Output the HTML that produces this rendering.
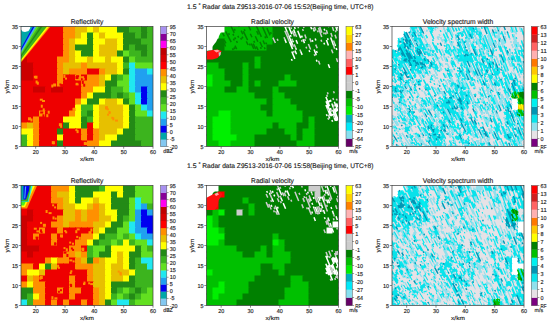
<!DOCTYPE html>
<html><head><meta charset="utf-8"><style>
html,body{margin:0;padding:0;background:#fff;width:550px;height:324px;overflow:hidden}
svg{display:block}
text{font-family:"Liberation Sans", sans-serif;fill:#1a1a1a;stroke:#1a1a1a;stroke-width:0.14px;text-rendering:geometricPrecision}
</style></head><body>
<svg width="550" height="324" viewBox="0 0 550 324">
<defs><filter id="bl" x="0" y="0" width="1" height="1"><feGaussianBlur stdDeviation="0.7"/></filter></defs>
<text x="187.00" y="8.60" font-size="6.7" text-anchor="start" textLength="9.6" lengthAdjust="spacingAndGlyphs">1.5</text>
<text x="198.40" y="6.60" font-size="5.2" text-anchor="start" >°</text>
<text x="202.30" y="8.60" font-size="6.7" text-anchor="start" textLength="171.2" lengthAdjust="spacingAndGlyphs">Radar data Z9513-2016-07-06 15:52(Beijing time, UTC+8)</text>
<clipPath id="clip00"><rect x="21.0" y="26.5" width="132.0" height="120.0"/></clipPath>
<g clip-path="url(#clip00)">
<g><rect x="17.0" y="22.5" width="47.0" height="11.0" fill="#ee0000"/>
<rect x="63.0" y="22.5" width="13.0" height="11.0" fill="#ff9000"/>
<rect x="75.0" y="22.5" width="13.0" height="11.0" fill="#e7c000"/>
<rect x="87.0" y="22.5" width="7.0" height="11.0" fill="#ffff00"/>
<rect x="93.0" y="22.5" width="7.0" height="11.0" fill="#e7c000"/>
<rect x="99.0" y="22.5" width="19.0" height="11.0" fill="#ffff00"/>
<rect x="117.0" y="22.5" width="13.0" height="11.0" fill="#238a16"/>
<rect x="129.0" y="22.5" width="13.0" height="11.0" fill="#3cb41e"/>
<rect x="141.0" y="22.5" width="7.0" height="11.0" fill="#238a16"/>
<rect x="147.0" y="22.5" width="10.0" height="11.0" fill="#3cb41e"/>
<rect x="17.0" y="32.5" width="47.0" height="7.0" fill="#ee0000"/>
<rect x="63.0" y="32.5" width="13.0" height="7.0" fill="#ff9000"/>
<rect x="75.0" y="32.5" width="7.0" height="7.0" fill="#e7c000"/>
<rect x="81.0" y="32.5" width="7.0" height="7.0" fill="#ffff00"/>
<rect x="87.0" y="32.5" width="7.0" height="7.0" fill="#238a16"/>
<rect x="93.0" y="32.5" width="7.0" height="7.0" fill="#ffff00"/>
<rect x="99.0" y="32.5" width="7.0" height="7.0" fill="#e7c000"/>
<rect x="105.0" y="32.5" width="19.0" height="7.0" fill="#ffff00"/>
<rect x="123.0" y="32.5" width="13.0" height="7.0" fill="#238a16"/>
<rect x="135.0" y="32.5" width="7.0" height="7.0" fill="#3cb41e"/>
<rect x="141.0" y="32.5" width="7.0" height="7.0" fill="#238a16"/>
<rect x="147.0" y="32.5" width="10.0" height="7.0" fill="#3cb41e"/>
<rect x="17.0" y="38.5" width="47.0" height="7.0" fill="#ee0000"/>
<rect x="63.0" y="38.5" width="7.0" height="7.0" fill="#ff9000"/>
<rect x="69.0" y="38.5" width="7.0" height="7.0" fill="#e7c000"/>
<rect x="75.0" y="38.5" width="13.0" height="7.0" fill="#ffff00"/>
<rect x="87.0" y="38.5" width="7.0" height="7.0" fill="#238a16"/>
<rect x="93.0" y="38.5" width="13.0" height="7.0" fill="#ffff00"/>
<rect x="105.0" y="38.5" width="13.0" height="7.0" fill="#e7c000"/>
<rect x="117.0" y="38.5" width="7.0" height="7.0" fill="#ffff00"/>
<rect x="123.0" y="38.5" width="19.0" height="7.0" fill="#238a16"/>
<rect x="141.0" y="38.5" width="16.0" height="7.0" fill="#3cb41e"/>
<rect x="17.0" y="44.5" width="47.0" height="7.0" fill="#ee0000"/>
<rect x="63.0" y="44.5" width="7.0" height="7.0" fill="#ff9000"/>
<rect x="69.0" y="44.5" width="7.0" height="7.0" fill="#e7c000"/>
<rect x="75.0" y="44.5" width="19.0" height="7.0" fill="#238a16"/>
<rect x="93.0" y="44.5" width="7.0" height="7.0" fill="#ffff00"/>
<rect x="99.0" y="44.5" width="19.0" height="7.0" fill="#e7c000"/>
<rect x="117.0" y="44.5" width="7.0" height="7.0" fill="#ffff00"/>
<rect x="123.0" y="44.5" width="7.0" height="7.0" fill="#238a16"/>
<rect x="129.0" y="44.5" width="7.0" height="7.0" fill="#3cb41e"/>
<rect x="135.0" y="44.5" width="13.0" height="7.0" fill="#238a16"/>
<rect x="147.0" y="44.5" width="10.0" height="7.0" fill="#3cb41e"/>
<rect x="17.0" y="50.5" width="47.0" height="7.0" fill="#ee0000"/>
<rect x="63.0" y="50.5" width="7.0" height="7.0" fill="#ff9000"/>
<rect x="69.0" y="50.5" width="7.0" height="7.0" fill="#e7c000"/>
<rect x="75.0" y="50.5" width="7.0" height="7.0" fill="#ffff00"/>
<rect x="81.0" y="50.5" width="13.0" height="7.0" fill="#238a16"/>
<rect x="93.0" y="50.5" width="7.0" height="7.0" fill="#ffff00"/>
<rect x="99.0" y="50.5" width="19.0" height="7.0" fill="#e7c000"/>
<rect x="117.0" y="50.5" width="7.0" height="7.0" fill="#238a16"/>
<rect x="123.0" y="50.5" width="7.0" height="7.0" fill="#62e020"/>
<rect x="129.0" y="50.5" width="13.0" height="7.0" fill="#3cb41e"/>
<rect x="141.0" y="50.5" width="7.0" height="7.0" fill="#238a16"/>
<rect x="147.0" y="50.5" width="10.0" height="7.0" fill="#3cb41e"/>
<rect x="17.0" y="56.5" width="11.0" height="7.0" fill="#cc0000"/>
<rect x="27.0" y="56.5" width="31.0" height="7.0" fill="#ee0000"/>
<rect x="57.0" y="56.5" width="13.0" height="7.0" fill="#ff9000"/>
<rect x="69.0" y="56.5" width="7.0" height="7.0" fill="#e7c000"/>
<rect x="75.0" y="56.5" width="13.0" height="7.0" fill="#ffff00"/>
<rect x="87.0" y="56.5" width="7.0" height="7.0" fill="#e7c000"/>
<rect x="93.0" y="56.5" width="13.0" height="7.0" fill="#ffff00"/>
<rect x="105.0" y="56.5" width="7.0" height="7.0" fill="#e7c000"/>
<rect x="111.0" y="56.5" width="13.0" height="7.0" fill="#ffff00"/>
<rect x="123.0" y="56.5" width="7.0" height="7.0" fill="#238a16"/>
<rect x="129.0" y="56.5" width="7.0" height="7.0" fill="#62e020"/>
<rect x="135.0" y="56.5" width="22.0" height="7.0" fill="#3cb41e"/>
<rect x="17.0" y="62.5" width="17.0" height="7.0" fill="#cc0000"/>
<rect x="33.0" y="62.5" width="25.0" height="7.0" fill="#ee0000"/>
<rect x="57.0" y="62.5" width="7.0" height="7.0" fill="#ff9000"/>
<rect x="63.0" y="62.5" width="19.0" height="7.0" fill="#e7c000"/>
<rect x="81.0" y="62.5" width="7.0" height="7.0" fill="#ff9000"/>
<rect x="87.0" y="62.5" width="31.0" height="7.0" fill="#e7c000"/>
<rect x="117.0" y="62.5" width="7.0" height="7.0" fill="#ffff00"/>
<rect x="123.0" y="62.5" width="7.0" height="7.0" fill="#3cb41e"/>
<rect x="129.0" y="62.5" width="7.0" height="7.0" fill="#20e8f0"/>
<rect x="135.0" y="62.5" width="22.0" height="7.0" fill="#62e020"/>
<rect x="17.0" y="68.5" width="17.0" height="7.0" fill="#cc0000"/>
<rect x="33.0" y="68.5" width="25.0" height="7.0" fill="#ee0000"/>
<rect x="57.0" y="68.5" width="7.0" height="7.0" fill="#ff9000"/>
<rect x="63.0" y="68.5" width="7.0" height="7.0" fill="#e7c000"/>
<rect x="69.0" y="68.5" width="19.0" height="7.0" fill="#ff9000"/>
<rect x="87.0" y="68.5" width="13.0" height="7.0" fill="#ee0000"/>
<rect x="99.0" y="68.5" width="7.0" height="7.0" fill="#ff9000"/>
<rect x="105.0" y="68.5" width="13.0" height="7.0" fill="#e7c000"/>
<rect x="117.0" y="68.5" width="7.0" height="7.0" fill="#ffff00"/>
<rect x="123.0" y="68.5" width="7.0" height="7.0" fill="#238a16"/>
<rect x="129.0" y="68.5" width="7.0" height="7.0" fill="#20e8f0"/>
<rect x="135.0" y="68.5" width="13.0" height="7.0" fill="#20a0f0"/>
<rect x="147.0" y="68.5" width="10.0" height="7.0" fill="#20e8f0"/>
<rect x="17.0" y="74.5" width="17.0" height="7.0" fill="#cc0000"/>
<rect x="33.0" y="74.5" width="7.0" height="7.0" fill="#ee0000"/>
<rect x="39.0" y="74.5" width="19.0" height="7.0" fill="#ee0000"/>
<rect x="57.0" y="74.5" width="7.0" height="7.0" fill="#ff9000"/>
<rect x="63.0" y="74.5" width="7.0" height="7.0" fill="#ee0000"/>
<rect x="69.0" y="74.5" width="7.0" height="7.0" fill="#ee0000"/>
<rect x="75.0" y="74.5" width="7.0" height="7.0" fill="#ff9000"/>
<rect x="81.0" y="74.5" width="7.0" height="7.0" fill="#ee0000"/>
<rect x="87.0" y="74.5" width="13.0" height="7.0" fill="#ff9000"/>
<rect x="99.0" y="74.5" width="7.0" height="7.0" fill="#e7c000"/>
<rect x="105.0" y="74.5" width="7.0" height="7.0" fill="#ffff00"/>
<rect x="111.0" y="74.5" width="7.0" height="7.0" fill="#238a16"/>
<rect x="117.0" y="74.5" width="7.0" height="7.0" fill="#3cb41e"/>
<rect x="123.0" y="74.5" width="7.0" height="7.0" fill="#62e020"/>
<rect x="129.0" y="74.5" width="7.0" height="7.0" fill="#20e8f0"/>
<rect x="135.0" y="74.5" width="22.0" height="7.0" fill="#20a0f0"/>
<rect x="17.0" y="80.5" width="17.0" height="7.0" fill="#ee0000"/>
<rect x="33.0" y="80.5" width="7.0" height="7.0" fill="#ee0000"/>
<rect x="39.0" y="80.5" width="13.0" height="7.0" fill="#ee0000"/>
<rect x="51.0" y="80.5" width="7.0" height="7.0" fill="#ee0000"/>
<rect x="57.0" y="80.5" width="7.0" height="7.0" fill="#ff9000"/>
<rect x="63.0" y="80.5" width="13.0" height="7.0" fill="#ee0000"/>
<rect x="75.0" y="80.5" width="7.0" height="7.0" fill="#ee0000"/>
<rect x="81.0" y="80.5" width="7.0" height="7.0" fill="#ff9000"/>
<rect x="87.0" y="80.5" width="13.0" height="7.0" fill="#ff9000"/>
<rect x="99.0" y="80.5" width="7.0" height="7.0" fill="#e7c000"/>
<rect x="105.0" y="80.5" width="13.0" height="7.0" fill="#238a16"/>
<rect x="117.0" y="80.5" width="13.0" height="7.0" fill="#62e020"/>
<rect x="129.0" y="80.5" width="7.0" height="7.0" fill="#20e8f0"/>
<rect x="135.0" y="80.5" width="22.0" height="7.0" fill="#20a0f0"/>
<rect x="17.0" y="86.5" width="17.0" height="7.0" fill="#ee0000"/>
<rect x="33.0" y="86.5" width="13.0" height="7.0" fill="#cc0000"/>
<rect x="45.0" y="86.5" width="7.0" height="7.0" fill="#ee0000"/>
<rect x="51.0" y="86.5" width="13.0" height="7.0" fill="#cc0000"/>
<rect x="63.0" y="86.5" width="19.0" height="7.0" fill="#ee0000"/>
<rect x="81.0" y="86.5" width="13.0" height="7.0" fill="#ff9000"/>
<rect x="93.0" y="86.5" width="13.0" height="7.0" fill="#ffff00"/>
<rect x="105.0" y="86.5" width="7.0" height="7.0" fill="#238a16"/>
<rect x="111.0" y="86.5" width="13.0" height="7.0" fill="#3cb41e"/>
<rect x="123.0" y="86.5" width="7.0" height="7.0" fill="#62e020"/>
<rect x="129.0" y="86.5" width="7.0" height="7.0" fill="#20e8f0"/>
<rect x="135.0" y="86.5" width="7.0" height="7.0" fill="#20a0f0"/>
<rect x="141.0" y="86.5" width="7.0" height="7.0" fill="#0000f0"/>
<rect x="147.0" y="86.5" width="10.0" height="7.0" fill="#20a0f0"/>
<rect x="17.0" y="92.5" width="65.0" height="7.0" fill="#ee0000"/>
<rect x="81.0" y="92.5" width="7.0" height="7.0" fill="#ff9000"/>
<rect x="87.0" y="92.5" width="7.0" height="7.0" fill="#ffff00"/>
<rect x="93.0" y="92.5" width="19.0" height="7.0" fill="#238a16"/>
<rect x="111.0" y="92.5" width="7.0" height="7.0" fill="#3cb41e"/>
<rect x="117.0" y="92.5" width="7.0" height="7.0" fill="#238a16"/>
<rect x="123.0" y="92.5" width="7.0" height="7.0" fill="#3cb41e"/>
<rect x="129.0" y="92.5" width="7.0" height="7.0" fill="#62e020"/>
<rect x="135.0" y="92.5" width="7.0" height="7.0" fill="#20e8f0"/>
<rect x="141.0" y="92.5" width="7.0" height="7.0" fill="#0000f0"/>
<rect x="147.0" y="92.5" width="10.0" height="7.0" fill="#20a0f0"/>
<rect x="17.0" y="98.5" width="23.0" height="7.0" fill="#ee0000"/>
<rect x="39.0" y="98.5" width="7.0" height="7.0" fill="#ee0000"/>
<rect x="45.0" y="98.5" width="31.0" height="7.0" fill="#ee0000"/>
<rect x="75.0" y="98.5" width="7.0" height="7.0" fill="#ff9000"/>
<rect x="81.0" y="98.5" width="7.0" height="7.0" fill="#ffff00"/>
<rect x="87.0" y="98.5" width="13.0" height="7.0" fill="#238a16"/>
<rect x="99.0" y="98.5" width="7.0" height="7.0" fill="#ffff00"/>
<rect x="105.0" y="98.5" width="13.0" height="7.0" fill="#e7c000"/>
<rect x="117.0" y="98.5" width="7.0" height="7.0" fill="#ffff00"/>
<rect x="123.0" y="98.5" width="7.0" height="7.0" fill="#238a16"/>
<rect x="129.0" y="98.5" width="7.0" height="7.0" fill="#62e020"/>
<rect x="135.0" y="98.5" width="7.0" height="7.0" fill="#20e8f0"/>
<rect x="141.0" y="98.5" width="7.0" height="7.0" fill="#0000f0"/>
<rect x="147.0" y="98.5" width="10.0" height="7.0" fill="#20a0f0"/>
<rect x="17.0" y="104.5" width="23.0" height="7.0" fill="#ee0000"/>
<rect x="39.0" y="104.5" width="7.0" height="7.0" fill="#ee0000"/>
<rect x="45.0" y="104.5" width="25.0" height="7.0" fill="#ee0000"/>
<rect x="69.0" y="104.5" width="7.0" height="7.0" fill="#ee0000"/>
<rect x="75.0" y="104.5" width="7.0" height="7.0" fill="#ffff00"/>
<rect x="81.0" y="104.5" width="13.0" height="7.0" fill="#3cb41e"/>
<rect x="93.0" y="104.5" width="7.0" height="7.0" fill="#ffff00"/>
<rect x="99.0" y="104.5" width="7.0" height="7.0" fill="#e7c000"/>
<rect x="105.0" y="104.5" width="7.0" height="7.0" fill="#e7c000"/>
<rect x="111.0" y="104.5" width="13.0" height="7.0" fill="#e7c000"/>
<rect x="123.0" y="104.5" width="7.0" height="7.0" fill="#ffff00"/>
<rect x="129.0" y="104.5" width="7.0" height="7.0" fill="#238a16"/>
<rect x="135.0" y="104.5" width="7.0" height="7.0" fill="#62e020"/>
<rect x="141.0" y="104.5" width="7.0" height="7.0" fill="#20e8f0"/>
<rect x="147.0" y="104.5" width="10.0" height="7.0" fill="#20a0f0"/>
<rect x="17.0" y="110.5" width="23.0" height="7.0" fill="#ee0000"/>
<rect x="39.0" y="110.5" width="7.0" height="7.0" fill="#ff9000"/>
<rect x="45.0" y="110.5" width="7.0" height="7.0" fill="#ee0000"/>
<rect x="51.0" y="110.5" width="19.0" height="7.0" fill="#ee0000"/>
<rect x="69.0" y="110.5" width="7.0" height="7.0" fill="#ff9000"/>
<rect x="75.0" y="110.5" width="7.0" height="7.0" fill="#ffff00"/>
<rect x="81.0" y="110.5" width="7.0" height="7.0" fill="#3cb41e"/>
<rect x="87.0" y="110.5" width="7.0" height="7.0" fill="#238a16"/>
<rect x="93.0" y="110.5" width="7.0" height="7.0" fill="#ffff00"/>
<rect x="99.0" y="110.5" width="7.0" height="7.0" fill="#e7c000"/>
<rect x="105.0" y="110.5" width="7.0" height="7.0" fill="#e7c000"/>
<rect x="111.0" y="110.5" width="13.0" height="7.0" fill="#e7c000"/>
<rect x="123.0" y="110.5" width="7.0" height="7.0" fill="#ffff00"/>
<rect x="129.0" y="110.5" width="7.0" height="7.0" fill="#238a16"/>
<rect x="135.0" y="110.5" width="13.0" height="7.0" fill="#62e020"/>
<rect x="147.0" y="110.5" width="10.0" height="7.0" fill="#20e8f0"/>
<rect x="17.0" y="116.5" width="11.0" height="7.0" fill="#ee0000"/>
<rect x="27.0" y="116.5" width="7.0" height="7.0" fill="#ee0000"/>
<rect x="33.0" y="116.5" width="7.0" height="7.0" fill="#ff9000"/>
<rect x="39.0" y="116.5" width="25.0" height="7.0" fill="#ee0000"/>
<rect x="63.0" y="116.5" width="19.0" height="7.0" fill="#ffff00"/>
<rect x="81.0" y="116.5" width="7.0" height="7.0" fill="#238a16"/>
<rect x="87.0" y="116.5" width="7.0" height="7.0" fill="#3cb41e"/>
<rect x="93.0" y="116.5" width="7.0" height="7.0" fill="#ffff00"/>
<rect x="99.0" y="116.5" width="13.0" height="7.0" fill="#e7c000"/>
<rect x="111.0" y="116.5" width="7.0" height="7.0" fill="#e7c000"/>
<rect x="117.0" y="116.5" width="7.0" height="7.0" fill="#e7c000"/>
<rect x="123.0" y="116.5" width="7.0" height="7.0" fill="#ffff00"/>
<rect x="129.0" y="116.5" width="7.0" height="7.0" fill="#238a16"/>
<rect x="135.0" y="116.5" width="22.0" height="7.0" fill="#3cb41e"/>
<rect x="17.0" y="122.5" width="11.0" height="7.0" fill="#ff9000"/>
<rect x="27.0" y="122.5" width="7.0" height="7.0" fill="#e7c000"/>
<rect x="33.0" y="122.5" width="7.0" height="7.0" fill="#ff9000"/>
<rect x="39.0" y="122.5" width="19.0" height="7.0" fill="#ee0000"/>
<rect x="57.0" y="122.5" width="7.0" height="7.0" fill="#ee0000"/>
<rect x="63.0" y="122.5" width="7.0" height="7.0" fill="#238a16"/>
<rect x="69.0" y="122.5" width="13.0" height="7.0" fill="#ffff00"/>
<rect x="81.0" y="122.5" width="7.0" height="7.0" fill="#238a16"/>
<rect x="87.0" y="122.5" width="7.0" height="7.0" fill="#ee0000"/>
<rect x="93.0" y="122.5" width="7.0" height="7.0" fill="#ffff00"/>
<rect x="99.0" y="122.5" width="25.0" height="7.0" fill="#e7c000"/>
<rect x="123.0" y="122.5" width="7.0" height="7.0" fill="#ffff00"/>
<rect x="129.0" y="122.5" width="7.0" height="7.0" fill="#238a16"/>
<rect x="135.0" y="122.5" width="22.0" height="7.0" fill="#3cb41e"/>
<rect x="17.0" y="128.5" width="17.0" height="7.0" fill="#ffff00"/>
<rect x="33.0" y="128.5" width="7.0" height="7.0" fill="#ff9000"/>
<rect x="39.0" y="128.5" width="19.0" height="7.0" fill="#ee0000"/>
<rect x="57.0" y="128.5" width="7.0" height="7.0" fill="#238a16"/>
<rect x="63.0" y="128.5" width="13.0" height="7.0" fill="#ee0000"/>
<rect x="75.0" y="128.5" width="7.0" height="7.0" fill="#ee0000"/>
<rect x="81.0" y="128.5" width="7.0" height="7.0" fill="#ff9000"/>
<rect x="87.0" y="128.5" width="7.0" height="7.0" fill="#ee0000"/>
<rect x="93.0" y="128.5" width="7.0" height="7.0" fill="#ff9000"/>
<rect x="99.0" y="128.5" width="19.0" height="7.0" fill="#e7c000"/>
<rect x="117.0" y="128.5" width="7.0" height="7.0" fill="#ffff00"/>
<rect x="123.0" y="128.5" width="13.0" height="7.0" fill="#238a16"/>
<rect x="135.0" y="128.5" width="22.0" height="7.0" fill="#3cb41e"/>
<rect x="17.0" y="134.5" width="11.0" height="7.0" fill="#3cb41e"/>
<rect x="27.0" y="134.5" width="7.0" height="7.0" fill="#ffff00"/>
<rect x="33.0" y="134.5" width="7.0" height="7.0" fill="#ff9000"/>
<rect x="39.0" y="134.5" width="19.0" height="7.0" fill="#ee0000"/>
<rect x="57.0" y="134.5" width="7.0" height="7.0" fill="#ffff00"/>
<rect x="63.0" y="134.5" width="19.0" height="7.0" fill="#ee0000"/>
<rect x="81.0" y="134.5" width="7.0" height="7.0" fill="#ff9000"/>
<rect x="87.0" y="134.5" width="7.0" height="7.0" fill="#ee0000"/>
<rect x="93.0" y="134.5" width="7.0" height="7.0" fill="#ff9000"/>
<rect x="99.0" y="134.5" width="7.0" height="7.0" fill="#e7c000"/>
<rect x="105.0" y="134.5" width="13.0" height="7.0" fill="#ffff00"/>
<rect x="117.0" y="134.5" width="19.0" height="7.0" fill="#238a16"/>
<rect x="135.0" y="134.5" width="22.0" height="7.0" fill="#3cb41e"/>
<rect x="17.0" y="140.5" width="11.0" height="10.0" fill="#3cb41e"/>
<rect x="27.0" y="140.5" width="7.0" height="10.0" fill="#ffff00"/>
<rect x="33.0" y="140.5" width="7.0" height="10.0" fill="#ff9000"/>
<rect x="39.0" y="140.5" width="13.0" height="10.0" fill="#ee0000"/>
<rect x="51.0" y="140.5" width="7.0" height="10.0" fill="#ee0000"/>
<rect x="57.0" y="140.5" width="7.0" height="10.0" fill="#238a16"/>
<rect x="63.0" y="140.5" width="19.0" height="10.0" fill="#ee0000"/>
<rect x="81.0" y="140.5" width="7.0" height="10.0" fill="#ee0000"/>
<rect x="87.0" y="140.5" width="13.0" height="10.0" fill="#ff9000"/>
<rect x="99.0" y="140.5" width="13.0" height="10.0" fill="#ffff00"/>
<rect x="111.0" y="140.5" width="31.0" height="10.0" fill="#238a16"/>
<rect x="141.0" y="140.5" width="16.0" height="10.0" fill="#3cb41e"/>
<rect x="33.9" y="75.9" width="2" height="2" fill="#ff9000"/>
<rect x="34.5" y="75.7" width="3" height="3" fill="#ff9000"/>
<rect x="63.4" y="74.9" width="2" height="3" fill="#ff9000"/>
<rect x="65.0" y="77.6" width="2" height="2" fill="#ff9000"/>
<rect x="76.1" y="75.2" width="3" height="2" fill="#ee0000"/>
<rect x="75.5" y="76.0" width="3" height="3" fill="#ee0000"/>
<rect x="81.1" y="76.2" width="3" height="2" fill="#ff9000"/>
<rect x="82.7" y="77.9" width="2" height="2" fill="#ff9000"/>
<rect x="35.6" y="80.5" width="2" height="3" fill="#ff9000"/>
<rect x="36.8" y="81.7" width="2" height="3" fill="#ff9000"/>
<rect x="53.1" y="83.5" width="3" height="3" fill="#ff9000"/>
<rect x="51.3" y="84.5" width="2" height="3" fill="#ff9000"/>
<rect x="60.3" y="84.1" width="3" height="3" fill="#ee0000"/>
<rect x="59.4" y="83.5" width="2" height="2" fill="#ee0000"/>
<rect x="75.6" y="83.4" width="3" height="2" fill="#ff9000"/>
<rect x="75.8" y="82.8" width="2" height="2" fill="#ff9000"/>
<rect x="81.8" y="80.9" width="2" height="3" fill="#ee0000"/>
<rect x="83.2" y="83.7" width="2" height="3" fill="#ee0000"/>
<rect x="39.8" y="98.7" width="3" height="2" fill="#ff9000"/>
<rect x="42.0" y="100.0" width="3" height="2" fill="#ff9000"/>
<rect x="42.7" y="108.4" width="2" height="3" fill="#ff9000"/>
<rect x="40.8" y="104.7" width="2" height="3" fill="#ff9000"/>
<rect x="73.0" y="107.8" width="2" height="2" fill="#ff9000"/>
<rect x="72.5" y="107.9" width="3" height="3" fill="#ff9000"/>
<rect x="105.0" y="106.2" width="3" height="3" fill="#ff9000"/>
<rect x="105.6" y="106.7" width="2" height="3" fill="#ff9000"/>
<rect x="106.9" y="108.3" width="2" height="2" fill="#ff9000"/>
<rect x="40.2" y="111.5" width="3" height="2" fill="#ee0000"/>
<rect x="42.4" y="114.3" width="2" height="3" fill="#ee0000"/>
<rect x="47.7" y="110.7" width="2" height="3" fill="#ff9000"/>
<rect x="46.3" y="114.2" width="2" height="3" fill="#ff9000"/>
<rect x="108.5" y="111.0" width="2" height="2" fill="#ff9000"/>
<rect x="108.6" y="112.0" width="2" height="2" fill="#ff9000"/>
<rect x="107.1" y="113.7" width="2" height="2" fill="#ff9000"/>
<rect x="28.0" y="117.3" width="3" height="3" fill="#ff9000"/>
<rect x="30.5" y="118.5" width="2" height="3" fill="#ff9000"/>
<rect x="115.0" y="119.6" width="3" height="2" fill="#ff9000"/>
<rect x="111.3" y="116.8" width="2" height="2" fill="#ff9000"/>
<rect x="112.3" y="117.3" width="2" height="3" fill="#ff9000"/>
<rect x="58.9" y="123.2" width="3" height="3" fill="#ff9000"/>
<rect x="60.1" y="124.8" width="2" height="3" fill="#ff9000"/>
<rect x="75.4" y="129.1" width="2" height="2" fill="#ff9000"/>
<rect x="76.6" y="130.1" width="2" height="3" fill="#ff9000"/>
<rect x="52.6" y="142.3" width="2" height="2" fill="#ff9000"/>
<rect x="51.8" y="141.1" width="3" height="3" fill="#ff9000"/>
<rect x="83.8" y="141.9" width="3" height="3" fill="#ff9000"/>
<rect x="84.1" y="143.0" width="3" height="2" fill="#ff9000"/><g transform="translate(21.0,26.5)"><polygon fill="#ff9000" points="-3,-3 31.96,-3 -3,39.66"/><polygon fill="#ffff00" points="-3,-3 30.40,-3 -3,38.75"/><polygon fill="#3cb41e" points="-3,-3 28.36,-3 -3,36.81"/><polygon fill="#238a16" points="-3,-3 23.61,-3 -3,34.76"/><polygon fill="#3cb41e" points="-3,-3 21.52,-3 -3,33.46"/><polygon fill="#62e020" points="-3,-3 19.39,-3 -3,32.57"/><polygon fill="#40b0f0" points="-3,-3 17.25,-3 -3,31.63"/><polygon fill="#0000f0" points="-3,-3 15.19,-3 -3,29.33"/><polygon fill="#00a8a8" points="-3,-3 13.64,-3 -3,27.50"/><polygon fill="#ffffff" points="-2,-2 10,-2 9,2 7.5,4.5 4,5.5 1.5,5 0,3 -2,3"/></g></g>
</g>
<rect x="21.0" y="26.5" width="132.0" height="120.0" fill="none" stroke="#3a3a3a" stroke-width="0.7"/>
<text x="87.00" y="23.80" font-size="6.8" text-anchor="middle" textLength="32.66" lengthAdjust="spacingAndGlyphs" >Reflectivity</text>
<line x1="35.67" y1="146.5" x2="35.67" y2="148.7" stroke="#3a3a3a" stroke-width="0.6"/>
<text x="35.67" y="153.60" font-size="5.7" text-anchor="middle" textLength="6.04" lengthAdjust="spacingAndGlyphs" >20</text>
<line x1="65.00" y1="146.5" x2="65.00" y2="148.7" stroke="#3a3a3a" stroke-width="0.6"/>
<text x="65.00" y="153.60" font-size="5.7" text-anchor="middle" textLength="6.04" lengthAdjust="spacingAndGlyphs" >30</text>
<line x1="94.33" y1="146.5" x2="94.33" y2="148.7" stroke="#3a3a3a" stroke-width="0.6"/>
<text x="94.33" y="153.60" font-size="5.7" text-anchor="middle" textLength="6.04" lengthAdjust="spacingAndGlyphs" >40</text>
<line x1="123.67" y1="146.5" x2="123.67" y2="148.7" stroke="#3a3a3a" stroke-width="0.6"/>
<text x="123.67" y="153.60" font-size="5.7" text-anchor="middle" textLength="6.04" lengthAdjust="spacingAndGlyphs" >50</text>
<line x1="153.00" y1="146.5" x2="153.00" y2="148.7" stroke="#3a3a3a" stroke-width="0.6"/>
<text x="153.00" y="153.60" font-size="5.7" text-anchor="middle" textLength="6.04" lengthAdjust="spacingAndGlyphs" >60</text>
<text x="87.00" y="161.40" font-size="5.7" text-anchor="middle" textLength="13.80" lengthAdjust="spacingAndGlyphs" >x/km</text>
<line x1="18.80" y1="146.50" x2="21.0" y2="146.50" stroke="#3a3a3a" stroke-width="0.6"/>
<text x="18.00" y="148.50" font-size="5.7" text-anchor="end" textLength="3.02" lengthAdjust="spacingAndGlyphs" >5</text>
<line x1="18.80" y1="126.50" x2="21.0" y2="126.50" stroke="#3a3a3a" stroke-width="0.6"/>
<text x="18.00" y="128.50" font-size="5.7" text-anchor="end" textLength="6.04" lengthAdjust="spacingAndGlyphs" >10</text>
<line x1="18.80" y1="106.50" x2="21.0" y2="106.50" stroke="#3a3a3a" stroke-width="0.6"/>
<text x="18.00" y="108.50" font-size="5.7" text-anchor="end" textLength="6.04" lengthAdjust="spacingAndGlyphs" >15</text>
<line x1="18.80" y1="86.50" x2="21.0" y2="86.50" stroke="#3a3a3a" stroke-width="0.6"/>
<text x="18.00" y="88.50" font-size="5.7" text-anchor="end" textLength="6.04" lengthAdjust="spacingAndGlyphs" >20</text>
<line x1="18.80" y1="66.50" x2="21.0" y2="66.50" stroke="#3a3a3a" stroke-width="0.6"/>
<text x="18.00" y="68.50" font-size="5.7" text-anchor="end" textLength="6.04" lengthAdjust="spacingAndGlyphs" >25</text>
<line x1="18.80" y1="46.50" x2="21.0" y2="46.50" stroke="#3a3a3a" stroke-width="0.6"/>
<text x="18.00" y="48.50" font-size="5.7" text-anchor="end" textLength="6.04" lengthAdjust="spacingAndGlyphs" >30</text>
<line x1="18.80" y1="26.50" x2="21.0" y2="26.50" stroke="#3a3a3a" stroke-width="0.6"/>
<text x="18.00" y="28.50" font-size="5.7" text-anchor="end" textLength="6.04" lengthAdjust="spacingAndGlyphs" >35</text>
<text x="0.00" y="0.00" font-size="5.7" text-anchor="middle" textLength="13.80" lengthAdjust="spacingAndGlyphs" transform="translate(8.70,86.50) rotate(-90)">y/km</text>
<rect x="160.5" y="139.44" width="6.3" height="7.31" fill="#84c8f0"/>
<rect x="160.5" y="132.38" width="6.3" height="7.31" fill="#00a8a8"/>
<rect x="160.5" y="125.32" width="6.3" height="7.31" fill="#0000f0"/>
<rect x="160.5" y="118.26" width="6.3" height="7.31" fill="#20a0f0"/>
<rect x="160.5" y="111.21" width="6.3" height="7.31" fill="#20e8f0"/>
<rect x="160.5" y="104.15" width="6.3" height="7.31" fill="#62e020"/>
<rect x="160.5" y="97.09" width="6.3" height="7.31" fill="#3cb41e"/>
<rect x="160.5" y="90.03" width="6.3" height="7.31" fill="#238a16"/>
<rect x="160.5" y="82.97" width="6.3" height="7.31" fill="#ffff00"/>
<rect x="160.5" y="75.91" width="6.3" height="7.31" fill="#e7c000"/>
<rect x="160.5" y="68.85" width="6.3" height="7.31" fill="#ff9000"/>
<rect x="160.5" y="61.79" width="6.3" height="7.31" fill="#ff0000"/>
<rect x="160.5" y="54.74" width="6.3" height="7.31" fill="#d80000"/>
<rect x="160.5" y="47.68" width="6.3" height="7.31" fill="#c00000"/>
<rect x="160.5" y="40.62" width="6.3" height="7.31" fill="#ff00f0"/>
<rect x="160.5" y="33.56" width="6.3" height="7.31" fill="#880099"/>
<rect x="160.5" y="26.50" width="6.3" height="7.31" fill="#a890f0"/>
<rect x="160.5" y="26.5" width="6.3" height="120.0" fill="none" stroke="#555" stroke-width="0.5"/>
<line x1="166.8" y1="146.50" x2="168.60" y2="146.50" stroke="#3a3a3a" stroke-width="0.5"/>
<text x="169.80" y="148.50" font-size="5.7" text-anchor="start" textLength="7.76" lengthAdjust="spacingAndGlyphs" >-20</text>
<line x1="166.8" y1="139.44" x2="168.60" y2="139.44" stroke="#3a3a3a" stroke-width="0.5"/>
<text x="169.80" y="141.44" font-size="5.7" text-anchor="start" textLength="4.74" lengthAdjust="spacingAndGlyphs" >-5</text>
<line x1="166.8" y1="132.38" x2="168.60" y2="132.38" stroke="#3a3a3a" stroke-width="0.5"/>
<text x="169.80" y="134.38" font-size="5.7" text-anchor="start" textLength="3.02" lengthAdjust="spacingAndGlyphs" >0</text>
<line x1="166.8" y1="125.32" x2="168.60" y2="125.32" stroke="#3a3a3a" stroke-width="0.5"/>
<text x="169.80" y="127.32" font-size="5.7" text-anchor="start" textLength="3.02" lengthAdjust="spacingAndGlyphs" >5</text>
<line x1="166.8" y1="118.26" x2="168.60" y2="118.26" stroke="#3a3a3a" stroke-width="0.5"/>
<text x="169.80" y="120.26" font-size="5.7" text-anchor="start" textLength="6.04" lengthAdjust="spacingAndGlyphs" >10</text>
<line x1="166.8" y1="111.21" x2="168.60" y2="111.21" stroke="#3a3a3a" stroke-width="0.5"/>
<text x="169.80" y="113.21" font-size="5.7" text-anchor="start" textLength="6.04" lengthAdjust="spacingAndGlyphs" >15</text>
<line x1="166.8" y1="104.15" x2="168.60" y2="104.15" stroke="#3a3a3a" stroke-width="0.5"/>
<text x="169.80" y="106.15" font-size="5.7" text-anchor="start" textLength="6.04" lengthAdjust="spacingAndGlyphs" >20</text>
<line x1="166.8" y1="97.09" x2="168.60" y2="97.09" stroke="#3a3a3a" stroke-width="0.5"/>
<text x="169.80" y="99.09" font-size="5.7" text-anchor="start" textLength="6.04" lengthAdjust="spacingAndGlyphs" >25</text>
<line x1="166.8" y1="90.03" x2="168.60" y2="90.03" stroke="#3a3a3a" stroke-width="0.5"/>
<text x="169.80" y="92.03" font-size="5.7" text-anchor="start" textLength="6.04" lengthAdjust="spacingAndGlyphs" >30</text>
<line x1="166.8" y1="82.97" x2="168.60" y2="82.97" stroke="#3a3a3a" stroke-width="0.5"/>
<text x="169.80" y="84.97" font-size="5.7" text-anchor="start" textLength="6.04" lengthAdjust="spacingAndGlyphs" >35</text>
<line x1="166.8" y1="75.91" x2="168.60" y2="75.91" stroke="#3a3a3a" stroke-width="0.5"/>
<text x="169.80" y="77.91" font-size="5.7" text-anchor="start" textLength="6.04" lengthAdjust="spacingAndGlyphs" >40</text>
<line x1="166.8" y1="68.85" x2="168.60" y2="68.85" stroke="#3a3a3a" stroke-width="0.5"/>
<text x="169.80" y="70.85" font-size="5.7" text-anchor="start" textLength="6.04" lengthAdjust="spacingAndGlyphs" >45</text>
<line x1="166.8" y1="61.79" x2="168.60" y2="61.79" stroke="#3a3a3a" stroke-width="0.5"/>
<text x="169.80" y="63.79" font-size="5.7" text-anchor="start" textLength="6.04" lengthAdjust="spacingAndGlyphs" >50</text>
<line x1="166.8" y1="54.74" x2="168.60" y2="54.74" stroke="#3a3a3a" stroke-width="0.5"/>
<text x="169.80" y="56.74" font-size="5.7" text-anchor="start" textLength="6.04" lengthAdjust="spacingAndGlyphs" >55</text>
<line x1="166.8" y1="47.68" x2="168.60" y2="47.68" stroke="#3a3a3a" stroke-width="0.5"/>
<text x="169.80" y="49.68" font-size="5.7" text-anchor="start" textLength="6.04" lengthAdjust="spacingAndGlyphs" >60</text>
<line x1="166.8" y1="40.62" x2="168.60" y2="40.62" stroke="#3a3a3a" stroke-width="0.5"/>
<text x="169.80" y="42.62" font-size="5.7" text-anchor="start" textLength="6.04" lengthAdjust="spacingAndGlyphs" >65</text>
<line x1="166.8" y1="33.56" x2="168.60" y2="33.56" stroke="#3a3a3a" stroke-width="0.5"/>
<text x="169.80" y="35.56" font-size="5.7" text-anchor="start" textLength="6.04" lengthAdjust="spacingAndGlyphs" >70</text>
<line x1="166.8" y1="26.50" x2="168.60" y2="26.50" stroke="#3a3a3a" stroke-width="0.5"/>
<text x="169.80" y="28.50" font-size="5.7" text-anchor="start" textLength="6.04" lengthAdjust="spacingAndGlyphs" >95</text>
<text x="168.00" y="152.80" font-size="5.7" text-anchor="middle" textLength="9.43" lengthAdjust="spacingAndGlyphs" >dBZ</text>
<clipPath id="clip01"><rect x="206.5" y="26.5" width="132.0" height="120.0"/></clipPath>
<g clip-path="url(#clip01)">
<g><rect x="202.5" y="22.5" width="23.0" height="11.0" fill="#ffffff"/>
<rect x="224.5" y="22.5" width="49.0" height="11.0" fill="#00c000"/>
<rect x="272.5" y="22.5" width="13.0" height="11.0" fill="#008000"/>
<rect x="284.5" y="22.5" width="58.0" height="11.0" fill="#008000"/>
<rect x="202.5" y="32.5" width="17.0" height="7.0" fill="#ffffff"/>
<rect x="218.5" y="32.5" width="55.0" height="7.0" fill="#00c000"/>
<rect x="272.5" y="32.5" width="13.0" height="7.0" fill="#008000"/>
<rect x="284.5" y="32.5" width="7.0" height="7.0" fill="#008000"/>
<rect x="290.5" y="32.5" width="13.0" height="7.0" fill="#008000"/>
<rect x="302.5" y="32.5" width="7.0" height="7.0" fill="#008000"/>
<rect x="308.5" y="32.5" width="7.0" height="7.0" fill="#008000"/>
<rect x="314.5" y="32.5" width="7.0" height="7.0" fill="#008000"/>
<rect x="320.5" y="32.5" width="13.0" height="7.0" fill="#008000"/>
<rect x="332.5" y="32.5" width="10.0" height="7.0" fill="#008000"/>
<rect x="202.5" y="38.5" width="11.0" height="7.0" fill="#ffffff"/>
<rect x="212.5" y="38.5" width="13.0" height="7.0" fill="#008000"/>
<rect x="224.5" y="38.5" width="49.0" height="7.0" fill="#00c000"/>
<rect x="272.5" y="38.5" width="7.0" height="7.0" fill="#008000"/>
<rect x="278.5" y="38.5" width="7.0" height="7.0" fill="#008000"/>
<rect x="284.5" y="38.5" width="58.0" height="7.0" fill="#008000"/>
<rect x="202.5" y="44.5" width="11.0" height="7.0" fill="#ffffff"/>
<rect x="212.5" y="44.5" width="13.0" height="7.0" fill="#008000"/>
<rect x="224.5" y="44.5" width="43.0" height="7.0" fill="#00c000"/>
<rect x="266.5" y="44.5" width="19.0" height="7.0" fill="#008000"/>
<rect x="284.5" y="44.5" width="7.0" height="7.0" fill="#008000"/>
<rect x="290.5" y="44.5" width="13.0" height="7.0" fill="#008000"/>
<rect x="302.5" y="44.5" width="7.0" height="7.0" fill="#008000"/>
<rect x="308.5" y="44.5" width="34.0" height="7.0" fill="#008000"/>
<rect x="202.5" y="50.5" width="83.0" height="7.0" fill="#008000"/>
<rect x="284.5" y="50.5" width="31.0" height="7.0" fill="#008000"/>
<rect x="314.5" y="50.5" width="7.0" height="7.0" fill="#008000"/>
<rect x="320.5" y="50.5" width="22.0" height="7.0" fill="#008000"/>
<rect x="202.5" y="56.5" width="53.0" height="7.0" fill="#008000"/>
<rect x="254.5" y="56.5" width="7.0" height="7.0" fill="#00c000"/>
<rect x="260.5" y="56.5" width="31.0" height="7.0" fill="#008000"/>
<rect x="290.5" y="56.5" width="13.0" height="7.0" fill="#008000"/>
<rect x="302.5" y="56.5" width="7.0" height="7.0" fill="#008000"/>
<rect x="308.5" y="56.5" width="34.0" height="7.0" fill="#008000"/>
<rect x="202.5" y="62.5" width="17.0" height="7.0" fill="#00c000"/>
<rect x="218.5" y="62.5" width="25.0" height="7.0" fill="#008000"/>
<rect x="242.5" y="62.5" width="7.0" height="7.0" fill="#00c000"/>
<rect x="248.5" y="62.5" width="7.0" height="7.0" fill="#008000"/>
<rect x="254.5" y="62.5" width="7.0" height="7.0" fill="#00c000"/>
<rect x="260.5" y="62.5" width="55.0" height="7.0" fill="#008000"/>
<rect x="314.5" y="62.5" width="7.0" height="7.0" fill="#008000"/>
<rect x="320.5" y="62.5" width="7.0" height="7.0" fill="#008000"/>
<rect x="326.5" y="62.5" width="7.0" height="7.0" fill="#008000"/>
<rect x="332.5" y="62.5" width="10.0" height="7.0" fill="#008000"/>
<rect x="202.5" y="68.5" width="23.0" height="7.0" fill="#00c000"/>
<rect x="224.5" y="68.5" width="19.0" height="7.0" fill="#008000"/>
<rect x="242.5" y="68.5" width="7.0" height="7.0" fill="#00c000"/>
<rect x="248.5" y="68.5" width="94.0" height="7.0" fill="#008000"/>
<rect x="202.5" y="74.5" width="11.0" height="7.0" fill="#00f000"/>
<rect x="212.5" y="74.5" width="13.0" height="7.0" fill="#00c000"/>
<rect x="224.5" y="74.5" width="19.0" height="7.0" fill="#008000"/>
<rect x="242.5" y="74.5" width="7.0" height="7.0" fill="#00c000"/>
<rect x="248.5" y="74.5" width="37.0" height="7.0" fill="#008000"/>
<rect x="284.5" y="74.5" width="7.0" height="7.0" fill="#00c000"/>
<rect x="290.5" y="74.5" width="52.0" height="7.0" fill="#008000"/>
<rect x="202.5" y="80.5" width="11.0" height="7.0" fill="#00f000"/>
<rect x="212.5" y="80.5" width="19.0" height="7.0" fill="#00c000"/>
<rect x="230.5" y="80.5" width="13.0" height="7.0" fill="#008000"/>
<rect x="242.5" y="80.5" width="7.0" height="7.0" fill="#00c000"/>
<rect x="248.5" y="80.5" width="7.0" height="7.0" fill="#008000"/>
<rect x="254.5" y="80.5" width="7.0" height="7.0" fill="#00c000"/>
<rect x="260.5" y="80.5" width="19.0" height="7.0" fill="#008000"/>
<rect x="278.5" y="80.5" width="19.0" height="7.0" fill="#00c000"/>
<rect x="296.5" y="80.5" width="46.0" height="7.0" fill="#008000"/>
<rect x="202.5" y="86.5" width="23.0" height="7.0" fill="#00c000"/>
<rect x="224.5" y="86.5" width="13.0" height="7.0" fill="#008000"/>
<rect x="236.5" y="86.5" width="13.0" height="7.0" fill="#00c000"/>
<rect x="248.5" y="86.5" width="25.0" height="7.0" fill="#008000"/>
<rect x="272.5" y="86.5" width="7.0" height="7.0" fill="#00c000"/>
<rect x="278.5" y="86.5" width="64.0" height="7.0" fill="#008000"/>
<rect x="202.5" y="92.5" width="53.0" height="7.0" fill="#00c000"/>
<rect x="254.5" y="92.5" width="19.0" height="7.0" fill="#008000"/>
<rect x="272.5" y="92.5" width="13.0" height="7.0" fill="#00c000"/>
<rect x="284.5" y="92.5" width="43.0" height="7.0" fill="#008000"/>
<rect x="326.5" y="92.5" width="16.0" height="7.0" fill="#008000"/>
<rect x="202.5" y="98.5" width="65.0" height="7.0" fill="#00c000"/>
<rect x="266.5" y="98.5" width="7.0" height="7.0" fill="#008000"/>
<rect x="272.5" y="98.5" width="19.0" height="7.0" fill="#00c000"/>
<rect x="290.5" y="98.5" width="37.0" height="7.0" fill="#008000"/>
<rect x="326.5" y="98.5" width="7.0" height="7.0" fill="#008000"/>
<rect x="332.5" y="98.5" width="10.0" height="7.0" fill="#008000"/>
<rect x="202.5" y="104.5" width="59.0" height="7.0" fill="#00c000"/>
<rect x="260.5" y="104.5" width="13.0" height="7.0" fill="#008000"/>
<rect x="272.5" y="104.5" width="25.0" height="7.0" fill="#00c000"/>
<rect x="296.5" y="104.5" width="31.0" height="7.0" fill="#008000"/>
<rect x="326.5" y="104.5" width="16.0" height="7.0" fill="#008000"/>
<rect x="202.5" y="110.5" width="17.0" height="7.0" fill="#00c000"/>
<rect x="218.5" y="110.5" width="13.0" height="7.0" fill="#00f000"/>
<rect x="230.5" y="110.5" width="37.0" height="7.0" fill="#00c000"/>
<rect x="266.5" y="110.5" width="7.0" height="7.0" fill="#008000"/>
<rect x="272.5" y="110.5" width="31.0" height="7.0" fill="#00c000"/>
<rect x="302.5" y="110.5" width="25.0" height="7.0" fill="#008000"/>
<rect x="326.5" y="110.5" width="16.0" height="7.0" fill="#008000"/>
<rect x="202.5" y="116.5" width="11.0" height="7.0" fill="#00c000"/>
<rect x="212.5" y="116.5" width="19.0" height="7.0" fill="#00f000"/>
<rect x="230.5" y="116.5" width="73.0" height="7.0" fill="#00c000"/>
<rect x="302.5" y="116.5" width="7.0" height="7.0" fill="#008000"/>
<rect x="308.5" y="116.5" width="7.0" height="7.0" fill="#00c000"/>
<rect x="314.5" y="116.5" width="13.0" height="7.0" fill="#008000"/>
<rect x="326.5" y="116.5" width="7.0" height="7.0" fill="#008000"/>
<rect x="332.5" y="116.5" width="10.0" height="7.0" fill="#008000"/>
<rect x="202.5" y="122.5" width="11.0" height="7.0" fill="#00c000"/>
<rect x="212.5" y="122.5" width="19.0" height="7.0" fill="#00f000"/>
<rect x="230.5" y="122.5" width="43.0" height="7.0" fill="#00c000"/>
<rect x="272.5" y="122.5" width="7.0" height="7.0" fill="#008000"/>
<rect x="278.5" y="122.5" width="19.0" height="7.0" fill="#00c000"/>
<rect x="296.5" y="122.5" width="13.0" height="7.0" fill="#008000"/>
<rect x="308.5" y="122.5" width="7.0" height="7.0" fill="#00c000"/>
<rect x="314.5" y="122.5" width="28.0" height="7.0" fill="#008000"/>
<rect x="202.5" y="128.5" width="11.0" height="7.0" fill="#00c000"/>
<rect x="212.5" y="128.5" width="19.0" height="7.0" fill="#00f000"/>
<rect x="230.5" y="128.5" width="37.0" height="7.0" fill="#00c000"/>
<rect x="266.5" y="128.5" width="19.0" height="7.0" fill="#008000"/>
<rect x="284.5" y="128.5" width="13.0" height="7.0" fill="#00c000"/>
<rect x="296.5" y="128.5" width="7.0" height="7.0" fill="#008000"/>
<rect x="302.5" y="128.5" width="13.0" height="7.0" fill="#00c000"/>
<rect x="314.5" y="128.5" width="28.0" height="7.0" fill="#008000"/>
<rect x="202.5" y="134.5" width="11.0" height="7.0" fill="#00c000"/>
<rect x="212.5" y="134.5" width="25.0" height="7.0" fill="#00f000"/>
<rect x="236.5" y="134.5" width="19.0" height="7.0" fill="#00c000"/>
<rect x="254.5" y="134.5" width="37.0" height="7.0" fill="#008000"/>
<rect x="290.5" y="134.5" width="7.0" height="7.0" fill="#00c000"/>
<rect x="296.5" y="134.5" width="7.0" height="7.0" fill="#008000"/>
<rect x="302.5" y="134.5" width="13.0" height="7.0" fill="#00c000"/>
<rect x="314.5" y="134.5" width="28.0" height="7.0" fill="#008000"/>
<rect x="202.5" y="140.5" width="17.0" height="10.0" fill="#00c000"/>
<rect x="218.5" y="140.5" width="13.0" height="10.0" fill="#00f000"/>
<rect x="230.5" y="140.5" width="25.0" height="10.0" fill="#00c000"/>
<rect x="254.5" y="140.5" width="43.0" height="10.0" fill="#008000"/>
<rect x="296.5" y="140.5" width="19.0" height="10.0" fill="#00c000"/>
<rect x="314.5" y="140.5" width="28.0" height="10.0" fill="#008000"/><g transform="translate(206.5,26.5)"><polygon fill="#ffffff" points="-2,-2 17,-2 17,0 14.5,5.5 12.5,9.5 9.5,15.5 5.5,20.5 1.5,24 -2,24.5"/><polygon fill="#ff1010" points="0,25 6,23.5 11,23 15,24.5 14,28 11,31.5 6,33 0,33"/><polygon fill="#ffa0a0" points="7,23.8 11,23.2 13.5,24.5 10,26"/><polygon fill="#c8c8c8" points="12,26 14.5,25.5 14,28.5 12.5,30"/></g></g>
<path d="M225.6 46.5L223.8 42.9M226.0 43.4L224.1 39.8M224.3 36.4L222.5 32.8M233.3 50.1L232.4 48.3M234.8 49.2L233.9 47.4M231.2 42.1L225.7 31.4M236.7 49.1L234.9 45.6M229.5 34.9L228.6 33.1M234.3 40.5L233.4 38.7M237.4 42.8L236.5 41.0M235.6 39.2L234.7 37.4M233.8 35.6L232.9 33.8M229.3 26.7L228.4 24.9M234.3 32.8L230.7 25.6M238.7 37.7L237.8 35.9M235.2 30.6L234.3 28.8M241.6 39.7L240.7 37.9M242.9 38.4L242.1 36.6M248.1 45.0L246.3 41.4M242.8 34.2L241.1 30.6M239.3 27.0L238.4 25.2M250.3 45.5L249.4 43.7M247.6 40.1L243.3 31.1M253.8 48.9L251.2 43.5M245.1 30.9L244.2 29.1M255.8 49.1L253.2 43.7M258.1 50.0L256.3 46.3M254.6 42.7L253.8 40.9M252.0 37.3L250.3 33.7M250.7 30.4L248.1 25.0M261.3 48.9L260.4 47.1M257.9 41.7L255.3 36.2M262.4 47.3L259.9 41.9M265.1 49.1L264.3 47.3M258.4 34.6L256.7 31.0M264.7 44.2L263.0 40.5M261.4 36.9L256.3 26.0M266.6 44.3L265.8 42.5M265.7 38.2L264.9 36.4M267.5 38.0L262.6 27.1M270.1 35.4L266.9 28.1M271.3 33.9L270.5 32.1" stroke="#008000" stroke-width="1.5" fill="none"/>
<path d="M275.4 43.0L272.9 37.6M278.0 40.7L277.2 38.9M284.8 39.2L284.0 37.3M294.1 52.8L293.4 50.9M289.5 41.7L284.8 30.7M293.4 46.8L292.6 44.9M288.8 35.7L287.2 32.0M295.7 47.9L294.1 44.2M292.6 40.5L291.8 38.7M287.3 27.6L286.5 25.7M328.7 119.7L327.9 117.9M300.6 51.2L299.9 49.4M294.6 36.4L292.3 30.9M291.5 29.0L290.8 27.2M329.0 116.6L328.2 114.7M296.6 36.9L295.1 33.2M328.2 110.6L327.4 108.7M302.2 41.8L301.5 40.0M296.2 27.0L295.5 25.1M334.1 117.4L333.3 115.5M331.8 111.8L331.1 110.0M306.7 48.6L306.0 46.8M298.6 28.2L297.8 26.3M327.5 96.7L326.7 94.8M305.4 40.9L304.7 39.0M334.0 109.1L333.2 107.2M328.1 94.2L327.4 92.3M310.6 49.5L308.4 43.9M306.2 38.4L304.8 34.6M303.3 30.9L302.6 29.0M334.5 106.4L333.8 104.5M314.9 56.0L314.2 54.2M304.0 28.1L303.3 26.2M333.6 99.9L332.9 98.1M319.9 64.5L318.5 60.8M311.3 42.1L309.8 38.4M337.1 100.6L336.4 98.8M334.3 93.2L333.5 91.3M317.2 48.3L315.7 44.6M313.7 29.7L313.0 27.8M315.8 30.5L313.7 24.8M321.7 41.7L321.0 39.8M318.2 32.3L317.5 30.4M321.8 37.1L318.4 27.7M321.9 32.7L319.2 25.2M324.3 34.3L323.6 32.4M321.6 26.8L320.9 24.9M332.9 53.2L331.5 49.5M326.1 34.4L325.4 32.5M337.7 62.0L336.4 58.2M327.6 33.7L326.3 30.0M334.7 48.8L333.4 45.1M334.9 44.2L333.5 40.4M332.2 36.7L330.9 32.9M328.9 27.2L328.2 25.3M336.3 38.5L335.0 34.7M333.7 30.9L332.4 27.1M336.0 32.3L335.3 30.4M335.9 26.9L335.2 25.0" stroke="#cccccc" stroke-width="1.5" fill="none"/>
<path d="M292.2 60.8L291.4 59.0M286.3 42.9L284.8 39.2M294.9 58.9L291.8 51.5M292.6 49.1L289.5 41.7M296.5 54.2L295.0 50.5M292.6 44.9L288.8 35.7M287.2 32.0L284.9 26.5M296.4 49.7L295.7 47.9M293.4 42.3L292.6 40.5M291.1 36.8L290.3 35.0M291.8 34.1L288.0 24.8M327.1 116.0L326.4 114.2M302.2 54.9L300.6 51.2M297.6 43.8L296.1 40.1M329.7 118.4L329.0 116.6M295.1 33.2L293.6 29.5M332.6 121.7L331.9 119.9M330.4 116.2L328.2 110.6M327.4 108.7L325.9 105.0M295.2 29.0L294.5 27.1M331.9 116.1L326.0 101.2M300.7 38.1L297.7 30.7M335.5 121.1L334.1 117.4M333.3 115.5L332.6 113.7M331.1 110.0L330.4 108.1M329.6 106.2L325.9 96.9M304.5 43.1L303.0 39.3M302.3 37.5L301.5 35.6M337.0 120.9L332.6 109.7M329.7 102.3L328.9 100.4M309.8 52.1L309.1 50.2M338.3 120.3L334.0 109.1M333.2 107.2L331.8 103.5M331.0 101.7L330.3 99.8M336.7 111.9L335.2 108.2M317.1 61.6L316.3 59.8M337.9 111.1L334.3 101.8M316.3 55.2L314.1 49.6M338.0 107.1L336.5 103.4M317.2 52.9L316.5 51.1M312.9 41.7L312.2 39.9M315.9 40.4L315.2 38.5M311.7 29.2L310.3 25.4M314.4 31.6L313.7 29.7M329.7 68.0L328.3 64.2M324.6 44.6L323.9 42.8M328.4 45.6L326.4 40.0M328.1 40.0L327.5 38.2M324.8 30.6L324.1 28.8M333.4 45.1L330.7 37.5M336.8 49.9L336.2 48.0M335.5 46.1L334.9 44.2M337.2 30.7L335.9 26.9M338.2 28.5L336.9 24.7" stroke="#ffffff" stroke-width="1.5" fill="none"/>
</g>
<rect x="206.5" y="26.5" width="132.0" height="120.0" fill="none" stroke="#3a3a3a" stroke-width="0.7"/>
<text x="272.50" y="23.80" font-size="6.8" text-anchor="middle" textLength="42.79" lengthAdjust="spacingAndGlyphs" >Radial velocity</text>
<line x1="221.17" y1="146.5" x2="221.17" y2="148.7" stroke="#3a3a3a" stroke-width="0.6"/>
<text x="221.17" y="153.60" font-size="5.7" text-anchor="middle" textLength="6.04" lengthAdjust="spacingAndGlyphs" >20</text>
<line x1="250.50" y1="146.5" x2="250.50" y2="148.7" stroke="#3a3a3a" stroke-width="0.6"/>
<text x="250.50" y="153.60" font-size="5.7" text-anchor="middle" textLength="6.04" lengthAdjust="spacingAndGlyphs" >30</text>
<line x1="279.83" y1="146.5" x2="279.83" y2="148.7" stroke="#3a3a3a" stroke-width="0.6"/>
<text x="279.83" y="153.60" font-size="5.7" text-anchor="middle" textLength="6.04" lengthAdjust="spacingAndGlyphs" >40</text>
<line x1="309.17" y1="146.5" x2="309.17" y2="148.7" stroke="#3a3a3a" stroke-width="0.6"/>
<text x="309.17" y="153.60" font-size="5.7" text-anchor="middle" textLength="6.04" lengthAdjust="spacingAndGlyphs" >50</text>
<line x1="338.50" y1="146.5" x2="338.50" y2="148.7" stroke="#3a3a3a" stroke-width="0.6"/>
<text x="338.50" y="153.60" font-size="5.7" text-anchor="middle" textLength="6.04" lengthAdjust="spacingAndGlyphs" >60</text>
<text x="272.50" y="161.40" font-size="5.7" text-anchor="middle" textLength="13.80" lengthAdjust="spacingAndGlyphs" >x/km</text>
<line x1="204.30" y1="146.50" x2="206.5" y2="146.50" stroke="#3a3a3a" stroke-width="0.6"/>
<text x="203.50" y="148.50" font-size="5.7" text-anchor="end" textLength="3.02" lengthAdjust="spacingAndGlyphs" >5</text>
<line x1="204.30" y1="126.50" x2="206.5" y2="126.50" stroke="#3a3a3a" stroke-width="0.6"/>
<text x="203.50" y="128.50" font-size="5.7" text-anchor="end" textLength="6.04" lengthAdjust="spacingAndGlyphs" >10</text>
<line x1="204.30" y1="106.50" x2="206.5" y2="106.50" stroke="#3a3a3a" stroke-width="0.6"/>
<text x="203.50" y="108.50" font-size="5.7" text-anchor="end" textLength="6.04" lengthAdjust="spacingAndGlyphs" >15</text>
<line x1="204.30" y1="86.50" x2="206.5" y2="86.50" stroke="#3a3a3a" stroke-width="0.6"/>
<text x="203.50" y="88.50" font-size="5.7" text-anchor="end" textLength="6.04" lengthAdjust="spacingAndGlyphs" >20</text>
<line x1="204.30" y1="66.50" x2="206.5" y2="66.50" stroke="#3a3a3a" stroke-width="0.6"/>
<text x="203.50" y="68.50" font-size="5.7" text-anchor="end" textLength="6.04" lengthAdjust="spacingAndGlyphs" >25</text>
<line x1="204.30" y1="46.50" x2="206.5" y2="46.50" stroke="#3a3a3a" stroke-width="0.6"/>
<text x="203.50" y="48.50" font-size="5.7" text-anchor="end" textLength="6.04" lengthAdjust="spacingAndGlyphs" >30</text>
<line x1="204.30" y1="26.50" x2="206.5" y2="26.50" stroke="#3a3a3a" stroke-width="0.6"/>
<text x="203.50" y="28.50" font-size="5.7" text-anchor="end" textLength="6.04" lengthAdjust="spacingAndGlyphs" >35</text>
<text x="0.00" y="0.00" font-size="5.7" text-anchor="middle" textLength="13.80" lengthAdjust="spacingAndGlyphs" transform="translate(194.20,86.50) rotate(-90)">y/km</text>
<rect x="346.0" y="138.50" width="6.3" height="8.25" fill="#660066"/>
<rect x="346.0" y="130.50" width="6.3" height="8.25" fill="#88e0f0"/>
<rect x="346.0" y="122.50" width="6.3" height="8.25" fill="#00e8f8"/>
<rect x="346.0" y="114.50" width="6.3" height="8.25" fill="#00b0c0"/>
<rect x="346.0" y="106.50" width="6.3" height="8.25" fill="#00f000"/>
<rect x="346.0" y="98.50" width="6.3" height="8.25" fill="#00c000"/>
<rect x="346.0" y="90.50" width="6.3" height="8.25" fill="#008000"/>
<rect x="346.0" y="82.50" width="6.3" height="8.25" fill="#cccccc"/>
<rect x="346.0" y="74.50" width="6.3" height="8.25" fill="#cccccc"/>
<rect x="346.0" y="66.50" width="6.3" height="8.25" fill="#ff0000"/>
<rect x="346.0" y="58.50" width="6.3" height="8.25" fill="#ff6060"/>
<rect x="346.0" y="50.50" width="6.3" height="8.25" fill="#ffb4b4"/>
<rect x="346.0" y="42.50" width="6.3" height="8.25" fill="#ff8000"/>
<rect x="346.0" y="34.50" width="6.3" height="8.25" fill="#ffd000"/>
<rect x="346.0" y="26.50" width="6.3" height="8.25" fill="#ffff00"/>
<rect x="346.0" y="26.5" width="6.3" height="120.0" fill="none" stroke="#555" stroke-width="0.5"/>
<line x1="352.3" y1="146.50" x2="354.10" y2="146.50" stroke="#3a3a3a" stroke-width="0.5"/>
<text x="355.30" y="148.50" font-size="5.7" text-anchor="start" textLength="6.03" lengthAdjust="spacingAndGlyphs" >RF</text>
<line x1="352.3" y1="138.50" x2="354.10" y2="138.50" stroke="#3a3a3a" stroke-width="0.5"/>
<text x="355.30" y="140.50" font-size="5.7" text-anchor="start" textLength="7.76" lengthAdjust="spacingAndGlyphs" >-64</text>
<line x1="352.3" y1="130.50" x2="354.10" y2="130.50" stroke="#3a3a3a" stroke-width="0.5"/>
<text x="355.30" y="132.50" font-size="5.7" text-anchor="start" textLength="7.76" lengthAdjust="spacingAndGlyphs" >-27</text>
<line x1="352.3" y1="122.50" x2="354.10" y2="122.50" stroke="#3a3a3a" stroke-width="0.5"/>
<text x="355.30" y="124.50" font-size="5.7" text-anchor="start" textLength="7.76" lengthAdjust="spacingAndGlyphs" >-20</text>
<line x1="352.3" y1="114.50" x2="354.10" y2="114.50" stroke="#3a3a3a" stroke-width="0.5"/>
<text x="355.30" y="116.50" font-size="5.7" text-anchor="start" textLength="7.76" lengthAdjust="spacingAndGlyphs" >-15</text>
<line x1="352.3" y1="106.50" x2="354.10" y2="106.50" stroke="#3a3a3a" stroke-width="0.5"/>
<text x="355.30" y="108.50" font-size="5.7" text-anchor="start" textLength="7.76" lengthAdjust="spacingAndGlyphs" >-10</text>
<line x1="352.3" y1="98.50" x2="354.10" y2="98.50" stroke="#3a3a3a" stroke-width="0.5"/>
<text x="355.30" y="100.50" font-size="5.7" text-anchor="start" textLength="4.74" lengthAdjust="spacingAndGlyphs" >-5</text>
<line x1="352.3" y1="90.50" x2="354.10" y2="90.50" stroke="#3a3a3a" stroke-width="0.5"/>
<text x="355.30" y="92.50" font-size="5.7" text-anchor="start" textLength="4.74" lengthAdjust="spacingAndGlyphs" >-1</text>
<line x1="352.3" y1="82.50" x2="354.10" y2="82.50" stroke="#3a3a3a" stroke-width="0.5"/>
<text x="355.30" y="84.50" font-size="5.7" text-anchor="start" textLength="3.02" lengthAdjust="spacingAndGlyphs" >0</text>
<line x1="352.3" y1="74.50" x2="354.10" y2="74.50" stroke="#3a3a3a" stroke-width="0.5"/>
<text x="355.30" y="76.50" font-size="5.7" text-anchor="start" textLength="3.02" lengthAdjust="spacingAndGlyphs" >1</text>
<line x1="352.3" y1="66.50" x2="354.10" y2="66.50" stroke="#3a3a3a" stroke-width="0.5"/>
<text x="355.30" y="68.50" font-size="5.7" text-anchor="start" textLength="3.02" lengthAdjust="spacingAndGlyphs" >5</text>
<line x1="352.3" y1="58.50" x2="354.10" y2="58.50" stroke="#3a3a3a" stroke-width="0.5"/>
<text x="355.30" y="60.50" font-size="5.7" text-anchor="start" textLength="6.04" lengthAdjust="spacingAndGlyphs" >10</text>
<line x1="352.3" y1="50.50" x2="354.10" y2="50.50" stroke="#3a3a3a" stroke-width="0.5"/>
<text x="355.30" y="52.50" font-size="5.7" text-anchor="start" textLength="6.04" lengthAdjust="spacingAndGlyphs" >15</text>
<line x1="352.3" y1="42.50" x2="354.10" y2="42.50" stroke="#3a3a3a" stroke-width="0.5"/>
<text x="355.30" y="44.50" font-size="5.7" text-anchor="start" textLength="6.04" lengthAdjust="spacingAndGlyphs" >20</text>
<line x1="352.3" y1="34.50" x2="354.10" y2="34.50" stroke="#3a3a3a" stroke-width="0.5"/>
<text x="355.30" y="36.50" font-size="5.7" text-anchor="start" textLength="6.04" lengthAdjust="spacingAndGlyphs" >27</text>
<line x1="352.3" y1="26.50" x2="354.10" y2="26.50" stroke="#3a3a3a" stroke-width="0.5"/>
<text x="355.30" y="28.50" font-size="5.7" text-anchor="start" textLength="6.04" lengthAdjust="spacingAndGlyphs" >63</text>
<text x="353.50" y="152.80" font-size="5.7" text-anchor="middle" textLength="8.61" lengthAdjust="spacingAndGlyphs" >m/s</text>
<clipPath id="clip02"><rect x="392.0" y="26.5" width="132.0" height="120.0"/></clipPath>
<g clip-path="url(#clip02)">
<rect x="392.0" y="26.5" width="19.0" height="7.0" fill="#ffffff"/>
<rect x="410.0" y="26.5" width="7.0" height="7.0" fill="#20dcf0"/>
<rect x="416.0" y="26.5" width="19.0" height="7.0" fill="#60dcea"/>
<rect x="434.0" y="26.5" width="7.0" height="7.0" fill="#a0e0e8"/>
<rect x="440.0" y="26.5" width="31.0" height="7.0" fill="#60dcea"/>
<rect x="470.0" y="26.5" width="7.0" height="7.0" fill="#20dcf0"/>
<rect x="476.0" y="26.5" width="25.0" height="7.0" fill="#60dcea"/>
<rect x="500.0" y="26.5" width="7.0" height="7.0" fill="#a0e0e8"/>
<rect x="506.0" y="26.5" width="18.0" height="7.0" fill="#60dcea"/>
<rect x="392.0" y="32.5" width="13.0" height="7.0" fill="#ffffff"/>
<rect x="404.0" y="32.5" width="7.0" height="7.0" fill="#10b8d0"/>
<rect x="410.0" y="32.5" width="13.0" height="7.0" fill="#20dcf0"/>
<rect x="422.0" y="32.5" width="13.0" height="7.0" fill="#60dcea"/>
<rect x="434.0" y="32.5" width="7.0" height="7.0" fill="#a0e0e8"/>
<rect x="440.0" y="32.5" width="7.0" height="7.0" fill="#60dcea"/>
<rect x="446.0" y="32.5" width="7.0" height="7.0" fill="#a0e0e8"/>
<rect x="452.0" y="32.5" width="7.0" height="7.0" fill="#60dcea"/>
<rect x="458.0" y="32.5" width="7.0" height="7.0" fill="#20dcf0"/>
<rect x="464.0" y="32.5" width="7.0" height="7.0" fill="#60dcea"/>
<rect x="470.0" y="32.5" width="13.0" height="7.0" fill="#20dcf0"/>
<rect x="482.0" y="32.5" width="13.0" height="7.0" fill="#60dcea"/>
<rect x="494.0" y="32.5" width="7.0" height="7.0" fill="#a0e0e8"/>
<rect x="500.0" y="32.5" width="13.0" height="7.0" fill="#60dcea"/>
<rect x="512.0" y="32.5" width="7.0" height="7.0" fill="#a0e0e8"/>
<rect x="518.0" y="32.5" width="6.0" height="7.0" fill="#60dcea"/>
<rect x="392.0" y="38.5" width="7.0" height="7.0" fill="#ffffff"/>
<rect x="398.0" y="38.5" width="7.0" height="7.0" fill="#20dcf0"/>
<rect x="404.0" y="38.5" width="13.0" height="7.0" fill="#10b8d0"/>
<rect x="416.0" y="38.5" width="7.0" height="7.0" fill="#20dcf0"/>
<rect x="422.0" y="38.5" width="13.0" height="7.0" fill="#60dcea"/>
<rect x="434.0" y="38.5" width="13.0" height="7.0" fill="#a0e0e8"/>
<rect x="446.0" y="38.5" width="7.0" height="7.0" fill="#60dcea"/>
<rect x="452.0" y="38.5" width="7.0" height="7.0" fill="#a0e0e8"/>
<rect x="458.0" y="38.5" width="13.0" height="7.0" fill="#20dcf0"/>
<rect x="470.0" y="38.5" width="7.0" height="7.0" fill="#60dcea"/>
<rect x="476.0" y="38.5" width="7.0" height="7.0" fill="#20dcf0"/>
<rect x="482.0" y="38.5" width="25.0" height="7.0" fill="#60dcea"/>
<rect x="506.0" y="38.5" width="7.0" height="7.0" fill="#a0e0e8"/>
<rect x="512.0" y="38.5" width="12.0" height="7.0" fill="#60dcea"/>
<rect x="392.0" y="44.5" width="7.0" height="7.0" fill="#ffffff"/>
<rect x="398.0" y="44.5" width="19.0" height="7.0" fill="#10b8d0"/>
<rect x="416.0" y="44.5" width="13.0" height="7.0" fill="#20dcf0"/>
<rect x="428.0" y="44.5" width="13.0" height="7.0" fill="#60dcea"/>
<rect x="440.0" y="44.5" width="7.0" height="7.0" fill="#a0e0e8"/>
<rect x="446.0" y="44.5" width="13.0" height="7.0" fill="#60dcea"/>
<rect x="458.0" y="44.5" width="19.0" height="7.0" fill="#20dcf0"/>
<rect x="476.0" y="44.5" width="7.0" height="7.0" fill="#60dcea"/>
<rect x="482.0" y="44.5" width="7.0" height="7.0" fill="#20dcf0"/>
<rect x="488.0" y="44.5" width="36.0" height="7.0" fill="#60dcea"/>
<rect x="392.0" y="50.5" width="7.0" height="7.0" fill="#20dcf0"/>
<rect x="398.0" y="50.5" width="13.0" height="7.0" fill="#10b8d0"/>
<rect x="410.0" y="50.5" width="7.0" height="7.0" fill="#20dcf0"/>
<rect x="416.0" y="50.5" width="7.0" height="7.0" fill="#10b8d0"/>
<rect x="422.0" y="50.5" width="13.0" height="7.0" fill="#20dcf0"/>
<rect x="434.0" y="50.5" width="19.0" height="7.0" fill="#60dcea"/>
<rect x="452.0" y="50.5" width="7.0" height="7.0" fill="#a0e0e8"/>
<rect x="458.0" y="50.5" width="7.0" height="7.0" fill="#20dcf0"/>
<rect x="464.0" y="50.5" width="7.0" height="7.0" fill="#10b8d0"/>
<rect x="470.0" y="50.5" width="13.0" height="7.0" fill="#20dcf0"/>
<rect x="482.0" y="50.5" width="7.0" height="7.0" fill="#60dcea"/>
<rect x="488.0" y="50.5" width="7.0" height="7.0" fill="#20dcf0"/>
<rect x="494.0" y="50.5" width="25.0" height="7.0" fill="#60dcea"/>
<rect x="518.0" y="50.5" width="6.0" height="7.0" fill="#20dcf0"/>
<rect x="392.0" y="56.5" width="13.0" height="7.0" fill="#20dcf0"/>
<rect x="404.0" y="56.5" width="13.0" height="7.0" fill="#10b8d0"/>
<rect x="416.0" y="56.5" width="13.0" height="7.0" fill="#20dcf0"/>
<rect x="428.0" y="56.5" width="13.0" height="7.0" fill="#60dcea"/>
<rect x="440.0" y="56.5" width="7.0" height="7.0" fill="#a0e0e8"/>
<rect x="446.0" y="56.5" width="13.0" height="7.0" fill="#60dcea"/>
<rect x="458.0" y="56.5" width="19.0" height="7.0" fill="#20dcf0"/>
<rect x="476.0" y="56.5" width="7.0" height="7.0" fill="#60dcea"/>
<rect x="482.0" y="56.5" width="7.0" height="7.0" fill="#20dcf0"/>
<rect x="488.0" y="56.5" width="25.0" height="7.0" fill="#60dcea"/>
<rect x="512.0" y="56.5" width="7.0" height="7.0" fill="#20dcf0"/>
<rect x="518.0" y="56.5" width="6.0" height="7.0" fill="#60dcea"/>
<rect x="392.0" y="62.5" width="19.0" height="7.0" fill="#20dcf0"/>
<rect x="410.0" y="62.5" width="13.0" height="7.0" fill="#10b8d0"/>
<rect x="422.0" y="62.5" width="13.0" height="7.0" fill="#20dcf0"/>
<rect x="434.0" y="62.5" width="13.0" height="7.0" fill="#60dcea"/>
<rect x="446.0" y="62.5" width="7.0" height="7.0" fill="#a0e0e8"/>
<rect x="452.0" y="62.5" width="13.0" height="7.0" fill="#60dcea"/>
<rect x="464.0" y="62.5" width="19.0" height="7.0" fill="#20dcf0"/>
<rect x="482.0" y="62.5" width="7.0" height="7.0" fill="#60dcea"/>
<rect x="488.0" y="62.5" width="7.0" height="7.0" fill="#20dcf0"/>
<rect x="494.0" y="62.5" width="25.0" height="7.0" fill="#60dcea"/>
<rect x="518.0" y="62.5" width="6.0" height="7.0" fill="#20dcf0"/>
<rect x="392.0" y="68.5" width="7.0" height="7.0" fill="#20dcf0"/>
<rect x="398.0" y="68.5" width="7.0" height="7.0" fill="#60dcea"/>
<rect x="404.0" y="68.5" width="25.0" height="7.0" fill="#20dcf0"/>
<rect x="428.0" y="68.5" width="25.0" height="7.0" fill="#60dcea"/>
<rect x="452.0" y="68.5" width="7.0" height="7.0" fill="#a0e0e8"/>
<rect x="458.0" y="68.5" width="7.0" height="7.0" fill="#20dcf0"/>
<rect x="464.0" y="68.5" width="7.0" height="7.0" fill="#60dcea"/>
<rect x="470.0" y="68.5" width="19.0" height="7.0" fill="#20dcf0"/>
<rect x="488.0" y="68.5" width="7.0" height="7.0" fill="#60dcea"/>
<rect x="494.0" y="68.5" width="7.0" height="7.0" fill="#20dcf0"/>
<rect x="500.0" y="68.5" width="19.0" height="7.0" fill="#60dcea"/>
<rect x="518.0" y="68.5" width="6.0" height="7.0" fill="#20dcf0"/>
<rect x="392.0" y="74.5" width="7.0" height="7.0" fill="#60dcea"/>
<rect x="398.0" y="74.5" width="7.0" height="7.0" fill="#20dcf0"/>
<rect x="404.0" y="74.5" width="7.0" height="7.0" fill="#60dcea"/>
<rect x="410.0" y="74.5" width="7.0" height="7.0" fill="#20dcf0"/>
<rect x="416.0" y="74.5" width="49.0" height="7.0" fill="#60dcea"/>
<rect x="464.0" y="74.5" width="7.0" height="7.0" fill="#20dcf0"/>
<rect x="470.0" y="74.5" width="7.0" height="7.0" fill="#60dcea"/>
<rect x="476.0" y="74.5" width="7.0" height="7.0" fill="#20dcf0"/>
<rect x="482.0" y="74.5" width="7.0" height="7.0" fill="#60dcea"/>
<rect x="488.0" y="74.5" width="7.0" height="7.0" fill="#20dcf0"/>
<rect x="494.0" y="74.5" width="13.0" height="7.0" fill="#60dcea"/>
<rect x="506.0" y="74.5" width="7.0" height="7.0" fill="#20dcf0"/>
<rect x="512.0" y="74.5" width="12.0" height="7.0" fill="#60dcea"/>
<rect x="392.0" y="80.5" width="13.0" height="7.0" fill="#60dcea"/>
<rect x="404.0" y="80.5" width="7.0" height="7.0" fill="#20dcf0"/>
<rect x="410.0" y="80.5" width="7.0" height="7.0" fill="#60dcea"/>
<rect x="416.0" y="80.5" width="7.0" height="7.0" fill="#20dcf0"/>
<rect x="422.0" y="80.5" width="13.0" height="7.0" fill="#60dcea"/>
<rect x="434.0" y="80.5" width="7.0" height="7.0" fill="#a0e0e8"/>
<rect x="440.0" y="80.5" width="19.0" height="7.0" fill="#60dcea"/>
<rect x="458.0" y="80.5" width="7.0" height="7.0" fill="#20dcf0"/>
<rect x="464.0" y="80.5" width="7.0" height="7.0" fill="#60dcea"/>
<rect x="470.0" y="80.5" width="7.0" height="7.0" fill="#20dcf0"/>
<rect x="476.0" y="80.5" width="7.0" height="7.0" fill="#60dcea"/>
<rect x="482.0" y="80.5" width="7.0" height="7.0" fill="#20dcf0"/>
<rect x="488.0" y="80.5" width="7.0" height="7.0" fill="#60dcea"/>
<rect x="494.0" y="80.5" width="7.0" height="7.0" fill="#20dcf0"/>
<rect x="500.0" y="80.5" width="13.0" height="7.0" fill="#60dcea"/>
<rect x="512.0" y="80.5" width="7.0" height="7.0" fill="#20dcf0"/>
<rect x="518.0" y="80.5" width="6.0" height="7.0" fill="#60dcea"/>
<rect x="392.0" y="86.5" width="13.0" height="7.0" fill="#20dcf0"/>
<rect x="404.0" y="86.5" width="19.0" height="7.0" fill="#60dcea"/>
<rect x="422.0" y="86.5" width="7.0" height="7.0" fill="#a0e0e8"/>
<rect x="428.0" y="86.5" width="31.0" height="7.0" fill="#60dcea"/>
<rect x="458.0" y="86.5" width="7.0" height="7.0" fill="#20dcf0"/>
<rect x="464.0" y="86.5" width="13.0" height="7.0" fill="#60dcea"/>
<rect x="476.0" y="86.5" width="7.0" height="7.0" fill="#a0e0e8"/>
<rect x="482.0" y="86.5" width="7.0" height="7.0" fill="#60dcea"/>
<rect x="488.0" y="86.5" width="7.0" height="7.0" fill="#a0e0e8"/>
<rect x="494.0" y="86.5" width="19.0" height="7.0" fill="#60dcea"/>
<rect x="512.0" y="86.5" width="12.0" height="7.0" fill="#20dcf0"/>
<rect x="392.0" y="92.5" width="7.0" height="7.0" fill="#20dcf0"/>
<rect x="398.0" y="92.5" width="7.0" height="7.0" fill="#60dcea"/>
<rect x="404.0" y="92.5" width="7.0" height="7.0" fill="#a0e0e8"/>
<rect x="410.0" y="92.5" width="31.0" height="7.0" fill="#60dcea"/>
<rect x="440.0" y="92.5" width="31.0" height="7.0" fill="#20dcf0"/>
<rect x="470.0" y="92.5" width="13.0" height="7.0" fill="#60dcea"/>
<rect x="482.0" y="92.5" width="7.0" height="7.0" fill="#a0e0e8"/>
<rect x="488.0" y="92.5" width="25.0" height="7.0" fill="#60dcea"/>
<rect x="512.0" y="92.5" width="7.0" height="7.0" fill="#00c000"/>
<rect x="518.0" y="92.5" width="6.0" height="7.0" fill="#008000"/>
<rect x="392.0" y="98.5" width="19.0" height="7.0" fill="#60dcea"/>
<rect x="410.0" y="98.5" width="7.0" height="7.0" fill="#a0e0e8"/>
<rect x="416.0" y="98.5" width="25.0" height="7.0" fill="#60dcea"/>
<rect x="440.0" y="98.5" width="7.0" height="7.0" fill="#20dcf0"/>
<rect x="446.0" y="98.5" width="7.0" height="7.0" fill="#10b8d0"/>
<rect x="452.0" y="98.5" width="7.0" height="7.0" fill="#20dcf0"/>
<rect x="458.0" y="98.5" width="7.0" height="7.0" fill="#10b8d0"/>
<rect x="464.0" y="98.5" width="7.0" height="7.0" fill="#20dcf0"/>
<rect x="470.0" y="98.5" width="7.0" height="7.0" fill="#60dcea"/>
<rect x="476.0" y="98.5" width="7.0" height="7.0" fill="#a0e0e8"/>
<rect x="482.0" y="98.5" width="25.0" height="7.0" fill="#60dcea"/>
<rect x="506.0" y="98.5" width="7.0" height="7.0" fill="#20dcf0"/>
<rect x="512.0" y="98.5" width="7.0" height="7.0" fill="#ffffff"/>
<rect x="518.0" y="98.5" width="6.0" height="7.0" fill="#00c000"/>
<rect x="392.0" y="104.5" width="7.0" height="7.0" fill="#60dcea"/>
<rect x="398.0" y="104.5" width="7.0" height="7.0" fill="#a0e0e8"/>
<rect x="404.0" y="104.5" width="31.0" height="7.0" fill="#60dcea"/>
<rect x="434.0" y="104.5" width="19.0" height="7.0" fill="#20dcf0"/>
<rect x="452.0" y="104.5" width="7.0" height="7.0" fill="#10b8d0"/>
<rect x="458.0" y="104.5" width="13.0" height="7.0" fill="#20dcf0"/>
<rect x="470.0" y="104.5" width="13.0" height="7.0" fill="#60dcea"/>
<rect x="482.0" y="104.5" width="7.0" height="7.0" fill="#a0e0e8"/>
<rect x="488.0" y="104.5" width="19.0" height="7.0" fill="#60dcea"/>
<rect x="506.0" y="104.5" width="7.0" height="7.0" fill="#20dcf0"/>
<rect x="512.0" y="104.5" width="7.0" height="7.0" fill="#ffffff"/>
<rect x="518.0" y="104.5" width="6.0" height="7.0" fill="#ffc800"/>
<rect x="392.0" y="110.5" width="7.0" height="7.0" fill="#a0e0e8"/>
<rect x="398.0" y="110.5" width="19.0" height="7.0" fill="#60dcea"/>
<rect x="416.0" y="110.5" width="7.0" height="7.0" fill="#a0e0e8"/>
<rect x="422.0" y="110.5" width="19.0" height="7.0" fill="#60dcea"/>
<rect x="440.0" y="110.5" width="25.0" height="7.0" fill="#20dcf0"/>
<rect x="464.0" y="110.5" width="25.0" height="7.0" fill="#60dcea"/>
<rect x="488.0" y="110.5" width="7.0" height="7.0" fill="#a0e0e8"/>
<rect x="494.0" y="110.5" width="13.0" height="7.0" fill="#60dcea"/>
<rect x="506.0" y="110.5" width="13.0" height="7.0" fill="#20dcf0"/>
<rect x="518.0" y="110.5" width="6.0" height="7.0" fill="#00c000"/>
<rect x="392.0" y="116.5" width="13.0" height="7.0" fill="#60dcea"/>
<rect x="404.0" y="116.5" width="7.0" height="7.0" fill="#a0e0e8"/>
<rect x="410.0" y="116.5" width="31.0" height="7.0" fill="#60dcea"/>
<rect x="440.0" y="116.5" width="25.0" height="7.0" fill="#20dcf0"/>
<rect x="464.0" y="116.5" width="19.0" height="7.0" fill="#60dcea"/>
<rect x="482.0" y="116.5" width="7.0" height="7.0" fill="#a0e0e8"/>
<rect x="488.0" y="116.5" width="19.0" height="7.0" fill="#60dcea"/>
<rect x="506.0" y="116.5" width="18.0" height="7.0" fill="#20dcf0"/>
<rect x="392.0" y="122.5" width="7.0" height="7.0" fill="#60dcea"/>
<rect x="398.0" y="122.5" width="7.0" height="7.0" fill="#a0e0e8"/>
<rect x="404.0" y="122.5" width="25.0" height="7.0" fill="#60dcea"/>
<rect x="428.0" y="122.5" width="7.0" height="7.0" fill="#20dcf0"/>
<rect x="434.0" y="122.5" width="7.0" height="7.0" fill="#60dcea"/>
<rect x="440.0" y="122.5" width="13.0" height="7.0" fill="#20dcf0"/>
<rect x="452.0" y="122.5" width="7.0" height="7.0" fill="#60dcea"/>
<rect x="458.0" y="122.5" width="13.0" height="7.0" fill="#20dcf0"/>
<rect x="470.0" y="122.5" width="37.0" height="7.0" fill="#60dcea"/>
<rect x="506.0" y="122.5" width="7.0" height="7.0" fill="#20dcf0"/>
<rect x="512.0" y="122.5" width="7.0" height="7.0" fill="#60dcea"/>
<rect x="518.0" y="122.5" width="6.0" height="7.0" fill="#20dcf0"/>
<rect x="392.0" y="128.5" width="19.0" height="7.0" fill="#60dcea"/>
<rect x="410.0" y="128.5" width="7.0" height="7.0" fill="#a0e0e8"/>
<rect x="416.0" y="128.5" width="7.0" height="7.0" fill="#60dcea"/>
<rect x="422.0" y="128.5" width="25.0" height="7.0" fill="#20dcf0"/>
<rect x="446.0" y="128.5" width="19.0" height="7.0" fill="#60dcea"/>
<rect x="464.0" y="128.5" width="7.0" height="7.0" fill="#20dcf0"/>
<rect x="470.0" y="128.5" width="19.0" height="7.0" fill="#60dcea"/>
<rect x="488.0" y="128.5" width="7.0" height="7.0" fill="#a0e0e8"/>
<rect x="494.0" y="128.5" width="19.0" height="7.0" fill="#60dcea"/>
<rect x="512.0" y="128.5" width="12.0" height="7.0" fill="#20dcf0"/>
<rect x="392.0" y="134.5" width="7.0" height="7.0" fill="#a0e0e8"/>
<rect x="398.0" y="134.5" width="31.0" height="7.0" fill="#60dcea"/>
<rect x="428.0" y="134.5" width="7.0" height="7.0" fill="#20dcf0"/>
<rect x="434.0" y="134.5" width="7.0" height="7.0" fill="#10b8d0"/>
<rect x="440.0" y="134.5" width="7.0" height="7.0" fill="#20dcf0"/>
<rect x="446.0" y="134.5" width="7.0" height="7.0" fill="#60dcea"/>
<rect x="452.0" y="134.5" width="7.0" height="7.0" fill="#a0e0e8"/>
<rect x="458.0" y="134.5" width="7.0" height="7.0" fill="#20dcf0"/>
<rect x="464.0" y="134.5" width="43.0" height="7.0" fill="#60dcea"/>
<rect x="506.0" y="134.5" width="7.0" height="7.0" fill="#20dcf0"/>
<rect x="512.0" y="134.5" width="7.0" height="7.0" fill="#60dcea"/>
<rect x="518.0" y="134.5" width="6.0" height="7.0" fill="#20dcf0"/>
<rect x="392.0" y="140.5" width="13.0" height="6.0" fill="#60dcea"/>
<rect x="404.0" y="140.5" width="7.0" height="6.0" fill="#a0e0e8"/>
<rect x="410.0" y="140.5" width="19.0" height="6.0" fill="#60dcea"/>
<rect x="428.0" y="140.5" width="13.0" height="6.0" fill="#20dcf0"/>
<rect x="440.0" y="140.5" width="25.0" height="6.0" fill="#60dcea"/>
<rect x="464.0" y="140.5" width="7.0" height="6.0" fill="#20dcf0"/>
<rect x="470.0" y="140.5" width="25.0" height="6.0" fill="#60dcea"/>
<rect x="494.0" y="140.5" width="7.0" height="6.0" fill="#a0e0e8"/>
<rect x="500.0" y="140.5" width="13.0" height="6.0" fill="#60dcea"/>
<rect x="512.0" y="140.5" width="7.0" height="6.0" fill="#20dcf0"/>
<rect x="518.0" y="140.5" width="6.0" height="6.0" fill="#60dcea"/>
<path d="M392.7 145.4L391.8 144.0M394.5 145.9L393.6 144.5M392.6 143.0L391.7 141.6M395.8 145.6L393.9 142.8M393.0 141.4L392.1 139.9M396.3 144.2L394.4 141.3M393.5 139.9L391.6 137.0M398.4 145.2L394.7 139.5M393.8 138.1L392.9 136.7M400.4 146.1L397.6 141.8M401.5 145.6L391.4 129.9M401.4 143.2L400.5 141.8M399.6 140.4L398.7 138.9M397.7 137.5L392.3 128.9M404.4 145.6L403.4 144.2M398.9 137.0L398.0 135.6M396.1 132.7L395.2 131.3M394.3 129.8L393.4 128.4M405.4 145.0L401.7 139.2M399.0 134.9L396.3 130.6M393.6 126.3L391.7 123.4M405.0 142.1L401.3 136.3M399.5 133.4L398.6 132.0M397.7 130.6L396.8 129.1M394.1 124.8L393.2 123.4M392.3 121.9L391.4 120.5M408.4 145.3L398.4 129.4M397.5 128.0L391.2 117.9M402.0 132.8L400.2 129.9M399.3 128.5L397.5 125.6M392.1 116.9L391.2 115.5M410.4 144.0L398.7 125.3M396.0 120.9L395.1 119.5M394.3 118.0L393.4 116.6M392.5 115.2L391.6 113.7M409.0 139.5L408.2 138.1M406.4 135.2L402.8 129.4M401.9 128.0L396.5 119.3M394.7 116.4L391.1 110.6M413.9 145.0L413.0 143.6M411.2 140.7L409.4 137.8M408.5 136.3L405.8 132.0M404.9 130.6L404.0 129.1M403.1 127.7L402.2 126.2M401.4 124.8L400.5 123.3M398.7 120.4L391.5 108.9M413.6 142.3L412.7 140.9M404.7 127.8L402.0 123.5M401.1 122.0L399.3 119.1M397.6 116.2L391.3 106.1M416.0 144.0L412.4 138.2M409.8 133.8L408.0 130.9M405.3 126.6L403.6 123.7M402.7 122.2L400.0 117.9M397.4 113.5L395.6 110.6M394.7 109.2L391.1 103.4M418.4 145.6L417.5 144.1M414.0 138.3L413.1 136.9M412.2 135.4L409.5 131.1M398.9 113.7L398.0 112.2M397.2 110.8L396.3 109.3M394.5 106.4L391.8 102.0M418.1 142.9L417.2 141.4M415.5 138.5L409.3 128.3M406.7 124.0L405.8 122.5M403.1 118.2L398.7 110.9M420.6 144.7L416.2 137.5M415.4 136.0L414.5 134.6M413.6 133.1L412.7 131.7M409.2 125.8L406.6 121.5M396.0 104.0L392.5 98.2M422.8 146.1L422.0 144.7M415.0 133.0L411.5 127.2M410.6 125.7L409.7 124.3M406.2 118.4L405.3 117.0M404.4 115.5L402.7 112.6M401.8 111.2L400.9 109.7M399.2 106.8L393.0 96.6M424.2 146.1L423.3 144.6M416.3 132.9L412.0 125.6M409.3 121.3L408.5 119.8M406.7 116.9L405.0 114.0M403.2 111.1L402.3 109.6M398.0 102.3L395.4 97.9M421.8 139.7L420.9 138.2M418.3 133.9L410.4 120.7M409.6 119.3L406.1 113.4M404.3 110.5L401.7 106.1M399.1 101.7L396.5 97.4M394.8 94.4L393.9 93.0M392.2 90.1L391.3 88.6M425.6 143.8L416.0 127.7M415.2 126.2L414.3 124.8M413.4 123.3L412.6 121.9M407.4 113.1L402.1 104.3M398.7 98.5L397.8 97.0M427.8 145.1L423.4 137.8M422.6 136.4L421.7 134.9M420.8 133.4L415.6 124.7M412.2 118.8L411.3 117.3M400.1 98.3L399.2 96.9M392.3 85.2L391.4 83.7M429.8 146.2L427.2 141.8M425.4 138.9L423.7 136.0M417.7 125.7L414.2 119.8M412.5 116.9L409.9 112.5M407.3 108.1L406.5 106.7M403.0 100.8L402.2 99.3M400.4 96.4L397.8 92.0M394.4 86.2L391.8 81.8M427.7 140.5L421.7 130.2M420.9 128.7L414.0 117.0M408.8 108.2L405.4 102.3M400.2 93.5L399.4 92.1M395.9 86.2L393.3 81.8M427.3 137.3L426.4 135.9M421.3 127.1L420.4 125.6M414.4 115.3L413.6 113.8M411.9 110.9L410.2 108.0M408.4 105.0L406.7 102.1M405.9 100.6L404.2 97.7M399.9 90.4L398.2 87.4M396.4 84.5L395.6 83.0M393.9 80.1L391.3 75.7M427.2 134.9L426.4 133.4M423.0 127.5L419.5 121.6M416.1 115.8L414.4 112.8M413.6 111.4L412.7 109.9M411.9 108.4L402.5 92.3M398.2 84.9L396.5 82.0M393.9 77.6L393.1 76.1M429.8 136.9L428.9 135.4M424.7 128.0L422.1 123.6M421.2 122.1L419.5 119.2M418.7 117.7L412.7 107.4M409.3 101.5L408.5 100.1M407.6 98.6L405.9 95.7M400.0 85.4L394.9 76.5M432.6 139.4L431.7 137.9M429.2 133.5L425.8 127.6M419.0 115.8L415.6 109.9M413.1 105.5L405.4 92.2M402.0 86.4L401.2 84.9M400.3 83.4L398.6 80.5M397.8 79.0L394.4 73.1M436.5 143.7L435.6 142.3M430.5 133.4L428.8 130.5M426.3 126.0L423.8 121.6M422.1 118.7L417.0 109.8M414.5 105.4L411.1 99.5M409.4 96.5L407.7 93.6M397.5 75.9L396.7 74.4M436.9 142.1L436.0 140.6M431.8 133.2L429.3 128.8M425.1 121.4L422.5 117.0M421.7 115.5L420.0 112.6M418.3 109.6L415.8 105.2M414.9 103.7L413.3 100.8M412.4 99.3L408.2 91.9M407.4 90.4L406.5 89.0M404.0 84.5L401.5 80.1M397.2 72.7L396.4 71.2M394.7 68.3L393.9 66.8M427.7 123.6L421.0 111.8M419.3 108.8L413.4 98.5M409.2 91.1L407.5 88.1M405.0 83.7L404.2 82.2M420.6 108.6L417.2 102.7M415.6 99.7L410.5 90.8M409.7 89.4L408.0 86.4M405.5 82.0L403.8 79.0M400.5 73.1L398.0 68.6M395.5 64.2L392.1 58.3M442.7 145.2L441.8 143.7M441.0 142.3L439.3 139.3M437.7 136.3L436.8 134.9M429.3 121.5L426.8 117.1M424.3 112.6L423.5 111.2M416.8 99.3L413.5 93.4M405.9 80.1L403.4 75.6M402.6 74.1L400.9 71.2M398.4 66.7L396.8 63.8M428.4 117.4L424.2 109.9M423.4 108.5L422.5 107.0M420.9 104.0L417.6 98.1M416.7 96.6L415.1 93.6M414.2 92.2L411.7 87.7M410.9 86.2L409.2 83.3M407.6 80.3L404.2 74.4M398.4 64.0L396.8 61.0M444.1 143.1L442.5 140.1M439.2 134.2L438.3 132.7M434.2 125.3L433.4 123.8M432.5 122.3L428.4 114.9M420.9 101.5L418.4 97.1M417.6 95.6L415.1 91.1M413.5 88.2L409.3 80.7M408.5 79.3L407.7 77.8M404.3 71.8L401.9 67.4M447.1 146.1L446.3 144.6M440.5 134.2L438.9 131.2M436.4 126.8L433.9 122.3M429.0 113.4L424.0 104.5M423.2 103.0L422.4 101.5M421.5 100.0L420.7 98.5M419.9 97.1L419.0 95.6M414.1 86.6L413.3 85.2M410.0 79.2L409.1 77.7M408.3 76.2L407.5 74.8M448.1 145.4L444.8 139.5M439.8 130.5L438.2 127.6M436.6 124.6L434.9 121.6M427.5 108.2L426.7 106.7M421.7 97.8L416.0 87.4M414.3 84.4L413.5 82.9M411.9 80.0L411.0 78.5M409.4 75.5L408.6 74.0M401.2 60.6L400.3 59.1M399.5 57.6L398.7 56.2M397.0 53.2L396.2 51.7M448.9 144.6L445.7 138.6M439.9 128.2L438.3 125.2M435.8 120.8L430.1 110.3M429.3 108.8L426.8 104.4M424.3 99.9L416.1 85.0M415.3 83.5L414.5 82.0M401.4 58.2L399.7 55.2M397.3 50.8L396.4 49.3M450.3 144.7L442.1 129.7M439.7 125.3L437.2 120.8M436.4 119.3L435.6 117.8M434.8 116.3L431.5 110.4M430.7 108.9L429.0 105.9M426.6 101.4L420.1 89.5M419.2 88.0L417.6 85.0M416.0 82.0L405.3 62.7M399.6 52.2L398.8 50.7M449.4 140.7L445.4 133.2M438.8 121.3L436.4 116.8M434.8 113.8L432.3 109.3M431.5 107.8L429.1 103.3M425.8 97.4L422.6 91.4M421.7 89.9L419.3 85.4M416.0 79.5L415.2 78.0M413.6 75.0L412.8 73.5M410.3 69.0L409.5 67.5M453.2 145.2L451.6 142.2M450.8 140.7L447.5 134.7M446.7 133.2L445.9 131.7M444.3 128.7L443.5 127.2M428.9 100.4L426.4 95.9M424.0 91.4L420.7 85.4M417.5 79.4L415.9 76.5M411.0 67.5L410.2 66.0M398.0 43.6L397.2 42.1M454.5 145.1L453.7 143.6M452.9 142.1L450.5 137.6M447.2 131.7L445.6 128.7M440.7 119.7L439.1 116.7M437.5 113.7L435.1 109.2M431.0 101.7L430.2 100.3M428.6 97.3L420.5 82.3M418.9 79.3L415.7 73.3M414.9 71.8L414.0 70.3M400.3 44.9L399.5 43.4M453.0 139.8L451.3 136.8M448.9 132.3L445.7 126.4M443.3 121.9L439.3 114.4M436.8 109.9L436.0 108.4M430.4 97.9L428.8 94.9M428.0 93.4L426.4 90.4M423.9 85.9L421.5 81.5M420.7 80.0L417.5 74.0M401.4 44.0L400.6 42.5M457.3 145.4L455.7 142.5M452.5 136.5L450.1 132.0M442.0 117.0L438.8 111.0M425.2 85.5L421.9 79.5M416.3 69.0L415.5 67.5M458.7 145.6L453.1 135.1M451.5 132.1L449.9 129.1M449.1 127.6L445.9 121.6M444.3 118.6L441.9 114.1M436.3 103.6L433.1 97.6M432.3 96.1L429.1 90.1M427.5 87.1L426.7 85.6M423.5 79.7L420.3 73.7M417.1 67.7L416.3 66.2M407.5 49.7L405.9 46.7M459.9 145.4L456.7 139.4M455.1 136.4L453.5 133.4M448.7 124.4L447.1 121.4M442.3 112.4L441.5 110.9M440.7 109.4L437.5 103.4M436.7 101.9L435.9 100.4M435.1 98.9L430.4 89.8M427.2 83.8L424.0 77.8M420.0 70.3L419.2 68.8M409.6 50.8L408.8 49.3M405.6 43.3L404.0 40.3M461.5 146.1L459.9 143.1M459.1 141.6L458.3 140.1M456.0 135.6L453.6 131.0M441.7 108.5L440.9 107.0M438.5 102.5L435.3 96.5M434.5 95.0L425.0 76.9M424.2 75.4L421.8 70.9M413.8 55.9L410.7 49.9M462.3 145.2L460.8 142.2M460.0 140.7L459.2 139.2M457.6 136.1L455.2 131.6M452.0 125.6L450.5 122.6M438.6 100.0L436.2 95.5M431.5 86.5L425.1 74.5M421.2 66.9L420.4 65.4M464.0 145.9L463.2 144.4M455.4 129.4L454.6 127.9M453.8 126.4L453.0 124.9M440.4 100.8L439.6 99.3M438.8 97.8L434.1 88.7M433.3 87.2L430.9 82.7M430.1 81.2L426.2 73.7M425.4 72.2L423.8 69.1M415.9 54.1L413.5 49.6M458.6 133.0L457.0 130.0M442.8 102.8L441.3 99.8M439.7 96.8L438.9 95.3M435.0 87.7L431.0 80.2M430.3 78.7L428.7 75.7M418.5 56.1L417.7 54.6M415.3 50.1L413.8 47.1M459.2 131.6L457.6 128.6M456.8 127.1L454.5 122.5M453.7 121.0L452.9 119.5M441.9 98.4L439.6 93.9M437.2 89.3L434.9 84.8M434.1 83.3L432.5 80.3M431.0 77.3L427.8 71.2M415.3 47.1L407.5 32.0M467.4 145.0L466.6 143.5M465.1 140.5L461.2 132.9M457.3 125.4L455.7 122.3M444.0 99.7L440.9 93.7M437.8 87.6L434.6 81.6M433.9 80.1L432.3 77.0M431.5 75.5L430.7 74.0M429.2 71.0L427.6 68.0M426.8 66.5L425.3 63.4M416.7 46.8L415.9 45.3M466.0 139.7L463.6 135.2M462.9 133.7L460.5 129.1M459.8 127.6L459.0 126.1M457.4 123.1L454.3 117.0M441.1 91.3L438.0 85.3M437.2 83.8L433.3 76.2M432.5 74.7L429.4 68.7M428.7 67.2L427.1 64.1M413.9 38.4L413.1 36.9M470.3 145.6L469.5 144.1M467.2 139.5L464.1 133.5M463.3 132.0L457.1 119.9M450.9 107.8L450.1 106.2M442.4 91.1L441.6 89.6M440.8 88.1L440.1 86.6M439.3 85.1L436.2 79.0M433.9 74.5L430.8 68.4M429.2 65.4L428.4 63.9M424.6 56.3L420.7 48.7M470.8 144.1L469.2 141.1M467.7 138.0L465.4 133.5M463.8 130.5L462.3 127.4M460.8 124.4L458.4 119.9M456.1 115.3L455.3 113.8M446.9 97.1L446.1 95.6M443.8 91.1L439.9 83.5M438.4 80.5L437.6 79.0M436.8 77.4L431.4 66.8M429.9 63.8L429.1 62.3M427.6 59.3L425.3 54.7M471.2 142.4L468.9 137.9M468.1 136.4L467.4 134.9M466.6 133.3L465.8 131.8M448.9 98.5L437.4 75.7M430.5 62.1L426.6 54.5M422.8 46.9L422.0 45.4M418.2 37.8L415.9 33.3M473.3 144.1L468.0 133.5M457.2 112.2L455.7 109.2M449.6 97.0L447.3 92.5M442.7 83.4L441.9 81.9M440.4 78.8L435.8 69.7M431.2 60.6L428.9 56.1M426.6 51.5L425.8 50.0M416.7 31.8L415.9 30.3M471.6 138.1L469.3 133.5M458.6 112.2L457.1 109.2M456.3 107.7L454.0 103.1M447.9 91.0L445.6 86.4M444.9 84.9L438.0 71.2M433.4 62.1L430.4 56.0M424.3 43.9L420.5 36.3M419.7 34.8L418.9 33.2M474.6 141.4L471.5 135.4M467.0 126.2L466.2 124.7M458.6 109.5L457.8 108.0M454.0 100.4L452.5 97.4M446.4 85.2L444.2 80.6M443.4 79.1L439.6 71.5M438.8 70.0L438.1 68.5M435.8 63.9L435.0 62.4M432.7 57.8L432.0 56.3M428.2 48.7L427.4 47.2M425.9 44.1L422.9 38.0M419.8 32.0L417.5 27.4M477.9 145.6L474.1 138.0M471.8 133.4L471.1 131.9M465.8 121.2L463.5 116.7M461.2 112.1L459.0 107.5M456.7 103.0L454.4 98.4M452.9 95.3L451.4 92.3M449.1 87.7L447.6 84.7M445.3 80.1L440.8 71.0M440.0 69.5L433.2 55.8M432.4 54.2L430.9 51.2M430.2 49.7L428.7 46.6M422.6 34.5L421.8 32.9M476.5 140.2L475.0 137.1M469.7 126.4L468.9 124.9M464.4 115.8L463.6 114.3M459.1 105.1L458.4 103.6M452.3 91.4L445.5 77.7M443.3 73.1L441.8 70.1M439.5 65.5L437.2 60.9M434.2 54.8L433.5 53.3M428.9 44.2L423.7 33.5M480.8 146.3L479.3 143.3M477.8 140.2L476.3 137.2M474.8 134.1L469.5 123.5M468.8 121.9L463.5 111.3M447.7 79.2L447.0 77.7M445.5 74.7L441.0 65.5M434.9 53.3L434.2 51.8M433.4 50.3L427.4 38.1M425.9 35.0L421.4 25.9M480.3 142.8L478.1 138.2M469.8 121.4L463.8 109.2M458.6 98.5L456.3 94.0M455.6 92.4L452.6 86.3M451.1 83.3L450.4 81.7M449.6 80.2L442.9 66.5M441.4 63.4L439.1 58.9M438.4 57.3L422.7 25.3M480.1 139.9L477.9 135.3M477.2 133.8L475.7 130.7M473.4 126.1L471.9 123.1M471.2 121.6L469.7 118.5M469.0 117.0L468.2 115.4M467.5 113.9L465.2 109.3M447.3 72.7L446.6 71.1M445.1 68.1L437.6 52.8M432.4 42.1L427.2 31.4M426.5 29.9L424.2 25.3M483.1 143.3L481.6 140.3M479.4 135.7L478.6 134.2M465.3 106.6L464.5 105.1M460.1 95.9L457.8 91.3M448.9 73.0L448.2 71.5M447.4 69.9L443.0 60.8M440.7 56.2L437.8 50.1M435.6 45.5L433.3 40.9M432.6 39.4L425.9 25.6M485.5 145.8L484.8 144.3M483.3 141.2L478.1 130.5M473.7 121.4L472.2 118.3M470.0 113.7L467.8 109.1M464.1 101.5L463.4 99.9M459.7 92.3L458.2 89.2M455.2 83.1L452.3 77.0M447.8 67.8L446.3 64.7M445.6 63.2L441.9 55.5M438.9 49.4L433.8 38.7M486.8 145.9L483.1 138.3M478.7 129.1L476.5 124.5M474.3 119.9L468.4 107.6M464.7 100.0L464.0 98.4M457.4 84.6L451.5 72.4M450.0 69.3L449.3 67.8M447.0 63.2L446.3 61.7M443.4 55.5L438.2 44.8M437.5 43.3L432.3 32.6M479.9 128.9L475.5 119.7M474.1 116.7L468.2 104.4M456.5 79.9L452.8 72.2M451.3 69.1L447.7 61.5M445.5 56.9L444.7 55.3M441.8 49.2L433.0 30.8M487.7 142.5L484.8 136.4M481.8 130.2L481.1 128.7M480.4 127.1L479.6 125.6M478.2 122.5L477.4 121.0M476.7 119.5L469.4 104.1M463.6 91.8L462.1 88.8M457.7 79.6L457.0 78.0M454.8 73.4L441.6 45.8M440.2 42.7L438.7 39.7M437.2 36.6L433.6 28.9M432.9 27.4L432.1 25.8M486.7 137.7L485.9 136.2M484.5 133.1L483.7 131.6M483.0 130.0L482.3 128.5M481.6 126.9L477.2 117.7M472.8 108.5L470.6 103.9M464.8 91.6L464.1 90.1M456.1 73.2L454.6 70.1M450.3 60.9L448.8 57.8M448.1 56.3L446.6 53.2M445.2 50.1L439.3 37.8M438.6 36.3L435.7 30.2M491.4 145.0L489.2 140.4M488.5 138.8L487.7 137.3M482.6 126.5L476.8 114.2M475.4 111.2L473.9 108.1M472.5 105.0L468.9 97.3M466.0 91.2L465.2 89.6M461.6 81.9L459.4 77.3M458.0 74.3L453.6 65.0M451.5 60.4L448.6 54.3M445.7 48.1L444.9 46.6M444.2 45.0L442.8 42.0M440.6 37.4L439.9 35.8M439.1 34.3L436.2 28.1M492.8 145.4L489.9 139.2M486.3 131.5L483.4 125.4M481.9 122.3L477.6 113.1M466.8 90.0L466.1 88.4M465.3 86.9L464.6 85.4M458.8 73.1L458.1 71.5M457.4 70.0L455.9 66.9M451.6 57.7L450.9 56.1M448.0 50.0L447.3 48.4M445.8 45.4L445.1 43.8M444.4 42.3L443.7 40.7M442.9 39.2L437.9 28.4M494.2 145.8L482.0 119.6M479.8 115.0L475.5 105.7M474.8 104.2L474.0 102.6M473.3 101.1L470.5 94.9M468.3 90.3L467.6 88.8M464.7 82.6L463.3 79.5M462.5 78.0L460.4 73.4M458.9 70.3L458.2 68.7M457.5 67.2L451.8 54.9M444.6 39.5L441.0 31.8M440.2 30.2L438.1 25.6M493.5 141.6L489.9 133.9M489.2 132.3L477.7 107.7M464.1 78.4L463.4 76.8M459.1 67.6L455.5 59.9M454.1 56.8L451.9 52.2M448.3 44.4L446.9 41.4M443.3 33.7L439.7 25.9M495.7 143.8L490.8 133.0M488.6 128.4L487.9 126.8M482.9 116.0L482.2 114.5M476.5 102.2L465.8 79.0M461.5 69.8L458.7 63.6M452.2 49.7L446.5 37.3M445.8 35.8L440.8 25.0M495.4 140.3L494.7 138.8M490.4 129.5L488.3 124.9M484.0 115.6L482.6 112.5M479.7 106.3L478.3 103.2M477.6 101.7L475.5 97.1M474.1 94.0L467.7 80.1M460.6 64.6L459.1 61.5M453.4 49.2L452.0 46.1M443.5 27.6L442.8 26.0M499.4 146.4L496.6 140.2M495.1 137.1L493.7 134.0M493.0 132.5L492.3 130.9M490.9 127.8L488.8 123.2M485.9 117.0L484.5 113.9M483.8 112.4L481.0 106.2M480.3 104.6L479.6 103.1M477.5 98.5L476.0 95.4M475.3 93.8L471.8 86.1M469.7 81.5L469.0 79.9M466.1 73.7L462.6 66.0M461.2 62.9L460.5 61.4M457.6 55.2L456.9 53.6M453.4 45.9L452.7 44.4M451.3 41.3L447.7 33.5M447.0 32.0L444.2 25.8M500.6 146.4L497.8 140.2M493.6 130.9L492.1 127.8M490.7 124.7L489.3 121.6M487.2 117.0L483.7 109.2M481.6 104.6L474.5 89.1M473.8 87.6L473.1 86.0M470.3 79.8L469.6 78.3M466.1 70.6L464.7 67.5M455.5 47.3L453.4 42.7M452.7 41.2L452.0 39.6M451.3 38.1L448.5 31.9M447.1 28.8L445.6 25.7M499.6 141.4L498.9 139.9M496.8 135.2L494.0 129.0M493.3 127.5L490.5 121.3M489.1 118.2L487.0 113.6M484.1 107.4L482.0 102.7M481.3 101.2L480.6 99.6M479.9 98.1L475.7 88.8M472.9 82.6L472.2 81.0M460.3 54.7L459.6 53.2M457.5 48.5L452.6 37.7M502.6 145.4L499.8 139.2M494.2 126.8L492.1 122.2M486.5 109.8L485.8 108.2M484.4 105.1L483.7 103.6M481.6 98.9L480.9 97.4M480.3 95.8L479.6 94.3M478.2 91.2L473.3 80.3M471.9 77.2L469.8 72.6M459.3 49.3L457.9 46.2M457.2 44.7L453.0 35.4M500.6 138.2L497.8 132.0M495.7 127.4L490.9 116.5M490.2 114.9L488.1 110.3M487.4 108.7L486.7 107.2M482.5 97.9L481.8 96.3M479.7 91.7L475.5 82.4M474.2 79.3L470.7 71.5M469.3 68.4L466.5 62.2M463.0 54.5L461.6 51.4M455.4 37.4L449.8 25.0M505.5 146.4L499.3 132.5M493.0 118.5L492.3 116.9M491.6 115.4L489.6 110.7M487.5 106.1L486.8 104.5M486.1 103.0L484.0 98.3M481.9 93.6L480.6 90.5M479.2 87.4L474.3 76.6M457.7 39.3L457.0 37.8M455.6 34.6L454.2 31.5M506.3 145.5L505.6 144.0M504.9 142.4L501.5 134.6M493.2 116.0L492.5 114.4M491.8 112.9L490.4 109.8M487.0 102.0L478.7 83.4M477.3 80.3L475.3 75.6M464.2 50.7L460.8 43.0M460.1 41.4L459.4 39.9M456.6 33.7L453.2 25.9M505.7 141.5L499.6 127.5M498.2 124.4L494.8 116.6M492.0 110.4L490.6 107.3M489.3 104.2L486.5 98.0M481.7 87.1L478.3 79.3M474.8 71.5L470.7 62.2M460.4 38.9L459.0 35.8M457.7 32.7L457.0 31.1M508.9 146.1L505.5 138.3M504.2 135.2L503.5 133.6M502.1 130.5L500.1 125.8M498.7 122.7L493.2 110.3M491.9 107.1L490.5 104.0M487.8 97.8L485.0 91.6M484.3 90.0L483.6 88.5M466.6 49.6L465.9 48.0M461.8 38.7L459.7 34.0M459.0 32.4L456.3 26.2M508.7 142.7L507.3 139.6M501.2 125.6L499.2 120.9M491.7 103.8L489.0 97.5M488.3 96.0L487.6 94.4M486.9 92.9L483.5 85.1M482.8 83.5L479.4 75.7M476.0 67.9L473.3 61.7M469.2 52.4L465.1 43.0M464.4 41.5L462.4 36.8M460.4 32.1L459.7 30.6M458.3 27.4L457.6 25.9M511.5 146.4L508.8 140.2M502.7 126.2L502.0 124.6M495.9 110.6L491.9 101.2M490.5 98.1L489.8 96.6M486.4 88.8L485.1 85.6M474.9 62.3L472.2 56.0M465.4 40.4L463.4 35.8M461.4 31.1L459.3 26.4M505.3 129.3L495.9 107.5M495.2 105.9L494.5 104.4M490.5 95.0L489.1 91.9M485.1 82.5L482.4 76.3M481.7 74.7L481.0 73.2M476.3 62.2L475.6 60.7M472.3 52.9L469.6 46.6M465.5 37.3L463.5 32.6M462.8 31.0L461.5 27.9M513.8 146.0L511.7 141.3M507.7 132.0L507.0 130.4M506.4 128.9L498.3 110.1M490.2 91.4L489.6 89.8M487.5 85.1L486.2 82.0M484.2 77.3L482.8 74.2M480.8 69.5L478.1 63.3M474.8 55.5L468.7 41.4M463.4 28.9L462.0 25.8M512.2 139.6L511.5 138.0M504.8 122.4L500.1 111.4M494.1 97.4L491.4 91.1M490.1 88.0L489.4 86.4M488.1 83.3L487.4 81.7M486.1 78.6L485.4 77.0M484.1 73.9L482.7 70.8M478.7 61.4L476.7 56.7M467.4 34.8L465.3 30.2M513.7 140.4L511.7 135.7M507.7 126.3L506.4 123.2M503.7 116.9L501.1 110.7M494.4 95.0L493.1 91.9M492.4 90.3L485.8 74.7M485.1 73.1L481.8 65.3M478.4 57.5L477.8 55.9M472.4 43.4L470.4 38.7M516.2 143.2L515.5 141.7M511.5 132.3L508.2 124.4M505.5 118.2L493.6 90.0M489.0 79.1L488.3 77.5M487.6 75.9L487.0 74.4M482.3 63.4L479.7 57.1M479.0 55.6L477.7 52.4M476.4 49.3L475.7 47.7M475.0 46.2L473.7 43.0M473.1 41.5L471.7 38.4M468.4 30.5L467.8 29.0M518.6 146.3L518.0 144.7M514.7 136.9L510.7 127.5M506.1 116.5L505.4 115.0M504.1 111.8L501.5 105.6M499.5 100.9L492.9 85.2M488.3 74.2L487.6 72.7M481.7 58.6L480.4 55.4M479.7 53.9L475.1 42.9M470.5 31.9L469.8 30.4M468.5 27.2L467.8 25.7M517.3 140.3L516.0 137.1M505.5 112.1L504.2 108.9M493.7 83.8L491.7 79.1M489.1 72.9L488.4 71.3M485.8 65.0L484.5 61.9M479.2 49.3L477.2 44.6M475.9 41.5L473.3 35.2M520.6 145.3L520.0 143.7M515.4 132.8L514.1 129.6M510.1 120.2L509.5 118.6M504.9 107.7L503.0 102.9M501.0 98.2L499.7 95.1M498.4 92.0L496.4 87.3M494.4 82.5L493.8 81.0M490.5 73.1L488.6 68.4M487.9 66.9L485.9 62.2M485.3 60.6L484.6 59.0M481.4 51.2L480.7 49.6M518.0 136.1L515.4 129.8M514.7 128.3L513.4 125.1M504.3 103.1L502.4 98.4M499.7 92.1L499.1 90.6M498.4 89.0L497.1 85.9M494.5 79.6L492.6 74.9M481.5 48.2L479.6 43.4M477.6 38.7L475.0 32.5M523.4 146.3L521.5 141.6M515.6 127.5L515.0 125.9M514.3 124.3L511.1 116.5M510.4 114.9L509.1 111.7M506.5 105.5L505.9 103.9M502.0 94.5L500.1 89.7M499.4 88.2L498.8 86.6M494.9 77.2L494.2 75.6M493.6 74.0L491.0 67.7M487.1 58.3L483.9 50.5M481.9 45.7L481.3 44.2M479.3 39.5L477.4 34.7M476.1 31.6L475.4 30.0M523.6 143.9L522.3 140.7M504.9 98.3L499.7 85.7M498.4 82.5L497.1 79.4M492.0 66.8L491.3 65.2M488.7 58.9L486.8 54.2M486.2 52.6L484.9 49.5M482.3 43.2L481.0 40.1M523.8 141.5L523.1 139.9M517.4 125.7L515.4 121.0M511.6 111.5L509.6 106.8M507.7 102.1L500.0 83.2M498.7 80.1L496.8 75.3M494.2 69.0L493.6 67.5M491.0 61.2L489.1 56.5M486.5 50.2L485.3 47.0M477.5 28.1L476.9 26.5M523.8 138.6L521.3 132.3M520.0 129.2L518.1 124.4M517.4 122.9L512.3 110.3M508.5 100.8L507.8 99.2M504.0 89.8L503.4 88.2M495.1 67.7L493.8 64.6M489.9 55.1L488.7 52.0M482.9 37.8L482.3 36.2M479.1 28.3L477.8 25.2M511.6 105.5L508.5 97.6M504.0 86.6L503.4 85.0M500.8 78.7L498.9 74.0M495.1 64.5L492.6 58.2M491.3 55.0L489.4 50.3M487.5 45.6L485.6 40.9M483.7 36.1L479.2 25.1M523.9 132.9L522.6 129.7M522.0 128.1L517.6 117.1M515.7 112.3L514.4 109.2M511.9 102.9L510.6 99.7M510.0 98.1L509.3 96.6M507.4 91.8L502.4 79.2M501.7 77.6L499.8 72.9M494.1 58.7L492.9 55.5M484.6 35.0L482.1 28.7M481.5 27.1L480.8 25.6M523.7 129.4L522.4 126.2M511.7 99.4L508.6 91.5M504.8 82.0L499.8 69.4M499.1 67.8L494.7 56.8M494.1 55.2L493.5 53.6M492.2 50.5L490.3 45.7M487.8 39.4L482.1 25.2M504.6 78.3L504.0 76.7M502.1 72.0L501.5 70.4M500.9 68.8L499.6 65.6M495.9 56.2L494.0 51.4M487.7 35.6L487.1 34.0M523.8 123.4L523.1 121.9M511.3 91.8L510.7 90.2M506.9 80.8L506.3 79.2M501.3 66.5L494.4 49.1M493.8 47.5L492.6 44.4M522.6 117.4L522.0 115.8M512.7 92.1L509.6 84.2M505.9 74.7L504.6 71.5M504.0 69.9L502.1 65.2M500.3 60.4L496.5 50.9M495.9 49.4L495.3 47.8M511.5 85.8L506.0 71.6M499.2 54.2L496.7 47.8M493.6 39.9L488.1 25.7M511.7 83.1L510.5 79.9M504.4 64.0L503.8 62.5M500.7 54.5L496.4 43.4M495.1 40.3L493.3 35.5M492.1 32.3L489.6 26.0M512.6 81.8L512.0 80.3M509.5 73.9L508.3 70.7M502.8 56.5L501.0 51.7M497.9 43.8L495.5 37.4M492.4 29.5L491.2 26.3M516.6 89.0L515.4 85.8M510.5 73.1L505.7 60.4M498.4 41.4L497.1 38.2M495.9 35.0L495.3 33.4M494.7 31.8L492.3 25.5M519.2 92.4L516.8 86.0M514.4 79.7L511.9 73.3M511.3 71.7L499.8 41.5M497.4 35.2L496.8 33.6M495.0 28.8L494.4 27.3M516.7 82.5L515.5 79.3M514.9 77.7L513.7 74.5M513.1 72.9L510.7 66.6M507.7 58.6L503.5 47.5M497.4 31.6L495.6 26.8M519.2 85.5L518.0 82.3M514.4 72.8L513.8 71.2M513.2 69.6L512.0 66.4M510.8 63.3L509.6 60.1M508.4 56.9L507.8 55.3M504.2 45.8L503.6 44.2M501.8 39.4L500.0 34.6M520.4 85.3L514.4 69.3M507.2 50.2L506.6 48.6M506.0 47.1L504.8 43.9M503.0 39.1L501.3 34.3M500.7 32.7L499.5 29.5M521.7 85.5L521.1 83.9M519.9 80.7L515.2 68.0M513.4 63.2L512.8 61.6M509.8 53.6L505.7 42.5M501.5 31.3L500.3 28.1M521.8 82.3L520.0 77.5M515.9 66.4L513.6 60.0M511.8 55.2L511.2 53.6M509.4 48.8L505.9 39.3M504.7 36.1L500.6 24.9M523.8 84.1L515.5 61.8M512.0 52.2L505.6 34.6M504.4 31.4L502.0 25.1M524.0 81.2L521.6 74.8M517.5 63.6L517.0 62.0M516.4 60.4L505.3 30.1M523.5 76.3L522.3 73.1M521.2 69.9L520.0 66.7M515.9 55.5L515.4 53.9M514.8 52.3L513.0 47.5M511.9 44.3L511.3 42.8M510.7 41.2L510.1 39.6M507.2 31.6L505.5 26.8M520.6 64.8L519.5 61.6M514.8 48.8L506.7 26.4M523.4 68.8L522.2 65.6M518.8 56.0L516.5 49.6M513.6 41.6L507.9 25.6M522.1 61.5L519.8 55.1M512.4 34.3L511.8 32.7M510.6 29.5L509.5 26.3M523.3 61.2L521.6 56.3M521.0 54.7L519.9 51.5M519.3 49.9L518.2 46.7M513.6 33.9L513.0 32.3M520.7 50.1L519.5 46.9M517.8 42.0L516.7 38.8M516.2 37.2L514.5 32.4M523.8 55.0L522.6 51.8M520.4 45.4L516.4 34.2M515.3 31.0L513.6 26.1M523.2 49.6L517.0 31.9M521.4 40.5L516.4 26.1M523.8 43.6L517.7 25.9M523.8 39.8L521.1 31.7M519.4 26.9L518.9 25.3M521.3 28.3L520.2 25.0M523.7 31.3L522.1 26.4M524.0 28.1L522.9 24.9" stroke="#e6e2e6" stroke-width="1.35" fill="none"/>
<path d="M393.6 144.5L392.6 143.0M392.1 139.9L391.1 138.5M394.4 141.3L393.5 139.9M397.6 141.8L396.7 140.4M393.9 136.1L393.0 134.7M403.2 146.1L401.4 143.2M398.7 138.9L397.7 137.5M397.1 134.1L396.1 132.7M406.3 146.4L405.4 145.0M401.7 139.2L399.9 136.4M394.5 127.8L393.6 126.3M396.8 129.1L395.9 127.7M400.2 129.9L399.3 128.5M393.9 119.8L393.0 118.4M411.7 143.9L410.8 142.4M408.2 138.1L407.3 136.6M413.0 143.6L412.1 142.1M405.8 132.0L404.9 130.6M399.6 121.9L398.7 120.4M415.4 145.2L413.6 142.3M412.7 140.9L410.0 136.5M408.2 133.6L404.7 127.8M399.3 119.1L397.6 116.2M412.4 138.2L410.7 135.3M408.0 130.9L405.3 126.6M403.6 123.7L402.7 122.2M417.5 144.1L414.0 138.3M413.1 136.9L412.2 135.4M409.5 131.1L406.9 126.7M406.0 125.3L404.2 122.4M403.3 120.9L399.8 115.1M396.3 109.3L395.4 107.9M409.3 128.3L408.4 126.9M404.9 121.1L403.1 118.2M398.7 110.9L397.0 108.0M394.3 103.6L393.4 102.2M392.5 100.7L391.7 99.3M421.5 146.2L420.6 144.7M410.1 127.3L409.2 125.8M406.6 121.5L403.9 117.1M401.3 112.7L399.5 109.8M397.8 106.9L396.9 105.5M415.8 134.5L415.0 133.0M405.3 117.0L404.4 115.5M400.9 109.7L399.2 106.8M393.0 96.6L391.3 93.7M412.0 125.6L409.3 121.3M393.6 95.0L392.7 93.6M419.2 135.3L418.3 133.9M410.4 120.7L409.6 119.3M396.5 97.4L394.8 94.4M393.0 91.5L392.2 90.1M412.6 121.9L407.4 113.1M402.1 104.3L398.7 98.5M395.2 92.6L392.6 88.2M414.8 123.2L412.2 118.8M410.5 115.9L407.9 111.5M404.4 105.6L402.7 102.7M401.8 101.2L400.1 98.3M399.2 96.9L397.5 93.9M394.9 89.5L392.3 85.2M427.2 141.8L426.3 140.4M422.9 134.5L422.0 133.0M421.1 131.6L417.7 125.7M414.2 119.8L412.5 116.9M408.2 109.6L407.3 108.1M406.5 106.7L404.7 103.7M397.8 92.0L396.1 89.1M395.3 87.6L394.4 86.2M431.2 146.3L429.5 143.4M428.6 141.9L427.7 140.5M414.0 117.0L410.5 111.1M402.8 97.9L400.2 93.5M399.4 92.1L397.6 89.1M396.8 87.7L395.9 86.2M392.5 80.3L391.6 78.9M426.4 135.9L425.6 134.4M420.4 125.6L414.4 115.3M413.6 113.8L411.9 110.9M410.2 108.0L408.4 105.0M404.2 97.7L403.3 96.2M398.2 87.4L396.4 84.5M395.6 83.0L394.7 81.5M433.2 145.2L428.1 136.3M424.7 130.5L423.0 127.5M417.8 118.7L416.1 115.8M412.7 109.9L411.9 108.4M402.5 92.3L400.8 89.3M399.9 87.8L398.2 84.9M396.5 82.0L393.9 77.6M393.1 76.1L391.4 73.1M434.9 145.7L430.6 138.3M428.9 135.4L424.7 128.0M412.7 107.4L411.9 106.0M411.0 104.5L409.3 101.5M401.7 88.3L400.0 85.4M394.9 76.5L391.4 70.6M436.0 145.3L433.4 140.9M425.8 127.6L421.6 120.2M403.7 89.3L402.0 86.4M401.2 84.9L400.3 83.4M398.6 80.5L397.8 79.0M394.4 73.1L391.9 68.7M437.3 145.2L436.5 143.7M435.6 142.3L431.4 134.9M423.8 121.6L422.1 118.7M416.2 108.3L414.5 105.4M401.8 83.3L397.5 75.9M396.7 74.4L391.6 65.6M436.0 140.6L431.8 133.2M426.7 124.4L425.1 121.4M415.8 105.2L414.9 103.7M413.3 100.8L412.4 99.3M408.2 91.9L407.4 90.4M404.8 86.0L404.0 84.5M399.8 77.1L397.2 72.7M396.4 71.2L395.6 69.8M393.9 66.8L391.3 62.4M440.3 145.8L439.5 144.3M437.8 141.4L436.9 139.9M433.6 134.0L428.5 125.1M421.0 111.8L420.1 110.3M412.6 97.0L409.2 91.1M405.9 85.2L405.0 83.7M404.2 82.2L399.1 73.4M396.6 68.9L394.1 64.5M441.5 145.6L435.7 135.2M430.6 126.3L429.8 124.9M428.1 121.9L426.5 118.9M422.3 111.5L420.6 108.6M410.5 90.8L409.7 89.4M403.0 77.5L402.2 76.0M397.1 67.2L395.5 64.2M441.8 143.7L441.0 142.3M436.8 134.9L435.2 131.9M431.0 124.5L429.3 121.5M410.1 87.5L408.4 84.5M407.6 83.0L405.9 80.1M403.4 75.6L402.6 74.1M400.9 71.2L398.4 66.7M393.4 57.8L391.8 54.9M441.7 141.1L440.0 138.1M439.2 136.6L437.5 133.7M434.2 127.7L430.9 121.8M429.2 118.8L428.4 117.4M424.2 109.9L423.4 108.5M422.5 107.0L420.9 104.0M417.6 98.1L416.7 96.6M415.1 93.6L414.2 92.2M409.2 83.3L407.6 80.3M404.2 74.4L401.8 69.9M400.9 68.4L399.3 65.5M396.8 61.0L395.1 58.1M394.3 56.6L391.8 52.1M445.8 146.0L444.1 143.1M442.5 140.1L440.8 137.1M438.3 132.7L435.8 128.2M428.4 114.9L425.1 108.9M418.4 97.1L417.6 95.6M415.1 91.1L414.3 89.6M409.3 80.7L408.5 79.3M400.2 64.4L399.4 62.9M393.6 52.5L391.9 49.6M444.7 141.6L443.8 140.1M443.0 138.7L441.3 135.7M438.9 131.2L437.2 128.3M424.0 104.5L423.2 103.0M422.4 101.5L421.5 100.0M416.6 91.1L414.1 86.6M410.8 80.7L410.0 79.2M403.4 67.3L399.2 59.9M395.1 52.5L393.4 49.5M444.0 138.0L439.8 130.5M438.2 127.6L437.4 126.1M434.9 121.6L433.3 118.6M432.4 117.1L431.6 115.7M426.7 106.7L421.7 97.8M408.6 74.0L407.7 72.5M402.8 63.6L401.2 60.6M397.9 54.7L397.0 53.2M445.7 138.6L441.6 131.2M426.8 104.4L424.3 99.9M416.1 85.0L415.3 83.5M412.0 77.6L411.2 76.1M410.4 74.6L401.4 58.2M399.7 55.2L397.3 50.8M451.1 146.1L450.3 144.7M442.1 129.7L440.5 126.8M435.6 117.8L434.8 116.3M405.3 62.7L404.5 61.2M403.7 59.7L399.6 52.2M451.9 145.1L449.4 140.7M443.7 130.2L441.3 125.7M439.7 122.7L438.8 121.3M436.4 116.8L434.8 113.8M407.1 63.1L406.3 61.6M403.8 57.1L403.0 55.6M401.4 52.6L399.7 49.6M398.1 46.7L397.3 45.2M443.5 127.2L439.4 119.8M434.5 110.8L433.7 109.3M431.3 104.8L428.9 100.4M420.7 85.4L419.1 82.4M415.9 76.5L411.0 67.5M409.4 64.5L408.6 63.0M407.8 61.5L406.9 60.0M406.1 58.5L405.3 57.0M453.7 143.6L452.9 142.1M448.8 134.6L448.0 133.1M445.6 128.7L444.8 127.2M443.2 124.2L440.7 119.7M435.1 109.2L433.5 106.2M430.2 100.3L428.6 97.3M420.5 82.3L418.9 79.3M413.2 68.9L411.6 65.9M408.4 59.9L407.6 58.4M399.5 43.4L397.9 40.4M456.2 145.8L454.6 142.8M453.8 141.3L453.0 139.8M445.7 126.4L443.3 121.9M436.0 108.4L433.6 103.9M428.8 94.9L428.0 93.4M425.6 88.9L424.7 87.4M421.5 81.5L420.7 80.0M415.9 71.0L414.3 68.0M406.2 53.0L402.2 45.5M399.8 41.0L398.1 38.1M446.9 126.0L446.0 124.5M445.2 123.0L443.6 120.0M442.8 118.5L442.0 117.0M437.2 108.0L429.2 93.0M428.4 91.5L425.2 85.5M417.1 70.5L416.3 69.0M415.5 67.5L410.7 58.6M405.9 49.6L405.1 48.1M402.7 43.6L401.1 40.6M445.1 120.1L444.3 118.6M440.3 111.1L437.9 106.6M437.1 105.1L436.3 103.6M429.1 90.1L427.5 87.1M426.7 85.6L423.5 79.7M420.3 73.7L417.1 67.7M415.5 64.7L413.9 61.7M413.1 60.2L412.3 58.7M409.1 52.7L407.5 49.7M401.9 39.2L401.1 37.7M456.7 139.4L455.1 136.4M450.3 127.4L449.5 125.9M446.3 119.9L442.3 112.4M441.5 110.9L440.7 109.4M437.5 103.4L436.7 101.9M435.9 100.4L435.1 98.9M430.4 89.8L427.2 83.8M424.0 77.8L422.4 74.8M421.6 73.3L420.0 70.3M419.2 68.8L416.8 64.3M412.8 56.8L412.0 55.3M407.2 46.3L405.6 43.3M403.2 38.8L402.4 37.3M459.9 143.1L459.1 141.6M458.3 140.1L456.0 135.6M452.0 128.0L445.6 116.0M444.8 114.5L444.0 113.0M440.9 107.0L440.1 105.5M439.3 104.0L438.5 102.5M421.0 69.4L418.6 64.9M417.0 61.9L416.2 60.4M410.7 49.9L407.5 43.9M459.2 139.2L457.6 136.1M455.2 131.6L453.6 128.6M448.9 119.6L441.0 104.6M439.4 101.5L438.6 100.0M436.2 95.5L431.5 86.5M422.7 70.0L422.0 68.4M420.4 65.4L411.7 48.9M409.3 44.4L407.7 41.4M463.2 144.4L460.1 138.4M457.7 133.9L455.4 129.4M453.0 124.9L451.4 121.8M443.5 106.8L440.4 100.8M439.6 99.3L438.8 97.8M430.9 82.7L430.1 81.2M426.2 73.7L425.4 72.2M423.8 69.1L423.0 67.6M422.2 66.1L421.4 64.6M419.9 61.6L417.5 57.1M408.8 40.5L404.1 31.5M464.1 143.5L463.3 142.0M462.5 140.5L461.7 139.0M459.3 134.5L458.6 133.0M452.3 120.9L450.7 117.9M446.0 108.9L442.8 102.8M440.5 98.3L439.7 96.8M438.1 93.8L437.3 92.3M431.0 80.2L430.3 78.7M427.9 74.2L423.2 65.1M420.8 60.6L419.3 57.6M417.7 54.6L415.3 50.1M413.8 47.1L410.6 41.0M465.4 143.6L464.6 142.1M463.9 140.6L463.1 139.1M461.5 136.1L459.9 133.1M454.5 122.5L453.7 121.0M452.9 119.5L450.5 115.0M447.4 108.9L441.9 98.4M434.9 84.8L434.1 83.3M426.3 68.2L425.5 66.7M423.9 63.7L420.8 57.6M416.9 50.1L415.3 47.1M466.6 143.5L465.1 140.5M459.6 129.9L458.8 128.4M451.0 113.3L448.7 108.8M446.3 104.2L444.0 99.7M440.1 92.1L437.8 87.6M432.3 77.0L431.5 75.5M430.0 72.5L429.2 71.0M425.3 63.4L422.9 58.9M419.0 51.4L418.2 49.9M417.5 48.3L416.7 46.8M468.3 144.3L466.0 139.7M463.6 135.2L462.9 133.7M460.5 129.1L459.8 127.6M459.0 126.1L457.4 123.1M454.3 117.0L447.3 103.4M446.5 101.9L445.8 100.4M429.4 68.7L428.7 67.2M427.1 64.1L426.3 62.6M423.2 56.6L422.4 55.1M414.7 39.9L413.9 38.4M412.3 35.4L411.6 33.9M410.8 32.4L410.0 30.9M468.7 142.6L467.9 141.1M464.1 133.5L463.3 132.0M457.1 119.9L450.9 107.8M449.4 104.7L448.6 103.2M447.8 101.7L446.3 98.7M445.5 97.2L444.7 95.7M430.8 68.4L429.2 65.4M426.9 60.8L424.6 56.3M420.7 48.7L419.1 45.7M417.6 42.7L414.5 36.6M413.0 33.6L412.2 32.1M471.6 145.6L470.8 144.1M469.2 141.1L467.7 138.0M462.3 127.4L460.8 124.4M455.3 113.8L453.0 109.3M452.3 107.7L449.9 103.2M448.4 100.2L447.6 98.7M430.7 65.3L429.9 63.8M424.5 53.2L419.9 44.1M417.5 39.6L416.0 36.5M413.7 32.0L410.6 25.9M472.8 145.5L471.2 142.4M467.4 134.9L466.6 133.3M461.2 122.7L455.1 110.6M454.3 109.1L450.5 101.5M425.9 53.0L425.1 51.5M424.3 50.0L422.8 46.9M422.0 45.4L418.2 37.8M415.9 33.3L412.0 25.7M474.1 145.6L473.3 144.1M468.0 133.5L467.2 131.9M462.6 122.8L461.8 121.3M460.3 118.3L457.2 112.2M454.2 106.1L450.4 98.5M447.3 92.5L442.7 83.4M441.9 81.9L440.4 78.8M435.8 69.7L434.3 66.7M433.5 65.2L431.2 60.6M428.9 56.1L426.6 51.5M425.8 50.0L419.7 37.8M418.9 36.3L418.2 34.8M469.3 133.5L467.0 128.9M463.9 122.9L461.7 118.3M454.0 103.1L451.7 98.6M451.0 97.0L447.9 91.0M438.0 71.2L433.4 62.1M420.5 36.3L419.7 34.8M418.2 31.7L417.4 30.2M416.6 28.7L415.1 25.6M476.8 146.0L474.6 141.4M468.5 129.3L467.0 126.2M466.2 124.7L464.7 121.7M463.9 120.2L460.9 114.1M457.1 106.5L455.6 103.4M454.8 101.9L454.0 100.4M452.5 97.4L449.5 91.3M444.2 80.6L443.4 79.1M439.6 71.5L438.8 70.0M438.1 68.5L435.8 63.9M435.0 62.4L432.7 57.8M428.9 50.2L428.2 48.7M426.7 45.7L425.9 44.1M421.3 35.0L419.8 32.0M417.5 27.4L416.8 25.9M471.1 131.9L467.3 124.3M463.5 116.7L461.2 112.1M454.4 98.4L453.7 96.9M451.4 92.3L449.1 87.7M433.2 55.8L432.4 54.2M430.9 51.2L430.2 49.7M427.9 45.1L427.1 43.6M421.1 31.4L418.1 25.3M479.5 146.2L478.7 144.7M468.9 124.9L466.7 120.3M462.9 112.7L462.1 111.2M461.4 109.7L459.1 105.1M458.4 103.6L457.6 102.1M453.1 92.9L452.3 91.4M445.5 77.7L443.3 73.1M433.5 53.3L432.0 50.3M476.3 137.2L474.8 134.1M463.5 111.3L462.7 109.7M461.2 106.7L458.2 100.6M457.5 99.1L455.2 94.5M454.5 93.0L453.0 89.9M451.5 86.9L450.7 85.3M441.0 65.5L439.4 62.5M437.9 59.4L434.9 53.3M434.2 51.8L433.4 50.3M481.8 145.9L480.3 142.8M478.1 138.2L469.8 121.4M463.8 109.2L461.6 104.6M452.6 86.3L451.1 83.3M450.4 81.7L449.6 80.2M483.1 146.0L481.6 142.9M475.7 130.7L473.4 126.1M469.7 118.5L469.0 117.0M468.2 115.4L467.5 113.9M465.2 109.3L461.5 101.7M459.3 97.1L454.8 87.9M453.3 84.9L451.8 81.8M449.6 77.2L447.3 72.7M437.6 52.8L432.4 42.1M483.8 144.9L483.1 143.3M475.7 128.0L473.4 123.5M463.8 103.6L460.8 97.5M457.8 91.3L453.4 82.2M450.4 76.1L448.9 73.0M437.8 50.1L435.6 45.5M433.3 40.9L432.6 39.4M484.8 144.3L484.1 142.8M478.1 130.5L473.7 121.4M472.2 118.3L470.0 113.7M467.8 109.1L465.6 104.5M463.4 99.9L459.7 92.3M458.2 89.2L455.2 83.1M452.3 77.0L447.8 67.8M441.9 55.5L438.9 49.4M433.8 38.7L430.1 31.0M428.6 28.0L427.8 26.5M483.1 138.3L481.7 135.2M468.4 107.6L466.2 103.0M465.5 101.5L464.7 100.0M464.0 98.4L460.3 90.8M475.5 119.7L474.1 116.7M466.7 101.3L465.3 98.3M463.8 95.2L463.1 93.7M462.3 92.1L458.7 84.5M447.7 61.5L446.2 58.4M444.7 55.3L444.0 53.8M433.0 30.8L430.8 26.2M489.1 145.6L487.7 142.5M484.0 134.8L481.8 130.2M481.1 128.7L480.4 127.1M478.9 124.1L478.2 122.5M469.4 104.1L463.6 91.8M459.9 84.2L457.7 79.6M433.6 28.9L432.9 27.4M483.7 131.6L483.0 130.0M482.3 128.5L481.6 126.9M477.2 117.7L474.3 111.6M469.9 102.4L467.0 96.2M466.3 94.7L464.8 91.6M464.1 90.1L461.9 85.5M454.6 70.1L453.9 68.6M453.2 67.0L451.0 62.4M446.6 53.2L445.2 50.1M476.8 114.2L475.4 111.2M468.9 97.3L467.4 94.2M465.2 89.6L463.8 86.6M459.4 77.3L458.7 75.8M453.6 65.0L451.5 60.4M444.9 46.6L444.2 45.0M436.2 28.1L434.8 25.1M489.2 137.7L488.4 136.2M487.7 134.6L486.3 131.5M473.3 103.8L472.6 102.3M471.8 100.8L467.5 91.5M460.3 76.1L458.8 73.1M458.1 71.5L457.4 70.0M455.9 66.9L453.1 60.7M452.3 59.2L451.6 57.7M450.9 56.1L448.0 50.0M475.5 105.7L474.8 104.2M469.7 93.4L469.0 91.9M460.4 73.4L458.9 70.3M458.2 68.7L457.5 67.2M449.6 50.3L448.9 48.7M447.4 45.6L446.7 44.1M446.0 42.6L444.6 39.5M441.0 31.8L440.2 30.2M495.6 146.2L494.9 144.7M475.6 103.0L474.8 101.5M469.1 89.2L468.4 87.6M464.8 79.9L464.1 78.4M463.4 76.8L461.2 72.2M460.5 70.7L459.8 69.1M451.9 52.2L450.5 49.1M487.9 126.8L485.8 122.2M477.2 103.7L476.5 102.2M465.8 79.0L461.5 69.8M494.7 138.8L492.5 134.1M485.4 118.7L484.7 117.1M481.9 111.0L479.7 106.3M478.3 103.2L477.6 101.7M474.8 95.5L474.1 94.0M467.7 80.1L466.9 78.5M463.4 70.8L460.6 64.6M459.1 61.5L456.3 55.4M454.2 50.7L453.4 49.2M448.5 38.4L445.6 32.2M487.4 120.1L485.9 117.0M481.0 106.2L480.3 104.6M479.6 103.1L477.5 98.5M476.0 95.4L475.3 93.8M471.8 86.1L469.7 81.5M462.6 66.0L461.2 62.9M460.5 61.4L459.1 58.3M454.8 49.0L453.4 45.9M452.0 42.8L451.3 41.3M483.7 109.2L481.6 104.6M474.5 89.1L473.8 87.6M467.5 73.7L466.1 70.6M464.7 67.5L464.0 65.9M461.8 61.3L459.7 56.6M452.0 39.6L451.3 38.1M448.5 31.9L447.1 28.8M498.9 139.9L498.2 138.3M490.5 121.3L489.8 119.8M480.6 99.6L479.9 98.1M474.3 85.7L472.9 82.6M472.2 81.0L465.9 67.1M465.2 65.6L460.3 54.7M458.9 51.6L457.5 48.5M452.6 37.7L447.0 25.3M499.8 139.2L494.2 126.8M483.7 103.6L483.0 102.0M473.3 80.3L471.9 77.2M468.4 69.5L467.7 67.9M467.0 66.4L463.5 58.6M457.9 46.2L457.2 44.7M504.1 146.0L500.6 138.2M497.8 132.0L495.7 127.4M490.9 116.5L490.2 114.9M481.8 96.3L479.7 91.7M474.9 80.8L474.2 79.3M466.5 62.2L463.0 54.5M460.9 49.8L459.5 46.7M498.6 130.9L493.0 118.5M488.9 109.2L487.5 106.1M483.3 96.7L481.9 93.6M480.6 90.5L479.9 89.0M467.4 61.0L465.3 56.4M463.9 53.3L457.7 39.3M457.0 37.8L455.6 34.6M454.2 31.5L451.5 25.3M505.6 144.0L504.9 142.4M501.5 134.6L493.9 117.6M478.0 81.8L477.3 80.3M475.3 75.6L473.2 70.9M469.1 61.6L466.3 55.4M465.6 53.9L464.2 50.7M460.8 43.0L460.1 41.4M507.8 146.2L505.7 141.5M499.6 127.5L498.2 124.4M493.4 113.5L492.0 110.4M490.6 107.3L489.3 104.2M486.5 98.0L481.7 87.1M476.2 74.6L474.8 71.5M470.7 62.2L468.7 57.5M465.9 51.3L465.2 49.8M459.0 35.8L457.7 32.7M457.0 31.1L455.6 28.0M505.5 138.3L504.2 135.2M499.4 124.3L498.7 122.7M493.2 110.3L491.9 107.1M482.3 85.4L481.6 83.8M475.4 69.8L467.2 51.1M465.2 46.4L461.8 38.7M459.7 34.0L459.0 32.4M507.3 139.6L506.7 138.0M506.0 136.5L501.2 125.6M494.4 110.0L491.7 103.8M483.5 85.1L482.8 83.5M473.3 61.7L469.9 53.9M462.4 36.8L460.4 32.1M459.7 30.6L458.3 27.4M508.8 140.2L504.8 130.9M504.1 129.3L502.7 126.2M502.0 124.6L499.3 118.4M489.8 96.6L489.2 95.0M483.1 81.0L482.4 79.4M481.7 77.9L480.3 74.7M477.6 68.5L475.6 63.8M472.2 56.0L471.5 54.5M466.1 42.0L465.4 40.4M463.4 35.8L462.0 32.6M510.7 141.8L509.4 138.7M487.8 88.8L485.1 82.5M477.7 65.4L476.3 62.2M472.9 54.4L472.3 52.9M466.2 38.8L465.5 37.3M463.5 32.6L462.8 31.0M461.5 27.9L460.8 26.4M511.1 139.8L510.4 138.2M509.7 136.7L508.4 133.5M507.0 130.4L506.4 128.9M495.6 103.9L492.9 97.6M490.9 92.9L490.2 91.4M486.2 82.0L484.2 77.3M482.8 74.2L480.8 69.5M477.5 61.7L475.5 57.0M467.4 38.3L463.4 28.9M514.8 145.8L512.2 139.6M511.5 138.0L509.5 133.3M506.8 127.0L505.5 123.9M500.1 111.4L499.5 109.9M487.4 81.7L486.8 80.2M485.4 77.0L484.1 73.9M482.7 70.8L478.7 61.4M473.4 48.9L472.0 45.8M469.4 39.5L468.7 38.0M464.0 27.0L463.3 25.5M515.7 145.1L513.7 140.4M511.7 135.7L507.7 126.3M506.4 123.2L505.7 121.6M493.1 91.9L492.4 90.3M485.8 74.7L485.1 73.1M481.8 65.3L480.4 62.2M477.8 55.9L472.4 43.4M468.5 34.0L465.1 26.2M517.5 146.4L516.2 143.2M515.5 141.7L511.5 132.3M506.2 119.8L505.5 118.2M487.0 74.4L486.3 72.8M479.7 57.1L479.0 55.6M475.7 47.7L475.0 46.2M473.7 43.0L473.1 41.5M469.7 33.7L468.4 30.5M510.7 127.5L506.1 116.5M492.9 85.2L488.3 74.2M485.6 68.0L483.7 63.3M480.4 55.4L479.7 53.9M473.1 38.2L471.1 33.5M514.7 134.0L512.1 127.7M510.7 124.6L505.5 112.1M504.2 108.9L502.2 104.2M500.2 99.5L496.9 91.7M494.3 85.4L493.7 83.8M491.7 79.1L489.7 74.4M488.4 71.3L485.8 65.0M484.5 61.9L483.8 60.3M483.1 58.7L479.2 49.3M477.2 44.6L475.9 41.5M471.3 30.5L469.3 25.8M520.0 143.7L516.0 134.3M514.1 129.6L511.5 123.3M509.5 118.6L506.2 110.8M492.5 77.8L491.2 74.7M488.6 68.4L487.9 66.9M484.6 59.0L483.3 55.9M473.5 32.3L470.9 26.1M519.3 139.2L518.0 136.1M513.4 125.1L506.9 109.4M506.3 107.8L505.6 106.3M497.1 85.9L494.5 79.6M491.3 71.7L484.8 56.0M484.1 54.4L482.8 51.3M482.2 49.7L481.5 48.2M475.0 32.5L473.7 29.3M473.1 27.7L472.4 26.2M518.2 133.8L515.6 127.5M515.0 125.9L514.3 124.3M511.1 116.5L510.4 114.9M507.2 107.0L506.5 105.5M498.8 86.6L496.2 80.3M494.2 75.6L493.6 74.0M489.1 63.0L488.4 61.5M477.4 34.7L476.1 31.6M475.4 30.0L474.8 28.5M520.4 136.0L517.8 129.7M515.2 123.4L514.5 121.9M509.4 109.3L505.5 99.8M499.7 85.7L499.1 84.1M497.1 79.4L494.5 73.1M493.9 71.5L492.0 66.8M490.0 62.1L488.7 58.9M477.8 32.2L475.2 25.9M523.1 139.9L521.2 135.2M514.1 117.8L512.2 113.1M509.6 106.8L509.0 105.2M508.4 103.7L507.7 102.1M499.4 81.6L498.7 80.1M496.8 75.3L494.2 69.0M493.6 67.5L493.0 65.9M492.3 64.3L491.0 61.2M485.3 47.0L484.0 43.9M481.4 37.6L478.8 31.3M476.9 26.5L476.3 25.0M509.8 104.0L508.5 100.8M504.6 91.4L504.0 89.8M498.2 75.6L496.3 70.9M488.7 52.0L488.0 50.4M485.5 44.1L482.9 37.8M481.6 34.6L480.4 31.5M523.7 135.5L517.4 119.7M516.1 116.5L513.6 110.2M506.6 92.9L504.0 86.6M503.4 85.0L501.5 80.3M498.9 74.0L498.3 72.4M497.0 69.2L495.1 64.5M492.6 58.2L491.3 55.0M522.6 129.7L522.0 128.1M517.6 117.1L515.7 112.3M510.6 99.7L510.0 98.1M509.3 96.6L507.4 91.8M499.8 72.9L497.9 68.2M496.0 63.4L494.1 58.7M490.3 49.2L484.6 35.0M518.7 116.8L518.0 115.2M516.8 112.0L516.1 110.5M508.6 91.5L504.8 82.0M499.8 69.4L499.1 67.8M493.5 53.6L492.2 50.5M523.4 125.7L522.2 122.5M519.1 114.6L517.8 111.5M508.4 87.8L504.6 78.3M504.0 76.7L503.4 75.1M499.6 65.6L499.0 64.1M494.0 51.4L492.7 48.3M522.5 120.3L519.4 112.4M505.7 77.6L502.6 69.7M501.9 68.1L501.3 66.5M486.3 28.6L485.1 25.4M514.5 96.8L512.7 92.1M509.6 84.2L505.9 74.7M502.1 65.2L500.3 60.4M518.3 103.3L517.7 101.7M506.0 71.6L503.5 65.3M500.4 57.3L499.2 54.2M523.4 113.2L522.2 110.0M517.3 97.3L516.7 95.7M510.5 79.9L508.1 73.5M495.8 41.8L495.1 40.3M517.5 94.5L512.6 81.8M512.0 80.3L510.7 77.1M501.0 51.7L498.5 45.4M495.5 37.4L493.6 32.7M511.7 76.3L510.5 73.1M505.7 60.4L500.2 46.1M495.3 33.4L494.7 31.8M516.8 86.0L516.2 84.4M515.6 82.8L515.0 81.3M496.8 33.6L496.2 32.0M520.3 92.0L517.9 85.6M495.6 26.8L495.0 25.2M521.6 91.9L519.2 85.5M518.0 82.3L515.0 74.4M509.6 60.1L508.4 56.9M507.8 55.3L504.2 45.8M498.2 29.9L496.4 25.1M522.7 91.6L521.5 88.4M514.4 69.3L513.8 67.8M513.2 66.2L512.6 64.6M506.6 48.6L506.0 47.1M501.3 34.3L500.7 32.7M522.9 88.7L521.7 85.5M521.1 83.9L519.9 80.7M515.2 68.0L513.4 63.2M512.8 61.6L512.2 60.0M511.6 58.4L511.0 56.8M505.7 42.5L505.1 40.9M503.3 36.1L501.5 31.3M499.7 26.5L499.2 24.9M518.3 72.7L515.9 66.4M513.6 60.0L512.4 56.8M510.0 50.4L509.4 48.8M515.5 61.8L513.2 55.4M512.6 53.8L512.0 52.2M521.1 73.2L519.3 68.4M518.1 65.2L517.5 63.6M522.3 73.1L521.2 69.9M520.0 66.7L518.8 63.5M518.3 61.9L517.7 60.3M509.5 38.0L507.8 33.2M505.5 26.8L504.9 25.2M522.9 71.2L520.6 64.8M519.5 61.6L514.8 48.8M521.1 62.4L518.8 56.0M519.8 55.1L518.1 50.3M513.5 37.5L512.4 34.3M523.5 58.1L520.7 50.1M516.7 38.8L516.2 37.2M522.6 51.8L520.4 45.4M517.0 31.9L514.8 25.5M523.6 47.0L521.4 40.5M523.5 34.7L521.3 28.3" stroke="#08e2ea" stroke-width="1.35" fill="none"/>
<path d="M393.9 142.8L393.0 141.4M395.2 131.3L394.3 129.8M395.9 127.7L395.0 126.3M395.1 119.5L394.3 118.0M416.9 145.4L416.0 144.0M410.7 135.3L409.8 133.8M395.6 110.6L394.7 109.2M419.9 145.8L418.1 142.9M403.1 115.6L401.3 112.7M409.7 124.3L408.8 122.8M418.9 137.3L416.3 132.9M394.5 96.5L393.6 95.0M414.3 124.8L413.4 123.3M392.6 88.2L391.7 86.8M415.6 124.7L414.8 123.2M402.2 99.3L401.3 97.9M405.4 102.3L403.7 99.4M397.6 89.1L396.8 87.7M393.3 81.8L392.5 80.3M422.1 128.5L421.3 127.1M403.3 96.2L401.6 93.3M426.4 133.4L424.7 130.5M408.5 100.1L407.6 98.6M428.8 130.5L427.1 127.5M438.5 145.1L436.9 142.1M439.5 144.3L437.8 141.4M436.1 138.4L434.4 135.4M413.4 98.5L412.6 97.0M399.1 73.4L397.5 70.4M393.3 63.0L392.4 61.5M434.8 133.7L434.0 132.3M429.8 124.9L428.1 121.9M439.3 139.3L438.5 137.8M435.2 131.9L434.3 130.4M432.6 127.5L431.8 126.0M425.1 114.1L424.3 112.6M408.4 84.5L407.6 83.0M396.8 63.8L393.4 57.8M442.5 142.6L441.7 141.1M437.5 133.7L434.2 127.7M430.9 121.8L429.2 118.8M440.8 137.1L440.0 135.7M433.4 123.8L432.5 122.3M401.9 67.4L400.2 64.4M399.4 62.9L393.6 52.5M437.2 128.3L436.4 126.8M407.5 74.8L406.7 73.3M397.6 56.9L395.1 52.5M416.0 87.4L415.2 85.9M413.5 82.9L412.7 81.4M411.0 78.5L409.4 75.5M398.7 56.2L397.9 54.7M411.2 76.1L410.4 74.6M429.0 105.9L428.2 104.4M429.1 103.3L425.8 97.4M418.5 84.0L416.0 79.5M415.2 78.0L413.6 75.0M412.8 73.5L411.1 70.5M404.6 58.6L403.8 57.1M398.9 48.1L398.1 46.7M408.6 63.0L407.8 61.5M399.6 46.6L398.0 43.6M414.0 70.3L413.2 68.9M407.6 58.4L400.3 44.9M414.3 68.0L410.2 60.5M402.2 45.5L401.4 44.0M454.1 139.5L452.5 136.5M448.5 129.0L447.7 127.5M438.8 111.0L437.2 108.0M429.2 93.0L428.4 91.5M418.7 73.5L417.1 70.5M404.3 46.6L402.7 43.6M453.1 135.1L452.3 133.6M441.9 114.1L440.3 111.1M403.5 42.2L401.9 39.2M414.4 59.8L412.8 56.8M412.0 55.3L409.6 50.8M443.2 111.5L441.7 108.5M416.2 60.4L415.4 58.9M453.6 128.6L452.0 125.6M460.1 138.4L458.5 135.4M454.6 127.9L453.8 126.4M417.5 57.1L416.7 55.6M463.3 142.0L462.5 140.5M456.2 128.4L452.3 120.9M441.3 99.8L440.5 98.3M419.3 57.6L418.5 56.1M409.8 39.5L409.0 38.0M457.6 128.6L456.8 127.1M432.5 80.3L431.0 77.3M420.8 57.6L420.0 56.1M458.8 128.4L457.3 125.4M448.7 108.8L446.3 104.2M469.1 145.8L468.3 144.3M445.8 100.4L443.4 95.9M426.3 62.6L425.5 61.1M422.4 55.1L421.7 53.5M419.3 49.0L417.8 46.0M428.4 63.9L426.9 60.8M414.5 36.6L413.0 33.6M465.4 133.5L463.8 130.5M446.1 95.6L445.3 94.1M468.9 137.9L468.1 136.4M450.5 101.5L448.9 98.5M433.6 68.1L432.0 65.1M415.1 28.7L413.6 25.7M445.6 86.4L444.9 84.9M430.4 56.0L428.8 53.0M471.5 135.4L468.5 129.3M449.5 91.3L448.7 89.7M427.4 47.2L426.7 45.7M422.9 38.0L421.3 35.0M467.3 124.3L465.8 121.2M421.8 32.9L421.1 31.4M463.6 114.3L462.9 112.7M455.2 94.5L454.5 93.0M427.4 38.1L425.9 35.0M450.3 78.8L449.6 77.2M446.6 71.1L445.1 68.1M465.6 104.5L464.1 101.5M429.3 29.5L428.6 28.0M438.2 44.8L437.5 43.3M432.3 32.6L429.4 26.4M463.1 93.7L462.3 92.1M459.0 79.3L456.1 73.2M473.9 108.1L472.5 105.0M463.8 86.6L461.6 81.9M448.6 54.3L445.7 48.1M488.4 136.2L487.7 134.6M482.7 123.8L481.9 122.3M466.1 88.4L465.3 86.9M462.4 80.8L461.7 79.2M447.3 48.4L445.8 45.4M481.2 118.0L479.8 115.0M469.0 91.9L468.3 90.3M463.3 79.5L462.5 78.0M489.9 133.9L489.2 132.3M468.4 87.6L466.3 83.0M450.5 49.1L448.3 44.4M446.9 41.4L443.3 33.7M456.5 58.9L452.2 49.7M498.2 146.5L495.4 140.3M456.2 52.1L454.8 49.0M494.3 132.4L493.6 130.9M492.1 127.8L490.7 124.7M473.1 86.0L472.4 84.5M459.7 56.6L457.6 52.0M498.2 138.3L497.5 136.8M485.6 110.5L484.1 107.4M459.6 53.2L458.9 51.6M467.7 67.9L467.0 66.4M463.5 58.6L459.3 49.3M488.1 110.3L487.4 108.7M485.3 104.1L483.9 101.0M461.6 51.4L460.9 49.8M493.9 117.6L493.2 116.0M487.7 103.6L487.0 102.0M468.7 57.5L468.0 56.0M467.3 54.4L465.9 51.3M465.2 49.8L463.8 46.7M481.6 83.8L479.5 79.1M506.7 138.0L506.0 136.5M499.2 120.9L497.8 117.8M504.8 130.9L504.1 129.3M491.9 101.2L491.2 99.7M512.1 144.9L511.4 143.4M494.5 104.4L490.5 95.0M475.6 60.7L472.9 54.4M498.3 110.1L496.3 105.4M488.9 88.3L488.2 86.7M478.1 63.3L477.5 61.7M476.7 56.7L476.1 55.2M472.0 45.8L471.4 44.2M495.1 96.6L494.4 95.0M469.8 37.1L468.5 34.0M486.3 72.8L482.3 63.4M505.4 115.0L504.1 111.8M469.8 30.4L468.5 27.2M511.4 126.2L510.7 124.6M483.8 60.3L483.1 58.7M473.3 35.2L471.3 30.5M491.9 73.3L491.3 71.7M481.3 44.2L479.3 39.5M521.6 139.2L520.4 136.0M505.5 99.8L504.9 98.3M499.1 84.1L498.4 82.5M494.5 73.1L493.9 71.5M491.3 65.2L490.0 62.1M484.9 49.5L482.3 43.2M481.0 40.1L478.4 33.8M509.0 105.2L508.4 103.7M493.0 65.9L492.3 64.3M489.1 56.5L487.8 53.3M505.9 94.5L504.6 91.4M503.4 88.2L498.9 77.2M495.7 69.3L495.1 67.7M490.6 56.7L489.9 55.1M487.4 48.8L485.5 44.1M498.3 72.4L497.6 70.8M482.1 28.7L481.5 27.1M522.4 126.2L518.7 116.8M517.8 111.5L517.2 109.9M503.4 75.1L502.1 72.0M510.7 90.2L510.0 88.7M506.3 79.2L505.7 77.6M523.9 120.6L522.6 117.4M496.5 50.9L495.9 49.4M493.4 43.0L486.6 25.6M523.9 117.5L523.3 115.9M514.0 92.2L511.5 85.8M510.7 77.1L510.1 75.5M508.3 70.7L502.8 56.5M517.8 92.1L516.6 89.0M513.0 79.4L511.7 76.3M516.2 84.4L515.6 82.8M499.2 40.0L498.6 38.4M494.4 27.3L493.8 25.7M517.9 85.6L516.7 82.5M500.4 39.5L499.8 38.0M512.6 64.6L511.4 61.4M512.4 56.8L511.8 55.2M517.7 60.3L515.9 55.5M515.4 53.9L514.8 52.3M516.9 47.1L515.8 43.9M521.6 56.3L521.0 54.7M519.9 51.5L519.3 49.9M513.0 32.3L510.8 25.9M523.7 51.2L523.2 49.6" stroke="#00f0f0" stroke-width="1.35" fill="none"/>
<path d="M397.2 145.6L396.3 144.2M396.7 140.4L393.9 136.1M407.3 136.6L406.4 135.2M402.2 126.2L401.4 124.8M392.5 98.2L391.6 96.7M422.0 144.7L421.1 143.2M420.0 136.8L419.2 135.3M400.0 103.2L399.1 101.7M396.6 92.5L394.9 89.5M423.7 136.0L422.9 134.5M409.9 112.5L409.1 111.1M401.3 97.9L400.4 96.4M396.1 89.1L395.3 87.6M429.5 143.4L428.6 141.9M410.5 111.1L408.8 108.2M429.9 141.7L429.0 140.3M401.6 93.3L399.9 90.4M414.4 112.8L413.6 111.4M430.6 138.3L429.8 136.9M403.4 91.2L402.5 89.8M430.9 136.4L429.2 133.5M410.2 98.0L409.4 96.5M429.3 128.8L427.6 125.9M406.5 89.0L404.8 86.0M401.5 80.1L399.8 77.1M395.6 69.8L394.7 68.3M436.9 139.9L436.1 138.4M434.4 135.4L433.6 134.0M392.4 61.5L391.6 60.1M435.7 135.2L434.8 133.7M434.0 132.3L430.6 126.3M406.4 83.4L405.5 82.0M402.2 76.0L400.5 73.1M392.1 58.3L391.3 56.8M438.5 137.8L437.7 136.3M434.3 130.4L433.5 128.9M431.8 126.0L431.0 124.5M426.8 117.1L425.1 114.1M411.8 90.4L410.1 87.5M440.0 138.1L439.2 136.6M399.3 65.5L398.4 64.0M440.0 135.7L439.2 134.2M407.7 77.8L404.3 71.8M409.1 77.7L408.3 76.2M406.7 73.3L403.4 67.3M431.6 115.7L428.3 109.7M415.2 85.9L414.3 84.4M396.2 51.7L395.4 50.2M441.6 131.2L440.7 129.7M412.8 79.1L412.0 77.6M420.1 89.5L419.2 88.0M404.5 61.2L403.7 59.7M398.8 50.7L398.0 49.3M444.6 131.7L443.7 130.2M419.3 85.4L418.5 84.0M411.1 70.5L410.3 69.0M406.3 61.6L404.6 58.6M403.0 55.6L401.4 52.6M399.7 49.6L398.9 48.1M447.5 134.7L446.7 133.2M445.9 131.7L444.3 128.7M419.1 82.4L418.3 80.9M410.2 66.0L409.4 64.5M406.9 60.0L406.1 58.5M405.3 57.0L399.6 46.6M444.8 127.2L443.2 124.2M411.6 65.9L408.4 59.9M426.4 90.4L425.6 88.9M410.2 60.5L406.2 53.0M400.6 42.5L399.8 41.0M447.7 127.5L446.9 126.0M410.7 58.6L405.9 49.6M405.1 48.1L404.3 46.6M437.9 106.6L437.1 105.1M416.3 66.2L415.5 64.7M413.9 61.7L413.1 60.2M412.3 58.7L409.1 52.7M405.9 46.7L403.5 42.2M416.8 64.3L414.4 59.8M408.8 49.3L407.2 46.3M404.0 40.3L403.2 38.8M444.0 113.0L443.2 111.5M435.3 96.5L434.5 95.0M418.6 64.9L417.0 61.9M415.4 58.9L413.8 55.9M407.5 43.9L405.1 39.4M450.5 122.6L448.9 119.6M422.0 68.4L421.2 66.9M410.9 47.4L409.3 44.4M407.7 41.4L403.7 33.8M423.0 67.6L422.2 66.1M421.4 64.6L419.9 61.6M411.2 45.0L408.8 40.5M461.7 139.0L459.3 134.5M423.2 65.1L421.6 62.1M410.6 41.0L409.8 39.5M409.0 38.0L405.9 32.0M450.5 115.0L447.4 108.9M425.5 66.7L423.9 63.7M420.0 56.1L416.9 50.1M420.6 54.4L419.0 51.4M418.2 49.9L417.5 48.3M409.7 33.2L408.9 31.7M447.3 103.4L446.5 101.9M425.5 61.1L424.0 58.1M421.7 53.5L419.3 49.0M417.8 46.0L416.2 43.0M415.4 41.5L414.7 39.9M413.1 36.9L412.3 35.4M469.5 144.1L468.7 142.6M448.6 103.2L447.8 101.7M446.3 98.7L445.5 97.2M440.1 86.6L439.3 85.1M453.0 109.3L452.3 107.7M449.9 103.2L448.4 100.2M445.3 94.1L443.8 91.1M431.4 66.8L430.7 65.3M429.1 62.3L427.6 59.3M425.3 54.7L424.5 53.2M416.0 36.5L413.7 32.0M465.8 131.8L461.2 122.7M432.0 65.1L430.5 62.1M461.8 121.3L460.3 118.3M455.7 109.2L454.2 106.1M450.4 98.5L449.6 97.0M465.5 125.9L464.7 124.4M457.1 109.2L456.3 107.7M451.7 98.6L451.0 97.0M457.8 108.0L457.1 106.5M453.7 96.9L452.9 95.3M423.7 33.5L419.9 25.9M462.7 109.7L461.2 106.7M458.2 100.6L457.5 99.1M461.6 104.6L458.6 98.5M456.3 94.0L455.6 92.4M461.5 101.7L459.3 97.1M473.4 123.5L470.5 117.3M448.2 71.5L447.4 69.9M481.7 135.2L478.7 129.1M476.5 124.5L474.3 119.9M458.8 87.7L457.4 84.6M468.2 104.4L466.7 101.3M462.1 88.8L461.4 87.2M441.6 45.8L440.2 42.7M490.3 145.4L488.8 142.3M485.9 136.2L484.5 133.1M474.3 111.6L472.8 108.5M467.0 96.2L466.3 94.7M487.7 137.3L482.6 126.5M461.2 72.2L460.5 70.7M459.8 69.1L459.1 67.6M475.5 97.1L474.8 95.5M469.0 79.9L466.1 73.7M458.4 56.7L457.6 55.2M497.8 140.2L494.3 132.4M492.1 122.2L490.0 117.5M469.8 72.6L468.4 69.5M486.0 105.6L485.3 104.1M459.5 46.7L457.5 42.0M470.2 67.2L467.4 61.0M465.3 56.4L464.6 54.8M466.3 55.4L465.6 53.9M459.4 39.9L457.3 35.2M468.0 56.0L467.3 54.4M478.2 76.0L475.4 69.8M467.2 51.1L466.6 49.6M465.9 48.0L465.2 46.4M510.1 145.8L508.7 142.7M489.0 97.5L488.3 96.0M465.1 43.0L464.4 41.5M497.3 113.7L495.9 110.6M485.1 85.6L483.1 81.0M480.3 74.7L477.6 68.5M471.5 54.5L470.9 52.9M509.4 138.7L507.4 134.0M482.4 76.3L481.7 74.7M510.4 138.2L509.7 136.7M491.4 91.1L490.8 89.5M476.1 55.2L473.4 48.9M501.1 110.7L498.4 104.4M508.2 124.4L506.9 121.3M471.7 38.4L469.7 33.7M487.6 72.7L486.3 69.5M483.7 63.3L481.7 58.6M516.0 137.1L514.7 134.0M506.2 110.8L505.6 109.2M499.7 95.1L498.4 92.0M495.8 85.7L494.4 82.5M515.4 129.8L514.7 128.3M492.6 74.9L491.9 73.3M473.7 29.3L473.1 27.7M509.1 111.7L507.2 107.0M491.0 67.7L489.1 63.0M487.8 59.9L487.1 58.3M514.5 121.9L510.0 110.8M521.2 135.2L518.0 127.3M518.1 124.4L517.4 122.9M511.7 108.7L509.8 104.0M493.8 64.6L492.5 61.4M501.5 80.3L500.8 78.7M497.6 70.8L497.0 69.2M497.9 68.2L496.0 63.4M492.9 55.5L490.3 49.2M517.4 113.6L516.8 112.0M510.9 94.1L508.4 87.8M501.5 70.4L500.9 68.8M487.1 34.0L483.9 26.1M495.3 47.8L493.4 43.0M514.8 91.0L511.7 83.1M503.8 62.5L500.7 54.5M493.6 32.7L492.4 29.5M515.4 85.8L513.0 79.4M515.0 81.3L514.4 79.7M499.8 41.5L499.2 40.0M515.5 79.3L514.9 77.7M498.8 31.4L498.2 29.9M508.4 53.4L507.2 50.2M523.5 90.3L522.9 88.7M512.2 60.0L511.6 58.4M505.1 40.9L503.3 36.1M505.3 30.1L503.5 25.3M507.8 33.2L507.2 31.6M523.8 62.8L523.3 61.2" stroke="#0096b4" stroke-width="1.35" fill="none"/>
<path d="M394.7 139.5L393.8 138.1M392.9 136.7L391.9 135.3M393.0 134.7L391.2 131.8M400.5 141.8L399.6 140.4M392.3 128.9L391.3 127.5M403.4 144.2L398.9 137.0M398.0 135.6L397.1 134.1M393.4 128.4L391.6 125.5M399.9 136.4L399.0 134.9M396.3 130.6L394.5 127.8M407.7 146.4L405.0 142.1M401.3 136.3L399.5 133.4M398.6 132.0L397.7 130.6M395.0 126.3L394.1 124.8M393.2 123.4L392.3 121.9M398.4 129.4L397.5 128.0M410.1 145.8L402.0 132.8M397.5 125.6L393.9 119.8M393.0 118.4L392.1 116.9M411.3 145.5L410.4 144.0M398.7 125.3L396.0 120.9M393.4 116.6L392.5 115.2M412.6 145.3L411.7 143.9M410.8 142.4L409.0 139.5M402.8 129.4L401.9 128.0M396.5 119.3L394.7 116.4M414.8 146.5L413.9 145.0M412.1 142.1L411.2 140.7M409.4 137.8L408.5 136.3M404.0 129.1L403.1 127.7M400.5 123.3L399.6 121.9M410.0 136.5L408.2 133.6M402.0 123.5L401.1 122.0M400.0 117.9L397.4 113.5M406.9 126.7L406.0 125.3M404.2 122.4L403.3 120.9M399.8 115.1L398.9 113.7M398.0 112.2L397.2 110.8M395.4 107.9L394.5 106.4M417.2 141.4L415.5 138.5M408.4 126.9L406.7 124.0M405.8 122.5L404.9 121.1M397.0 108.0L394.3 103.6M393.4 102.2L392.5 100.7M416.2 137.5L415.4 136.0M414.5 134.6L413.6 133.1M412.7 131.7L410.1 127.3M403.9 117.1L403.1 115.6M399.5 109.8L397.8 106.9M396.9 105.5L396.0 104.0M421.1 143.2L415.8 134.5M411.5 127.2L410.6 125.7M408.8 122.8L406.2 118.4M402.7 112.6L401.8 111.2M423.3 144.6L418.9 137.3M408.5 119.8L406.7 116.9M405.0 114.0L403.2 111.1M402.3 109.6L398.0 102.3M395.4 97.9L394.5 96.5M392.7 93.6L391.9 92.1M425.2 145.5L421.8 139.7M420.9 138.2L420.0 136.8M406.1 113.4L404.3 110.5M401.7 106.1L400.0 103.2M393.9 93.0L393.0 91.5M426.5 145.2L425.6 143.8M416.0 127.7L415.2 126.2M397.8 97.0L395.2 92.6M423.4 137.8L422.6 136.4M421.7 134.9L420.8 133.4M411.3 117.3L410.5 115.9M407.9 111.5L404.4 105.6M402.7 102.7L401.8 101.2M397.5 93.9L396.6 92.5M426.3 140.4L425.4 138.9M422.0 133.0L421.1 131.6M409.1 111.1L408.2 109.6M404.7 103.7L403.0 100.8M421.7 130.2L420.9 128.7M403.7 99.4L402.8 97.9M432.4 146.1L429.9 141.7M429.0 140.3L427.3 137.3M425.6 134.4L422.1 128.5M406.7 102.1L405.9 100.6M394.7 81.5L393.9 80.1M428.1 136.3L427.2 134.9M419.5 121.6L417.8 118.7M400.8 89.3L399.9 87.8M422.1 123.6L421.2 122.1M419.5 119.2L418.7 117.7M411.9 106.0L411.0 104.5M405.9 95.7L403.4 91.2M402.5 89.8L401.7 88.3M433.4 140.9L432.6 139.4M431.7 137.9L430.9 136.4M421.6 120.2L419.0 115.8M415.6 109.9L413.1 105.5M405.4 92.2L403.7 89.3M431.4 134.9L430.5 133.4M427.1 127.5L426.3 126.0M417.0 109.8L416.2 108.3M411.1 99.5L410.2 98.0M407.7 93.6L401.8 83.3M427.6 125.9L426.7 124.4M422.5 117.0L421.7 115.5M420.0 112.6L418.3 109.6M428.5 125.1L427.7 123.6M420.1 110.3L419.3 108.8M407.5 88.1L405.9 85.2M397.5 70.4L396.6 68.9M394.1 64.5L393.3 63.0M426.5 118.9L422.3 111.5M417.2 102.7L415.6 99.7M408.0 86.4L406.4 83.4M403.8 79.0L403.0 77.5M398.0 68.6L397.1 67.2M433.5 128.9L432.6 127.5M423.5 111.2L416.8 99.3M413.5 93.4L411.8 90.4M444.2 145.5L442.5 142.6M411.7 87.7L410.9 86.2M401.8 69.9L400.9 68.4M395.1 58.1L394.3 56.6M435.8 128.2L434.2 125.3M425.1 108.9L420.9 101.5M414.3 89.6L413.5 88.2M446.3 144.6L444.7 141.6M443.8 140.1L443.0 138.7M441.3 135.7L440.5 134.2M433.9 122.3L429.0 113.4M420.7 98.5L419.9 97.1M419.0 95.6L416.6 91.1M413.3 85.2L410.8 80.7M399.2 59.9L397.6 56.9M444.8 139.5L444.0 138.0M437.4 126.1L436.6 124.6M433.3 118.6L432.4 117.1M428.3 109.7L427.5 108.2M412.7 81.4L411.9 80.0M407.7 72.5L402.8 63.6M400.3 59.1L399.5 57.6M449.8 146.1L448.9 144.6M440.7 129.7L439.9 128.2M438.3 125.2L435.8 120.8M430.1 110.3L429.3 108.8M414.5 82.0L412.8 79.1M440.5 126.8L439.7 125.3M437.2 120.8L436.4 119.3M431.5 110.4L430.7 108.9M428.2 104.4L426.6 101.4M417.6 85.0L416.0 82.0M445.4 133.2L444.6 131.7M441.3 125.7L439.7 122.7M432.3 109.3L431.5 107.8M422.6 91.4L421.7 89.9M409.5 67.5L407.1 63.1M451.6 142.2L450.8 140.7M439.4 119.8L434.5 110.8M433.7 109.3L431.3 104.8M426.4 95.9L424.0 91.4M418.3 80.9L417.5 79.4M450.5 137.6L448.8 134.6M448.0 133.1L447.2 131.7M439.1 116.7L437.5 113.7M433.5 106.2L431.0 101.7M415.7 73.3L414.9 71.8M454.6 142.8L453.8 141.3M451.3 136.8L448.9 132.3M439.3 114.4L436.8 109.9M433.6 103.9L430.4 97.9M424.7 87.4L423.9 85.9M417.5 74.0L415.9 71.0M455.7 142.5L454.1 139.5M450.1 132.0L448.5 129.0M446.0 124.5L445.2 123.0M443.6 120.0L442.8 118.5M421.9 79.5L418.7 73.5M401.1 40.6L399.5 37.6M452.3 133.6L451.5 132.1M449.9 129.1L449.1 127.6M445.9 121.6L445.1 120.1M433.1 97.6L432.3 96.1M453.5 133.4L450.3 127.4M449.5 125.9L448.7 124.4M447.1 121.4L446.3 119.9M422.4 74.8L421.6 73.3M453.6 131.0L452.0 128.0M445.6 116.0L444.8 114.5M440.1 105.5L439.3 104.0M425.0 76.9L424.2 75.4M421.8 70.9L421.0 69.4M405.1 39.4L403.5 36.4M460.8 142.2L460.0 140.7M441.0 104.6L439.4 101.5M425.1 74.5L422.7 70.0M411.7 48.9L410.9 47.4M458.5 135.4L457.7 133.9M451.4 121.8L443.5 106.8M434.1 88.7L433.3 87.2M416.7 55.6L415.9 54.1M413.5 49.6L411.2 45.0M464.8 145.0L464.1 143.5M457.0 130.0L456.2 128.4M450.7 117.9L446.0 108.9M438.9 95.3L438.1 93.8M437.3 92.3L435.0 87.7M428.7 75.7L427.9 74.2M421.6 62.1L420.8 60.6M466.2 145.2L465.4 143.6M464.6 142.1L463.9 140.6M463.1 139.1L461.5 136.1M459.9 133.1L459.2 131.6M439.6 93.9L437.2 89.3M427.8 71.2L426.3 68.2M461.2 132.9L459.6 129.9M455.7 122.3L451.0 113.3M440.9 93.7L440.1 92.1M434.6 81.6L433.9 80.1M430.7 74.0L430.0 72.5M427.6 68.0L426.8 66.5M422.9 58.9L420.6 54.4M415.9 45.3L409.7 33.2M443.4 95.9L441.1 91.3M438.0 85.3L437.2 83.8M433.3 76.2L432.5 74.7M424.0 58.1L423.2 56.6M416.2 43.0L415.4 41.5M411.6 33.9L410.8 32.4M467.9 141.1L467.2 139.5M450.1 106.2L449.4 104.7M444.7 95.7L442.4 91.1M441.6 89.6L440.8 88.1M436.2 79.0L433.9 74.5M419.1 45.7L417.6 42.7M412.2 32.1L409.9 27.6M458.4 119.9L456.1 115.3M447.6 98.7L446.9 97.1M439.9 83.5L438.4 80.5M437.6 79.0L436.8 77.4M419.9 44.1L417.5 39.6M455.1 110.6L454.3 109.1M437.4 75.7L433.6 68.1M426.6 54.5L425.9 53.0M425.1 51.5L424.3 50.0M467.2 131.9L462.6 122.8M434.3 66.7L433.5 65.2M419.7 37.8L418.9 36.3M418.2 34.8L416.7 31.8M415.9 30.3L415.1 28.7M475.4 145.7L471.6 138.1M467.0 128.9L465.5 125.9M464.7 124.4L463.9 122.9M461.7 118.3L458.6 112.2M428.8 53.0L424.3 43.9M418.9 33.2L418.2 31.7M417.4 30.2L416.6 28.7M464.7 121.7L463.9 120.2M460.9 114.1L458.6 109.5M455.6 103.4L454.8 101.9M448.7 89.7L446.4 85.2M432.0 56.3L428.9 50.2M474.1 138.0L471.8 133.4M459.0 107.5L456.7 103.0M447.6 84.7L445.3 80.1M440.8 71.0L440.0 69.5M428.7 46.6L427.9 45.1M427.1 43.6L422.6 34.5M478.7 144.7L476.5 140.2M475.0 137.1L469.7 126.4M466.7 120.3L464.4 115.8M462.1 111.2L461.4 109.7M457.6 102.1L453.1 92.9M441.8 70.1L439.5 65.5M437.2 60.9L434.2 54.8M432.0 50.3L428.9 44.2M479.3 143.3L477.8 140.2M469.5 123.5L468.8 121.9M453.0 89.9L451.5 86.9M450.7 85.3L447.7 79.2M447.0 77.7L445.5 74.7M439.4 62.5L437.9 59.4M442.9 66.5L441.4 63.4M439.1 58.9L438.4 57.3M481.6 142.9L480.1 139.9M477.9 135.3L477.2 133.8M471.9 123.1L471.2 121.6M454.8 87.9L453.3 84.9M451.8 81.8L450.3 78.8M427.2 31.4L426.5 29.9M484.6 146.4L483.8 144.9M481.6 140.3L479.4 135.7M478.6 134.2L475.7 128.0M470.5 117.3L465.3 106.6M464.5 105.1L463.8 103.6M460.8 97.5L460.1 95.9M453.4 82.2L450.4 76.1M443.0 60.8L440.7 56.2M484.1 142.8L483.3 141.2M446.3 64.7L445.6 63.2M430.1 31.0L429.3 29.5M466.2 103.0L465.5 101.5M460.3 90.8L458.8 87.7M451.5 72.4L450.0 69.3M449.3 67.8L447.0 63.2M446.3 61.7L443.4 55.5M488.0 145.8L479.9 128.9M465.3 98.3L463.8 95.2M458.7 84.5L456.5 79.9M452.8 72.2L451.3 69.1M446.2 58.4L445.5 56.9M444.0 53.8L441.8 49.2M484.8 136.4L484.0 134.8M479.6 125.6L478.9 124.1M477.4 121.0L476.7 119.5M461.4 87.2L459.9 84.2M457.0 78.0L454.8 73.4M438.7 39.7L437.2 36.6M488.8 142.3L486.7 137.7M470.6 103.9L469.9 102.4M461.9 85.5L459.0 79.3M453.9 68.6L453.2 67.0M451.0 62.4L450.3 60.9M448.8 57.8L448.1 56.3M439.3 37.8L438.6 36.3M435.7 30.2L433.5 25.6M489.2 140.4L488.5 138.8M467.4 94.2L466.0 91.2M458.7 75.8L458.0 74.3M442.8 42.0L440.6 37.4M439.9 35.8L439.1 34.3M489.9 139.2L489.2 137.7M483.4 125.4L482.7 123.8M477.6 113.1L473.3 103.8M472.6 102.3L471.8 100.8M467.5 91.5L466.8 90.0M464.6 85.4L462.4 80.8M461.7 79.2L460.3 76.1M453.1 60.7L452.3 59.2M445.1 43.8L444.4 42.3M443.7 40.7L442.9 39.2M437.9 28.4L436.4 25.3M482.0 119.6L481.2 118.0M474.0 102.6L473.3 101.1M470.5 94.9L469.7 93.4M467.6 88.8L464.7 82.6M451.8 54.9L449.6 50.3M448.9 48.7L447.4 45.6M446.7 44.1L446.0 42.6M494.9 144.7L493.5 141.6M477.7 107.7L475.6 103.0M474.8 101.5L469.1 89.2M466.3 83.0L464.8 79.9M455.5 59.9L454.1 56.8M496.5 145.4L495.7 143.8M490.8 133.0L488.6 128.4M485.8 122.2L482.9 116.0M482.2 114.5L477.2 103.7M458.7 63.6L456.5 58.9M446.5 37.3L445.8 35.8M492.5 134.1L490.4 129.5M488.3 124.9L485.4 118.7M484.7 117.1L484.0 115.6M482.6 112.5L481.9 111.0M466.9 78.5L463.4 70.8M456.3 55.4L454.2 50.7M452.0 46.1L448.5 38.4M445.6 32.2L443.5 27.6M496.6 140.2L495.1 137.1M493.7 134.0L493.0 132.5M492.3 130.9L490.9 127.8M488.8 123.2L487.4 120.1M484.5 113.9L483.8 112.4M459.1 58.3L458.4 56.7M456.9 53.6L456.2 52.1M452.7 44.4L452.0 42.8M447.7 33.5L447.0 32.0M489.3 121.6L487.2 117.0M472.4 84.5L470.3 79.8M469.6 78.3L467.5 73.7M464.0 65.9L461.8 61.3M457.6 52.0L455.5 47.3M453.4 42.7L452.7 41.2M501.7 146.1L499.6 141.4M497.5 136.8L496.8 135.2M494.0 129.0L493.3 127.5M489.8 119.8L489.1 118.2M487.0 113.6L485.6 110.5M482.0 102.7L481.3 101.2M475.7 88.8L474.3 85.7M465.9 67.1L465.2 65.6M490.0 117.5L486.5 109.8M485.8 108.2L484.4 105.1M483.0 102.0L481.6 98.9M480.9 97.4L480.3 95.8M479.6 94.3L478.2 91.2M453.0 35.4L448.8 26.1M486.7 107.2L486.0 105.6M483.9 101.0L482.5 97.9M475.5 82.4L474.9 80.8M470.7 71.5L469.3 68.4M457.5 42.0L455.4 37.4M499.3 132.5L498.6 130.9M492.3 116.9L491.6 115.4M489.6 110.7L488.9 109.2M486.8 104.5L486.1 103.0M484.0 98.3L483.3 96.7M479.9 89.0L479.2 87.4M474.3 76.6L470.2 67.2M464.6 54.8L463.9 53.3M492.5 114.4L491.8 112.9M490.4 109.8L487.7 103.6M478.7 83.4L478.0 81.8M473.2 70.9L469.1 61.6M457.3 35.2L456.6 33.7M494.8 116.6L493.4 113.5M478.3 79.3L476.2 74.6M463.8 46.7L460.4 38.9M455.6 28.0L454.9 26.4M503.5 133.6L502.1 130.5M500.1 125.8L499.4 124.3M490.5 104.0L487.8 97.8M485.0 91.6L484.3 90.0M483.6 88.5L482.3 85.4M479.5 79.1L478.2 76.0M497.8 117.8L494.4 110.0M487.6 94.4L486.9 92.9M479.4 75.7L476.0 67.9M469.9 53.9L469.2 52.4M499.3 118.4L497.3 113.7M491.2 99.7L490.5 98.1M489.2 95.0L486.4 88.8M482.4 79.4L481.7 77.9M475.6 63.8L474.9 62.3M470.9 52.9L466.1 42.0M462.0 32.6L461.4 31.1M511.4 143.4L510.7 141.8M507.4 134.0L505.3 129.3M495.9 107.5L495.2 105.9M489.1 91.9L487.8 88.8M481.0 73.2L477.7 65.4M469.6 46.6L466.2 38.8M511.7 141.3L511.1 139.8M508.4 133.5L507.7 132.0M496.3 105.4L495.6 103.9M492.9 97.6L490.9 92.9M489.6 89.8L488.9 88.3M488.2 86.7L487.5 85.1M475.5 57.0L474.8 55.5M468.7 41.4L467.4 38.3M509.5 133.3L506.8 127.0M505.5 123.9L504.8 122.4M499.5 109.9L494.1 97.4M490.8 89.5L490.1 88.0M489.4 86.4L488.1 83.3M486.8 80.2L486.1 78.6M471.4 44.2L469.4 39.5M468.7 38.0L467.4 34.8M465.3 30.2L464.0 27.0M505.7 121.6L503.7 116.9M498.4 104.4L495.1 96.6M480.4 62.2L478.4 57.5M470.4 38.7L469.8 37.1M506.9 121.3L506.2 119.8M493.6 90.0L489.0 79.1M488.3 77.5L487.6 75.9M477.7 52.4L476.4 49.3M467.8 29.0L466.4 25.8M518.0 144.7L514.7 136.9M501.5 105.6L499.5 100.9M486.3 69.5L485.6 68.0M475.1 42.9L473.1 38.2M471.1 33.5L470.5 31.9M519.3 145.0L517.3 140.3M512.1 127.7L511.4 126.2M502.2 104.2L500.2 99.5M496.9 91.7L494.3 85.4M489.7 74.4L489.1 72.9M516.0 134.3L515.4 132.8M511.5 123.3L510.1 120.2M505.6 109.2L504.9 107.7M503.0 102.9L501.0 98.2M496.4 87.3L495.8 85.7M493.8 81.0L492.5 77.8M491.2 74.7L490.5 73.1M485.9 62.2L485.3 60.6M483.3 55.9L481.4 51.2M480.7 49.6L473.5 32.3M521.9 145.5L519.3 139.2M506.9 109.4L506.3 107.8M505.6 106.3L504.3 103.1M502.4 98.4L499.7 92.1M499.1 90.6L498.4 89.0M484.8 56.0L484.1 54.4M482.8 51.3L482.2 49.7M479.6 43.4L477.6 38.7M521.5 141.6L518.2 133.8M505.9 103.9L502.0 94.5M500.1 89.7L499.4 88.2M496.2 80.3L494.9 77.2M488.4 61.5L487.8 59.9M483.9 50.5L481.9 45.7M474.8 28.5L473.5 25.3M522.3 140.7L521.6 139.2M517.8 129.7L515.2 123.4M510.0 110.8L509.4 109.3M486.8 54.2L486.2 52.6M478.4 33.8L477.8 32.2M518.0 127.3L517.4 125.7M515.4 121.0L514.1 117.8M512.2 113.1L511.6 111.5M500.0 83.2L499.4 81.6M487.8 53.3L486.5 50.2M484.0 43.9L481.4 37.6M478.8 31.3L477.5 28.1M521.3 132.3L520.0 129.2M507.8 99.2L505.9 94.5M498.9 77.2L498.2 75.6M496.3 70.9L495.7 69.3M492.5 61.4L490.6 56.7M488.0 50.4L487.4 48.8M482.3 36.2L481.6 34.6M480.4 31.5L479.1 28.3M517.4 119.7L516.1 116.5M508.5 97.6L506.6 92.9M489.4 50.3L487.5 45.6M485.6 40.9L483.7 36.1M502.4 79.2L501.7 77.6M494.7 56.8L494.1 55.2M490.3 45.7L487.8 39.4M522.2 122.5L519.7 116.2M511.5 95.7L510.9 94.1M499.0 64.1L495.9 56.2M492.7 48.3L487.7 35.6M523.1 121.9L522.5 120.3M511.9 93.4L511.3 91.8M510.0 88.7L506.9 80.8M502.6 69.7L501.9 68.1M494.4 49.1L493.8 47.5M492.6 44.4L486.3 28.6M504.6 71.5L504.0 69.9M503.5 65.3L500.4 57.3M496.7 47.8L493.6 39.9M508.1 73.5L504.4 64.0M496.4 43.4L495.8 41.8M493.3 35.5L492.1 32.3M510.1 75.5L509.5 73.9M498.5 45.4L497.9 43.8M500.2 46.1L498.4 41.4M497.1 38.2L495.9 35.0M511.9 73.3L511.3 71.7M498.6 38.4L497.4 35.2M496.2 32.0L495.0 28.8M513.7 74.5L513.1 72.9M510.7 66.6L507.7 58.6M503.5 47.5L500.4 39.5M499.8 38.0L497.4 31.6M515.0 74.4L514.4 72.8M513.8 71.2L513.2 69.6M512.0 66.4L510.8 63.3M503.6 44.2L501.8 39.4M500.0 34.6L498.8 31.4M521.5 88.4L520.4 85.3M513.8 67.8L513.2 66.2M511.4 61.4L508.4 53.4M504.8 43.9L503.0 39.1M499.5 29.5L498.3 26.4M511.0 56.8L509.8 53.6M500.3 28.1L499.7 26.5M523.6 87.1L521.8 82.3M520.0 77.5L518.3 72.7M511.2 53.6L510.0 50.4M505.9 39.3L504.7 36.1M513.2 55.4L512.6 53.8M505.6 34.6L504.4 31.4M521.6 74.8L521.1 73.2M519.3 68.4L518.1 65.2M517.0 62.0L516.4 60.4M518.8 63.5L518.3 61.9M513.0 47.5L511.9 44.3M511.3 42.8L510.7 41.2M510.1 39.6L509.5 38.0M523.5 72.8L522.9 71.2M524.0 70.4L523.4 68.8M522.2 65.6L521.1 62.4M516.5 49.6L513.6 41.6M523.8 66.3L522.1 61.5M518.1 50.3L516.9 47.1M515.8 43.9L513.5 37.5M511.8 32.7L510.6 29.5M518.2 46.7L513.6 33.9M519.5 46.9L517.8 42.0M514.5 32.4L512.2 26.0M516.4 34.2L515.3 31.0M521.1 31.7L519.4 26.9" stroke="#90e0ec" stroke-width="1.35" fill="none"/>
<path d="M518.0 115.2L517.4 113.6M512.2 97.3L511.5 95.7M519.4 112.4L518.2 109.2M513.8 98.1L511.9 93.4M522.0 115.8L519.5 109.5M523.3 115.9L520.8 109.6M515.2 95.3L514.0 92.2M519.7 103.7L517.9 98.9M516.7 95.7L514.8 91.0M519.3 99.3L518.7 97.7M522.1 103.3L517.8 92.1M523.4 103.5L521.0 97.1M523.9 101.5L522.7 98.4" stroke="#00c000" stroke-width="1.35" fill="none"/>
<path d="M519.7 116.2L519.1 114.6M515.2 98.4L514.5 96.8M515.9 96.9L515.2 95.3M521.2 104.1L519.3 99.3M521.0 97.1L519.2 92.4M522.7 98.4L520.3 92.0M524.0 98.3L521.6 91.9M523.9 94.8L522.7 91.6" stroke="#008000" stroke-width="1.35" fill="none"/>
<path d="M520.2 108.0L518.9 104.8M523.6 110.4L521.2 104.1" stroke="#ffff00" stroke-width="1.35" fill="none"/>
<path d="M518.7 97.7L517.5 94.5" stroke="#ffc800" stroke-width="1.35" fill="none"/>
</g>
<rect x="392.0" y="26.5" width="132.0" height="120.0" fill="none" stroke="#3a3a3a" stroke-width="0.7"/>
<text x="458.00" y="23.80" font-size="6.8" text-anchor="middle" textLength="70.47" lengthAdjust="spacingAndGlyphs" >Velocity spectrum width</text>
<line x1="406.67" y1="146.5" x2="406.67" y2="148.7" stroke="#3a3a3a" stroke-width="0.6"/>
<text x="406.67" y="153.60" font-size="5.7" text-anchor="middle" textLength="6.04" lengthAdjust="spacingAndGlyphs" >20</text>
<line x1="436.00" y1="146.5" x2="436.00" y2="148.7" stroke="#3a3a3a" stroke-width="0.6"/>
<text x="436.00" y="153.60" font-size="5.7" text-anchor="middle" textLength="6.04" lengthAdjust="spacingAndGlyphs" >30</text>
<line x1="465.33" y1="146.5" x2="465.33" y2="148.7" stroke="#3a3a3a" stroke-width="0.6"/>
<text x="465.33" y="153.60" font-size="5.7" text-anchor="middle" textLength="6.04" lengthAdjust="spacingAndGlyphs" >40</text>
<line x1="494.67" y1="146.5" x2="494.67" y2="148.7" stroke="#3a3a3a" stroke-width="0.6"/>
<text x="494.67" y="153.60" font-size="5.7" text-anchor="middle" textLength="6.04" lengthAdjust="spacingAndGlyphs" >50</text>
<line x1="524.00" y1="146.5" x2="524.00" y2="148.7" stroke="#3a3a3a" stroke-width="0.6"/>
<text x="524.00" y="153.60" font-size="5.7" text-anchor="middle" textLength="6.04" lengthAdjust="spacingAndGlyphs" >60</text>
<text x="458.00" y="161.40" font-size="5.7" text-anchor="middle" textLength="13.80" lengthAdjust="spacingAndGlyphs" >x/km</text>
<line x1="389.80" y1="146.50" x2="392.0" y2="146.50" stroke="#3a3a3a" stroke-width="0.6"/>
<text x="389.00" y="148.50" font-size="5.7" text-anchor="end" textLength="3.02" lengthAdjust="spacingAndGlyphs" >5</text>
<line x1="389.80" y1="126.50" x2="392.0" y2="126.50" stroke="#3a3a3a" stroke-width="0.6"/>
<text x="389.00" y="128.50" font-size="5.7" text-anchor="end" textLength="6.04" lengthAdjust="spacingAndGlyphs" >10</text>
<line x1="389.80" y1="106.50" x2="392.0" y2="106.50" stroke="#3a3a3a" stroke-width="0.6"/>
<text x="389.00" y="108.50" font-size="5.7" text-anchor="end" textLength="6.04" lengthAdjust="spacingAndGlyphs" >15</text>
<line x1="389.80" y1="86.50" x2="392.0" y2="86.50" stroke="#3a3a3a" stroke-width="0.6"/>
<text x="389.00" y="88.50" font-size="5.7" text-anchor="end" textLength="6.04" lengthAdjust="spacingAndGlyphs" >20</text>
<line x1="389.80" y1="66.50" x2="392.0" y2="66.50" stroke="#3a3a3a" stroke-width="0.6"/>
<text x="389.00" y="68.50" font-size="5.7" text-anchor="end" textLength="6.04" lengthAdjust="spacingAndGlyphs" >25</text>
<line x1="389.80" y1="46.50" x2="392.0" y2="46.50" stroke="#3a3a3a" stroke-width="0.6"/>
<text x="389.00" y="48.50" font-size="5.7" text-anchor="end" textLength="6.04" lengthAdjust="spacingAndGlyphs" >30</text>
<line x1="389.80" y1="26.50" x2="392.0" y2="26.50" stroke="#3a3a3a" stroke-width="0.6"/>
<text x="389.00" y="28.50" font-size="5.7" text-anchor="end" textLength="6.04" lengthAdjust="spacingAndGlyphs" >35</text>
<text x="0.00" y="0.00" font-size="5.7" text-anchor="middle" textLength="13.80" lengthAdjust="spacingAndGlyphs" transform="translate(379.70,86.50) rotate(-90)">y/km</text>
<rect x="531.3" y="138.50" width="6.3" height="8.25" fill="#7a0080"/>
<rect x="531.3" y="130.50" width="6.3" height="8.25" fill="#e6e2e6"/>
<rect x="531.3" y="122.50" width="6.3" height="8.25" fill="#90e0ec"/>
<rect x="531.3" y="114.50" width="6.3" height="8.25" fill="#08e2ea"/>
<rect x="531.3" y="106.50" width="6.3" height="8.25" fill="#0096b4"/>
<rect x="531.3" y="98.50" width="6.3" height="8.25" fill="#00f0f0"/>
<rect x="531.3" y="90.50" width="6.3" height="8.25" fill="#00c000"/>
<rect x="531.3" y="82.50" width="6.3" height="8.25" fill="#008000"/>
<rect x="531.3" y="74.50" width="6.3" height="8.25" fill="#ffff00"/>
<rect x="531.3" y="66.50" width="6.3" height="8.25" fill="#ffc800"/>
<rect x="531.3" y="58.50" width="6.3" height="8.25" fill="#ff7800"/>
<rect x="531.3" y="50.50" width="6.3" height="8.25" fill="#ffb0b0"/>
<rect x="531.3" y="42.50" width="6.3" height="8.25" fill="#ff6464"/>
<rect x="531.3" y="34.50" width="6.3" height="8.25" fill="#d02020"/>
<rect x="531.3" y="26.50" width="6.3" height="8.25" fill="#ff0000"/>
<rect x="531.3" y="26.5" width="6.3" height="120.0" fill="none" stroke="#555" stroke-width="0.5"/>
<line x1="537.5999999999999" y1="146.50" x2="539.40" y2="146.50" stroke="#3a3a3a" stroke-width="0.5"/>
<text x="540.60" y="148.50" font-size="5.7" text-anchor="start" textLength="6.03" lengthAdjust="spacingAndGlyphs" >RF</text>
<line x1="537.5999999999999" y1="138.50" x2="539.40" y2="138.50" stroke="#3a3a3a" stroke-width="0.5"/>
<text x="540.60" y="140.50" font-size="5.7" text-anchor="start" textLength="3.02" lengthAdjust="spacingAndGlyphs" >0</text>
<line x1="537.5999999999999" y1="130.50" x2="539.40" y2="130.50" stroke="#3a3a3a" stroke-width="0.5"/>
<text x="540.60" y="132.50" font-size="5.7" text-anchor="start" textLength="3.02" lengthAdjust="spacingAndGlyphs" >1</text>
<line x1="537.5999999999999" y1="122.50" x2="539.40" y2="122.50" stroke="#3a3a3a" stroke-width="0.5"/>
<text x="540.60" y="124.50" font-size="5.7" text-anchor="start" textLength="3.02" lengthAdjust="spacingAndGlyphs" >2</text>
<line x1="537.5999999999999" y1="114.50" x2="539.40" y2="114.50" stroke="#3a3a3a" stroke-width="0.5"/>
<text x="540.60" y="116.50" font-size="5.7" text-anchor="start" textLength="3.02" lengthAdjust="spacingAndGlyphs" >3</text>
<line x1="537.5999999999999" y1="106.50" x2="539.40" y2="106.50" stroke="#3a3a3a" stroke-width="0.5"/>
<text x="540.60" y="108.50" font-size="5.7" text-anchor="start" textLength="3.02" lengthAdjust="spacingAndGlyphs" >4</text>
<line x1="537.5999999999999" y1="98.50" x2="539.40" y2="98.50" stroke="#3a3a3a" stroke-width="0.5"/>
<text x="540.60" y="100.50" font-size="5.7" text-anchor="start" textLength="3.02" lengthAdjust="spacingAndGlyphs" >5</text>
<line x1="537.5999999999999" y1="90.50" x2="539.40" y2="90.50" stroke="#3a3a3a" stroke-width="0.5"/>
<text x="540.60" y="92.50" font-size="5.7" text-anchor="start" textLength="3.02" lengthAdjust="spacingAndGlyphs" >6</text>
<line x1="537.5999999999999" y1="82.50" x2="539.40" y2="82.50" stroke="#3a3a3a" stroke-width="0.5"/>
<text x="540.60" y="84.50" font-size="5.7" text-anchor="start" textLength="3.02" lengthAdjust="spacingAndGlyphs" >7</text>
<line x1="537.5999999999999" y1="74.50" x2="539.40" y2="74.50" stroke="#3a3a3a" stroke-width="0.5"/>
<text x="540.60" y="76.50" font-size="5.7" text-anchor="start" textLength="3.02" lengthAdjust="spacingAndGlyphs" >8</text>
<line x1="537.5999999999999" y1="66.50" x2="539.40" y2="66.50" stroke="#3a3a3a" stroke-width="0.5"/>
<text x="540.60" y="68.50" font-size="5.7" text-anchor="start" textLength="3.02" lengthAdjust="spacingAndGlyphs" >9</text>
<line x1="537.5999999999999" y1="58.50" x2="539.40" y2="58.50" stroke="#3a3a3a" stroke-width="0.5"/>
<text x="540.60" y="60.50" font-size="5.7" text-anchor="start" textLength="6.04" lengthAdjust="spacingAndGlyphs" >10</text>
<line x1="537.5999999999999" y1="50.50" x2="539.40" y2="50.50" stroke="#3a3a3a" stroke-width="0.5"/>
<text x="540.60" y="52.50" font-size="5.7" text-anchor="start" textLength="6.04" lengthAdjust="spacingAndGlyphs" >11</text>
<line x1="537.5999999999999" y1="42.50" x2="539.40" y2="42.50" stroke="#3a3a3a" stroke-width="0.5"/>
<text x="540.60" y="44.50" font-size="5.7" text-anchor="start" textLength="6.04" lengthAdjust="spacingAndGlyphs" >12</text>
<line x1="537.5999999999999" y1="34.50" x2="539.40" y2="34.50" stroke="#3a3a3a" stroke-width="0.5"/>
<text x="540.60" y="36.50" font-size="5.7" text-anchor="start" textLength="6.04" lengthAdjust="spacingAndGlyphs" >13</text>
<line x1="537.5999999999999" y1="26.50" x2="539.40" y2="26.50" stroke="#3a3a3a" stroke-width="0.5"/>
<text x="540.60" y="28.50" font-size="5.7" text-anchor="start" textLength="6.04" lengthAdjust="spacingAndGlyphs" >63</text>
<text x="538.80" y="152.80" font-size="5.7" text-anchor="middle" textLength="8.61" lengthAdjust="spacingAndGlyphs" >m/s</text>
<text x="187.00" y="167.60" font-size="6.7" text-anchor="start" textLength="9.6" lengthAdjust="spacingAndGlyphs">1.5</text>
<text x="198.40" y="165.60" font-size="5.2" text-anchor="start" >°</text>
<text x="202.30" y="167.60" font-size="6.7" text-anchor="start" textLength="171.2" lengthAdjust="spacingAndGlyphs">Radar data Z9513-2016-07-06 15:58(Beijing time, UTC+8)</text>
<clipPath id="clip10"><rect x="21.0" y="185.5" width="132.0" height="120.0"/></clipPath>
<g clip-path="url(#clip10)">
<g><rect x="17.0" y="181.5" width="35.0" height="11.0" fill="#ee0000"/>
<rect x="51.0" y="181.5" width="19.0" height="11.0" fill="#ff9000"/>
<rect x="69.0" y="181.5" width="7.0" height="11.0" fill="#ffff00"/>
<rect x="75.0" y="181.5" width="25.0" height="11.0" fill="#238a16"/>
<rect x="99.0" y="181.5" width="7.0" height="11.0" fill="#3cb41e"/>
<rect x="105.0" y="181.5" width="19.0" height="11.0" fill="#ffff00"/>
<rect x="123.0" y="181.5" width="13.0" height="11.0" fill="#238a16"/>
<rect x="135.0" y="181.5" width="22.0" height="11.0" fill="#62e020"/>
<rect x="17.0" y="191.5" width="35.0" height="7.0" fill="#ee0000"/>
<rect x="51.0" y="191.5" width="7.0" height="7.0" fill="#ff9000"/>
<rect x="57.0" y="191.5" width="13.0" height="7.0" fill="#e7c000"/>
<rect x="69.0" y="191.5" width="7.0" height="7.0" fill="#ffff00"/>
<rect x="75.0" y="191.5" width="19.0" height="7.0" fill="#238a16"/>
<rect x="93.0" y="191.5" width="19.0" height="7.0" fill="#ffff00"/>
<rect x="111.0" y="191.5" width="7.0" height="7.0" fill="#238a16"/>
<rect x="117.0" y="191.5" width="7.0" height="7.0" fill="#ffff00"/>
<rect x="123.0" y="191.5" width="13.0" height="7.0" fill="#238a16"/>
<rect x="135.0" y="191.5" width="22.0" height="7.0" fill="#62e020"/>
<rect x="17.0" y="197.5" width="35.0" height="7.0" fill="#ee0000"/>
<rect x="51.0" y="197.5" width="13.0" height="7.0" fill="#ff9000"/>
<rect x="63.0" y="197.5" width="7.0" height="7.0" fill="#e7c000"/>
<rect x="69.0" y="197.5" width="7.0" height="7.0" fill="#ffff00"/>
<rect x="75.0" y="197.5" width="7.0" height="7.0" fill="#238a16"/>
<rect x="81.0" y="197.5" width="13.0" height="7.0" fill="#ffff00"/>
<rect x="93.0" y="197.5" width="7.0" height="7.0" fill="#e7c000"/>
<rect x="99.0" y="197.5" width="13.0" height="7.0" fill="#ffff00"/>
<rect x="111.0" y="197.5" width="19.0" height="7.0" fill="#238a16"/>
<rect x="129.0" y="197.5" width="7.0" height="7.0" fill="#62e020"/>
<rect x="135.0" y="197.5" width="7.0" height="7.0" fill="#20e8f0"/>
<rect x="141.0" y="197.5" width="16.0" height="7.0" fill="#62e020"/>
<rect x="17.0" y="203.5" width="35.0" height="7.0" fill="#ee0000"/>
<rect x="51.0" y="203.5" width="7.0" height="7.0" fill="#ee0000"/>
<rect x="57.0" y="203.5" width="7.0" height="7.0" fill="#ff9000"/>
<rect x="63.0" y="203.5" width="13.0" height="7.0" fill="#e7c000"/>
<rect x="75.0" y="203.5" width="13.0" height="7.0" fill="#ffff00"/>
<rect x="87.0" y="203.5" width="7.0" height="7.0" fill="#e7c000"/>
<rect x="93.0" y="203.5" width="7.0" height="7.0" fill="#ff9000"/>
<rect x="99.0" y="203.5" width="7.0" height="7.0" fill="#e7c000"/>
<rect x="105.0" y="203.5" width="7.0" height="7.0" fill="#ffff00"/>
<rect x="111.0" y="203.5" width="19.0" height="7.0" fill="#238a16"/>
<rect x="129.0" y="203.5" width="7.0" height="7.0" fill="#62e020"/>
<rect x="135.0" y="203.5" width="7.0" height="7.0" fill="#20e8f0"/>
<rect x="141.0" y="203.5" width="7.0" height="7.0" fill="#20a0f0"/>
<rect x="147.0" y="203.5" width="10.0" height="7.0" fill="#3cb41e"/>
<rect x="17.0" y="209.5" width="11.0" height="7.0" fill="#ee0000"/>
<rect x="27.0" y="209.5" width="7.0" height="7.0" fill="#cc0000"/>
<rect x="33.0" y="209.5" width="13.0" height="7.0" fill="#ee0000"/>
<rect x="45.0" y="209.5" width="7.0" height="7.0" fill="#ee0000"/>
<rect x="51.0" y="209.5" width="13.0" height="7.0" fill="#ee0000"/>
<rect x="63.0" y="209.5" width="13.0" height="7.0" fill="#e7c000"/>
<rect x="75.0" y="209.5" width="7.0" height="7.0" fill="#ff9000"/>
<rect x="81.0" y="209.5" width="7.0" height="7.0" fill="#e7c000"/>
<rect x="87.0" y="209.5" width="13.0" height="7.0" fill="#ff9000"/>
<rect x="99.0" y="209.5" width="7.0" height="7.0" fill="#e7c000"/>
<rect x="105.0" y="209.5" width="13.0" height="7.0" fill="#ffff00"/>
<rect x="117.0" y="209.5" width="13.0" height="7.0" fill="#238a16"/>
<rect x="129.0" y="209.5" width="7.0" height="7.0" fill="#62e020"/>
<rect x="135.0" y="209.5" width="7.0" height="7.0" fill="#20a0f0"/>
<rect x="141.0" y="209.5" width="7.0" height="7.0" fill="#0000f0"/>
<rect x="147.0" y="209.5" width="10.0" height="7.0" fill="#20a0f0"/>
<rect x="17.0" y="215.5" width="17.0" height="7.0" fill="#cc0000"/>
<rect x="33.0" y="215.5" width="19.0" height="7.0" fill="#ee0000"/>
<rect x="51.0" y="215.5" width="7.0" height="7.0" fill="#ee0000"/>
<rect x="57.0" y="215.5" width="7.0" height="7.0" fill="#ff9000"/>
<rect x="63.0" y="215.5" width="13.0" height="7.0" fill="#e7c000"/>
<rect x="75.0" y="215.5" width="7.0" height="7.0" fill="#ff9000"/>
<rect x="81.0" y="215.5" width="7.0" height="7.0" fill="#e7c000"/>
<rect x="87.0" y="215.5" width="13.0" height="7.0" fill="#ff9000"/>
<rect x="99.0" y="215.5" width="13.0" height="7.0" fill="#e7c000"/>
<rect x="111.0" y="215.5" width="7.0" height="7.0" fill="#ffff00"/>
<rect x="117.0" y="215.5" width="7.0" height="7.0" fill="#238a16"/>
<rect x="123.0" y="215.5" width="7.0" height="7.0" fill="#3cb41e"/>
<rect x="129.0" y="215.5" width="7.0" height="7.0" fill="#62e020"/>
<rect x="135.0" y="215.5" width="7.0" height="7.0" fill="#20a0f0"/>
<rect x="141.0" y="215.5" width="16.0" height="7.0" fill="#0000f0"/>
<rect x="17.0" y="221.5" width="11.0" height="7.0" fill="#cc0000"/>
<rect x="27.0" y="221.5" width="13.0" height="7.0" fill="#ee0000"/>
<rect x="39.0" y="221.5" width="7.0" height="7.0" fill="#ee0000"/>
<rect x="45.0" y="221.5" width="7.0" height="7.0" fill="#ee0000"/>
<rect x="51.0" y="221.5" width="13.0" height="7.0" fill="#ff9000"/>
<rect x="63.0" y="221.5" width="7.0" height="7.0" fill="#e7c000"/>
<rect x="69.0" y="221.5" width="25.0" height="7.0" fill="#ff9000"/>
<rect x="93.0" y="221.5" width="13.0" height="7.0" fill="#e7c000"/>
<rect x="105.0" y="221.5" width="7.0" height="7.0" fill="#ffff00"/>
<rect x="111.0" y="221.5" width="13.0" height="7.0" fill="#238a16"/>
<rect x="123.0" y="221.5" width="7.0" height="7.0" fill="#62e020"/>
<rect x="129.0" y="221.5" width="7.0" height="7.0" fill="#20e8f0"/>
<rect x="135.0" y="221.5" width="7.0" height="7.0" fill="#20a0f0"/>
<rect x="141.0" y="221.5" width="16.0" height="7.0" fill="#0000f0"/>
<rect x="17.0" y="227.5" width="11.0" height="7.0" fill="#cc0000"/>
<rect x="27.0" y="227.5" width="7.0" height="7.0" fill="#ee0000"/>
<rect x="33.0" y="227.5" width="7.0" height="7.0" fill="#ee0000"/>
<rect x="39.0" y="227.5" width="7.0" height="7.0" fill="#ff9000"/>
<rect x="45.0" y="227.5" width="13.0" height="7.0" fill="#ee0000"/>
<rect x="57.0" y="227.5" width="7.0" height="7.0" fill="#ff9000"/>
<rect x="63.0" y="227.5" width="7.0" height="7.0" fill="#ee0000"/>
<rect x="69.0" y="227.5" width="7.0" height="7.0" fill="#ee0000"/>
<rect x="75.0" y="227.5" width="7.0" height="7.0" fill="#ee0000"/>
<rect x="81.0" y="227.5" width="7.0" height="7.0" fill="#ee0000"/>
<rect x="87.0" y="227.5" width="7.0" height="7.0" fill="#ee0000"/>
<rect x="93.0" y="227.5" width="7.0" height="7.0" fill="#e7c000"/>
<rect x="99.0" y="227.5" width="7.0" height="7.0" fill="#ffff00"/>
<rect x="105.0" y="227.5" width="13.0" height="7.0" fill="#238a16"/>
<rect x="117.0" y="227.5" width="13.0" height="7.0" fill="#62e020"/>
<rect x="129.0" y="227.5" width="7.0" height="7.0" fill="#20e8f0"/>
<rect x="135.0" y="227.5" width="13.0" height="7.0" fill="#20a0f0"/>
<rect x="147.0" y="227.5" width="10.0" height="7.0" fill="#0000f0"/>
<rect x="17.0" y="233.5" width="11.0" height="7.0" fill="#cc0000"/>
<rect x="27.0" y="233.5" width="7.0" height="7.0" fill="#ee0000"/>
<rect x="33.0" y="233.5" width="7.0" height="7.0" fill="#ff9000"/>
<rect x="39.0" y="233.5" width="13.0" height="7.0" fill="#ee0000"/>
<rect x="51.0" y="233.5" width="7.0" height="7.0" fill="#ff9000"/>
<rect x="57.0" y="233.5" width="7.0" height="7.0" fill="#ee0000"/>
<rect x="63.0" y="233.5" width="13.0" height="7.0" fill="#ee0000"/>
<rect x="75.0" y="233.5" width="7.0" height="7.0" fill="#ee0000"/>
<rect x="81.0" y="233.5" width="13.0" height="7.0" fill="#ff9000"/>
<rect x="93.0" y="233.5" width="7.0" height="7.0" fill="#ffff00"/>
<rect x="99.0" y="233.5" width="7.0" height="7.0" fill="#238a16"/>
<rect x="105.0" y="233.5" width="13.0" height="7.0" fill="#3cb41e"/>
<rect x="117.0" y="233.5" width="7.0" height="7.0" fill="#62e020"/>
<rect x="123.0" y="233.5" width="7.0" height="7.0" fill="#3cb41e"/>
<rect x="129.0" y="233.5" width="7.0" height="7.0" fill="#62e020"/>
<rect x="135.0" y="233.5" width="7.0" height="7.0" fill="#20e8f0"/>
<rect x="141.0" y="233.5" width="16.0" height="7.0" fill="#20a0f0"/>
<rect x="17.0" y="239.5" width="11.0" height="7.0" fill="#cc0000"/>
<rect x="27.0" y="239.5" width="25.0" height="7.0" fill="#ee0000"/>
<rect x="51.0" y="239.5" width="7.0" height="7.0" fill="#ff9000"/>
<rect x="57.0" y="239.5" width="13.0" height="7.0" fill="#ee0000"/>
<rect x="69.0" y="239.5" width="7.0" height="7.0" fill="#ee0000"/>
<rect x="75.0" y="239.5" width="13.0" height="7.0" fill="#ff9000"/>
<rect x="87.0" y="239.5" width="7.0" height="7.0" fill="#ffff00"/>
<rect x="93.0" y="239.5" width="7.0" height="7.0" fill="#238a16"/>
<rect x="99.0" y="239.5" width="13.0" height="7.0" fill="#3cb41e"/>
<rect x="111.0" y="239.5" width="7.0" height="7.0" fill="#62e020"/>
<rect x="117.0" y="239.5" width="7.0" height="7.0" fill="#3cb41e"/>
<rect x="123.0" y="239.5" width="7.0" height="7.0" fill="#ffff00"/>
<rect x="129.0" y="239.5" width="7.0" height="7.0" fill="#3cb41e"/>
<rect x="135.0" y="239.5" width="13.0" height="7.0" fill="#62e020"/>
<rect x="147.0" y="239.5" width="10.0" height="7.0" fill="#20e8f0"/>
<rect x="17.0" y="245.5" width="23.0" height="7.0" fill="#cc0000"/>
<rect x="39.0" y="245.5" width="25.0" height="7.0" fill="#ee0000"/>
<rect x="63.0" y="245.5" width="7.0" height="7.0" fill="#ee0000"/>
<rect x="69.0" y="245.5" width="7.0" height="7.0" fill="#ff9000"/>
<rect x="75.0" y="245.5" width="7.0" height="7.0" fill="#ff9000"/>
<rect x="81.0" y="245.5" width="7.0" height="7.0" fill="#ee0000"/>
<rect x="87.0" y="245.5" width="7.0" height="7.0" fill="#3cb41e"/>
<rect x="93.0" y="245.5" width="13.0" height="7.0" fill="#62e020"/>
<rect x="105.0" y="245.5" width="7.0" height="7.0" fill="#238a16"/>
<rect x="111.0" y="245.5" width="25.0" height="7.0" fill="#ffff00"/>
<rect x="135.0" y="245.5" width="7.0" height="7.0" fill="#238a16"/>
<rect x="141.0" y="245.5" width="7.0" height="7.0" fill="#62e020"/>
<rect x="147.0" y="245.5" width="10.0" height="7.0" fill="#3cb41e"/>
<rect x="17.0" y="251.5" width="11.0" height="7.0" fill="#ee0000"/>
<rect x="27.0" y="251.5" width="7.0" height="7.0" fill="#cc0000"/>
<rect x="33.0" y="251.5" width="31.0" height="7.0" fill="#ee0000"/>
<rect x="63.0" y="251.5" width="7.0" height="7.0" fill="#ff9000"/>
<rect x="69.0" y="251.5" width="7.0" height="7.0" fill="#ff9000"/>
<rect x="75.0" y="251.5" width="7.0" height="7.0" fill="#e7c000"/>
<rect x="81.0" y="251.5" width="7.0" height="7.0" fill="#ff9000"/>
<rect x="87.0" y="251.5" width="7.0" height="7.0" fill="#3cb41e"/>
<rect x="93.0" y="251.5" width="7.0" height="7.0" fill="#62e020"/>
<rect x="99.0" y="251.5" width="13.0" height="7.0" fill="#238a16"/>
<rect x="111.0" y="251.5" width="7.0" height="7.0" fill="#ffff00"/>
<rect x="117.0" y="251.5" width="7.0" height="7.0" fill="#e7c000"/>
<rect x="123.0" y="251.5" width="7.0" height="7.0" fill="#ffff00"/>
<rect x="129.0" y="251.5" width="13.0" height="7.0" fill="#238a16"/>
<rect x="141.0" y="251.5" width="16.0" height="7.0" fill="#62e020"/>
<rect x="17.0" y="257.5" width="29.0" height="7.0" fill="#ee0000"/>
<rect x="45.0" y="257.5" width="7.0" height="7.0" fill="#ff9000"/>
<rect x="51.0" y="257.5" width="7.0" height="7.0" fill="#ffff00"/>
<rect x="57.0" y="257.5" width="13.0" height="7.0" fill="#ff9000"/>
<rect x="69.0" y="257.5" width="7.0" height="7.0" fill="#ee0000"/>
<rect x="75.0" y="257.5" width="7.0" height="7.0" fill="#ff9000"/>
<rect x="81.0" y="257.5" width="7.0" height="7.0" fill="#e7c000"/>
<rect x="87.0" y="257.5" width="7.0" height="7.0" fill="#238a16"/>
<rect x="93.0" y="257.5" width="7.0" height="7.0" fill="#ff9000"/>
<rect x="99.0" y="257.5" width="7.0" height="7.0" fill="#e7c000"/>
<rect x="105.0" y="257.5" width="13.0" height="7.0" fill="#ffff00"/>
<rect x="117.0" y="257.5" width="7.0" height="7.0" fill="#e7c000"/>
<rect x="123.0" y="257.5" width="7.0" height="7.0" fill="#ffff00"/>
<rect x="129.0" y="257.5" width="7.0" height="7.0" fill="#238a16"/>
<rect x="135.0" y="257.5" width="7.0" height="7.0" fill="#3cb41e"/>
<rect x="141.0" y="257.5" width="16.0" height="7.0" fill="#20e8f0"/>
<rect x="17.0" y="263.5" width="17.0" height="7.0" fill="#ff9000"/>
<rect x="33.0" y="263.5" width="7.0" height="7.0" fill="#ee0000"/>
<rect x="39.0" y="263.5" width="7.0" height="7.0" fill="#ffff00"/>
<rect x="45.0" y="263.5" width="7.0" height="7.0" fill="#238a16"/>
<rect x="51.0" y="263.5" width="7.0" height="7.0" fill="#e7c000"/>
<rect x="57.0" y="263.5" width="7.0" height="7.0" fill="#ee0000"/>
<rect x="63.0" y="263.5" width="13.0" height="7.0" fill="#ee0000"/>
<rect x="75.0" y="263.5" width="19.0" height="7.0" fill="#ff9000"/>
<rect x="93.0" y="263.5" width="13.0" height="7.0" fill="#e7c000"/>
<rect x="105.0" y="263.5" width="7.0" height="7.0" fill="#ffff00"/>
<rect x="111.0" y="263.5" width="13.0" height="7.0" fill="#e7c000"/>
<rect x="123.0" y="263.5" width="7.0" height="7.0" fill="#ffff00"/>
<rect x="129.0" y="263.5" width="7.0" height="7.0" fill="#238a16"/>
<rect x="135.0" y="263.5" width="13.0" height="7.0" fill="#3cb41e"/>
<rect x="147.0" y="263.5" width="10.0" height="7.0" fill="#20e8f0"/>
<rect x="17.0" y="269.5" width="11.0" height="7.0" fill="#ff9000"/>
<rect x="27.0" y="269.5" width="13.0" height="7.0" fill="#ffff00"/>
<rect x="39.0" y="269.5" width="7.0" height="7.0" fill="#e7c000"/>
<rect x="45.0" y="269.5" width="25.0" height="7.0" fill="#ee0000"/>
<rect x="69.0" y="269.5" width="7.0" height="7.0" fill="#ee0000"/>
<rect x="75.0" y="269.5" width="13.0" height="7.0" fill="#ee0000"/>
<rect x="87.0" y="269.5" width="7.0" height="7.0" fill="#ff9000"/>
<rect x="93.0" y="269.5" width="13.0" height="7.0" fill="#e7c000"/>
<rect x="105.0" y="269.5" width="7.0" height="7.0" fill="#ffff00"/>
<rect x="111.0" y="269.5" width="7.0" height="7.0" fill="#e7c000"/>
<rect x="117.0" y="269.5" width="7.0" height="7.0" fill="#e7c000"/>
<rect x="123.0" y="269.5" width="7.0" height="7.0" fill="#e7c000"/>
<rect x="129.0" y="269.5" width="7.0" height="7.0" fill="#ffff00"/>
<rect x="135.0" y="269.5" width="22.0" height="7.0" fill="#3cb41e"/>
<rect x="17.0" y="275.5" width="11.0" height="7.0" fill="#ee0000"/>
<rect x="27.0" y="275.5" width="7.0" height="7.0" fill="#e7c000"/>
<rect x="33.0" y="275.5" width="7.0" height="7.0" fill="#ff9000"/>
<rect x="39.0" y="275.5" width="7.0" height="7.0" fill="#ee0000"/>
<rect x="45.0" y="275.5" width="25.0" height="7.0" fill="#ee0000"/>
<rect x="69.0" y="275.5" width="7.0" height="7.0" fill="#ff9000"/>
<rect x="75.0" y="275.5" width="13.0" height="7.0" fill="#ee0000"/>
<rect x="87.0" y="275.5" width="7.0" height="7.0" fill="#ff9000"/>
<rect x="93.0" y="275.5" width="13.0" height="7.0" fill="#e7c000"/>
<rect x="105.0" y="275.5" width="7.0" height="7.0" fill="#ffff00"/>
<rect x="111.0" y="275.5" width="13.0" height="7.0" fill="#e7c000"/>
<rect x="123.0" y="275.5" width="7.0" height="7.0" fill="#ffff00"/>
<rect x="129.0" y="275.5" width="7.0" height="7.0" fill="#238a16"/>
<rect x="135.0" y="275.5" width="22.0" height="7.0" fill="#3cb41e"/>
<rect x="17.0" y="281.5" width="11.0" height="7.0" fill="#ff9000"/>
<rect x="27.0" y="281.5" width="7.0" height="7.0" fill="#ffff00"/>
<rect x="33.0" y="281.5" width="13.0" height="7.0" fill="#ff9000"/>
<rect x="45.0" y="281.5" width="25.0" height="7.0" fill="#ee0000"/>
<rect x="69.0" y="281.5" width="7.0" height="7.0" fill="#ff9000"/>
<rect x="75.0" y="281.5" width="7.0" height="7.0" fill="#ee0000"/>
<rect x="81.0" y="281.5" width="13.0" height="7.0" fill="#ee0000"/>
<rect x="93.0" y="281.5" width="13.0" height="7.0" fill="#e7c000"/>
<rect x="105.0" y="281.5" width="7.0" height="7.0" fill="#ffff00"/>
<rect x="111.0" y="281.5" width="25.0" height="7.0" fill="#238a16"/>
<rect x="135.0" y="281.5" width="22.0" height="7.0" fill="#3cb41e"/>
<rect x="17.0" y="287.5" width="17.0" height="7.0" fill="#238a16"/>
<rect x="33.0" y="287.5" width="13.0" height="7.0" fill="#ff9000"/>
<rect x="45.0" y="287.5" width="13.0" height="7.0" fill="#ee0000"/>
<rect x="57.0" y="287.5" width="7.0" height="7.0" fill="#ff9000"/>
<rect x="63.0" y="287.5" width="7.0" height="7.0" fill="#ee0000"/>
<rect x="69.0" y="287.5" width="13.0" height="7.0" fill="#ff9000"/>
<rect x="81.0" y="287.5" width="13.0" height="7.0" fill="#ee0000"/>
<rect x="93.0" y="287.5" width="7.0" height="7.0" fill="#ff9000"/>
<rect x="99.0" y="287.5" width="7.0" height="7.0" fill="#e7c000"/>
<rect x="105.0" y="287.5" width="7.0" height="7.0" fill="#ffff00"/>
<rect x="111.0" y="287.5" width="7.0" height="7.0" fill="#238a16"/>
<rect x="117.0" y="287.5" width="7.0" height="7.0" fill="#3cb41e"/>
<rect x="123.0" y="287.5" width="7.0" height="7.0" fill="#62e020"/>
<rect x="129.0" y="287.5" width="7.0" height="7.0" fill="#3cb41e"/>
<rect x="135.0" y="287.5" width="7.0" height="7.0" fill="#238a16"/>
<rect x="141.0" y="287.5" width="7.0" height="7.0" fill="#3cb41e"/>
<rect x="147.0" y="287.5" width="10.0" height="7.0" fill="#62e020"/>
<rect x="17.0" y="293.5" width="11.0" height="7.0" fill="#238a16"/>
<rect x="27.0" y="293.5" width="7.0" height="7.0" fill="#3cb41e"/>
<rect x="33.0" y="293.5" width="7.0" height="7.0" fill="#ffff00"/>
<rect x="39.0" y="293.5" width="7.0" height="7.0" fill="#ff9000"/>
<rect x="45.0" y="293.5" width="7.0" height="7.0" fill="#ee0000"/>
<rect x="51.0" y="293.5" width="7.0" height="7.0" fill="#ee0000"/>
<rect x="57.0" y="293.5" width="13.0" height="7.0" fill="#ee0000"/>
<rect x="69.0" y="293.5" width="7.0" height="7.0" fill="#ff9000"/>
<rect x="75.0" y="293.5" width="19.0" height="7.0" fill="#ee0000"/>
<rect x="93.0" y="293.5" width="7.0" height="7.0" fill="#ff9000"/>
<rect x="99.0" y="293.5" width="7.0" height="7.0" fill="#e7c000"/>
<rect x="105.0" y="293.5" width="7.0" height="7.0" fill="#ffff00"/>
<rect x="111.0" y="293.5" width="7.0" height="7.0" fill="#3cb41e"/>
<rect x="117.0" y="293.5" width="7.0" height="7.0" fill="#62e020"/>
<rect x="123.0" y="293.5" width="7.0" height="7.0" fill="#3cb41e"/>
<rect x="129.0" y="293.5" width="7.0" height="7.0" fill="#238a16"/>
<rect x="135.0" y="293.5" width="7.0" height="7.0" fill="#3cb41e"/>
<rect x="141.0" y="293.5" width="16.0" height="7.0" fill="#62e020"/>
<rect x="17.0" y="299.5" width="11.0" height="10.0" fill="#20e8f0"/>
<rect x="27.0" y="299.5" width="7.0" height="10.0" fill="#3cb41e"/>
<rect x="33.0" y="299.5" width="13.0" height="10.0" fill="#ff9000"/>
<rect x="45.0" y="299.5" width="7.0" height="10.0" fill="#ee0000"/>
<rect x="51.0" y="299.5" width="7.0" height="10.0" fill="#ff9000"/>
<rect x="57.0" y="299.5" width="7.0" height="10.0" fill="#ee0000"/>
<rect x="63.0" y="299.5" width="7.0" height="10.0" fill="#ff9000"/>
<rect x="69.0" y="299.5" width="13.0" height="10.0" fill="#ee0000"/>
<rect x="81.0" y="299.5" width="7.0" height="10.0" fill="#ff9000"/>
<rect x="87.0" y="299.5" width="7.0" height="10.0" fill="#ee0000"/>
<rect x="93.0" y="299.5" width="7.0" height="10.0" fill="#ff9000"/>
<rect x="99.0" y="299.5" width="7.0" height="10.0" fill="#e7c000"/>
<rect x="105.0" y="299.5" width="7.0" height="10.0" fill="#238a16"/>
<rect x="111.0" y="299.5" width="7.0" height="10.0" fill="#62e020"/>
<rect x="117.0" y="299.5" width="13.0" height="10.0" fill="#20e8f0"/>
<rect x="129.0" y="299.5" width="7.0" height="10.0" fill="#3cb41e"/>
<rect x="135.0" y="299.5" width="22.0" height="10.0" fill="#62e020"/>
<rect x="52.1" y="204.3" width="2" height="2" fill="#ff9000"/>
<rect x="54.1" y="206.4" width="2" height="2" fill="#ff9000"/>
<rect x="45.6" y="210.0" width="2" height="3" fill="#ff9000"/>
<rect x="48.6" y="212.1" width="3" height="2" fill="#ff9000"/>
<rect x="52.5" y="216.4" width="2" height="3" fill="#ff9000"/>
<rect x="54.7" y="217.6" width="2" height="2" fill="#ff9000"/>
<rect x="40.1" y="221.9" width="2" height="2" fill="#ff9000"/>
<rect x="42.9" y="223.8" width="3" height="3" fill="#ff9000"/>
<rect x="36.4" y="230.4" width="3" height="2" fill="#ff9000"/>
<rect x="33.8" y="227.7" width="3" height="2" fill="#ff9000"/>
<rect x="40.0" y="229.3" width="2" height="3" fill="#ee0000"/>
<rect x="40.6" y="231.3" width="2" height="2" fill="#ee0000"/>
<rect x="65.2" y="231.3" width="2" height="2" fill="#ff9000"/>
<rect x="64.3" y="230.0" width="2" height="2" fill="#ff9000"/>
<rect x="75.3" y="230.2" width="2" height="3" fill="#ff9000"/>
<rect x="76.7" y="228.4" width="3" height="2" fill="#ff9000"/>
<rect x="88.5" y="231.2" width="3" height="3" fill="#ff9000"/>
<rect x="90.4" y="228.5" width="2" height="3" fill="#ff9000"/>
<rect x="36.0" y="237.4" width="2" height="3" fill="#ee0000"/>
<rect x="35.5" y="236.6" width="3" height="2" fill="#ee0000"/>
<rect x="60.9" y="235.4" width="2" height="2" fill="#ff9000"/>
<rect x="60.0" y="234.4" width="3" height="3" fill="#ff9000"/>
<rect x="76.2" y="235.9" width="2" height="2" fill="#ff9000"/>
<rect x="78.8" y="236.8" width="2" height="3" fill="#ff9000"/>
<rect x="54.1" y="242.4" width="2" height="3" fill="#ee0000"/>
<rect x="54.5" y="242.7" width="2" height="2" fill="#ee0000"/>
<rect x="72.0" y="242.7" width="2" height="2" fill="#ff9000"/>
<rect x="69.2" y="241.6" width="2" height="2" fill="#ff9000"/>
<rect x="63.5" y="247.1" width="2" height="2" fill="#ff9000"/>
<rect x="65.8" y="248.3" width="2" height="3" fill="#ff9000"/>
<rect x="70.9" y="247.5" width="2" height="2" fill="#ee0000"/>
<rect x="72.1" y="248.9" width="2" height="2" fill="#ee0000"/>
<rect x="82.0" y="248.0" width="2" height="3" fill="#ff9000"/>
<rect x="81.3" y="247.7" width="3" height="3" fill="#ff9000"/>
<rect x="63.5" y="251.7" width="3" height="2" fill="#ee0000"/>
<rect x="66.4" y="254.0" width="2" height="3" fill="#ee0000"/>
<rect x="72.6" y="260.4" width="2" height="2" fill="#ff9000"/>
<rect x="69.3" y="259.4" width="3" height="2" fill="#ff9000"/>
<rect x="57.1" y="264.7" width="2" height="3" fill="#ff9000"/>
<rect x="57.9" y="266.8" width="2" height="2" fill="#ff9000"/>
<rect x="69.7" y="272.0" width="2" height="2" fill="#ff9000"/>
<rect x="70.3" y="270.3" width="2" height="2" fill="#ff9000"/>
<rect x="117.7" y="270.6" width="2" height="2" fill="#ff9000"/>
<rect x="119.6" y="271.8" width="2" height="3" fill="#ff9000"/>
<rect x="119.7" y="272.6" width="2" height="3" fill="#ff9000"/>
<rect x="39.8" y="276.0" width="3" height="3" fill="#ff9000"/>
<rect x="39.4" y="276.7" width="2" height="3" fill="#ff9000"/>
<rect x="69.6" y="283.8" width="2" height="2" fill="#ee0000"/>
<rect x="70.1" y="284.1" width="2" height="3" fill="#ee0000"/>
<rect x="83.5" y="281.6" width="2" height="3" fill="#ff9000"/>
<rect x="83.0" y="283.0" width="2" height="2" fill="#ff9000"/>
<rect x="90.2" y="283.1" width="3" height="2" fill="#ff9000"/>
<rect x="88.2" y="282.3" width="2" height="2" fill="#ff9000"/>
<rect x="60.0" y="289.2" width="2" height="2" fill="#ee0000"/>
<rect x="57.9" y="290.8" width="2" height="2" fill="#ee0000"/>
<rect x="54.4" y="297.3" width="3" height="2" fill="#ff9000"/>
<rect x="51.4" y="296.2" width="2" height="3" fill="#ff9000"/><g transform="translate(21.0,185.5)"><polygon fill="#ff9000" points="-3,-3 17.5,-3 6,23 -3,23"/><polygon fill="#ffff00" points="-3,-3 15.5,-3 4,21.5 -3,21.5"/><polygon fill="#44ee22" points="-3,15.5 5,15.5 3,20 -3,20"/><polygon fill="#20e8f0" points="-3,-3 12.5,-3 7.5,16.5 -3,16.5"/><polygon fill="#3cb41e" points="-3,-3 10.8,-3 6.8,16 -3,16"/><polygon fill="#0000f0" points="-3,-3 9,-3 8,5 5,14 -3,14"/><polygon fill="#40b0f0" points="4,1 5.2,1 4.2,13 3.2,13"/><polygon fill="#00a8a8" points="-3,-3 2.5,-3 2.5,14.5 -3,15"/></g></g>
</g>
<rect x="21.0" y="185.5" width="132.0" height="120.0" fill="none" stroke="#3a3a3a" stroke-width="0.7"/>
<text x="87.00" y="182.80" font-size="6.8" text-anchor="middle" textLength="32.66" lengthAdjust="spacingAndGlyphs" >Reflectivity</text>
<line x1="35.67" y1="305.5" x2="35.67" y2="307.7" stroke="#3a3a3a" stroke-width="0.6"/>
<text x="35.67" y="312.60" font-size="5.7" text-anchor="middle" textLength="6.04" lengthAdjust="spacingAndGlyphs" >20</text>
<line x1="65.00" y1="305.5" x2="65.00" y2="307.7" stroke="#3a3a3a" stroke-width="0.6"/>
<text x="65.00" y="312.60" font-size="5.7" text-anchor="middle" textLength="6.04" lengthAdjust="spacingAndGlyphs" >30</text>
<line x1="94.33" y1="305.5" x2="94.33" y2="307.7" stroke="#3a3a3a" stroke-width="0.6"/>
<text x="94.33" y="312.60" font-size="5.7" text-anchor="middle" textLength="6.04" lengthAdjust="spacingAndGlyphs" >40</text>
<line x1="123.67" y1="305.5" x2="123.67" y2="307.7" stroke="#3a3a3a" stroke-width="0.6"/>
<text x="123.67" y="312.60" font-size="5.7" text-anchor="middle" textLength="6.04" lengthAdjust="spacingAndGlyphs" >50</text>
<line x1="153.00" y1="305.5" x2="153.00" y2="307.7" stroke="#3a3a3a" stroke-width="0.6"/>
<text x="153.00" y="312.60" font-size="5.7" text-anchor="middle" textLength="6.04" lengthAdjust="spacingAndGlyphs" >60</text>
<text x="87.00" y="320.40" font-size="5.7" text-anchor="middle" textLength="13.80" lengthAdjust="spacingAndGlyphs" >x/km</text>
<line x1="18.80" y1="305.50" x2="21.0" y2="305.50" stroke="#3a3a3a" stroke-width="0.6"/>
<text x="18.00" y="307.50" font-size="5.7" text-anchor="end" textLength="3.02" lengthAdjust="spacingAndGlyphs" >5</text>
<line x1="18.80" y1="285.50" x2="21.0" y2="285.50" stroke="#3a3a3a" stroke-width="0.6"/>
<text x="18.00" y="287.50" font-size="5.7" text-anchor="end" textLength="6.04" lengthAdjust="spacingAndGlyphs" >10</text>
<line x1="18.80" y1="265.50" x2="21.0" y2="265.50" stroke="#3a3a3a" stroke-width="0.6"/>
<text x="18.00" y="267.50" font-size="5.7" text-anchor="end" textLength="6.04" lengthAdjust="spacingAndGlyphs" >15</text>
<line x1="18.80" y1="245.50" x2="21.0" y2="245.50" stroke="#3a3a3a" stroke-width="0.6"/>
<text x="18.00" y="247.50" font-size="5.7" text-anchor="end" textLength="6.04" lengthAdjust="spacingAndGlyphs" >20</text>
<line x1="18.80" y1="225.50" x2="21.0" y2="225.50" stroke="#3a3a3a" stroke-width="0.6"/>
<text x="18.00" y="227.50" font-size="5.7" text-anchor="end" textLength="6.04" lengthAdjust="spacingAndGlyphs" >25</text>
<line x1="18.80" y1="205.50" x2="21.0" y2="205.50" stroke="#3a3a3a" stroke-width="0.6"/>
<text x="18.00" y="207.50" font-size="5.7" text-anchor="end" textLength="6.04" lengthAdjust="spacingAndGlyphs" >30</text>
<line x1="18.80" y1="185.50" x2="21.0" y2="185.50" stroke="#3a3a3a" stroke-width="0.6"/>
<text x="18.00" y="187.50" font-size="5.7" text-anchor="end" textLength="6.04" lengthAdjust="spacingAndGlyphs" >35</text>
<text x="0.00" y="0.00" font-size="5.7" text-anchor="middle" textLength="13.80" lengthAdjust="spacingAndGlyphs" transform="translate(8.70,245.50) rotate(-90)">y/km</text>
<rect x="160.5" y="298.44" width="6.3" height="7.31" fill="#84c8f0"/>
<rect x="160.5" y="291.38" width="6.3" height="7.31" fill="#00a8a8"/>
<rect x="160.5" y="284.32" width="6.3" height="7.31" fill="#0000f0"/>
<rect x="160.5" y="277.26" width="6.3" height="7.31" fill="#20a0f0"/>
<rect x="160.5" y="270.21" width="6.3" height="7.31" fill="#20e8f0"/>
<rect x="160.5" y="263.15" width="6.3" height="7.31" fill="#62e020"/>
<rect x="160.5" y="256.09" width="6.3" height="7.31" fill="#3cb41e"/>
<rect x="160.5" y="249.03" width="6.3" height="7.31" fill="#238a16"/>
<rect x="160.5" y="241.97" width="6.3" height="7.31" fill="#ffff00"/>
<rect x="160.5" y="234.91" width="6.3" height="7.31" fill="#e7c000"/>
<rect x="160.5" y="227.85" width="6.3" height="7.31" fill="#ff9000"/>
<rect x="160.5" y="220.79" width="6.3" height="7.31" fill="#ff0000"/>
<rect x="160.5" y="213.74" width="6.3" height="7.31" fill="#d80000"/>
<rect x="160.5" y="206.68" width="6.3" height="7.31" fill="#c00000"/>
<rect x="160.5" y="199.62" width="6.3" height="7.31" fill="#ff00f0"/>
<rect x="160.5" y="192.56" width="6.3" height="7.31" fill="#880099"/>
<rect x="160.5" y="185.50" width="6.3" height="7.31" fill="#a890f0"/>
<rect x="160.5" y="185.5" width="6.3" height="120.0" fill="none" stroke="#555" stroke-width="0.5"/>
<line x1="166.8" y1="305.50" x2="168.60" y2="305.50" stroke="#3a3a3a" stroke-width="0.5"/>
<text x="169.80" y="307.50" font-size="5.7" text-anchor="start" textLength="7.76" lengthAdjust="spacingAndGlyphs" >-20</text>
<line x1="166.8" y1="298.44" x2="168.60" y2="298.44" stroke="#3a3a3a" stroke-width="0.5"/>
<text x="169.80" y="300.44" font-size="5.7" text-anchor="start" textLength="4.74" lengthAdjust="spacingAndGlyphs" >-5</text>
<line x1="166.8" y1="291.38" x2="168.60" y2="291.38" stroke="#3a3a3a" stroke-width="0.5"/>
<text x="169.80" y="293.38" font-size="5.7" text-anchor="start" textLength="3.02" lengthAdjust="spacingAndGlyphs" >0</text>
<line x1="166.8" y1="284.32" x2="168.60" y2="284.32" stroke="#3a3a3a" stroke-width="0.5"/>
<text x="169.80" y="286.32" font-size="5.7" text-anchor="start" textLength="3.02" lengthAdjust="spacingAndGlyphs" >5</text>
<line x1="166.8" y1="277.26" x2="168.60" y2="277.26" stroke="#3a3a3a" stroke-width="0.5"/>
<text x="169.80" y="279.26" font-size="5.7" text-anchor="start" textLength="6.04" lengthAdjust="spacingAndGlyphs" >10</text>
<line x1="166.8" y1="270.21" x2="168.60" y2="270.21" stroke="#3a3a3a" stroke-width="0.5"/>
<text x="169.80" y="272.21" font-size="5.7" text-anchor="start" textLength="6.04" lengthAdjust="spacingAndGlyphs" >15</text>
<line x1="166.8" y1="263.15" x2="168.60" y2="263.15" stroke="#3a3a3a" stroke-width="0.5"/>
<text x="169.80" y="265.15" font-size="5.7" text-anchor="start" textLength="6.04" lengthAdjust="spacingAndGlyphs" >20</text>
<line x1="166.8" y1="256.09" x2="168.60" y2="256.09" stroke="#3a3a3a" stroke-width="0.5"/>
<text x="169.80" y="258.09" font-size="5.7" text-anchor="start" textLength="6.04" lengthAdjust="spacingAndGlyphs" >25</text>
<line x1="166.8" y1="249.03" x2="168.60" y2="249.03" stroke="#3a3a3a" stroke-width="0.5"/>
<text x="169.80" y="251.03" font-size="5.7" text-anchor="start" textLength="6.04" lengthAdjust="spacingAndGlyphs" >30</text>
<line x1="166.8" y1="241.97" x2="168.60" y2="241.97" stroke="#3a3a3a" stroke-width="0.5"/>
<text x="169.80" y="243.97" font-size="5.7" text-anchor="start" textLength="6.04" lengthAdjust="spacingAndGlyphs" >35</text>
<line x1="166.8" y1="234.91" x2="168.60" y2="234.91" stroke="#3a3a3a" stroke-width="0.5"/>
<text x="169.80" y="236.91" font-size="5.7" text-anchor="start" textLength="6.04" lengthAdjust="spacingAndGlyphs" >40</text>
<line x1="166.8" y1="227.85" x2="168.60" y2="227.85" stroke="#3a3a3a" stroke-width="0.5"/>
<text x="169.80" y="229.85" font-size="5.7" text-anchor="start" textLength="6.04" lengthAdjust="spacingAndGlyphs" >45</text>
<line x1="166.8" y1="220.79" x2="168.60" y2="220.79" stroke="#3a3a3a" stroke-width="0.5"/>
<text x="169.80" y="222.79" font-size="5.7" text-anchor="start" textLength="6.04" lengthAdjust="spacingAndGlyphs" >50</text>
<line x1="166.8" y1="213.74" x2="168.60" y2="213.74" stroke="#3a3a3a" stroke-width="0.5"/>
<text x="169.80" y="215.74" font-size="5.7" text-anchor="start" textLength="6.04" lengthAdjust="spacingAndGlyphs" >55</text>
<line x1="166.8" y1="206.68" x2="168.60" y2="206.68" stroke="#3a3a3a" stroke-width="0.5"/>
<text x="169.80" y="208.68" font-size="5.7" text-anchor="start" textLength="6.04" lengthAdjust="spacingAndGlyphs" >60</text>
<line x1="166.8" y1="199.62" x2="168.60" y2="199.62" stroke="#3a3a3a" stroke-width="0.5"/>
<text x="169.80" y="201.62" font-size="5.7" text-anchor="start" textLength="6.04" lengthAdjust="spacingAndGlyphs" >65</text>
<line x1="166.8" y1="192.56" x2="168.60" y2="192.56" stroke="#3a3a3a" stroke-width="0.5"/>
<text x="169.80" y="194.56" font-size="5.7" text-anchor="start" textLength="6.04" lengthAdjust="spacingAndGlyphs" >70</text>
<line x1="166.8" y1="185.50" x2="168.60" y2="185.50" stroke="#3a3a3a" stroke-width="0.5"/>
<text x="169.80" y="187.50" font-size="5.7" text-anchor="start" textLength="6.04" lengthAdjust="spacingAndGlyphs" >95</text>
<text x="168.00" y="311.80" font-size="5.7" text-anchor="middle" textLength="9.43" lengthAdjust="spacingAndGlyphs" >dBZ</text>
<clipPath id="clip11"><rect x="206.5" y="185.5" width="132.0" height="120.0"/></clipPath>
<g clip-path="url(#clip11)">
<g><rect x="202.5" y="181.5" width="17.0" height="11.0" fill="#ffffff"/>
<rect x="218.5" y="181.5" width="49.0" height="11.0" fill="#008000"/>
<rect x="266.5" y="181.5" width="7.0" height="11.0" fill="#008000"/>
<rect x="272.5" y="181.5" width="7.0" height="11.0" fill="#008000"/>
<rect x="278.5" y="181.5" width="7.0" height="11.0" fill="#008000"/>
<rect x="284.5" y="181.5" width="13.0" height="11.0" fill="#008000"/>
<rect x="296.5" y="181.5" width="7.0" height="11.0" fill="#008000"/>
<rect x="302.5" y="181.5" width="7.0" height="11.0" fill="#008000"/>
<rect x="308.5" y="181.5" width="13.0" height="11.0" fill="#cccccc"/>
<rect x="320.5" y="181.5" width="7.0" height="11.0" fill="#008000"/>
<rect x="326.5" y="181.5" width="16.0" height="11.0" fill="#008000"/>
<rect x="202.5" y="191.5" width="11.0" height="7.0" fill="#ffffff"/>
<rect x="212.5" y="191.5" width="7.0" height="7.0" fill="#008000"/>
<rect x="218.5" y="191.5" width="7.0" height="7.0" fill="#ff0000"/>
<rect x="224.5" y="191.5" width="43.0" height="7.0" fill="#008000"/>
<rect x="266.5" y="191.5" width="25.0" height="7.0" fill="#008000"/>
<rect x="290.5" y="191.5" width="7.0" height="7.0" fill="#008000"/>
<rect x="296.5" y="191.5" width="7.0" height="7.0" fill="#008000"/>
<rect x="302.5" y="191.5" width="13.0" height="7.0" fill="#008000"/>
<rect x="314.5" y="191.5" width="7.0" height="7.0" fill="#cccccc"/>
<rect x="320.5" y="191.5" width="13.0" height="7.0" fill="#008000"/>
<rect x="332.5" y="191.5" width="10.0" height="7.0" fill="#008000"/>
<rect x="202.5" y="197.5" width="17.0" height="7.0" fill="#ff0000"/>
<rect x="218.5" y="197.5" width="25.0" height="7.0" fill="#008000"/>
<rect x="242.5" y="197.5" width="7.0" height="7.0" fill="#00c000"/>
<rect x="248.5" y="197.5" width="19.0" height="7.0" fill="#008000"/>
<rect x="266.5" y="197.5" width="19.0" height="7.0" fill="#008000"/>
<rect x="284.5" y="197.5" width="7.0" height="7.0" fill="#008000"/>
<rect x="290.5" y="197.5" width="13.0" height="7.0" fill="#008000"/>
<rect x="302.5" y="197.5" width="19.0" height="7.0" fill="#008000"/>
<rect x="320.5" y="197.5" width="7.0" height="7.0" fill="#008000"/>
<rect x="326.5" y="197.5" width="7.0" height="7.0" fill="#008000"/>
<rect x="332.5" y="197.5" width="10.0" height="7.0" fill="#008000"/>
<rect x="202.5" y="203.5" width="17.0" height="7.0" fill="#ff0000"/>
<rect x="218.5" y="203.5" width="31.0" height="7.0" fill="#008000"/>
<rect x="248.5" y="203.5" width="7.0" height="7.0" fill="#00c000"/>
<rect x="254.5" y="203.5" width="13.0" height="7.0" fill="#008000"/>
<rect x="266.5" y="203.5" width="7.0" height="7.0" fill="#008000"/>
<rect x="272.5" y="203.5" width="7.0" height="7.0" fill="#008000"/>
<rect x="278.5" y="203.5" width="13.0" height="7.0" fill="#008000"/>
<rect x="290.5" y="203.5" width="7.0" height="7.0" fill="#008000"/>
<rect x="296.5" y="203.5" width="7.0" height="7.0" fill="#008000"/>
<rect x="302.5" y="203.5" width="7.0" height="7.0" fill="#008000"/>
<rect x="308.5" y="203.5" width="19.0" height="7.0" fill="#008000"/>
<rect x="326.5" y="203.5" width="16.0" height="7.0" fill="#008000"/>
<rect x="202.5" y="209.5" width="11.0" height="7.0" fill="#008000"/>
<rect x="212.5" y="209.5" width="7.0" height="7.0" fill="#00c000"/>
<rect x="218.5" y="209.5" width="7.0" height="7.0" fill="#00f000"/>
<rect x="224.5" y="209.5" width="13.0" height="7.0" fill="#008000"/>
<rect x="236.5" y="209.5" width="7.0" height="7.0" fill="#cccccc"/>
<rect x="242.5" y="209.5" width="7.0" height="7.0" fill="#008000"/>
<rect x="248.5" y="209.5" width="7.0" height="7.0" fill="#00c000"/>
<rect x="254.5" y="209.5" width="13.0" height="7.0" fill="#008000"/>
<rect x="266.5" y="209.5" width="7.0" height="7.0" fill="#008000"/>
<rect x="272.5" y="209.5" width="7.0" height="7.0" fill="#008000"/>
<rect x="278.5" y="209.5" width="7.0" height="7.0" fill="#008000"/>
<rect x="284.5" y="209.5" width="19.0" height="7.0" fill="#008000"/>
<rect x="302.5" y="209.5" width="7.0" height="7.0" fill="#008000"/>
<rect x="308.5" y="209.5" width="7.0" height="7.0" fill="#008000"/>
<rect x="314.5" y="209.5" width="7.0" height="7.0" fill="#008000"/>
<rect x="320.5" y="209.5" width="13.0" height="7.0" fill="#008000"/>
<rect x="332.5" y="209.5" width="10.0" height="7.0" fill="#008000"/>
<rect x="202.5" y="215.5" width="11.0" height="7.0" fill="#00f000"/>
<rect x="212.5" y="215.5" width="7.0" height="7.0" fill="#00c000"/>
<rect x="218.5" y="215.5" width="85.0" height="7.0" fill="#008000"/>
<rect x="302.5" y="215.5" width="13.0" height="7.0" fill="#008000"/>
<rect x="314.5" y="215.5" width="19.0" height="7.0" fill="#008000"/>
<rect x="332.5" y="215.5" width="10.0" height="7.0" fill="#008000"/>
<rect x="202.5" y="221.5" width="11.0" height="7.0" fill="#00f000"/>
<rect x="212.5" y="221.5" width="7.0" height="7.0" fill="#00c000"/>
<rect x="218.5" y="221.5" width="97.0" height="7.0" fill="#008000"/>
<rect x="314.5" y="221.5" width="7.0" height="7.0" fill="#008000"/>
<rect x="320.5" y="221.5" width="13.0" height="7.0" fill="#008000"/>
<rect x="332.5" y="221.5" width="10.0" height="7.0" fill="#ffffff"/>
<rect x="202.5" y="227.5" width="17.0" height="7.0" fill="#00f000"/>
<rect x="218.5" y="227.5" width="7.0" height="7.0" fill="#00c000"/>
<rect x="224.5" y="227.5" width="97.0" height="7.0" fill="#008000"/>
<rect x="320.5" y="227.5" width="7.0" height="7.0" fill="#008000"/>
<rect x="326.5" y="227.5" width="7.0" height="7.0" fill="#ffffff"/>
<rect x="332.5" y="227.5" width="10.0" height="7.0" fill="#008000"/>
<rect x="202.5" y="233.5" width="23.0" height="7.0" fill="#00f000"/>
<rect x="224.5" y="233.5" width="49.0" height="7.0" fill="#008000"/>
<rect x="272.5" y="233.5" width="7.0" height="7.0" fill="#00c000"/>
<rect x="278.5" y="233.5" width="64.0" height="7.0" fill="#008000"/>
<rect x="202.5" y="239.5" width="17.0" height="7.0" fill="#00f000"/>
<rect x="218.5" y="239.5" width="7.0" height="7.0" fill="#00c000"/>
<rect x="224.5" y="239.5" width="49.0" height="7.0" fill="#008000"/>
<rect x="272.5" y="239.5" width="7.0" height="7.0" fill="#00f000"/>
<rect x="278.5" y="239.5" width="7.0" height="7.0" fill="#00c000"/>
<rect x="284.5" y="239.5" width="58.0" height="7.0" fill="#008000"/>
<rect x="202.5" y="245.5" width="35.0" height="7.0" fill="#00c000"/>
<rect x="236.5" y="245.5" width="25.0" height="7.0" fill="#008000"/>
<rect x="260.5" y="245.5" width="7.0" height="7.0" fill="#00c000"/>
<rect x="266.5" y="245.5" width="7.0" height="7.0" fill="#008000"/>
<rect x="272.5" y="245.5" width="13.0" height="7.0" fill="#00c000"/>
<rect x="284.5" y="245.5" width="58.0" height="7.0" fill="#008000"/>
<rect x="202.5" y="251.5" width="41.0" height="7.0" fill="#00c000"/>
<rect x="242.5" y="251.5" width="13.0" height="7.0" fill="#008000"/>
<rect x="254.5" y="251.5" width="13.0" height="7.0" fill="#00c000"/>
<rect x="266.5" y="251.5" width="7.0" height="7.0" fill="#008000"/>
<rect x="272.5" y="251.5" width="19.0" height="7.0" fill="#00c000"/>
<rect x="290.5" y="251.5" width="37.0" height="7.0" fill="#008000"/>
<rect x="326.5" y="251.5" width="16.0" height="7.0" fill="#008000"/>
<rect x="202.5" y="257.5" width="89.0" height="7.0" fill="#00c000"/>
<rect x="290.5" y="257.5" width="37.0" height="7.0" fill="#008000"/>
<rect x="326.5" y="257.5" width="16.0" height="7.0" fill="#008000"/>
<rect x="202.5" y="263.5" width="59.0" height="7.0" fill="#00c000"/>
<rect x="260.5" y="263.5" width="13.0" height="7.0" fill="#008000"/>
<rect x="272.5" y="263.5" width="13.0" height="7.0" fill="#00c000"/>
<rect x="284.5" y="263.5" width="43.0" height="7.0" fill="#008000"/>
<rect x="326.5" y="263.5" width="16.0" height="7.0" fill="#008000"/>
<rect x="202.5" y="269.5" width="11.0" height="7.0" fill="#00f000"/>
<rect x="212.5" y="269.5" width="49.0" height="7.0" fill="#00c000"/>
<rect x="260.5" y="269.5" width="19.0" height="7.0" fill="#008000"/>
<rect x="278.5" y="269.5" width="7.0" height="7.0" fill="#00c000"/>
<rect x="284.5" y="269.5" width="43.0" height="7.0" fill="#008000"/>
<rect x="326.5" y="269.5" width="16.0" height="7.0" fill="#008000"/>
<rect x="202.5" y="275.5" width="53.0" height="7.0" fill="#00c000"/>
<rect x="254.5" y="275.5" width="37.0" height="7.0" fill="#008000"/>
<rect x="290.5" y="275.5" width="13.0" height="7.0" fill="#00c000"/>
<rect x="302.5" y="275.5" width="25.0" height="7.0" fill="#008000"/>
<rect x="326.5" y="275.5" width="7.0" height="7.0" fill="#008000"/>
<rect x="332.5" y="275.5" width="10.0" height="7.0" fill="#008000"/>
<rect x="202.5" y="281.5" width="17.0" height="7.0" fill="#00c000"/>
<rect x="218.5" y="281.5" width="7.0" height="7.0" fill="#00f000"/>
<rect x="224.5" y="281.5" width="25.0" height="7.0" fill="#00c000"/>
<rect x="248.5" y="281.5" width="43.0" height="7.0" fill="#008000"/>
<rect x="290.5" y="281.5" width="19.0" height="7.0" fill="#00c000"/>
<rect x="308.5" y="281.5" width="34.0" height="7.0" fill="#008000"/>
<rect x="202.5" y="287.5" width="11.0" height="7.0" fill="#00c000"/>
<rect x="212.5" y="287.5" width="13.0" height="7.0" fill="#00f000"/>
<rect x="224.5" y="287.5" width="25.0" height="7.0" fill="#00c000"/>
<rect x="248.5" y="287.5" width="37.0" height="7.0" fill="#008000"/>
<rect x="284.5" y="287.5" width="25.0" height="7.0" fill="#00c000"/>
<rect x="308.5" y="287.5" width="34.0" height="7.0" fill="#008000"/>
<rect x="202.5" y="293.5" width="11.0" height="7.0" fill="#00c000"/>
<rect x="212.5" y="293.5" width="7.0" height="7.0" fill="#00f000"/>
<rect x="218.5" y="293.5" width="25.0" height="7.0" fill="#00c000"/>
<rect x="242.5" y="293.5" width="43.0" height="7.0" fill="#008000"/>
<rect x="284.5" y="293.5" width="25.0" height="7.0" fill="#00c000"/>
<rect x="308.5" y="293.5" width="34.0" height="7.0" fill="#008000"/>
<rect x="202.5" y="299.5" width="35.0" height="10.0" fill="#00c000"/>
<rect x="236.5" y="299.5" width="43.0" height="10.0" fill="#008000"/>
<rect x="278.5" y="299.5" width="31.0" height="10.0" fill="#00c000"/>
<rect x="308.5" y="299.5" width="34.0" height="10.0" fill="#008000"/><g transform="translate(206.5,185.5)"><polygon fill="#ffffff" points="-2,-2 10.5,-2 10.5,0 9,5 5,9 1.5,12.5 -2,13"/><polygon fill="#ff1010" points="0.5,12 8,8 13,6 16,8.5 12,15 11,21 8,24.5 0,24.5"/><polygon fill="#ffa8a8" points="8,8.5 11,7 12.5,9 9.5,10.5"/></g></g>
<path d="M268.6 207.6L266.1 202.1M271.3 209.5L268.8 204.0M274.4 212.2L273.6 210.4M267.8 197.6L266.1 194.0M277.4 214.7L275.7 211.1M274.9 209.2L274.1 207.4M271.6 201.9L270.8 200.1M279.2 214.7L278.4 212.9M275.9 207.4L275.1 205.6M271.8 198.3L270.2 194.6M271.7 193.9L270.1 190.2M279.0 201.9L277.4 198.2M281.3 203.1L280.5 201.2M279.0 197.6L276.6 192.1M280.8 197.6L280.0 195.8M277.7 190.3L276.9 188.5M278.5 187.9L277.7 186.1M283.9 196.1L282.3 192.4M280.7 188.7L279.9 186.9M285.8 196.3L284.2 192.6M289.1 199.9L287.6 196.2M291.7 201.6L290.9 199.7M285.5 186.8L284.7 184.9M290.2 189.3L289.5 187.5M331.1 280.7L330.3 278.8M298.7 201.0L294.9 191.8M303.3 208.1L301.8 204.3M299.8 194.8L299.0 192.9M335.5 279.9L334.7 278.1M333.2 274.3L330.3 266.9M307.4 209.3L306.6 207.4M304.4 201.9L302.9 198.1M336.3 278.1L335.6 276.2M333.4 270.6L332.6 268.8M327.5 255.8L326.0 252.0M311.3 214.8L309.1 209.3M304.7 198.1L304.0 196.2M338.1 278.6L336.6 274.9M330.0 258.1L329.3 256.3M310.3 207.8L305.9 196.7M302.3 187.4L301.6 185.5M331.0 256.4L328.8 250.8M310.0 202.4L308.5 198.6M307.1 194.9L306.3 193.0M316.3 214.1L314.1 208.5M310.5 199.1L309.0 195.4M332.5 251.8L331.8 249.9M325.3 233.1L323.9 229.4M318.2 214.5L317.4 212.6M336.0 256.9L334.6 253.1M319.7 213.9L316.8 206.4M312.6 195.2L311.8 193.3M336.9 254.9L335.5 251.2M320.0 210.0L318.5 206.3M317.1 202.6L315.0 196.9M338.5 254.7L337.1 251.0M327.2 224.8L325.8 221.0M322.3 211.7L320.9 207.9M318.1 200.4L316.7 196.7M329.7 226.9L326.9 219.4M321.4 204.4L320.7 202.6M327.4 211.4L324.0 202.0M327.4 206.7L326.7 204.8M325.3 201.0L323.3 195.4M337.4 229.6L336.8 227.7M334.0 220.2L333.4 218.3M325.2 195.8L324.5 193.9M323.8 192.0L321.8 186.4M334.4 216.4L333.7 214.6M330.6 201.1L329.3 197.4M327.3 191.7L326.6 189.8M325.9 187.9L324.6 184.2M331.8 199.4L328.4 189.9M336.9 209.0L335.6 205.2M337.9 202.0L336.6 198.2M338.1 197.6L337.5 195.7M336.8 193.8L333.6 184.3" stroke="#cccccc" stroke-width="1.5" fill="none"/>
<path d="M271.9 206.7L271.1 204.9M267.5 192.8L266.7 191.0M278.4 212.9L275.9 207.4M273.5 201.9L271.8 198.3M270.2 194.6L269.4 192.8M278.2 208.5L277.4 206.7M274.7 196.4L273.9 194.6M273.1 192.8L272.3 190.9M285.6 208.7L283.2 203.1M282.4 201.3L280.8 197.6M281.7 195.3L278.5 187.9M277.7 186.1L276.9 184.3M286.0 192.5L285.2 190.6M289.3 196.0L287.0 190.5M326.7 274.0L326.0 272.2M291.2 187.0L290.4 185.2M328.8 275.1L325.8 267.7M293.4 188.1L291.9 184.3M332.5 280.4L325.8 263.7M331.8 274.6L328.0 265.3M330.3 266.9L325.8 255.8M334.8 274.4L333.4 270.6M332.6 268.8L331.2 265.1M328.2 257.6L327.5 255.8M309.1 209.3L308.4 207.4M336.6 274.9L332.2 263.7M315.4 220.9L314.0 217.2M312.5 213.4L311.8 211.6M338.3 275.0L336.1 269.5M333.9 263.9L331.7 258.3M305.6 191.2L304.9 189.3M337.2 268.2L336.4 266.3M335.0 262.6L332.8 257.0M314.1 208.5L313.4 206.6M312.7 204.7L311.9 202.9M311.2 201.0L310.5 199.1M308.3 193.5L307.6 191.7M338.2 266.7L334.6 257.4M317.4 212.6L315.3 207.0M338.2 262.5L336.0 256.9M314.0 198.9L313.3 197.1M311.8 193.3L311.1 191.5M320.7 211.9L320.0 210.0M325.1 219.1L324.4 217.3M320.2 206.0L318.1 200.4M324.8 213.8L323.4 210.1M322.7 208.2L321.4 204.4M320.0 200.7L318.6 196.9M333.5 232.4L332.1 228.7M331.4 226.8L330.0 223.0M329.3 221.2L327.9 217.4M321.0 198.7L320.3 196.8M324.0 202.0L321.9 196.4M327.9 203.3L326.6 199.5M321.8 186.4L321.1 184.5M333.7 214.6L332.4 210.8M331.7 208.9L331.0 207.0M329.7 203.3L328.3 199.5M326.3 193.8L324.9 190.1M323.6 186.3L322.9 184.4M337.3 220.0L336.0 216.2M328.6 195.5L327.3 191.7M328.4 189.9L326.4 184.3M330.9 186.8L330.2 184.9M334.6 192.5L332.7 186.9" stroke="#ffffff" stroke-width="1.5" fill="none"/>
</g>
<rect x="206.5" y="185.5" width="132.0" height="120.0" fill="none" stroke="#3a3a3a" stroke-width="0.7"/>
<text x="272.50" y="182.80" font-size="6.8" text-anchor="middle" textLength="42.79" lengthAdjust="spacingAndGlyphs" >Radial velocity</text>
<line x1="221.17" y1="305.5" x2="221.17" y2="307.7" stroke="#3a3a3a" stroke-width="0.6"/>
<text x="221.17" y="312.60" font-size="5.7" text-anchor="middle" textLength="6.04" lengthAdjust="spacingAndGlyphs" >20</text>
<line x1="250.50" y1="305.5" x2="250.50" y2="307.7" stroke="#3a3a3a" stroke-width="0.6"/>
<text x="250.50" y="312.60" font-size="5.7" text-anchor="middle" textLength="6.04" lengthAdjust="spacingAndGlyphs" >30</text>
<line x1="279.83" y1="305.5" x2="279.83" y2="307.7" stroke="#3a3a3a" stroke-width="0.6"/>
<text x="279.83" y="312.60" font-size="5.7" text-anchor="middle" textLength="6.04" lengthAdjust="spacingAndGlyphs" >40</text>
<line x1="309.17" y1="305.5" x2="309.17" y2="307.7" stroke="#3a3a3a" stroke-width="0.6"/>
<text x="309.17" y="312.60" font-size="5.7" text-anchor="middle" textLength="6.04" lengthAdjust="spacingAndGlyphs" >50</text>
<line x1="338.50" y1="305.5" x2="338.50" y2="307.7" stroke="#3a3a3a" stroke-width="0.6"/>
<text x="338.50" y="312.60" font-size="5.7" text-anchor="middle" textLength="6.04" lengthAdjust="spacingAndGlyphs" >60</text>
<text x="272.50" y="320.40" font-size="5.7" text-anchor="middle" textLength="13.80" lengthAdjust="spacingAndGlyphs" >x/km</text>
<line x1="204.30" y1="305.50" x2="206.5" y2="305.50" stroke="#3a3a3a" stroke-width="0.6"/>
<text x="203.50" y="307.50" font-size="5.7" text-anchor="end" textLength="3.02" lengthAdjust="spacingAndGlyphs" >5</text>
<line x1="204.30" y1="285.50" x2="206.5" y2="285.50" stroke="#3a3a3a" stroke-width="0.6"/>
<text x="203.50" y="287.50" font-size="5.7" text-anchor="end" textLength="6.04" lengthAdjust="spacingAndGlyphs" >10</text>
<line x1="204.30" y1="265.50" x2="206.5" y2="265.50" stroke="#3a3a3a" stroke-width="0.6"/>
<text x="203.50" y="267.50" font-size="5.7" text-anchor="end" textLength="6.04" lengthAdjust="spacingAndGlyphs" >15</text>
<line x1="204.30" y1="245.50" x2="206.5" y2="245.50" stroke="#3a3a3a" stroke-width="0.6"/>
<text x="203.50" y="247.50" font-size="5.7" text-anchor="end" textLength="6.04" lengthAdjust="spacingAndGlyphs" >20</text>
<line x1="204.30" y1="225.50" x2="206.5" y2="225.50" stroke="#3a3a3a" stroke-width="0.6"/>
<text x="203.50" y="227.50" font-size="5.7" text-anchor="end" textLength="6.04" lengthAdjust="spacingAndGlyphs" >25</text>
<line x1="204.30" y1="205.50" x2="206.5" y2="205.50" stroke="#3a3a3a" stroke-width="0.6"/>
<text x="203.50" y="207.50" font-size="5.7" text-anchor="end" textLength="6.04" lengthAdjust="spacingAndGlyphs" >30</text>
<line x1="204.30" y1="185.50" x2="206.5" y2="185.50" stroke="#3a3a3a" stroke-width="0.6"/>
<text x="203.50" y="187.50" font-size="5.7" text-anchor="end" textLength="6.04" lengthAdjust="spacingAndGlyphs" >35</text>
<text x="0.00" y="0.00" font-size="5.7" text-anchor="middle" textLength="13.80" lengthAdjust="spacingAndGlyphs" transform="translate(194.20,245.50) rotate(-90)">y/km</text>
<rect x="346.0" y="297.50" width="6.3" height="8.25" fill="#660066"/>
<rect x="346.0" y="289.50" width="6.3" height="8.25" fill="#88e0f0"/>
<rect x="346.0" y="281.50" width="6.3" height="8.25" fill="#00e8f8"/>
<rect x="346.0" y="273.50" width="6.3" height="8.25" fill="#00b0c0"/>
<rect x="346.0" y="265.50" width="6.3" height="8.25" fill="#00f000"/>
<rect x="346.0" y="257.50" width="6.3" height="8.25" fill="#00c000"/>
<rect x="346.0" y="249.50" width="6.3" height="8.25" fill="#008000"/>
<rect x="346.0" y="241.50" width="6.3" height="8.25" fill="#cccccc"/>
<rect x="346.0" y="233.50" width="6.3" height="8.25" fill="#cccccc"/>
<rect x="346.0" y="225.50" width="6.3" height="8.25" fill="#ff0000"/>
<rect x="346.0" y="217.50" width="6.3" height="8.25" fill="#ff6060"/>
<rect x="346.0" y="209.50" width="6.3" height="8.25" fill="#ffb4b4"/>
<rect x="346.0" y="201.50" width="6.3" height="8.25" fill="#ff8000"/>
<rect x="346.0" y="193.50" width="6.3" height="8.25" fill="#ffd000"/>
<rect x="346.0" y="185.50" width="6.3" height="8.25" fill="#ffff00"/>
<rect x="346.0" y="185.5" width="6.3" height="120.0" fill="none" stroke="#555" stroke-width="0.5"/>
<line x1="352.3" y1="305.50" x2="354.10" y2="305.50" stroke="#3a3a3a" stroke-width="0.5"/>
<text x="355.30" y="307.50" font-size="5.7" text-anchor="start" textLength="6.03" lengthAdjust="spacingAndGlyphs" >RF</text>
<line x1="352.3" y1="297.50" x2="354.10" y2="297.50" stroke="#3a3a3a" stroke-width="0.5"/>
<text x="355.30" y="299.50" font-size="5.7" text-anchor="start" textLength="7.76" lengthAdjust="spacingAndGlyphs" >-64</text>
<line x1="352.3" y1="289.50" x2="354.10" y2="289.50" stroke="#3a3a3a" stroke-width="0.5"/>
<text x="355.30" y="291.50" font-size="5.7" text-anchor="start" textLength="7.76" lengthAdjust="spacingAndGlyphs" >-27</text>
<line x1="352.3" y1="281.50" x2="354.10" y2="281.50" stroke="#3a3a3a" stroke-width="0.5"/>
<text x="355.30" y="283.50" font-size="5.7" text-anchor="start" textLength="7.76" lengthAdjust="spacingAndGlyphs" >-20</text>
<line x1="352.3" y1="273.50" x2="354.10" y2="273.50" stroke="#3a3a3a" stroke-width="0.5"/>
<text x="355.30" y="275.50" font-size="5.7" text-anchor="start" textLength="7.76" lengthAdjust="spacingAndGlyphs" >-15</text>
<line x1="352.3" y1="265.50" x2="354.10" y2="265.50" stroke="#3a3a3a" stroke-width="0.5"/>
<text x="355.30" y="267.50" font-size="5.7" text-anchor="start" textLength="7.76" lengthAdjust="spacingAndGlyphs" >-10</text>
<line x1="352.3" y1="257.50" x2="354.10" y2="257.50" stroke="#3a3a3a" stroke-width="0.5"/>
<text x="355.30" y="259.50" font-size="5.7" text-anchor="start" textLength="4.74" lengthAdjust="spacingAndGlyphs" >-5</text>
<line x1="352.3" y1="249.50" x2="354.10" y2="249.50" stroke="#3a3a3a" stroke-width="0.5"/>
<text x="355.30" y="251.50" font-size="5.7" text-anchor="start" textLength="4.74" lengthAdjust="spacingAndGlyphs" >-1</text>
<line x1="352.3" y1="241.50" x2="354.10" y2="241.50" stroke="#3a3a3a" stroke-width="0.5"/>
<text x="355.30" y="243.50" font-size="5.7" text-anchor="start" textLength="3.02" lengthAdjust="spacingAndGlyphs" >0</text>
<line x1="352.3" y1="233.50" x2="354.10" y2="233.50" stroke="#3a3a3a" stroke-width="0.5"/>
<text x="355.30" y="235.50" font-size="5.7" text-anchor="start" textLength="3.02" lengthAdjust="spacingAndGlyphs" >1</text>
<line x1="352.3" y1="225.50" x2="354.10" y2="225.50" stroke="#3a3a3a" stroke-width="0.5"/>
<text x="355.30" y="227.50" font-size="5.7" text-anchor="start" textLength="3.02" lengthAdjust="spacingAndGlyphs" >5</text>
<line x1="352.3" y1="217.50" x2="354.10" y2="217.50" stroke="#3a3a3a" stroke-width="0.5"/>
<text x="355.30" y="219.50" font-size="5.7" text-anchor="start" textLength="6.04" lengthAdjust="spacingAndGlyphs" >10</text>
<line x1="352.3" y1="209.50" x2="354.10" y2="209.50" stroke="#3a3a3a" stroke-width="0.5"/>
<text x="355.30" y="211.50" font-size="5.7" text-anchor="start" textLength="6.04" lengthAdjust="spacingAndGlyphs" >15</text>
<line x1="352.3" y1="201.50" x2="354.10" y2="201.50" stroke="#3a3a3a" stroke-width="0.5"/>
<text x="355.30" y="203.50" font-size="5.7" text-anchor="start" textLength="6.04" lengthAdjust="spacingAndGlyphs" >20</text>
<line x1="352.3" y1="193.50" x2="354.10" y2="193.50" stroke="#3a3a3a" stroke-width="0.5"/>
<text x="355.30" y="195.50" font-size="5.7" text-anchor="start" textLength="6.04" lengthAdjust="spacingAndGlyphs" >27</text>
<line x1="352.3" y1="185.50" x2="354.10" y2="185.50" stroke="#3a3a3a" stroke-width="0.5"/>
<text x="355.30" y="187.50" font-size="5.7" text-anchor="start" textLength="6.04" lengthAdjust="spacingAndGlyphs" >63</text>
<text x="353.50" y="311.80" font-size="5.7" text-anchor="middle" textLength="8.61" lengthAdjust="spacingAndGlyphs" >m/s</text>
<clipPath id="clip12"><rect x="392.0" y="185.5" width="132.0" height="120.0"/></clipPath>
<g clip-path="url(#clip12)">
<rect x="392.0" y="185.5" width="13.0" height="7.0" fill="#ffffff"/>
<rect x="404.0" y="185.5" width="13.0" height="7.0" fill="#20dcf0"/>
<rect x="416.0" y="185.5" width="31.0" height="7.0" fill="#60dcea"/>
<rect x="446.0" y="185.5" width="7.0" height="7.0" fill="#a0e0e8"/>
<rect x="452.0" y="185.5" width="7.0" height="7.0" fill="#60dcea"/>
<rect x="458.0" y="185.5" width="13.0" height="7.0" fill="#20dcf0"/>
<rect x="470.0" y="185.5" width="7.0" height="7.0" fill="#60dcea"/>
<rect x="476.0" y="185.5" width="13.0" height="7.0" fill="#20dcf0"/>
<rect x="488.0" y="185.5" width="7.0" height="7.0" fill="#60dcea"/>
<rect x="494.0" y="185.5" width="7.0" height="7.0" fill="#20dcf0"/>
<rect x="500.0" y="185.5" width="7.0" height="7.0" fill="#60dcea"/>
<rect x="506.0" y="185.5" width="18.0" height="7.0" fill="#20dcf0"/>
<rect x="392.0" y="191.5" width="7.0" height="7.0" fill="#ffffff"/>
<rect x="398.0" y="191.5" width="25.0" height="7.0" fill="#20dcf0"/>
<rect x="422.0" y="191.5" width="37.0" height="7.0" fill="#60dcea"/>
<rect x="458.0" y="191.5" width="7.0" height="7.0" fill="#20dcf0"/>
<rect x="464.0" y="191.5" width="7.0" height="7.0" fill="#60dcea"/>
<rect x="470.0" y="191.5" width="7.0" height="7.0" fill="#20dcf0"/>
<rect x="476.0" y="191.5" width="25.0" height="7.0" fill="#60dcea"/>
<rect x="500.0" y="191.5" width="7.0" height="7.0" fill="#20dcf0"/>
<rect x="506.0" y="191.5" width="13.0" height="7.0" fill="#60dcea"/>
<rect x="518.0" y="191.5" width="6.0" height="7.0" fill="#20dcf0"/>
<rect x="392.0" y="197.5" width="7.0" height="7.0" fill="#20dcf0"/>
<rect x="398.0" y="197.5" width="7.0" height="7.0" fill="#10b8d0"/>
<rect x="404.0" y="197.5" width="7.0" height="7.0" fill="#20dcf0"/>
<rect x="410.0" y="197.5" width="7.0" height="7.0" fill="#10b8d0"/>
<rect x="416.0" y="197.5" width="13.0" height="7.0" fill="#20dcf0"/>
<rect x="428.0" y="197.5" width="13.0" height="7.0" fill="#60dcea"/>
<rect x="440.0" y="197.5" width="7.0" height="7.0" fill="#a0e0e8"/>
<rect x="446.0" y="197.5" width="19.0" height="7.0" fill="#60dcea"/>
<rect x="464.0" y="197.5" width="7.0" height="7.0" fill="#20dcf0"/>
<rect x="470.0" y="197.5" width="25.0" height="7.0" fill="#60dcea"/>
<rect x="494.0" y="197.5" width="7.0" height="7.0" fill="#20dcf0"/>
<rect x="500.0" y="197.5" width="13.0" height="7.0" fill="#60dcea"/>
<rect x="512.0" y="197.5" width="12.0" height="7.0" fill="#20dcf0"/>
<rect x="392.0" y="203.5" width="7.0" height="7.0" fill="#20dcf0"/>
<rect x="398.0" y="203.5" width="25.0" height="7.0" fill="#10b8d0"/>
<rect x="422.0" y="203.5" width="7.0" height="7.0" fill="#20dcf0"/>
<rect x="428.0" y="203.5" width="19.0" height="7.0" fill="#60dcea"/>
<rect x="446.0" y="203.5" width="7.0" height="7.0" fill="#a0e0e8"/>
<rect x="452.0" y="203.5" width="25.0" height="7.0" fill="#60dcea"/>
<rect x="476.0" y="203.5" width="7.0" height="7.0" fill="#a0e0e8"/>
<rect x="482.0" y="203.5" width="25.0" height="7.0" fill="#60dcea"/>
<rect x="506.0" y="203.5" width="7.0" height="7.0" fill="#20dcf0"/>
<rect x="512.0" y="203.5" width="7.0" height="7.0" fill="#60dcea"/>
<rect x="518.0" y="203.5" width="6.0" height="7.0" fill="#20dcf0"/>
<rect x="392.0" y="209.5" width="7.0" height="7.0" fill="#10b8d0"/>
<rect x="398.0" y="209.5" width="7.0" height="7.0" fill="#20dcf0"/>
<rect x="404.0" y="209.5" width="13.0" height="7.0" fill="#10b8d0"/>
<rect x="416.0" y="209.5" width="13.0" height="7.0" fill="#20dcf0"/>
<rect x="428.0" y="209.5" width="25.0" height="7.0" fill="#60dcea"/>
<rect x="452.0" y="209.5" width="7.0" height="7.0" fill="#a0e0e8"/>
<rect x="458.0" y="209.5" width="13.0" height="7.0" fill="#60dcea"/>
<rect x="470.0" y="209.5" width="7.0" height="7.0" fill="#a0e0e8"/>
<rect x="476.0" y="209.5" width="13.0" height="7.0" fill="#60dcea"/>
<rect x="488.0" y="209.5" width="7.0" height="7.0" fill="#a0e0e8"/>
<rect x="494.0" y="209.5" width="13.0" height="7.0" fill="#60dcea"/>
<rect x="506.0" y="209.5" width="7.0" height="7.0" fill="#10b8d0"/>
<rect x="512.0" y="209.5" width="7.0" height="7.0" fill="#00c000"/>
<rect x="518.0" y="209.5" width="6.0" height="7.0" fill="#60dcea"/>
<rect x="392.0" y="215.5" width="7.0" height="7.0" fill="#20dcf0"/>
<rect x="398.0" y="215.5" width="7.0" height="7.0" fill="#10b8d0"/>
<rect x="404.0" y="215.5" width="13.0" height="7.0" fill="#20dcf0"/>
<rect x="416.0" y="215.5" width="7.0" height="7.0" fill="#10b8d0"/>
<rect x="422.0" y="215.5" width="7.0" height="7.0" fill="#20dcf0"/>
<rect x="428.0" y="215.5" width="13.0" height="7.0" fill="#60dcea"/>
<rect x="440.0" y="215.5" width="7.0" height="7.0" fill="#a0e0e8"/>
<rect x="446.0" y="215.5" width="19.0" height="7.0" fill="#60dcea"/>
<rect x="464.0" y="215.5" width="7.0" height="7.0" fill="#a0e0e8"/>
<rect x="470.0" y="215.5" width="13.0" height="7.0" fill="#60dcea"/>
<rect x="482.0" y="215.5" width="7.0" height="7.0" fill="#a0e0e8"/>
<rect x="488.0" y="215.5" width="19.0" height="7.0" fill="#60dcea"/>
<rect x="506.0" y="215.5" width="7.0" height="7.0" fill="#10b8d0"/>
<rect x="512.0" y="215.5" width="7.0" height="7.0" fill="#00c000"/>
<rect x="518.0" y="215.5" width="6.0" height="7.0" fill="#20dcf0"/>
<rect x="392.0" y="221.5" width="19.0" height="7.0" fill="#20dcf0"/>
<rect x="410.0" y="221.5" width="7.0" height="7.0" fill="#60dcea"/>
<rect x="416.0" y="221.5" width="7.0" height="7.0" fill="#20dcf0"/>
<rect x="422.0" y="221.5" width="13.0" height="7.0" fill="#60dcea"/>
<rect x="434.0" y="221.5" width="7.0" height="7.0" fill="#a0e0e8"/>
<rect x="440.0" y="221.5" width="19.0" height="7.0" fill="#60dcea"/>
<rect x="458.0" y="221.5" width="7.0" height="7.0" fill="#a0e0e8"/>
<rect x="464.0" y="221.5" width="13.0" height="7.0" fill="#60dcea"/>
<rect x="476.0" y="221.5" width="7.0" height="7.0" fill="#a0e0e8"/>
<rect x="482.0" y="221.5" width="13.0" height="7.0" fill="#60dcea"/>
<rect x="494.0" y="221.5" width="7.0" height="7.0" fill="#a0e0e8"/>
<rect x="500.0" y="221.5" width="7.0" height="7.0" fill="#60dcea"/>
<rect x="506.0" y="221.5" width="13.0" height="7.0" fill="#10b8d0"/>
<rect x="518.0" y="221.5" width="6.0" height="7.0" fill="#ffffff"/>
<rect x="392.0" y="227.5" width="7.0" height="7.0" fill="#20dcf0"/>
<rect x="398.0" y="227.5" width="7.0" height="7.0" fill="#60dcea"/>
<rect x="404.0" y="227.5" width="7.0" height="7.0" fill="#20dcf0"/>
<rect x="410.0" y="227.5" width="37.0" height="7.0" fill="#60dcea"/>
<rect x="446.0" y="227.5" width="7.0" height="7.0" fill="#a0e0e8"/>
<rect x="452.0" y="227.5" width="13.0" height="7.0" fill="#60dcea"/>
<rect x="464.0" y="227.5" width="7.0" height="7.0" fill="#a0e0e8"/>
<rect x="470.0" y="227.5" width="13.0" height="7.0" fill="#60dcea"/>
<rect x="482.0" y="227.5" width="7.0" height="7.0" fill="#a0e0e8"/>
<rect x="488.0" y="227.5" width="25.0" height="7.0" fill="#60dcea"/>
<rect x="512.0" y="227.5" width="7.0" height="7.0" fill="#20dcf0"/>
<rect x="518.0" y="227.5" width="6.0" height="7.0" fill="#ffffff"/>
<rect x="392.0" y="233.5" width="25.0" height="7.0" fill="#60dcea"/>
<rect x="416.0" y="233.5" width="7.0" height="7.0" fill="#a0e0e8"/>
<rect x="422.0" y="233.5" width="37.0" height="7.0" fill="#60dcea"/>
<rect x="458.0" y="233.5" width="7.0" height="7.0" fill="#a0e0e8"/>
<rect x="464.0" y="233.5" width="7.0" height="7.0" fill="#60dcea"/>
<rect x="470.0" y="233.5" width="7.0" height="7.0" fill="#a0e0e8"/>
<rect x="476.0" y="233.5" width="13.0" height="7.0" fill="#60dcea"/>
<rect x="488.0" y="233.5" width="7.0" height="7.0" fill="#a0e0e8"/>
<rect x="494.0" y="233.5" width="25.0" height="7.0" fill="#60dcea"/>
<rect x="518.0" y="233.5" width="6.0" height="7.0" fill="#20dcf0"/>
<rect x="392.0" y="239.5" width="13.0" height="7.0" fill="#60dcea"/>
<rect x="404.0" y="239.5" width="7.0" height="7.0" fill="#a0e0e8"/>
<rect x="410.0" y="239.5" width="19.0" height="7.0" fill="#60dcea"/>
<rect x="428.0" y="239.5" width="7.0" height="7.0" fill="#a0e0e8"/>
<rect x="434.0" y="239.5" width="31.0" height="7.0" fill="#60dcea"/>
<rect x="464.0" y="239.5" width="7.0" height="7.0" fill="#a0e0e8"/>
<rect x="470.0" y="239.5" width="13.0" height="7.0" fill="#60dcea"/>
<rect x="482.0" y="239.5" width="7.0" height="7.0" fill="#a0e0e8"/>
<rect x="488.0" y="239.5" width="13.0" height="7.0" fill="#60dcea"/>
<rect x="500.0" y="239.5" width="7.0" height="7.0" fill="#a0e0e8"/>
<rect x="506.0" y="239.5" width="18.0" height="7.0" fill="#60dcea"/>
<rect x="392.0" y="245.5" width="7.0" height="7.0" fill="#20dcf0"/>
<rect x="398.0" y="245.5" width="13.0" height="7.0" fill="#60dcea"/>
<rect x="410.0" y="245.5" width="7.0" height="7.0" fill="#a0e0e8"/>
<rect x="416.0" y="245.5" width="19.0" height="7.0" fill="#60dcea"/>
<rect x="434.0" y="245.5" width="7.0" height="7.0" fill="#a0e0e8"/>
<rect x="440.0" y="245.5" width="19.0" height="7.0" fill="#60dcea"/>
<rect x="458.0" y="245.5" width="7.0" height="7.0" fill="#20dcf0"/>
<rect x="464.0" y="245.5" width="13.0" height="7.0" fill="#60dcea"/>
<rect x="476.0" y="245.5" width="7.0" height="7.0" fill="#a0e0e8"/>
<rect x="482.0" y="245.5" width="19.0" height="7.0" fill="#60dcea"/>
<rect x="500.0" y="245.5" width="7.0" height="7.0" fill="#20dcf0"/>
<rect x="506.0" y="245.5" width="7.0" height="7.0" fill="#60dcea"/>
<rect x="512.0" y="245.5" width="12.0" height="7.0" fill="#20dcf0"/>
<rect x="392.0" y="251.5" width="7.0" height="7.0" fill="#20dcf0"/>
<rect x="398.0" y="251.5" width="7.0" height="7.0" fill="#60dcea"/>
<rect x="404.0" y="251.5" width="7.0" height="7.0" fill="#a0e0e8"/>
<rect x="410.0" y="251.5" width="13.0" height="7.0" fill="#60dcea"/>
<rect x="422.0" y="251.5" width="7.0" height="7.0" fill="#a0e0e8"/>
<rect x="428.0" y="251.5" width="25.0" height="7.0" fill="#60dcea"/>
<rect x="452.0" y="251.5" width="19.0" height="7.0" fill="#20dcf0"/>
<rect x="470.0" y="251.5" width="25.0" height="7.0" fill="#60dcea"/>
<rect x="494.0" y="251.5" width="7.0" height="7.0" fill="#20dcf0"/>
<rect x="500.0" y="251.5" width="13.0" height="7.0" fill="#60dcea"/>
<rect x="512.0" y="251.5" width="12.0" height="7.0" fill="#20dcf0"/>
<rect x="392.0" y="257.5" width="7.0" height="7.0" fill="#20dcf0"/>
<rect x="398.0" y="257.5" width="19.0" height="7.0" fill="#60dcea"/>
<rect x="416.0" y="257.5" width="7.0" height="7.0" fill="#a0e0e8"/>
<rect x="422.0" y="257.5" width="25.0" height="7.0" fill="#60dcea"/>
<rect x="446.0" y="257.5" width="13.0" height="7.0" fill="#20dcf0"/>
<rect x="458.0" y="257.5" width="7.0" height="7.0" fill="#60dcea"/>
<rect x="464.0" y="257.5" width="7.0" height="7.0" fill="#20dcf0"/>
<rect x="470.0" y="257.5" width="13.0" height="7.0" fill="#60dcea"/>
<rect x="482.0" y="257.5" width="7.0" height="7.0" fill="#a0e0e8"/>
<rect x="488.0" y="257.5" width="13.0" height="7.0" fill="#60dcea"/>
<rect x="500.0" y="257.5" width="13.0" height="7.0" fill="#20dcf0"/>
<rect x="512.0" y="257.5" width="7.0" height="7.0" fill="#ffffff"/>
<rect x="518.0" y="257.5" width="6.0" height="7.0" fill="#20dcf0"/>
<rect x="392.0" y="263.5" width="7.0" height="7.0" fill="#60dcea"/>
<rect x="398.0" y="263.5" width="7.0" height="7.0" fill="#20dcf0"/>
<rect x="404.0" y="263.5" width="7.0" height="7.0" fill="#60dcea"/>
<rect x="410.0" y="263.5" width="7.0" height="7.0" fill="#a0e0e8"/>
<rect x="416.0" y="263.5" width="13.0" height="7.0" fill="#60dcea"/>
<rect x="428.0" y="263.5" width="7.0" height="7.0" fill="#a0e0e8"/>
<rect x="434.0" y="263.5" width="7.0" height="7.0" fill="#60dcea"/>
<rect x="440.0" y="263.5" width="13.0" height="7.0" fill="#20dcf0"/>
<rect x="452.0" y="263.5" width="7.0" height="7.0" fill="#60dcea"/>
<rect x="458.0" y="263.5" width="7.0" height="7.0" fill="#20dcf0"/>
<rect x="464.0" y="263.5" width="7.0" height="7.0" fill="#60dcea"/>
<rect x="470.0" y="263.5" width="7.0" height="7.0" fill="#20dcf0"/>
<rect x="476.0" y="263.5" width="19.0" height="7.0" fill="#60dcea"/>
<rect x="494.0" y="263.5" width="7.0" height="7.0" fill="#20dcf0"/>
<rect x="500.0" y="263.5" width="7.0" height="7.0" fill="#60dcea"/>
<rect x="506.0" y="263.5" width="7.0" height="7.0" fill="#20dcf0"/>
<rect x="512.0" y="263.5" width="12.0" height="7.0" fill="#ffffff"/>
<rect x="392.0" y="269.5" width="7.0" height="7.0" fill="#20dcf0"/>
<rect x="398.0" y="269.5" width="25.0" height="7.0" fill="#60dcea"/>
<rect x="422.0" y="269.5" width="7.0" height="7.0" fill="#a0e0e8"/>
<rect x="428.0" y="269.5" width="13.0" height="7.0" fill="#60dcea"/>
<rect x="440.0" y="269.5" width="19.0" height="7.0" fill="#20dcf0"/>
<rect x="458.0" y="269.5" width="7.0" height="7.0" fill="#60dcea"/>
<rect x="464.0" y="269.5" width="7.0" height="7.0" fill="#20dcf0"/>
<rect x="470.0" y="269.5" width="13.0" height="7.0" fill="#60dcea"/>
<rect x="482.0" y="269.5" width="7.0" height="7.0" fill="#a0e0e8"/>
<rect x="488.0" y="269.5" width="13.0" height="7.0" fill="#60dcea"/>
<rect x="500.0" y="269.5" width="7.0" height="7.0" fill="#20dcf0"/>
<rect x="506.0" y="269.5" width="7.0" height="7.0" fill="#60dcea"/>
<rect x="512.0" y="269.5" width="7.0" height="7.0" fill="#ffffff"/>
<rect x="518.0" y="269.5" width="6.0" height="7.0" fill="#00c000"/>
<rect x="392.0" y="275.5" width="7.0" height="7.0" fill="#20dcf0"/>
<rect x="398.0" y="275.5" width="7.0" height="7.0" fill="#a0e0e8"/>
<rect x="404.0" y="275.5" width="13.0" height="7.0" fill="#60dcea"/>
<rect x="416.0" y="275.5" width="7.0" height="7.0" fill="#a0e0e8"/>
<rect x="422.0" y="275.5" width="19.0" height="7.0" fill="#60dcea"/>
<rect x="440.0" y="275.5" width="25.0" height="7.0" fill="#20dcf0"/>
<rect x="464.0" y="275.5" width="13.0" height="7.0" fill="#60dcea"/>
<rect x="476.0" y="275.5" width="7.0" height="7.0" fill="#a0e0e8"/>
<rect x="482.0" y="275.5" width="13.0" height="7.0" fill="#60dcea"/>
<rect x="494.0" y="275.5" width="7.0" height="7.0" fill="#20dcf0"/>
<rect x="500.0" y="275.5" width="13.0" height="7.0" fill="#60dcea"/>
<rect x="512.0" y="275.5" width="7.0" height="7.0" fill="#20dcf0"/>
<rect x="518.0" y="275.5" width="6.0" height="7.0" fill="#00c000"/>
<rect x="392.0" y="281.5" width="19.0" height="7.0" fill="#60dcea"/>
<rect x="410.0" y="281.5" width="7.0" height="7.0" fill="#a0e0e8"/>
<rect x="416.0" y="281.5" width="13.0" height="7.0" fill="#60dcea"/>
<rect x="428.0" y="281.5" width="7.0" height="7.0" fill="#a0e0e8"/>
<rect x="434.0" y="281.5" width="13.0" height="7.0" fill="#60dcea"/>
<rect x="446.0" y="281.5" width="13.0" height="7.0" fill="#20dcf0"/>
<rect x="458.0" y="281.5" width="7.0" height="7.0" fill="#60dcea"/>
<rect x="464.0" y="281.5" width="7.0" height="7.0" fill="#20dcf0"/>
<rect x="470.0" y="281.5" width="19.0" height="7.0" fill="#60dcea"/>
<rect x="488.0" y="281.5" width="7.0" height="7.0" fill="#a0e0e8"/>
<rect x="494.0" y="281.5" width="13.0" height="7.0" fill="#60dcea"/>
<rect x="506.0" y="281.5" width="7.0" height="7.0" fill="#20dcf0"/>
<rect x="512.0" y="281.5" width="7.0" height="7.0" fill="#60dcea"/>
<rect x="518.0" y="281.5" width="6.0" height="7.0" fill="#20dcf0"/>
<rect x="392.0" y="287.5" width="7.0" height="7.0" fill="#20dcf0"/>
<rect x="398.0" y="287.5" width="7.0" height="7.0" fill="#60dcea"/>
<rect x="404.0" y="287.5" width="7.0" height="7.0" fill="#a0e0e8"/>
<rect x="410.0" y="287.5" width="43.0" height="7.0" fill="#60dcea"/>
<rect x="452.0" y="287.5" width="13.0" height="7.0" fill="#20dcf0"/>
<rect x="464.0" y="287.5" width="7.0" height="7.0" fill="#60dcea"/>
<rect x="470.0" y="287.5" width="7.0" height="7.0" fill="#a0e0e8"/>
<rect x="476.0" y="287.5" width="25.0" height="7.0" fill="#60dcea"/>
<rect x="500.0" y="287.5" width="7.0" height="7.0" fill="#20dcf0"/>
<rect x="506.0" y="287.5" width="7.0" height="7.0" fill="#60dcea"/>
<rect x="512.0" y="287.5" width="12.0" height="7.0" fill="#20dcf0"/>
<rect x="392.0" y="293.5" width="7.0" height="7.0" fill="#20dcf0"/>
<rect x="398.0" y="293.5" width="19.0" height="7.0" fill="#60dcea"/>
<rect x="416.0" y="293.5" width="7.0" height="7.0" fill="#a0e0e8"/>
<rect x="422.0" y="293.5" width="13.0" height="7.0" fill="#60dcea"/>
<rect x="434.0" y="293.5" width="7.0" height="7.0" fill="#a0e0e8"/>
<rect x="440.0" y="293.5" width="37.0" height="7.0" fill="#60dcea"/>
<rect x="476.0" y="293.5" width="7.0" height="7.0" fill="#a0e0e8"/>
<rect x="482.0" y="293.5" width="13.0" height="7.0" fill="#60dcea"/>
<rect x="494.0" y="293.5" width="7.0" height="7.0" fill="#20dcf0"/>
<rect x="500.0" y="293.5" width="13.0" height="7.0" fill="#60dcea"/>
<rect x="512.0" y="293.5" width="12.0" height="7.0" fill="#20dcf0"/>
<rect x="392.0" y="299.5" width="7.0" height="6.0" fill="#20dcf0"/>
<rect x="398.0" y="299.5" width="43.0" height="6.0" fill="#60dcea"/>
<rect x="440.0" y="299.5" width="7.0" height="6.0" fill="#a0e0e8"/>
<rect x="446.0" y="299.5" width="13.0" height="6.0" fill="#60dcea"/>
<rect x="458.0" y="299.5" width="7.0" height="6.0" fill="#20dcf0"/>
<rect x="464.0" y="299.5" width="25.0" height="6.0" fill="#60dcea"/>
<rect x="488.0" y="299.5" width="7.0" height="6.0" fill="#20dcf0"/>
<rect x="494.0" y="299.5" width="7.0" height="6.0" fill="#00c000"/>
<rect x="500.0" y="299.5" width="13.0" height="6.0" fill="#60dcea"/>
<rect x="512.0" y="299.5" width="12.0" height="6.0" fill="#20dcf0"/>
<path d="M392.7 304.3L391.7 302.9M393.8 301.6L392.9 300.2M396.0 298.3L394.2 295.5M393.4 278.1L392.5 276.7M410.0 300.0L409.1 298.6M398.3 281.3L397.4 279.8M418.0 304.0L417.1 302.5M415.1 296.9L413.4 294.0M416.9 297.6L415.2 294.7M399.4 268.5L398.5 267.1M394.1 259.8L392.3 256.9M400.6 268.1L399.7 266.6M399.5 263.9L398.7 262.4M423.4 299.2L422.6 297.7M412.1 280.2L407.8 272.9M402.6 264.1L400.9 261.2M416.4 285.0L415.6 283.5M397.4 252.8L396.5 251.3M400.2 255.1L399.4 253.6M392.5 241.9L391.6 240.4M411.5 271.7L410.6 270.3M395.2 243.9L394.3 242.4M424.9 292.3L424.1 290.8M399.2 248.2L396.6 243.8M426.3 292.2L425.4 290.8M403.3 250.1L402.4 248.6M438.6 301.9L437.0 298.9M407.6 247.2L406.7 245.7M393.5 219.8L391.9 216.8M426.0 274.7L425.2 273.2M416.8 258.4L416.0 256.9M405.2 237.7L403.5 234.7M396.0 221.4L392.6 215.4M423.9 268.4L422.2 265.4M417.2 256.5L415.6 253.6M403.9 232.8L403.1 231.3M392.3 212.1L391.5 210.6M441.8 298.0L439.4 293.5M436.0 287.6L433.6 283.1M425.3 268.3L423.6 265.3M410.3 241.6L409.5 240.1M420.2 256.7L419.4 255.2M403.7 227.0L401.2 222.5M415.5 245.6L414.7 244.1M425.5 261.1L424.7 259.6M423.9 258.1L423.1 256.6M409.1 231.3L403.4 220.9M423.9 255.6L423.1 254.1M417.4 241.0L416.6 239.5M399.4 205.1L398.6 203.6M396.1 199.2L394.5 196.2M453.4 302.0L452.6 300.5M445.3 287.1L444.5 285.6M407.3 216.8L406.5 215.3M431.6 256.6L430.8 255.1M424.4 243.1L422.0 238.6M420.4 235.6L419.6 234.1M458.9 305.1L458.1 303.6M454.1 296.1L453.3 294.6M452.5 293.1L451.7 291.6M441.3 272.1L440.5 270.6M447.0 280.1L446.2 278.6M443.0 272.6L442.2 271.1M405.5 202.1L403.9 199.1M401.5 194.6L399.9 191.6M459.6 301.4L458.0 298.4M434.2 253.4L431.8 248.8M412.7 212.8L411.9 211.3M407.2 202.3L404.8 197.7M454.7 289.7L453.9 288.2M448.4 277.6L446.8 274.6M438.1 258.1L437.3 256.6M430.2 243.0L427.8 238.5M416.7 217.5L415.9 215.9M404.0 193.4L402.4 190.4M461.4 299.8L460.6 298.3M417.2 215.5L415.6 212.5M446.6 269.0L445.8 267.5M416.7 211.7L415.9 210.2M459.6 291.5L457.3 287.0M452.6 277.9L451.8 276.4M432.2 238.7L430.7 235.7M409.5 195.0L407.2 190.4M467.3 303.9L465.8 300.9M437.7 246.5L436.9 245.0M424.4 220.8L422.9 217.8M457.3 281.8L455.7 278.8M458.2 281.0L455.9 276.5M451.2 267.4L450.5 265.9M433.4 232.6L432.6 231.1M457.2 276.5L455.7 273.5M448.0 258.3L447.2 256.8M411.7 187.1L410.2 184.1M449.0 257.6L448.2 256.1M442.1 243.9L441.3 242.4M471.3 299.0L470.5 297.5M462.8 282.3L462.1 280.8M457.5 271.6L455.9 268.6M442.1 241.3L441.4 239.8M426.8 210.9L421.5 200.3M465.9 285.8L465.1 284.3M462.1 278.2L460.6 275.1M448.4 250.8L446.8 247.8M427.0 208.3L422.4 199.2M418.6 191.6L417.8 190.1M456.1 263.5L455.3 261.9M423.4 198.1L422.6 196.6M455.5 259.5L454.7 258.0M427.5 203.2L424.4 197.1M469.9 286.0L469.2 284.5M460.2 263.5L459.4 262.0M463.6 267.7L462.1 264.7M451.6 243.3L450.1 240.3M459.1 255.8L457.6 252.7M428.5 193.1L426.3 188.5M468.4 272.0L466.9 269.0M472.4 277.7L471.0 274.7M455.4 242.5L453.2 237.9M467.8 262.6L467.1 261.1M485.0 295.9L484.3 294.4M468.9 262.1L467.5 259.1M448.5 219.2L447.7 217.6M468.4 258.1L466.9 255.1M469.4 257.5L468.7 256.0M443.3 202.1L442.6 200.6M487.8 293.7L482.0 281.4M447.7 198.8L446.2 195.7M476.4 258.1L472.9 250.4M471.5 247.3L470.0 244.2M445.6 187.8L444.9 186.3M483.4 267.6L482.7 266.0M487.1 272.9L485.7 269.8M472.4 240.4L471.7 238.8M500.4 299.5L499.7 298.0M479.4 253.0L478.7 251.5M476.6 246.8L475.9 245.3M494.3 280.4L493.6 278.8M496.1 281.5L495.4 280.0M482.3 250.5L481.6 248.9M476.8 238.0L475.4 234.9M472.6 228.7L472.0 227.2M465.1 211.6L464.4 210.1M481.0 244.4L479.6 241.3M456.2 188.4L455.6 186.9M467.0 209.5L466.3 207.9M497.8 276.9L495.8 272.2M472.0 217.7L470.6 214.6M465.2 202.1L463.8 199.0M477.4 227.0L475.4 222.3M466.6 202.1L465.9 200.5M513.5 304.5L512.9 302.9M494.7 260.8L490.7 251.4M481.9 231.1L479.9 226.4M499.1 268.1L497.1 263.4M482.4 229.0L481.1 225.9M466.4 191.5L465.7 190.0M506.7 282.9L506.0 281.3M491.4 246.9L490.7 245.3M488.1 239.1L487.4 237.5M478.7 217.2L476.1 210.9M474.1 206.2L472.1 201.5M486.8 232.9L485.5 229.8M484.1 226.6L482.8 223.5M513.0 291.8L511.6 288.7M505.7 274.6L503.7 269.9M491.3 237.1L489.3 232.4M510.9 281.0L510.2 279.4M495.9 244.9L493.2 238.6M518.4 296.0L514.5 286.6M519.4 295.7L518.1 292.5M518.1 289.5L516.8 286.3M508.4 265.9L507.8 264.3M505.2 258.0L504.5 256.4M503.9 254.9L501.9 250.1M501.3 248.6L500.0 245.4M523.5 299.8L521.0 293.6M500.7 237.3L496.2 226.2M495.1 220.1L493.2 215.4M521.1 281.9L520.5 280.3M486.1 190.5L483.6 184.2M508.8 244.6L507.6 241.4M486.4 187.6L485.1 184.5M515.8 255.8L515.2 254.2M511.5 244.7L510.9 243.1M513.1 245.5L512.5 243.9M514.8 246.7L514.2 245.1M511.2 237.1L509.3 232.4M523.9 253.7L522.7 250.5M517.8 233.9L517.2 232.3M511.6 213.7L509.8 208.9M505.1 196.2L504.5 194.6M510.8 204.1L510.2 202.5M513.9 201.5L513.3 199.9M514.7 196.1L513.0 191.3M520.3 208.0L519.7 206.4M518.0 201.6L516.3 196.8M521.9 208.7L520.8 205.5M523.7 186.2L523.1 184.5" stroke="#00f0f0" stroke-width="1.35" fill="none"/>
<path d="M394.2 304.4L391.4 300.2M395.7 304.5L394.7 303.0M392.9 300.2L391.9 298.8M394.1 299.8L392.2 297.0M398.9 305.0L396.1 300.8M394.3 297.9L393.4 296.5M399.7 304.0L398.8 302.6M397.9 301.2L396.0 298.3M394.2 295.5L391.4 291.2M400.2 302.6L398.4 299.8M395.6 295.5L392.9 291.2M397.4 296.0L393.8 290.3M404.3 304.5L403.4 303.0M397.9 294.4L394.2 288.7M402.3 299.1L399.6 294.8M397.7 291.9L395.9 289.0M406.9 304.1L406.0 302.7M404.2 299.8L402.4 297.0M400.5 294.1L398.7 291.2M396.9 288.3L396.0 286.9M395.1 285.5L394.2 284.0M392.4 281.1L391.5 279.7M405.3 299.3L404.4 297.9M402.6 295.0L400.8 292.1M399.8 290.7L397.1 286.4M409.7 304.0L404.2 295.4M400.6 289.6L397.9 285.3M397.0 283.9L393.4 278.1M409.7 301.8L408.8 300.4M406.1 296.1L404.3 293.2M403.4 291.7L402.5 290.3M398.0 283.1L394.4 277.3M392.6 274.4L391.7 273.0M412.7 304.4L411.8 302.9M410.9 301.5L410.0 300.0M401.9 287.0L401.0 285.6M397.4 279.8L391.2 269.7M409.6 297.2L408.7 295.7M406.1 291.4L405.2 290.0M397.1 276.9L395.3 274.0M413.2 300.8L412.4 299.3M406.1 289.2L403.4 284.8M401.7 281.9L400.8 280.5M399.9 279.0L399.0 277.6M397.2 274.7L395.4 271.8M393.7 268.9L392.8 267.4M410.1 293.4L409.2 291.9M408.4 290.5L406.6 287.6M403.0 281.8L402.1 280.3M398.6 274.5L395.9 270.2M394.2 267.3L392.4 264.4M414.5 298.2L413.6 296.7M412.7 295.3L411.8 293.8M410.9 292.4L407.4 286.6M397.7 270.6L396.8 269.2M410.7 289.7L409.8 288.2M401.9 275.1L399.2 270.8M417.8 299.1L416.9 297.6M414.3 293.3L407.3 281.6M404.6 277.3L403.8 275.8M402.9 274.4L399.4 268.5M395.0 261.3L394.1 259.8M415.5 292.9L413.7 290.0M411.1 285.6L410.2 284.1M403.2 272.5L401.5 269.6M394.4 257.9L391.8 253.5M424.0 304.7L421.4 300.4M417.9 294.5L415.3 290.1M410.0 281.4L409.1 279.9M408.3 278.5L407.4 277.0M405.6 274.1L404.8 272.6M401.3 266.8L399.5 263.9M396.0 258.1L391.7 250.8M425.3 304.5L423.5 301.6M418.3 292.9L417.4 291.4M415.7 288.5L414.8 287.0M403.5 268.0L398.3 259.3M397.4 257.8L393.0 250.5M426.9 305.0L425.2 302.1M422.6 297.7L420.0 293.3M407.8 272.9L406.1 269.9M404.3 267.0L402.6 264.1M397.4 255.3L393.0 248.0M425.9 301.1L425.1 299.6M419.9 290.8L417.3 286.4M411.2 276.2L410.4 274.7M409.5 273.3L407.8 270.3M406.9 268.9L405.2 265.9M400.8 258.6L400.0 257.2M393.9 246.9L391.3 242.5M429.6 304.9L428.7 303.4M422.7 293.2L420.1 288.8M417.5 284.4L416.6 282.9M412.3 275.6L411.5 274.1M405.4 263.9L403.7 260.9M402.8 259.5L402.0 258.0M397.7 250.7L396.8 249.2M394.2 244.8L392.5 241.9M422.7 290.8L420.1 286.4M410.6 270.3L409.8 268.8M407.2 264.4L404.6 260.0M403.7 258.5L402.0 255.6M397.7 248.3L396.0 245.3M423.2 289.3L418.9 282.0M418.1 280.5L417.2 279.1M412.9 271.7L412.1 270.3M396.6 243.8L395.8 242.4M430.6 299.6L428.8 296.6M428.0 295.2L427.1 293.7M423.7 287.8L422.0 284.9M421.2 283.4L420.3 281.9M393.0 234.9L392.1 233.4M433.1 301.6L431.4 298.7M425.4 288.4L422.9 284.0M417.8 275.1L416.9 273.7M415.2 270.7L414.4 269.2M411.0 263.4L410.1 261.9M408.4 258.9L405.8 254.5M399.0 242.7L398.2 241.3M430.6 294.9L428.9 291.9M425.5 286.0L423.8 283.1M418.7 274.3L415.3 268.4M398.3 238.9L394.1 231.5M433.5 297.6L431.0 293.2M429.3 290.3L426.8 285.8M424.2 281.4L423.4 279.9M412.4 260.8L410.7 257.8M409.8 256.3L409.0 254.9M408.2 253.4L405.6 249.0M402.2 243.1L399.7 238.6M394.6 229.8L391.2 223.9M437.5 302.3L436.7 300.8M434.2 296.4L433.3 294.9M427.4 284.6L424.0 278.7M420.7 272.7L419.8 271.3M416.5 265.4L415.6 263.9M395.4 228.5L392.9 224.0M431.1 288.6L430.2 287.1M429.4 285.6L427.7 282.6M424.4 276.7L423.5 275.3M405.9 244.2L404.2 241.3M403.4 239.8L402.5 238.3M399.2 232.4L397.5 229.4M393.3 222.0L391.6 219.1M427.9 280.4L424.5 274.5M417.0 261.2L414.5 256.8M400.2 231.6L399.4 230.1M397.7 227.2L393.5 219.8M436.9 293.9L436.0 292.5M423.5 270.2L421.0 265.8M413.5 252.5L412.7 251.0M411.8 249.5L409.3 245.1M399.3 227.3L397.6 224.3M396.8 222.8L396.0 221.4M437.2 292.1L433.9 286.2M410.6 244.7L409.8 243.2M408.1 240.2L403.9 232.8M400.6 226.9L398.1 222.4M395.6 218.0L392.3 212.1M445.2 303.9L444.3 302.4M431.9 280.2L431.1 278.7M429.4 275.7L427.8 272.8M421.9 262.4L421.1 260.9M418.6 256.4L415.3 250.5M403.7 229.7L402.9 228.2M398.7 220.8L397.1 217.8M396.3 216.4L395.4 214.9M394.6 213.4L393.8 211.9M392.9 210.4L391.3 207.4M446.7 304.2L445.8 302.7M441.7 295.3L440.9 293.8M428.5 271.5L427.7 270.0M426.0 267.1L424.3 264.1M413.6 244.8L412.0 241.8M407.8 234.4L407.0 232.9M406.2 231.4L403.7 227.0M401.2 222.5L399.6 219.5M396.3 213.6L391.3 204.7M444.4 297.7L441.9 293.2M436.1 282.8L434.5 279.8M424.6 262.0L422.1 257.5M421.3 256.0L420.5 254.5M418.0 250.1L415.5 245.6M409.8 235.2L407.3 230.7M405.7 227.8L404.8 226.3M402.4 221.8L401.6 220.3M400.7 218.8L397.4 212.9M394.1 207.0L391.7 202.5M444.4 295.3L441.9 290.8M438.6 284.9L437.8 283.4M435.4 278.9L433.7 275.9M432.1 273.0L430.4 270.0M419.0 249.1L418.1 247.7M403.4 220.9L402.5 219.4M401.7 217.9L400.1 214.9M399.3 213.4L391.9 200.0M441.9 288.4L440.3 285.4M434.6 275.0L432.9 272.0M432.1 270.5L431.3 269.0M428.8 264.5L428.0 263.0M425.6 258.6L424.8 257.1M421.5 251.1L417.4 243.7M416.6 242.2L413.3 236.2M409.2 228.8L406.8 224.3M404.3 219.8L394.5 201.9M448.4 297.7L447.5 296.2M423.1 251.4L419.8 245.4M415.8 238.0L414.1 235.0M409.2 226.0L407.6 223.1M406.0 220.1L403.5 215.6M396.2 202.2L393.8 197.7M448.9 296.3L447.3 293.3M442.4 284.3L440.8 281.3M440.0 279.8L439.2 278.3M427.0 255.9L424.6 251.4M410.8 226.1L409.9 224.6M408.3 221.6L406.7 218.6M405.1 215.6L401.0 208.1M398.6 203.6L396.1 199.2M451.0 297.6L450.1 296.1M449.3 294.6L448.5 293.1M446.9 290.1L446.1 288.6M434.8 267.7L434.0 266.2M409.7 221.3L407.3 216.8M406.5 215.3L404.0 210.8M400.0 203.4L396.8 197.4M455.8 304.1L451.8 296.6M444.5 283.1L443.7 281.6M442.9 280.1L439.7 274.1M435.6 266.7L434.8 265.2M433.2 262.2L430.0 256.2M424.3 245.7L422.7 242.7M414.7 227.7L413.9 226.2M413.1 224.7L412.3 223.2M410.6 220.3L406.6 212.8M405.8 211.3L403.4 206.8M401.0 202.3L397.7 196.3M447.7 286.6L445.3 282.1M444.5 280.6L443.7 279.1M442.1 276.1L441.3 274.6M440.5 273.1L439.7 271.6M427.6 249.1L425.2 244.6M412.4 220.6L409.1 214.6M407.5 211.7L405.1 207.2M399.5 196.7L397.9 193.7M450.1 288.6L446.9 282.6M444.5 278.1L441.3 272.1M440.5 270.6L438.9 267.6M435.7 261.6L433.3 257.1M431.7 254.1L430.9 252.6M419.7 231.6L417.3 227.1M414.9 222.6L414.1 221.1M413.3 219.6L410.9 215.1M410.1 213.6L403.7 201.6M402.9 200.1L402.1 198.6M400.5 195.6L398.1 191.1M458.1 301.2L457.3 299.7M445.4 277.1L443.0 272.6M442.2 271.1L439.8 266.6M435.0 257.6L434.2 256.1M422.3 233.6L419.9 229.1M418.3 226.1L415.1 220.1M413.5 217.1L412.7 215.6M411.1 212.6L408.7 208.1M407.9 206.6L405.5 202.1M461.2 304.4L459.6 301.4M457.2 296.9L452.4 287.9M451.7 286.4L439.7 263.9M437.4 259.4L436.6 257.9M435.0 254.9L434.2 253.4M426.2 238.3L425.4 236.8M421.5 229.3L420.7 227.8M419.9 226.3L419.1 224.8M416.7 220.3L413.5 214.3M411.9 211.3L410.3 208.3M408.7 205.3L407.9 203.8M404.8 197.7L400.8 190.2M456.3 292.7L454.7 289.7M453.9 288.2L453.1 286.7M452.3 285.1L448.4 277.6M444.4 270.1L443.6 268.6M442.8 267.1L442.0 265.6M441.2 264.1L440.4 262.6M438.9 259.6L438.1 258.1M427.8 238.5L426.2 235.5M419.9 223.5L419.1 222.0M418.3 220.5L417.5 219.0M415.1 214.4L414.3 212.9M408.8 202.4L407.2 199.4M404.8 194.9L404.0 193.4M445.6 269.7L444.0 266.7M443.2 265.2L441.6 262.2M433.7 247.1L432.2 244.1M421.9 224.5L419.5 220.0M409.3 200.4L405.3 192.9M463.9 302.2L462.3 299.2M458.4 291.6L457.6 290.1M454.4 284.1L452.9 281.1M452.1 279.6L449.7 275.0M448.2 272.0L446.6 269.0M445.8 267.5L444.2 264.5M434.0 244.9L433.2 243.4M421.4 220.8L417.5 213.2M415.9 210.2L412.0 202.7M411.2 201.2L410.4 199.7M406.5 192.1L403.4 186.1M465.9 303.6L464.3 300.6M462.0 296.1L460.4 293.0M451.8 276.4L451.0 274.9M447.1 267.4L444.8 262.9M429.9 234.2L428.3 231.2M423.6 222.1L422.8 220.6M421.3 217.6L420.5 216.1M419.7 214.6L416.6 208.5M415.8 207.0L414.2 204.0M411.9 199.5L409.5 195.0M461.9 293.3L458.0 285.8M456.4 282.7L449.4 269.1M448.6 267.6L445.5 261.6M436.9 245.0L434.6 240.4M432.2 235.9L430.7 232.9M425.2 222.3L424.4 220.8M416.6 205.7L415.8 204.2M413.5 199.7L408.0 189.1M459.6 286.4L457.3 281.8M452.6 272.8L451.8 271.2M451.1 269.7L445.6 259.1M440.2 248.6L439.4 247.1M434.7 238.0L434.0 236.5M431.6 231.9L429.3 227.4M426.2 221.4L423.1 215.3M421.5 212.3L420.7 210.8M418.4 206.2L416.9 203.2M415.3 200.2L414.5 198.7M413.7 197.2L407.5 185.1M470.6 305.2L469.8 303.7M453.6 271.9L451.2 267.4M450.5 265.9L448.1 261.3M439.6 244.7L438.8 243.2M428.0 222.0L427.2 220.5M422.6 211.4L420.2 206.9M418.7 203.8L412.5 191.7M411.0 188.7L408.6 184.2M469.6 300.7L466.5 294.7M463.4 288.6L458.0 278.0M454.9 271.9L453.4 268.9M451.8 265.9L450.3 262.9M449.5 261.3L448.0 258.3M437.2 237.1L434.1 231.0M429.4 222.0L421.7 206.8M421.0 205.3L420.2 203.8M419.4 202.3L418.6 200.7M416.3 196.2L412.5 188.6M469.0 297.0L468.2 295.5M462.8 284.9L460.5 280.3M459.0 277.3L453.6 266.7M451.3 262.1L449.8 259.1M445.1 250.0L442.8 245.5M437.5 234.8L432.8 225.7M429.8 219.7L429.0 218.2M423.6 207.5L419.0 198.4M418.2 196.9L412.1 184.8M474.3 305.0L472.0 300.5M465.1 286.8L464.4 285.3M459.8 276.2L459.0 274.7M452.9 262.5L450.6 258.0M441.4 239.8L440.6 238.3M439.1 235.2L436.0 229.2M421.5 200.3L420.7 198.8M419.2 195.8L415.3 188.2M471.2 296.4L469.0 291.9M466.7 287.3L465.9 285.8M464.4 282.7L462.9 279.7M454.5 263.0L452.9 259.9M430.0 214.4L427.0 208.3M421.7 197.7L420.9 196.1M417.8 190.1L414.8 184.0M475.1 301.5L472.0 295.4M467.5 286.3L466.7 284.8M466.0 283.2L465.2 281.7M464.4 280.2L463.7 278.7M462.2 275.6L459.9 271.1M458.4 268.0L456.8 265.0M450.7 252.8L447.7 246.7M446.2 243.7L445.4 242.2M444.7 240.7L443.9 239.1M437.8 227.0L437.1 225.5M427.9 207.2L424.9 201.1M421.9 195.0L421.1 193.5M472.9 294.6L470.6 290.0M469.1 286.9L466.1 280.9M463.8 276.3L463.1 274.8M457.0 262.6L455.5 259.5M454.7 258.0L451.7 251.9M447.9 244.3L444.9 238.2M436.6 221.5L433.5 215.4M430.5 209.3L429.7 207.8M424.4 197.1L422.9 194.1M467.7 281.4L466.9 279.9M464.7 275.3L461.6 269.2M460.1 266.2L458.6 263.1M454.9 255.5L453.3 252.5M451.8 249.4L450.3 246.4M449.6 244.9L445.8 237.2M428.5 202.2L427.7 200.7M426.2 197.6L425.4 196.1M423.9 193.1L421.7 188.5M420.9 187.0L420.2 185.4M475.2 294.0L474.5 292.5M469.2 281.8L468.4 280.3M465.4 274.2L463.9 271.2M462.4 268.1L460.2 263.5M459.4 262.0L458.7 260.5M457.9 259.0L457.2 257.4M456.4 255.9L455.7 254.4M454.2 251.3L453.4 249.8M449.7 242.2L448.9 240.7M437.6 217.8L436.9 216.3M481.6 304.4L478.6 298.3M465.8 272.3L463.6 267.7M462.1 264.7L461.4 263.2M447.1 234.2L446.4 232.6M442.6 225.0L441.9 223.5M428.4 196.0L425.4 189.9M480.7 300.1L480.0 298.5M474.0 286.3L471.8 281.7M469.5 277.1L468.0 274.1M459.8 257.3L459.1 255.8M457.6 252.7L456.9 251.2M453.9 245.1L452.4 242.0M450.9 238.9L448.7 234.4M441.9 220.6L439.7 216.0M437.5 211.4L436.7 209.9M472.1 279.7L470.6 276.6M469.8 275.1L468.4 272.0M462.4 259.8L459.4 253.7M458.7 252.1L457.2 249.1M431.2 195.6L430.5 194.0M429.0 191.0L426.0 184.8M480.6 294.6L479.8 293.1M473.9 280.8L472.4 277.7M469.5 271.6L468.0 268.6M465.1 262.4L463.6 259.4M462.8 257.8L462.1 256.3M460.6 253.3L457.7 247.1M443.6 218.1L442.1 215.0M439.9 210.4L436.2 202.7M485.3 301.7L484.6 300.2M483.1 297.1L481.6 294.1M473.5 277.2L470.6 271.1M469.8 269.6L469.1 268.0M466.9 263.4L466.1 261.9M464.7 258.8L455.8 240.5M448.5 225.1L445.5 219.0M438.1 203.7L436.7 200.6M431.5 189.9L429.3 185.3M484.7 297.9L484.0 296.3M482.5 293.3L481.8 291.7M479.6 287.1L478.1 284.1M473.7 274.9L472.2 271.8M469.3 265.7L468.6 264.1M467.1 261.1L466.3 259.5M465.6 258.0L464.9 256.5M461.2 248.8L459.0 244.2M456.8 239.6L453.1 231.9M451.7 228.9L450.9 227.3M444.3 213.5L443.6 212.0M438.5 201.3L437.0 198.2M433.3 190.5L432.6 189.0M489.4 305.1L487.9 302.0M480.6 286.7L479.9 285.1M475.5 275.9L471.9 268.3M464.5 252.9L463.8 251.4M462.4 248.3L460.9 245.2M455.0 233.0L454.3 231.4M452.1 226.8L450.7 223.8M447.7 217.6L445.5 213.0M439.0 199.2L432.4 185.4M490.2 304.2L487.3 298.1M485.9 295.0L484.4 291.9M469.8 261.2L468.4 258.1M464.7 250.5L464.0 248.9M457.5 235.1L456.7 233.6M456.0 232.0L454.6 229.0M449.5 218.2L447.3 213.6M442.2 202.8L441.5 201.3M440.0 198.2L438.5 195.2M489.7 300.5L488.3 297.5M474.5 268.3L473.8 266.7M470.9 260.6L469.4 257.5M468.7 256.0L466.5 251.3M464.4 246.7L463.6 245.2M461.5 240.6L460.7 239.0M454.2 225.2L452.0 220.6M438.2 191.4L437.5 189.8M475.5 267.6L473.3 262.9M472.6 261.4L471.2 258.3M468.3 252.2L467.5 250.6M463.2 241.4L462.5 239.9M461.8 238.3L460.3 235.2M458.9 232.2L457.4 229.1M445.2 202.9L444.4 201.4M437.2 186.0L436.5 184.4M493.7 303.7L491.5 299.1M489.4 294.5L485.8 286.8M485.1 285.2L484.3 283.7M477.9 269.8L476.4 266.7M475.7 265.2L474.3 262.1M472.8 259.0L471.4 256.0M460.6 232.9L459.9 231.3M459.2 229.8L458.5 228.2M440.5 189.7L438.3 185.1M493.4 300.4L489.8 292.7M487.7 288.0L485.5 283.4M464.7 238.7L463.3 235.6M459.7 227.9L459.0 226.4M452.6 212.5L451.8 211.0M446.8 200.2L444.7 195.5M442.5 190.9L439.7 184.7M476.9 262.1L476.2 260.5M474.1 255.9L473.4 254.4M472.6 252.8L471.9 251.3M471.2 249.7L470.5 248.2M461.9 229.7L461.2 228.1M456.9 218.9L455.5 215.8M451.2 206.5L449.8 203.5M496.3 301.4L493.5 295.2M478.6 262.8L477.1 259.7M465.1 233.4L464.4 231.9M450.1 201.0L448.0 196.4M494.4 294.5L493.7 292.9M493.0 291.4L491.6 288.3M480.2 263.6L477.4 257.4M473.9 249.7L473.2 248.1M464.7 229.6L464.0 228.0M461.1 221.8L460.4 220.3M458.3 215.7L457.6 214.1M500.3 304.7L499.6 303.1M498.9 301.6L498.2 300.0M497.5 298.5L494.7 292.3M489.0 279.9L486.9 275.3M475.6 250.5L474.9 249.0M472.1 242.8L471.4 241.3M465.8 228.9L463.7 224.2M461.5 219.6L460.8 218.0M501.8 305.4L499.7 300.8M498.3 297.7L496.2 293.0M485.7 269.8L483.6 265.2M478.7 254.3L478.0 252.8M475.2 246.6L473.1 241.9M463.3 220.2L454.8 201.7M452.7 197.0L449.9 190.8M502.5 304.2L501.1 301.1M499.7 298.0L499.0 296.4M493.4 284.0L492.0 280.9M484.3 263.9L483.6 262.3M469.7 231.3L463.4 217.4M462.7 215.8L461.3 212.7M460.6 211.2L459.2 208.1M455.7 200.3L450.8 189.5M499.5 294.7L496.7 288.5M478.6 248.1L477.9 246.6M470.9 231.1L469.5 228.0M468.2 224.9L466.1 220.2M463.3 214.0L460.5 207.8M499.2 291.3L497.1 286.6M495.0 281.9L494.3 280.4M486.7 263.3L485.3 260.2M477.7 243.1L475.6 238.5M472.8 232.3L471.5 229.2M462.5 209.0L455.5 193.5M500.9 292.4L499.5 289.3M495.4 280.0L494.7 278.4M489.2 266.0L488.5 264.5M487.8 262.9L487.1 261.3M483.7 253.6L482.3 250.5M481.6 248.9L476.8 238.0M474.0 231.8L473.3 230.3M472.0 227.2L471.3 225.6M464.4 210.1L463.0 207.0M458.2 196.1L457.5 194.5M454.0 186.8L453.3 185.2M507.1 303.5L504.3 297.3M500.9 289.5L494.0 274.0M485.8 255.3L484.4 252.2M483.0 249.1L481.6 246.0M475.5 232.0L473.4 227.3M471.3 222.6L470.7 221.1M467.9 214.9L466.5 211.8M459.0 194.7L457.6 191.5M508.7 304.4L500.5 285.7M499.8 284.2L496.4 276.4M495.7 274.9L493.6 270.2M491.6 265.5L490.9 264.0M484.7 249.9L483.4 246.8M482.7 245.3L481.3 242.2M471.7 220.4L471.1 218.8M464.2 203.3L463.5 201.7M460.8 195.5L459.4 192.4M508.0 300.2L506.0 295.6M504.6 292.4L503.3 289.3M499.2 280.0L497.8 276.9M495.8 272.2L494.4 269.1M493.8 267.5L493.1 266.0M478.1 231.7L476.0 227.0M463.1 197.4L461.1 192.8M503.9 287.8L501.1 281.6M499.1 276.9L498.4 275.3M465.9 200.5L464.5 197.4M463.9 195.8L460.5 188.0M512.5 305.0L511.8 303.4M506.4 290.9L504.4 286.2M497.0 269.1L494.3 262.8M492.3 258.2L490.9 255.0M488.2 248.8L486.9 245.7M470.7 208.2L469.3 205.1M468.0 202.0L466.0 197.3M463.9 192.6L463.3 191.1M462.6 189.5L461.2 186.4M511.5 299.8L510.8 298.3M498.1 268.6L497.4 267.0M496.1 263.9L494.7 260.8M469.8 203.0L464.5 190.5M462.5 185.8L461.8 184.3M514.5 304.1L512.5 299.4M509.2 291.6L508.5 290.0M507.2 286.9L505.8 283.7M501.8 274.4L499.1 268.1M495.8 260.3L493.1 254.1M479.1 221.2L477.7 218.1M473.7 208.7L469.7 199.4M465.0 188.4L463.7 185.3M515.4 303.2L514.0 300.1M513.4 298.5L511.4 293.8M510.7 292.3L509.4 289.1M508.0 286.0L506.7 282.9M506.0 281.3L504.0 276.6M503.4 275.1L500.7 268.8M499.4 265.7L498.1 262.5M495.4 256.3L493.4 251.6M488.7 240.6L488.1 239.1M485.4 232.8L484.7 231.3M482.7 226.6L480.1 220.3M474.7 207.8L474.1 206.2M517.3 304.9L516.6 303.3M514.0 297.1L512.6 294.0M509.3 286.1L507.3 281.4M495.4 253.3L493.4 248.6M475.5 206.3L474.2 203.2M469.6 192.2L466.2 184.4M514.9 296.5L513.0 291.8M511.0 287.1L508.3 280.9M503.7 269.9L503.1 268.3M500.4 262.1L498.4 257.4M491.8 241.7L490.5 238.6M486.6 229.2L484.6 224.5M479.3 211.9L478.0 208.8M475.3 202.5L472.0 194.7M469.4 188.4L468.1 185.3M516.2 296.7L512.3 287.3M511.6 285.7L509.7 281.0M508.4 277.9L507.0 274.8M499.2 256.0L497.2 251.3M474.2 196.4L471.6 190.1M516.8 295.1L516.1 293.6M502.4 260.6L501.1 257.5M499.8 254.3L499.1 252.8M497.8 249.6L495.9 244.9M489.3 229.2L487.4 224.5M482.8 213.5L482.1 212.0M478.2 202.6L477.5 201.0M475.6 196.3L473.0 190.0M522.3 305.4L518.4 296.0M514.5 286.6L510.5 277.2M507.3 269.3L504.7 263.0M503.4 259.9L498.2 247.3M493.6 236.3L492.3 233.2M490.4 228.5L489.7 226.9M478.6 200.2L474.7 190.8M523.3 305.1L521.4 300.4M520.1 297.2L519.4 295.7M516.8 289.4L515.5 286.2M512.9 280.0L509.7 272.1M508.4 269.0L506.5 264.2M505.8 262.7L505.2 261.1M500.6 250.1L500.0 248.5M498.0 243.8L494.8 236.0M483.8 209.2L483.1 207.7M523.2 302.0L518.1 289.5M514.2 280.0L512.3 275.3M511.0 272.2L509.7 269.0M497.4 239.1L496.1 236.0M494.2 231.3L491.6 225.0M478.1 191.9L477.4 190.4M521.0 293.6L519.0 288.8M517.7 285.7L516.5 282.5M515.8 281.0L513.3 274.7M512.0 271.5L509.4 265.2M508.1 262.1L506.2 257.3M505.5 255.8L504.9 254.2M503.6 251.1L500.4 243.2M491.4 221.1L488.9 214.8M480.5 194.4L479.2 191.2M523.6 297.0L522.3 293.8M521.0 290.7L515.9 278.1M515.3 276.5L514.6 274.9M511.4 267.1L506.9 256.0M505.0 251.3L502.5 245.0M495.4 227.7L494.8 226.1M487.8 208.8L486.5 205.6M521.0 287.7L517.8 279.8M511.5 264.1L508.3 256.2M505.7 249.9L503.8 245.1M485.4 199.4L484.8 197.8M484.1 196.3L482.2 191.5M517.9 276.9L517.3 275.4M511.6 261.2L510.3 258.0M507.1 250.1L505.9 247.0M501.4 235.9L500.8 234.3M483.7 191.7L483.1 190.2M523.0 286.6L521.1 281.9M511.7 258.2L511.0 256.6M495.9 218.7L494.7 215.6M522.4 282.2L521.8 280.6M512.4 256.9L511.8 255.3M503.0 233.2L502.4 231.6M523.8 282.5L518.2 268.3M511.9 252.5L511.3 250.9M505.7 236.7L505.1 235.1M490.7 198.7L490.1 197.1M487.6 190.8L486.4 187.6M523.8 279.5L519.5 268.4M515.1 257.3L513.3 252.6M495.3 206.7L487.8 187.7M515.2 254.2L511.5 244.7M509.6 240.0L507.2 233.6M502.8 222.5L502.2 221.0M494.8 202.0L493.6 198.8M490.5 190.9L488.6 186.1M523.5 272.4L522.3 269.2M519.8 262.9L519.2 261.3M517.4 256.5L513.1 245.5M510.6 239.1L508.8 234.4M496.5 202.7L495.8 201.1M492.2 191.6L489.7 185.2M519.7 259.3L517.9 254.6M513.0 241.9L512.4 240.3M511.8 238.7L511.2 237.1M509.3 232.4L508.7 230.8M506.3 224.5L505.6 222.9M504.4 219.7L503.2 216.5M498.3 203.8L497.7 202.2M497.1 200.7L495.9 197.5M522.1 262.2L517.2 249.5M509.3 228.9L508.7 227.3M508.1 225.7L507.5 224.1M502.6 211.4L502.0 209.8M499.5 203.5L497.1 197.1M492.8 186.0L492.2 184.4M523.3 262.1L522.7 260.5M519.7 252.6L519.0 251.0M500.9 203.3L499.7 200.2M498.5 197.0L497.2 193.8M496.0 190.6L493.6 184.3M520.4 251.1L518.0 244.7M509.5 222.5L505.9 212.9M523.7 256.6L523.1 255.1M522.5 253.5L518.9 243.9M517.1 239.2L515.9 236.0M511.7 224.8L504.5 205.7M499.7 193.0L499.1 191.4M522.7 250.5L521.5 247.3M519.1 240.9L517.9 237.7M517.3 236.1L516.1 233.0M506.0 205.9L502.4 196.3M501.2 193.2L500.0 190.0M523.7 249.8L522.5 246.6M520.7 241.8L519.5 238.6M518.4 235.5L517.8 233.9M516.6 230.7L516.0 229.1M515.4 227.5L514.8 225.9M513.6 222.7L513.0 221.1M512.4 219.5L511.2 216.3M509.5 211.6L508.3 208.4M504.1 197.2L499.4 184.5M521.6 240.8L520.5 237.6M519.3 234.4L518.7 232.8M515.1 223.3L513.4 218.5M509.8 208.9L507.5 202.6M506.3 199.4L505.1 196.2M521.5 237.0L519.8 232.2M514.5 217.9L512.7 213.1M511.5 209.9L508.0 200.3M506.2 195.5L505.7 193.9M505.1 192.3L504.5 190.7M502.7 186.0L502.1 184.4M517.2 221.7L516.6 220.1M516.0 218.5L514.3 213.7M512.5 208.9L511.9 207.3M506.7 192.9L503.8 184.9M507.0 189.9L505.8 186.7M519.7 221.3L517.4 214.9M515.7 210.1L515.1 208.5M513.9 205.3L511.6 198.9M510.5 195.7L508.7 190.9M520.8 220.7L519.7 217.5M517.4 211.1L515.6 206.3M515.1 204.7L514.5 203.1M513.3 199.9L512.2 196.7M509.9 190.3L508.2 185.5M511.7 191.3L509.4 184.9M519.3 208.9L517.0 202.5M515.9 199.3L514.7 196.1M523.7 217.6L522.6 214.4M519.7 206.4L518.0 201.6M514.1 190.3L513.5 188.7M518.5 199.1L518.0 197.5M516.3 192.7L513.4 184.6M523.4 209.2L519.5 198.0M518.9 196.4L516.7 189.9M523.9 206.9L518.9 192.4M518.4 190.8L516.1 184.4M523.6 202.0L523.1 200.4M521.4 195.6L517.5 184.3M522.0 193.2L519.2 185.2" stroke="#08e2ea" stroke-width="1.35" fill="none"/>
<path d="M394.7 303.0L393.8 301.6M395.0 301.3L394.1 299.8M392.9 291.2L392.0 289.8M393.8 290.3L391.9 287.4M403.4 303.0L401.5 300.2M405.9 304.8L405.0 303.4M404.1 302.0L402.3 299.1M399.6 294.8L398.6 293.4M395.0 287.6L394.1 286.2M393.2 284.7L391.4 281.9M402.4 297.0L401.5 295.5M403.5 296.4L402.6 295.0M393.5 280.6L391.7 277.7M410.6 305.5L409.7 304.0M404.2 295.4L401.5 291.1M392.5 276.7L391.6 275.2M408.8 300.4L406.1 296.1M394.4 277.3L392.6 274.4M403.7 289.9L401.9 287.0M414.1 304.4L413.2 303.0M402.5 285.6L401.6 284.2M409.7 295.0L408.8 293.5M417.2 305.0L414.6 300.6M403.9 283.2L403.0 281.8M417.1 302.5L416.3 301.1M407.4 286.6L404.7 282.2M413.4 294.0L411.6 291.1M409.8 288.2L408.9 286.8M403.7 278.0L401.9 275.1M396.6 266.4L395.7 265.0M415.2 294.7L414.3 293.3M403.8 275.8L402.9 274.4M420.7 301.6L419.9 300.1M417.2 295.8L416.4 294.3M412.8 288.5L412.0 287.0M406.7 278.3L405.0 275.4M397.1 262.3L395.3 259.4M415.3 290.1L413.5 287.2M402.1 268.3L401.3 266.8M398.7 262.4L396.0 258.1M417.4 291.4L415.7 288.5M409.6 278.3L406.1 272.4M420.0 293.3L417.4 288.9M406.1 269.9L404.3 267.0M399.1 258.2L398.3 256.8M393.0 248.0L391.3 245.1M410.4 274.7L409.5 273.3M405.2 265.9L402.6 261.6M395.6 249.8L393.9 246.9M415.8 281.5L414.9 280.0M411.5 274.1L405.4 263.9M403.7 260.9L402.8 259.5M402.0 258.0L400.2 255.1M424.4 293.7L422.7 290.8M416.6 280.5L415.8 279.1M404.6 260.0L403.7 258.5M432.6 305.5L431.8 304.0M417.2 279.1L416.3 277.6M408.6 264.4L406.1 260.0M392.4 236.5L391.5 235.0M434.0 305.5L430.6 299.6M420.3 281.9L419.4 280.5M407.5 259.9L405.8 257.0M403.2 252.6L399.8 246.7M396.4 240.8L395.5 239.3M427.1 291.3L426.3 289.8M410.1 261.9L409.3 260.4M397.3 239.8L393.1 232.4M436.5 305.2L430.6 294.9M423.8 283.1L422.9 281.6M415.3 268.4L413.6 265.4M411.9 262.5L410.2 259.5M408.5 256.6L407.7 255.1M437.8 305.0L435.2 300.6M434.4 299.1L433.5 297.6M426.8 285.8L424.2 281.4M421.7 277.0L419.1 272.6M417.5 269.6L412.4 260.8M409.0 254.9L408.2 253.4M403.9 246.0L402.2 243.1M436.7 300.8L435.8 299.3M428.3 286.0L427.4 284.6M424.0 278.7L423.2 277.2M417.3 266.8L416.5 265.4M414.8 262.4L413.1 259.5M408.9 252.1L408.0 250.6M403.8 243.2L403.0 241.7M399.6 235.8L395.4 228.5M392.9 224.0L391.2 221.1M419.3 267.9L417.6 264.9M416.0 262.0L415.1 260.5M412.6 256.0L410.1 251.6M404.2 241.3L403.4 239.8M440.4 302.6L437.1 296.7M430.4 284.9L429.5 283.4M422.0 270.1L420.3 267.1M414.5 256.8L413.6 255.3M412.8 253.8L410.3 249.4M409.4 247.9L408.6 246.4M407.8 244.9L401.9 234.6M441.0 301.3L436.9 293.9M432.7 286.5L430.2 282.1M425.2 273.2L423.5 270.2M416.0 256.9L413.5 252.5M412.7 251.0L411.8 249.5M403.5 234.7L400.2 228.8M433.9 286.2L433.0 284.7M426.4 272.8L425.6 271.4M420.6 262.5L419.7 261.0M413.9 250.6L410.6 244.7M409.8 243.2L408.1 240.2M403.1 231.3L401.4 228.4M444.3 302.4L443.5 301.0M442.7 299.5L441.8 298.0M439.4 293.5L436.0 287.6M422.8 263.8L421.9 262.4M419.5 257.9L418.6 256.4M414.5 249.0L413.7 247.5M409.5 240.1L405.4 232.7M442.5 296.8L441.7 295.3M439.2 290.8L438.4 289.4M434.3 281.9L432.6 279.0M430.1 274.5L429.3 273.0M426.8 268.6L426.0 267.1M424.3 264.1L423.5 262.6M407.0 232.9L406.2 231.4M441.1 291.7L440.2 290.2M434.5 279.8L432.8 276.9M428.7 269.4L427.9 267.9M412.3 239.7L411.4 238.2M407.3 230.7L405.7 227.8M404.8 226.3L403.2 223.3M401.6 220.3L400.7 218.8M447.7 301.3L445.2 296.8M439.5 286.4L438.6 284.9M428.8 267.0L426.3 262.5M418.1 247.7L417.3 246.2M447.7 298.8L446.0 295.8M443.6 291.4L441.9 288.4M439.5 283.9L437.8 280.9M436.2 277.9L434.6 275.0M413.3 236.2L412.5 234.7M405.1 221.3L404.3 219.8M450.0 300.6L448.4 297.7M446.7 294.7L441.0 284.2M436.1 275.3L432.9 269.3M426.4 257.4L424.7 254.4M419.8 245.4L419.0 243.9M416.6 239.5L415.8 238.0M414.1 235.0L413.3 233.5M407.6 223.1L406.8 221.6M402.7 214.1L399.5 208.1M397.8 205.2L396.2 202.2M393.8 197.7L393.0 196.2M453.8 305.2L453.0 303.7M447.3 293.3L444.9 288.8M443.2 285.8L442.4 284.3M432.7 266.4L429.4 260.4M418.9 241.0L418.1 239.5M415.6 235.0L414.0 232.0M450.1 296.1L449.3 294.6M447.7 291.6L446.9 290.1M446.1 288.6L445.3 287.1M429.9 258.7L425.9 251.2M420.2 240.7L419.4 239.2M416.2 233.3L410.5 222.8M450.9 295.1L448.5 290.6M446.1 286.1L444.5 283.1M438.0 271.1L437.2 269.6M434.8 265.2L433.2 262.2M430.0 256.2L427.6 251.7M425.2 247.2L424.3 245.7M413.9 226.2L413.1 224.7M457.3 304.5L456.5 303.0M448.5 288.1L447.7 286.6M436.5 265.6L435.7 264.1M433.2 259.6L431.6 256.6M430.8 255.1L430.0 253.6M416.4 228.1L413.2 222.1M403.5 204.2L401.9 201.2M438.1 266.1L435.7 261.6M421.3 234.6L420.5 233.1M401.3 197.1L400.5 195.6M451.0 287.6L450.2 286.1M447.8 281.6L447.0 280.1M438.2 263.6L437.4 262.1M427.0 242.6L422.3 233.6M419.9 229.1L418.3 226.1M412.7 215.6L411.9 214.1M402.3 196.1L401.5 194.6M452.4 287.9L451.7 286.4M423.8 233.8L421.5 229.3M419.1 224.8L418.3 223.3M462.6 304.7L461.8 303.2M457.1 294.2L456.3 292.7M453.1 286.7L452.3 285.1M446.0 273.1L444.4 270.1M442.0 265.6L441.2 264.1M435.7 253.6L434.9 252.1M433.3 249.0L430.9 244.5M421.4 226.5L420.7 225.0M414.3 212.9L412.7 209.9M411.2 206.9L408.8 202.4M407.2 199.4L404.8 194.9M451.1 280.2L450.3 278.7M438.5 256.2L436.9 253.1M464.7 303.7L463.9 302.2M460.0 294.6L458.4 291.6M441.9 260.0L441.1 258.5M433.2 243.4L430.9 238.9M423.8 225.3L423.0 223.8M422.2 222.3L421.4 220.8M417.5 213.2L416.7 211.7M466.7 305.1L465.9 303.6M460.4 293.0L459.6 291.5M455.7 284.0L453.4 279.5M430.7 235.7L429.9 234.2M427.5 229.7L426.7 228.2M422.1 219.1L421.3 217.6M443.9 258.6L442.4 255.5M434.6 240.4L433.0 237.4M429.9 231.4L428.3 228.4M426.8 225.3L425.2 222.3M408.0 189.1L405.7 184.6M462.7 292.4L459.6 286.4M453.4 274.3L452.6 272.8M451.8 271.2L451.1 269.7M437.8 244.0L437.1 242.5M433.2 235.0L431.6 231.9M416.9 203.2L415.3 200.2M469.8 303.7L465.2 294.6M462.1 288.6L461.3 287.1M459.0 282.5L458.2 281.0M455.1 275.0L453.6 271.9M448.1 261.3L445.0 255.3M441.2 247.7L439.6 244.7M438.1 241.7L433.4 232.6M432.6 231.1L431.9 229.6M412.5 191.7L411.7 190.2M465.7 293.1L463.4 288.6M458.0 278.0L457.2 276.5M447.2 256.8L443.3 249.2M441.0 244.7L439.5 241.6M430.2 223.5L429.4 222.0M468.2 295.5L466.7 292.5M460.5 280.3L459.7 278.8M452.8 265.2L451.3 262.1M449.8 259.1L449.0 257.6M448.2 256.1L445.1 250.0M441.3 242.4L440.5 240.9M427.5 215.1L425.2 210.6M470.5 297.5L467.4 291.4M464.4 285.3L463.6 283.8M450.6 258.0L449.8 256.5M446.7 250.4L443.7 244.3M440.6 238.3L439.1 235.2M434.5 226.1L433.7 224.6M433.0 223.1L432.2 221.6M475.1 304.0L474.3 302.5M468.2 290.3L467.4 288.8M465.1 284.3L464.4 282.7M460.6 275.1L459.8 273.6M451.4 256.9L450.6 255.4M446.8 247.8L443.0 240.2M439.2 232.6L436.2 226.5M430.8 215.9L430.0 214.4M420.1 194.6L418.6 191.6M463.7 278.7L462.2 275.6M447.7 246.7L446.9 245.2M443.9 239.1L443.1 237.6M435.5 222.4L434.8 220.9M434.0 219.4L431.7 214.8M421.1 193.5L419.6 190.5M418.8 189.0L417.3 185.9M478.2 305.2L477.4 303.7M475.9 300.6L474.4 297.6M473.7 296.1L472.9 294.6M465.3 279.3L463.8 276.3M457.8 264.1L457.0 262.6M442.6 233.7L441.1 230.6M438.8 226.1L436.6 221.5M432.8 213.9L431.3 210.8M429.0 206.3L427.5 203.2M422.9 194.1L422.2 192.6M419.1 186.5L418.4 185.0M478.2 302.7L476.7 299.7M469.2 284.5L467.7 281.4M466.9 279.9L466.2 278.4M461.6 269.2L460.9 267.7M452.6 250.9L451.8 249.4M445.8 237.2L442.8 231.1M442.0 229.6L439.8 225.0M438.3 222.0L437.5 220.5M426.9 199.1L426.2 197.6M471.4 286.4L470.7 284.9M451.2 245.2L449.7 242.2M448.9 240.7L448.2 239.1M442.9 228.5L441.4 225.4M435.4 213.2L432.4 207.1M428.6 199.5L427.9 198.0M424.9 191.9L423.4 188.8M470.3 281.5L468.8 278.4M456.1 252.5L451.6 243.3M441.9 223.5L440.4 220.4M432.9 205.2L429.9 199.1M429.2 197.5L428.4 196.0M480.0 298.5L479.2 297.0M475.5 289.4L474.0 286.3M471.0 280.2L469.5 277.1M468.0 274.1L465.1 268.0M462.8 263.4L459.8 257.3M456.9 251.2L453.9 245.1M452.4 242.0L450.9 238.9M448.7 234.4L447.9 232.8M445.7 228.3L444.9 226.7M431.5 199.2L430.8 197.7M426.3 188.5L424.8 185.5M483.9 304.1L483.2 302.6M455.7 246.0L449.0 232.3M443.1 220.0L442.4 218.5M437.9 209.3L437.2 207.8M434.9 203.2L432.7 198.6M483.5 300.7L481.3 296.1M471.0 274.7L469.5 271.6M468.0 268.6L465.1 262.4M462.1 256.3L460.6 253.3M456.9 245.6L456.2 244.1M451.7 234.9L451.0 233.4M434.7 199.7L433.2 196.6M480.9 292.6L480.1 291.0M470.6 271.1L469.8 269.6M466.1 261.9L464.7 258.8M452.1 232.8L451.4 231.3M449.2 226.7L448.5 225.1M445.5 219.0L444.8 217.5M486.9 302.5L486.2 300.9M481.0 290.2L479.6 287.1M478.1 284.1L475.9 279.5M470.8 268.7L470.0 267.2M463.4 253.4L461.2 248.8M450.9 227.3L445.1 215.1M432.6 189.0L431.1 185.9M467.5 259.1L464.5 252.9M460.9 245.2L459.4 242.2M442.6 206.9L441.9 205.3M487.3 298.1L485.9 295.0M482.9 288.9L481.5 285.8M474.9 272.0L473.5 268.9M472.8 267.4L469.8 261.2M466.9 255.1L465.5 252.0M456.7 233.6L456.0 232.0M454.6 229.0L452.4 224.4M438.5 195.2L437.1 192.1M434.9 187.5L433.4 184.4M491.9 305.2L489.7 300.5M482.5 285.2L480.3 280.6M479.6 279.0L477.4 274.4M473.8 266.7L471.6 262.1M462.2 242.1L461.5 240.6M457.8 232.9L454.9 226.7M442.6 200.6L441.9 199.1M440.4 196.0L438.2 191.4M437.5 189.8L435.3 185.2M492.8 304.5L488.5 295.3M469.7 255.2L468.3 252.2M463.9 242.9L463.2 241.4M462.5 239.9L461.8 238.3M459.6 233.7L458.9 232.2M457.4 229.1L456.0 226.0M454.6 222.9L453.1 219.8M451.7 216.8L448.8 210.6M440.1 192.1L437.9 187.5M480.0 274.4L478.6 271.4M468.5 249.8L467.8 248.3M459.9 231.3L459.2 229.8M451.3 212.8L449.1 208.2M448.4 206.7L446.2 202.0M441.9 192.8L440.5 189.7M480.5 272.6L475.5 261.8M471.2 252.6L470.5 251.0M461.1 231.0L459.7 227.9M456.1 220.2L453.3 214.0M443.2 192.5L442.5 190.9M494.0 299.1L492.6 296.0M490.5 291.4L489.8 289.9M487.6 285.2L486.2 282.2M484.8 279.1L482.6 274.4M481.9 272.9L476.9 262.1M462.7 231.2L461.9 229.7M460.5 226.6L459.8 225.1M454.8 214.3L451.2 206.5M442.7 188.0L441.3 184.9M493.5 295.2L492.8 293.7M488.5 284.4L484.2 275.1M481.4 268.9L479.3 264.3M472.9 250.4L471.5 247.3M460.8 224.2L459.4 221.1M457.2 216.4L456.5 214.9M493.7 292.9L493.0 291.4M490.9 286.8L488.7 282.1M486.6 277.5L483.8 271.3M483.1 269.8L481.0 265.1M473.2 248.1L471.8 245.0M470.3 241.9L468.9 238.8M463.3 226.5L461.1 221.8M455.5 209.5L447.0 190.9M493.9 290.8L490.4 283.0M476.3 252.1L475.6 250.5M467.2 232.0L465.8 228.9M463.7 224.2L462.9 222.7M454.5 204.1L453.8 202.6M448.2 190.2L445.3 184.0M490.6 280.6L488.5 276.0M479.4 255.9L478.7 254.3M475.9 248.1L475.2 246.6M473.1 241.9L472.4 240.4M471.7 238.8L471.0 237.3M467.5 229.5L466.1 226.4M454.8 201.7L452.7 197.0M492.0 280.9L490.6 277.8M487.8 271.6L484.3 263.9M482.9 260.8L481.5 257.7M475.9 245.3L473.2 239.1M471.8 236.0L469.7 231.3M461.3 212.7L460.6 211.2M450.1 187.9L448.7 184.8M503.6 304.0L500.8 297.8M491.8 277.6L491.1 276.1M487.6 268.3L486.9 266.8M486.2 265.2L484.8 262.1M469.5 228.0L468.8 226.4M465.4 218.7L464.0 215.6M460.5 207.8L452.8 190.8M503.3 300.6L502.6 299.0M501.2 295.9L499.9 292.8M481.2 250.9L480.5 249.3M478.4 244.7L477.7 243.1M474.9 236.9L473.5 233.8M471.5 229.2L468.0 221.4M454.8 191.9L452.1 185.7M505.8 303.3L505.1 301.7M502.3 295.5L500.9 292.4M489.9 267.6L489.2 266.0M488.5 264.5L487.8 262.9M474.7 233.4L474.0 231.8M507.7 305.1L507.1 303.5M494.0 274.0L492.6 270.9M487.8 260.0L486.5 256.9M481.6 246.0L481.0 244.4M472.7 225.8L471.3 222.6M470.7 221.1L467.9 214.9M466.5 211.8L459.7 196.2M493.6 270.2L491.6 265.5M474.5 226.6L472.4 221.9M469.0 214.2L467.0 209.5M466.3 207.9L464.9 204.8M463.5 201.7L462.9 200.1M461.5 197.0L460.8 195.5M510.1 304.9L508.0 300.2M506.0 295.6L504.6 292.4M503.3 289.3L499.2 280.0M481.5 239.5L478.1 231.7M476.0 227.0L475.4 225.5M467.2 206.8L465.2 202.1M505.9 292.5L503.9 287.8M501.1 281.6L499.8 278.5M498.4 275.3L496.4 270.7M495.7 269.1L493.7 264.4M491.0 258.2L486.2 247.3M480.8 234.8L480.1 233.2M475.4 222.3L472.7 216.1M490.2 253.5L489.6 251.9M486.2 244.1L484.2 239.4M477.4 223.8L476.1 220.7M473.4 214.5L470.7 208.2M469.3 205.1L468.0 202.0M510.8 298.3L505.5 285.8M499.4 271.7L498.7 270.1M479.9 226.4L477.9 221.7M475.9 217.1L472.5 209.2M464.5 190.5L462.5 185.8M512.5 299.4L511.9 297.8M491.8 250.9L486.4 238.4M483.8 232.2L482.4 229.0M477.7 218.1L477.1 216.5M469.7 199.4L468.4 196.2M465.7 190.0L465.0 188.4M500.7 268.8L500.1 267.2M470.1 196.8L469.4 195.3M516.6 303.3L516.0 301.8M507.3 281.4L506.0 278.3M489.4 239.2L488.1 236.0M487.5 234.5L486.8 232.9M476.8 209.4L475.5 206.3M471.5 196.9L469.6 192.2M518.2 304.4L514.9 296.5M497.1 254.2L495.8 251.1M487.2 230.7L486.6 229.2M481.9 218.2L481.3 216.6M506.4 273.2L505.7 271.6M501.8 262.2L501.1 260.7M500.5 259.1L499.2 256.0M496.5 249.7L495.9 248.1M495.2 246.5L493.9 243.4M492.6 240.3L491.9 238.7M486.7 226.2L486.0 224.6M476.8 202.6L474.2 196.4M471.6 190.1L469.6 185.4M513.5 287.3L512.9 285.7M510.2 279.4L509.6 277.9M508.9 276.3L505.0 266.9M480.8 208.8L480.2 207.3M478.9 204.1L478.2 202.6M476.9 199.4L475.6 196.3M496.2 242.6L494.9 239.5M485.8 217.5L484.5 214.4M474.7 190.8L473.4 187.7M520.7 298.8L520.1 297.2M518.1 292.5L517.5 291.0M514.2 283.1L512.9 280.0M488.3 220.2L487.7 218.7M483.1 207.7L481.2 202.9M480.5 201.4L479.9 199.8M476.0 190.4L475.4 188.8M523.9 303.6L523.2 302.0M509.7 269.0L508.4 265.9M498.1 240.7L497.4 239.1M489.0 218.7L487.8 215.5M480.7 198.2L479.4 195.1M477.4 190.4L476.1 187.2M518.4 287.3L517.7 285.7M516.5 282.5L515.8 281.0M509.4 265.2L508.1 262.1M504.9 254.2L504.3 252.6M493.4 225.9L491.4 221.1M479.2 191.2L476.7 184.9M515.9 278.1L515.3 276.5M501.8 243.4L499.9 238.7M480.7 191.4L478.2 185.1M516.6 276.7L515.9 275.1M503.2 243.6L501.3 238.8M496.2 226.2L494.3 221.5M481.6 190.0L479.7 185.2M510.3 258.0L509.7 256.4M505.9 247.0L505.2 245.4M502.7 239.1L502.1 237.5M500.8 234.3L498.3 228.0M483.1 190.2L481.2 185.4M509.1 251.9L506.0 244.0M504.1 239.3L502.2 234.5M491.5 207.7L489.0 201.4M523.7 285.3L523.1 283.7M511.8 255.3L511.2 253.7M508.0 245.8L507.4 244.2M503.6 234.7L503.0 233.2M502.4 231.6L499.9 225.3M497.4 218.9L496.1 215.8M488.6 196.8L486.1 190.5M511.3 250.9L510.7 249.3M510.1 247.7L509.5 246.2M498.8 219.3L492.6 203.5M507.7 238.3L504.0 228.9M499.0 216.2L497.8 213.0M487.8 187.7L486.6 184.5M510.2 241.5L509.6 240.0M502.2 221.0L498.5 211.5M497.3 208.3L496.7 206.7M512.5 243.9L510.6 239.1M508.8 234.4L505.7 226.4M501.4 215.3L498.3 207.4M495.8 201.1L494.0 196.3M516.7 251.4L514.8 246.7M513.6 243.5L513.0 241.9M499.5 207.0L498.3 203.8M497.7 202.2L497.1 200.7M495.9 197.5L493.4 191.1M517.2 249.5L515.4 244.7M497.1 197.1L494.1 189.2M513.6 236.7L510.0 227.2M505.7 216.0L500.9 203.3M499.7 200.2L498.5 197.0M521.0 252.7L520.4 251.1M517.3 243.1L513.1 232.0M511.9 228.8L511.3 227.2M497.5 190.7L495.0 184.3M518.9 243.9L518.3 242.3M514.1 231.2L512.3 226.4M504.5 205.7L503.3 202.6M500.9 196.2L500.3 194.6M521.5 247.3L520.3 244.1M507.2 209.1L506.0 205.9M499.4 188.4L498.2 185.2M521.9 245.0L520.7 241.8M517.2 232.3L516.6 230.7M505.3 200.4L504.1 197.2M522.2 242.4L521.6 240.8M520.5 237.6L519.9 236.0M516.3 226.5L515.7 224.9M506.9 201.0L506.3 199.4M522.7 240.2L522.1 238.6M508.0 200.3L507.4 198.7M517.8 223.3L517.2 221.7M511.9 207.3L510.8 204.1M510.2 202.5L506.7 192.9M514.0 209.1L513.4 207.5M519.7 217.5L517.9 212.7M523.3 220.1L521.6 215.3M513.5 188.7L511.8 183.9M523.6 213.5L523.0 211.9M524.0 210.8L523.4 209.2" stroke="#90e0ec" stroke-width="1.35" fill="none"/>
<path d="M396.9 304.1L395.0 301.3M392.2 297.0L391.3 295.6M393.4 296.5L392.5 295.0M400.6 305.5L399.7 304.0M398.8 302.6L397.9 301.2M401.2 304.1L400.2 302.6M398.4 299.8L397.5 298.3M402.9 304.6L397.4 296.0M401.5 300.2L398.8 295.9M394.2 288.7L391.5 284.4M405.0 303.4L404.1 302.0M398.6 293.4L397.7 291.9M394.1 286.2L393.2 284.7M406.0 302.7L404.2 299.8M401.5 295.5L400.5 294.1M398.7 291.2L396.9 288.3M396.0 286.9L395.1 285.5M394.2 284.0L392.4 281.1M408.9 305.1L405.3 299.3M400.8 292.1L399.8 290.7M397.1 286.4L393.5 280.6M401.5 291.1L400.6 289.6M397.9 285.3L397.0 283.9M411.5 304.7L409.7 301.8M404.3 293.2L403.4 291.7M402.5 290.3L398.0 283.1M411.8 302.9L410.9 301.5M409.1 298.6L403.7 289.9M401.0 285.6L398.3 281.3M413.2 303.0L409.6 297.2M408.7 295.7L406.1 291.4M405.2 290.0L402.5 285.6M401.6 284.2L397.1 276.9M395.3 274.0L391.8 268.3M415.9 305.1L413.2 300.8M412.4 299.3L409.7 295.0M408.8 293.5L406.1 289.2M403.4 284.8L401.7 281.9M400.8 280.5L399.9 279.0M399.0 277.6L397.2 274.7M395.4 271.8L393.7 268.9M392.8 267.4L391.9 266.0M414.6 300.6L410.1 293.4M409.2 291.9L408.4 290.5M406.6 287.6L403.9 283.2M402.1 280.3L398.6 274.5M395.9 270.2L394.2 267.3M392.4 264.4L391.5 262.9M418.9 305.4L418.0 304.0M416.3 301.1L414.5 298.2M413.6 296.7L412.7 295.3M411.8 293.8L410.9 292.4M404.7 282.2L397.7 270.6M396.8 269.2L393.2 263.3M419.5 304.2L415.1 296.9M411.6 291.1L410.7 289.7M408.9 286.8L403.7 278.0M399.2 270.8L396.6 266.4M395.7 265.0L391.3 257.7M421.3 304.9L417.8 299.1M407.3 281.6L404.6 277.3M397.6 265.6L395.0 261.3M392.3 256.9L391.4 255.4M422.5 304.5L420.7 301.6M419.9 300.1L417.2 295.8M416.4 294.3L415.5 292.9M413.7 290.0L412.8 288.5M412.0 287.0L411.1 285.6M410.2 284.1L406.7 278.3M405.0 275.4L403.2 272.5M401.5 269.6L400.6 268.1M398.8 265.2L397.9 263.7M421.4 300.4L417.9 294.5M413.5 287.2L410.0 281.4M409.1 279.9L408.3 278.5M407.4 277.0L405.6 274.1M404.8 272.6L402.1 268.3M423.5 301.6L418.3 292.9M414.8 287.0L409.6 278.3M406.1 272.4L403.5 268.0M398.3 259.3L397.4 257.8M393.0 250.5L391.3 247.6M425.2 302.1L423.4 299.2M417.4 288.9L412.1 280.2M400.9 261.2L399.1 258.2M398.3 256.8L397.4 255.3M428.5 305.4L425.9 301.1M425.1 299.6L419.9 290.8M417.3 286.4L416.4 285.0M413.8 280.6L411.2 276.2M402.6 261.6L400.8 258.6M400.0 257.2L397.4 252.8M396.5 251.3L395.6 249.8M427.8 302.0L422.7 293.2M420.1 288.8L417.5 284.4M416.6 282.9L415.8 281.5M414.9 280.0L412.3 275.6M396.8 249.2L394.2 244.8M431.3 305.5L424.4 293.7M420.1 286.4L416.6 280.5M415.8 279.1L411.5 271.7M409.8 268.8L407.2 264.4M402.0 255.6L397.7 248.3M396.0 245.3L395.2 243.9M394.3 242.4L391.7 238.0M431.8 304.0L424.9 292.3M424.1 290.8L423.2 289.3M418.9 282.0L418.1 280.5M416.3 277.6L412.9 271.7M412.1 270.3L408.6 264.4M406.1 260.0L403.5 255.6M401.8 252.6L399.2 248.2M395.8 242.4L392.4 236.5M428.8 296.6L428.0 295.2M427.1 293.7L426.3 292.2M425.4 290.8L423.7 287.8M422.0 284.9L421.2 283.4M419.4 280.5L407.5 259.9M405.8 257.0L403.2 252.6M399.8 246.7L396.4 240.8M395.5 239.3L393.0 234.9M392.1 233.4L391.3 232.0M434.8 304.6L433.1 301.6M431.4 298.7L427.1 291.3M426.3 289.8L425.4 288.4M422.9 284.0L417.8 275.1M416.9 273.7L415.2 270.7M414.4 269.2L411.0 263.4M409.3 260.4L408.4 258.9M405.8 254.5L403.3 250.1M402.4 248.6L399.0 242.7M398.2 241.3L397.3 239.8M393.1 232.4L391.4 229.5M428.9 291.9L425.5 286.0M422.9 281.6L418.7 274.3M413.6 265.4L411.9 262.5M410.2 259.5L408.5 256.6M407.7 255.1L398.3 238.9M394.1 231.5L391.5 227.1M435.2 300.6L434.4 299.1M431.0 293.2L429.3 290.3M423.4 279.9L421.7 277.0M419.1 272.6L417.5 269.6M410.7 257.8L409.8 256.3M405.6 249.0L403.9 246.0M399.7 238.6L394.6 229.8M439.2 305.2L437.5 302.3M435.8 299.3L434.2 296.4M433.3 294.9L429.1 287.5M423.2 277.2L420.7 272.7M419.8 271.3L417.3 266.8M413.1 259.5L408.9 252.1M408.0 250.6L403.8 243.2M403.0 241.7L399.6 235.8M440.3 304.8L438.6 301.9M437.0 298.9L431.1 288.6M430.2 287.1L429.4 285.6M427.7 282.6L424.4 276.7M423.5 275.3L419.3 267.9M417.6 264.9L416.0 262.0M415.1 260.5L412.6 256.0M410.1 251.6L407.6 247.2M406.7 245.7L405.9 244.2M402.5 238.3L399.2 232.4M395.8 226.5L393.3 222.0M441.3 304.1L440.4 302.6M437.1 296.7L430.4 284.9M429.5 283.4L427.9 280.4M424.5 274.5L422.0 270.1M420.3 267.1L417.0 261.2M413.6 255.3L412.8 253.8M410.3 249.4L409.4 247.9M408.6 246.4L407.8 244.9M401.9 234.6L400.2 231.6M399.4 230.1L397.7 227.2M442.7 304.3L441.0 301.3M436.0 292.5L432.7 286.5M430.2 282.1L426.0 274.7M420.2 264.3L416.8 258.4M409.3 245.1L405.2 237.7M400.2 228.8L399.3 227.3M397.6 224.3L396.8 222.8M444.7 305.5L437.2 292.1M433.0 284.7L426.4 272.8M425.6 271.4L423.9 268.4M422.2 265.4L420.6 262.5M419.7 261.0L417.2 256.5M415.6 253.6L413.9 250.6M401.4 228.4L400.6 226.9M398.1 222.4L395.6 218.0M446.0 305.4L445.2 303.9M443.5 301.0L442.7 299.5M433.6 283.1L431.9 280.2M431.1 278.7L429.4 275.7M427.8 272.8L425.3 268.3M423.6 265.3L422.8 263.8M421.1 260.9L419.5 257.9M415.3 250.5L414.5 249.0M413.7 247.5L410.3 241.6M405.4 232.7L403.7 229.7M402.9 228.2L398.7 220.8M397.1 217.8L396.3 216.4M445.8 302.7L442.5 296.8M440.9 293.8L439.2 290.8M438.4 289.4L434.3 281.9M432.6 279.0L430.1 274.5M429.3 273.0L428.5 271.5M427.7 270.0L426.8 268.6M423.5 262.6L420.2 256.7M419.4 255.2L413.6 244.8M412.0 241.8L407.8 234.4M397.9 216.6L397.1 215.1M448.5 305.1L444.4 297.7M441.9 293.2L441.1 291.7M440.2 290.2L436.1 282.8M432.8 276.9L428.7 269.4M427.9 267.9L424.6 262.0M422.1 257.5L421.3 256.0M420.5 254.5L418.0 250.1M414.7 244.1L412.3 239.7M411.4 238.2L409.8 235.2M395.0 208.4L394.1 207.0M449.3 304.2L447.7 301.3M445.2 296.8L444.4 295.3M441.9 290.8L439.5 286.4M437.8 283.4L435.4 278.9M433.7 275.9L432.1 273.0M430.4 270.0L428.8 267.0M426.3 262.5L425.5 261.1M424.7 259.6L423.9 258.1M423.1 256.6L419.0 249.1M417.3 246.2L414.9 241.7M414.0 240.2L409.1 231.3M402.5 219.4L401.7 217.9M450.9 304.8L447.7 298.8M446.0 295.8L443.6 291.4M440.3 285.4L439.5 283.9M437.8 280.9L436.2 277.9M432.9 272.0L432.1 270.5M431.3 269.0L428.8 264.5M428.0 263.0L425.6 258.6M424.8 257.1L423.9 255.6M423.1 254.1L421.5 251.1M417.4 243.7L416.6 242.2M412.5 234.7L409.2 228.8M406.8 224.3L405.1 221.3M452.4 305.1L450.0 300.6M447.5 296.2L446.7 294.7M441.0 284.2L436.1 275.3M432.9 269.3L426.4 257.4M424.7 254.4L423.9 252.9M419.0 243.9L417.4 241.0M413.3 233.5L409.2 226.0M453.0 303.7L448.9 296.3M444.9 288.8L443.2 285.8M440.8 281.3L440.0 279.8M439.2 278.3L432.7 266.4M429.4 260.4L427.0 255.9M424.6 251.4L418.9 241.0M418.1 239.5L415.6 235.0M414.0 232.0L410.8 226.1M455.0 305.0L453.4 302.0M452.6 300.5L451.0 297.6M448.5 293.1L447.7 291.6M444.5 285.6L438.0 273.6M434.0 266.2L429.9 258.7M425.9 251.2L420.2 240.7M419.4 239.2L416.2 233.3M410.5 222.8L409.7 221.3M404.0 210.8L402.4 207.8M451.8 296.6L450.9 295.1M448.5 290.6L446.1 286.1M443.7 281.6L442.9 280.1M439.7 274.1L438.0 271.1M437.2 269.6L435.6 266.7M427.6 251.7L425.2 247.2M422.7 242.7L414.7 227.7M412.3 223.2L410.6 220.3M406.6 212.8L405.8 211.3M456.5 303.0L448.5 288.1M445.3 282.1L444.5 280.6M443.7 279.1L442.1 276.1M441.3 274.6L440.5 273.1M439.7 271.6L438.9 270.1M438.1 268.6L436.5 265.6M435.7 264.1L433.2 259.6M430.0 253.6L428.4 250.6M425.2 244.6L424.4 243.1M422.0 238.6L420.4 235.6M419.6 234.1L416.4 228.1M413.2 222.1L412.4 220.6M409.1 214.6L407.5 211.7M405.1 207.2L404.3 205.7M458.1 303.6L454.1 296.1M453.3 294.6L452.5 293.1M451.7 291.6L450.1 288.6M446.9 282.6L444.5 278.1M438.9 267.6L438.1 266.1M430.9 252.6L421.3 234.6M420.5 233.1L419.7 231.6M417.3 227.1L414.9 222.6M414.1 221.1L413.3 219.6M457.3 299.7L451.0 287.6M450.2 286.1L447.8 281.6M446.2 278.6L445.4 277.1M439.8 266.6L438.2 263.6M437.4 262.1L435.0 257.6M434.2 256.1L427.0 242.6M415.1 220.1L413.5 217.1M411.9 214.1L411.1 212.6M458.0 298.4L457.2 296.9M439.7 263.9L437.4 259.4M436.6 257.9L435.0 254.9M431.8 248.8L426.2 238.3M425.4 236.8L424.6 235.3M420.7 227.8L419.9 226.3M418.3 223.3L416.7 220.3M407.9 203.8L407.2 202.3M461.8 303.2L457.9 295.7M446.8 274.6L446.0 273.1M443.6 268.6L442.8 267.1M440.4 262.6L438.9 259.6M437.3 256.6L435.7 253.6M434.9 252.1L433.3 249.0M430.9 244.5L430.2 243.0M426.2 235.5L421.4 226.5M420.7 225.0L419.9 223.5M419.1 222.0L418.3 220.5M415.9 215.9L415.1 214.4M458.2 293.8L457.4 292.3M452.7 283.3L451.1 280.2M450.3 278.7L445.6 269.7M444.0 266.7L443.2 265.2M441.6 262.2L438.5 256.2M436.9 253.1L433.7 247.1M432.2 244.1L421.9 224.5M418.8 218.5L417.2 215.5M414.8 211.0L409.3 200.4M405.3 192.9L403.8 189.9M465.5 305.2L464.7 303.7M462.3 299.2L460.0 294.6M457.6 290.1L454.4 284.1M452.9 281.1L452.1 279.6M449.7 275.0L448.9 273.5M443.4 263.0L441.9 260.0M441.1 258.5L434.0 244.9M430.9 238.9L423.8 225.3M423.0 223.8L422.2 222.3M409.6 198.2L406.5 192.1M464.3 300.6L462.0 296.1M457.3 287.0L456.5 285.5M453.4 279.5L452.6 277.9M451.0 274.9L447.1 267.4M444.8 262.9L432.2 238.7M428.3 231.2L427.5 229.7M426.7 228.2L423.6 222.1M422.8 220.6L422.1 219.1M407.2 190.4L404.0 184.4M468.1 305.4L467.3 303.9M465.8 300.9L461.9 293.3M458.0 285.8L456.4 282.7M449.4 269.1L448.6 267.6M445.5 261.6L443.9 258.6M442.4 255.5L437.7 246.5M433.0 237.4L432.2 235.9M430.7 232.9L429.9 231.4M428.3 228.4L426.8 225.3M422.9 217.8L418.2 208.7M468.9 304.5L462.7 292.4M445.6 259.1L440.2 248.6M439.4 247.1L437.8 244.0M437.1 242.5L434.7 238.0M434.0 236.5L433.2 235.0M429.3 227.4L426.2 221.4M423.1 215.3L421.5 212.3M465.2 294.6L462.1 288.6M461.3 287.1L459.0 282.5M455.9 276.5L455.1 275.0M445.0 255.3L441.2 247.7M438.8 243.2L438.1 241.7M431.9 229.6L428.0 222.0M411.7 190.2L411.0 188.7M471.9 305.3L469.6 300.7M466.5 294.7L465.7 293.1M455.7 273.5L454.9 271.9M453.4 268.9L451.8 265.9M450.3 262.9L449.5 261.3M443.3 249.2L441.0 244.7M439.5 241.6L437.2 237.1M434.1 231.0L430.2 223.5M421.7 206.8L421.0 205.3M418.6 200.7L416.3 196.2M472.8 304.6L469.0 297.0M466.7 292.5L462.8 284.9M453.6 266.7L452.8 265.2M442.8 245.5L442.1 243.9M440.5 240.9L439.8 239.4M438.2 236.4L437.5 234.8M432.8 225.7L429.8 219.7M429.0 218.2L427.5 215.1M425.2 210.6L423.6 207.5M419.0 198.4L418.2 196.9M472.0 300.5L471.3 299.0M467.4 291.4L466.7 289.9M465.9 288.3L465.1 286.8M463.6 283.8L462.8 282.3M459.0 274.7L457.5 271.6M455.9 268.6L452.9 262.5M449.8 256.5L446.7 250.4M443.7 244.3L442.1 241.3M433.7 224.6L433.0 223.1M432.2 221.6L427.6 212.5M420.7 198.8L419.2 195.8M474.3 302.5L471.2 296.4M469.0 291.9L468.2 290.3M467.4 288.8L466.7 287.3M462.9 279.7L462.1 278.2M459.8 273.6L454.5 263.0M452.9 259.9L452.2 258.4M450.6 255.4L448.4 250.8M443.0 240.2L439.2 232.6M436.2 226.5L430.8 215.9M422.4 199.2L421.7 197.7M476.6 304.5L475.1 301.5M472.0 295.4L467.5 286.3M459.9 271.1L458.4 268.0M456.8 265.0L456.1 263.5M455.3 261.9L450.7 252.8M446.9 245.2L446.2 243.7M445.4 242.2L444.7 240.7M443.1 237.6L437.8 227.0M437.1 225.5L435.5 222.4M434.8 220.9L434.0 219.4M431.7 214.8L427.9 207.2M424.9 201.1L423.4 198.1M422.6 196.6L421.9 195.0M419.6 190.5L418.8 189.0M417.3 185.9L416.5 184.4M477.4 303.7L475.9 300.6M474.4 297.6L473.7 296.1M470.6 290.0L469.1 286.9M466.1 280.9L465.3 279.3M463.1 274.8L457.8 264.1M451.7 251.9L447.9 244.3M444.9 238.2L442.6 233.7M441.1 230.6L438.8 226.1M433.5 215.4L432.8 213.9M431.3 210.8L430.5 209.3M429.7 207.8L429.0 206.3M422.2 192.6L419.1 186.5M479.0 304.3L478.2 302.7M476.7 299.7L469.9 286.0M466.2 278.4L464.7 275.3M460.9 267.7L460.1 266.2M458.6 263.1L454.9 255.5M450.3 246.4L449.6 244.9M442.8 231.1L442.0 229.6M439.8 225.0L438.3 222.0M437.5 220.5L428.5 202.2M425.4 196.1L423.9 193.1M421.7 188.5L420.9 187.0M480.5 304.7L475.2 294.0M474.5 292.5L471.4 286.4M470.7 284.9L469.2 281.8M468.4 280.3L465.4 274.2M463.9 271.2L462.4 268.1M458.7 260.5L457.9 259.0M457.2 257.4L456.4 255.9M455.7 254.4L454.2 251.3M453.4 249.8L451.2 245.2M448.2 239.1L442.9 228.5M441.4 225.4L437.6 217.8M436.9 216.3L435.4 213.2M432.4 207.1L428.6 199.5M427.9 198.0L424.9 191.9M423.4 188.8L421.1 184.2M478.6 298.3L470.3 281.5M468.8 278.4L465.8 272.3M461.4 263.2L456.1 252.5M450.1 240.3L447.1 234.2M446.4 232.6L442.6 225.0M440.4 220.4L432.9 205.2M429.9 199.1L429.2 197.5M425.4 189.9L423.2 185.3M482.9 304.6L480.7 300.1M479.2 297.0L475.5 289.4M471.8 281.7L471.0 280.2M465.1 268.0L463.6 264.9M447.9 232.8L445.7 228.3M444.9 226.7L441.9 220.6M439.7 216.0L437.5 211.4M436.7 209.9L431.5 199.2M430.8 197.7L428.5 193.1M483.2 302.6L473.5 282.7M472.8 281.2L472.1 279.7M470.6 276.6L469.8 275.1M466.9 269.0L462.4 259.8M459.4 253.7L458.7 252.1M457.2 249.1L455.7 246.0M449.0 232.3L443.1 220.0M442.4 218.5L437.9 209.3M437.2 207.8L434.9 203.2M432.7 198.6L431.2 195.6M430.5 194.0L429.0 191.0M485.8 305.3L483.5 300.7M479.8 293.1L473.9 280.8M463.6 259.4L462.8 257.8M457.7 247.1L456.9 245.6M456.2 244.1L455.4 242.5M453.2 237.9L451.7 234.9M451.0 233.4L443.6 218.1M442.1 215.0L439.9 210.4M436.2 202.7L434.7 199.7M433.2 196.6L427.3 184.4M486.8 304.8L485.3 301.7M484.6 300.2L483.1 297.1M480.1 291.0L473.5 277.2M469.1 268.0L466.9 263.4M455.8 240.5L452.1 232.8M451.4 231.3L449.2 226.7M444.8 217.5L438.1 203.7M436.7 200.6L431.5 189.9M487.6 304.0L486.9 302.5M486.2 300.9L484.7 297.9M484.0 296.3L482.5 293.3M481.8 291.7L481.0 290.2M475.9 279.5L473.7 274.9M472.2 271.8L470.8 268.7M468.6 264.1L467.8 262.6M466.3 259.5L465.6 258.0M464.9 256.5L463.4 253.4M459.0 244.2L456.8 239.6M453.1 231.9L451.7 228.9M445.1 215.1L444.3 213.5M443.6 212.0L438.5 201.3M437.0 198.2L433.3 190.5M431.1 185.9L430.4 184.4M487.9 302.0L485.0 295.9M484.3 294.4L480.6 286.7M479.9 285.1L475.5 275.9M471.9 268.3L469.7 263.7M463.8 251.4L462.4 248.3M459.4 242.2L455.0 233.0M454.3 231.4L452.1 226.8M450.7 223.8L448.5 219.2M445.5 213.0L442.6 206.9M441.9 205.3L439.0 199.2M484.4 291.9L482.9 288.9M481.5 285.8L474.9 272.0M473.5 268.9L472.8 267.4M465.5 252.0L464.7 250.5M464.0 248.9L462.6 245.9M461.8 244.3L457.5 235.1M452.4 224.4L449.5 218.2M447.3 213.6L445.1 209.0M441.5 201.3L440.0 198.2M437.1 192.1L434.9 187.5M488.3 297.5L482.5 285.2M480.3 280.6L479.6 279.0M477.4 274.4L474.5 268.3M471.6 262.1L470.9 260.6M466.5 251.3L464.4 246.7M463.6 245.2L462.2 242.1M460.7 239.0L458.6 234.4M454.9 226.7L454.2 225.2M452.0 220.6L443.3 202.1M441.9 199.1L440.4 196.0M488.5 295.3L487.8 293.7M482.0 281.4L475.5 267.6M473.3 262.9L472.6 261.4M471.2 258.3L469.7 255.2M467.5 250.6L463.9 242.9M460.3 235.2L459.6 233.7M456.0 226.0L454.6 222.9M453.1 219.8L451.7 216.8M448.8 210.6L445.2 202.9M444.4 201.4L440.1 192.1M437.9 187.5L437.2 186.0M491.5 299.1L489.4 294.5M485.8 286.8L485.1 285.2M484.3 283.7L480.0 274.4M478.6 271.4L477.9 269.8M476.4 266.7L475.7 265.2M474.3 262.1L472.8 259.0M471.4 256.0L470.0 252.9M469.2 251.3L468.5 249.8M467.8 248.3L460.6 232.9M458.5 228.2L451.3 212.8M449.1 208.2L448.4 206.7M446.2 202.0L445.5 200.5M444.8 199.0L441.9 192.8M489.8 292.7L487.7 288.0M485.5 283.4L480.5 272.6M475.5 261.8L471.2 252.6M470.5 251.0L464.7 238.7M463.3 235.6L461.1 231.0M459.0 226.4L456.1 220.2M451.8 211.0L449.0 204.8M447.5 201.7L446.8 200.2M444.7 195.5L443.2 192.5M492.6 296.0L490.5 291.4M489.8 289.9L487.6 285.2M486.2 282.2L484.8 279.1M482.6 274.4L481.9 272.9M476.2 260.5L474.1 255.9M473.4 254.4L472.6 252.8M471.9 251.3L471.2 249.7M470.5 248.2L462.7 231.2M461.2 228.1L460.5 226.6M459.8 225.1L456.9 218.9M455.5 215.8L454.8 214.3M449.8 203.5L447.7 198.8M446.2 195.7L445.5 194.2M492.8 293.7L488.5 284.4M484.2 275.1L481.4 268.9M479.3 264.3L478.6 262.8M477.1 259.7L476.4 258.1M470.0 244.2L465.1 233.4M464.4 231.9L460.8 224.2M459.4 221.1L457.2 216.4M456.5 214.9L452.3 205.6M451.6 204.1L450.1 201.0M448.0 196.4L442.3 184.0M496.5 299.1L494.4 294.5M491.6 288.3L490.9 286.8M488.7 282.1L486.6 277.5M483.8 271.3L483.1 269.8M481.0 265.1L480.2 263.6M477.4 257.4L473.9 249.7M468.9 238.8L464.7 229.6M460.4 220.3L458.3 215.7M457.6 214.1L455.5 209.5M447.0 190.9L445.6 187.8M444.9 186.3L444.2 184.7M494.7 292.3L493.9 290.8M490.4 283.0L489.0 279.9M486.9 275.3L483.4 267.6M482.7 266.0L480.6 261.4M474.9 249.0L472.1 242.8M471.4 241.3L467.2 232.0M462.9 222.7L461.5 219.6M460.8 218.0L454.5 204.1M453.8 202.6L448.2 190.2M499.0 299.2L498.3 297.7M496.2 293.0L495.5 291.5M494.8 289.9L490.6 280.6M488.5 276.0L487.1 272.9M483.6 265.2L479.4 255.9M478.0 252.8L475.9 248.1M471.0 237.3L467.5 229.5M466.1 226.4L463.3 220.2M449.9 190.8L447.1 184.6M501.1 301.1L500.4 299.5M499.0 296.4L493.4 284.0M490.6 277.8L487.8 271.6M483.6 262.3L482.9 260.8M481.5 257.7L479.4 253.0M478.7 251.5L476.6 246.8M473.2 239.1L471.8 236.0M463.4 217.4L462.7 215.8M459.2 208.1L455.7 200.3M450.8 189.5L450.1 187.9M500.8 297.8L499.5 294.7M496.7 288.5L491.8 277.6M491.1 276.1L487.6 268.3M486.9 266.8L486.2 265.2M484.8 262.1L478.6 248.1M477.9 246.6L470.9 231.1M468.8 226.4L468.2 224.9M466.1 220.2L465.4 218.7M464.0 215.6L463.3 214.0M452.8 190.8L451.5 187.7M505.4 305.2L503.3 300.6M502.6 299.0L501.2 295.9M499.9 292.8L499.2 291.3M497.1 286.6L495.0 281.9M493.6 278.8L486.7 263.3M485.3 260.2L481.2 250.9M480.5 249.3L478.4 244.7M475.6 238.5L474.9 236.9M473.5 233.8L472.8 232.3M468.0 221.4L462.5 209.0M455.5 193.5L454.8 191.9M452.1 185.7L451.4 184.1M506.4 304.9L505.8 303.3M505.1 301.7L502.3 295.5M499.5 289.3L496.1 281.5M494.7 278.4L493.3 275.3M492.7 273.8L489.9 267.6M487.1 261.3L483.7 253.6M475.4 234.9L474.7 233.4M471.3 225.6L465.1 211.6M463.0 207.0L458.2 196.1M457.5 194.5L454.0 186.8M504.3 297.3L500.9 289.5M492.6 270.9L487.8 260.0M486.5 256.9L485.8 255.3M484.4 252.2L483.0 249.1M479.6 241.3L475.5 232.0M473.4 227.3L472.7 225.8M457.6 191.5L456.2 188.4M455.6 186.9L454.9 185.3M490.9 264.0L484.7 249.9M483.4 246.8L482.7 245.3M481.3 242.2L474.5 226.6M472.4 221.9L471.7 220.4M471.1 218.8L469.0 214.2M462.9 200.1L461.5 197.0M459.4 192.4L456.0 184.6M494.4 269.1L493.8 267.5M493.1 266.0L481.5 239.5M475.4 225.5L472.0 217.7M470.6 214.6L467.2 206.8M463.8 199.0L463.1 197.4M510.6 303.4L505.9 292.5M499.8 278.5L499.1 276.9M496.4 270.7L495.7 269.1M493.7 264.4L491.0 258.2M486.2 247.3L480.8 234.8M480.1 233.2L477.4 227.0M472.7 216.1L466.6 202.1M464.5 197.4L463.9 195.8M511.8 303.4L506.4 290.9M504.4 286.2L502.4 281.6M501.0 278.4L497.0 269.1M494.3 262.8L492.3 258.2M490.9 255.0L490.2 253.5M489.6 251.9L488.2 248.8M486.9 245.7L486.2 244.1M484.2 239.4L477.4 223.8M476.1 220.7L473.4 214.5M466.0 197.3L463.9 192.6M463.3 191.1L462.6 189.5M505.5 285.8L499.4 271.7M497.4 267.0L496.1 263.9M490.7 251.4L481.9 231.1M477.9 221.7L475.9 217.1M472.5 209.2L469.8 203.0M511.9 297.8L509.2 291.6M508.5 290.0L507.2 286.9M505.8 283.7L501.8 274.4M497.1 263.4L495.8 260.3M486.4 238.4L483.8 232.2M481.1 225.9L479.1 221.2M477.1 216.5L473.7 208.7M468.4 196.2L466.4 191.5M516.0 304.8L515.4 303.2M514.0 300.1L513.4 298.5M511.4 293.8L510.7 292.3M509.4 289.1L508.0 286.0M504.0 276.6L503.4 275.1M500.1 267.2L499.4 265.7M498.1 262.5L495.4 256.3M493.4 251.6L491.4 246.9M490.7 245.3L488.7 240.6M487.4 237.5L485.4 232.8M484.7 231.3L482.7 226.6M480.1 220.3L478.7 217.2M476.1 210.9L474.7 207.8M472.1 201.5L470.1 196.8M469.4 195.3L464.8 184.3M516.0 301.8L514.0 297.1M512.6 294.0L509.3 286.1M506.0 278.3L495.4 253.3M493.4 248.6L489.4 239.2M488.1 236.0L487.5 234.5M485.5 229.8L484.1 226.6M482.8 223.5L476.8 209.4M474.2 203.2L471.5 196.9M511.6 288.7L511.0 287.1M508.3 280.9L505.7 274.6M503.1 268.3L500.4 262.1M498.4 257.4L497.1 254.2M495.8 251.1L491.8 241.7M490.5 238.6L487.2 230.7M484.6 224.5L483.3 221.3M482.6 219.8L481.9 218.2M481.3 216.6L479.3 211.9M478.0 208.8L475.3 202.5M472.0 194.7L469.4 188.4M519.5 304.6L516.2 296.7M512.3 287.3L511.6 285.7M509.7 281.0L508.4 277.9M507.0 274.8L506.4 273.2M505.7 271.6L501.8 262.2M501.1 260.7L500.5 259.1M497.2 251.3L496.5 249.7M495.9 248.1L495.2 246.5M493.9 243.4L492.6 240.3M491.9 238.7L491.3 237.1M489.3 232.4L486.7 226.2M486.0 224.6L476.8 202.6M516.1 293.6L513.5 287.3M512.9 285.7L510.9 281.0M509.6 277.9L508.9 276.3M505.0 266.9L502.4 260.6M501.1 257.5L499.8 254.3M499.1 252.8L497.8 249.6M493.2 238.6L489.3 229.2M487.4 224.5L482.8 213.5M482.1 212.0L480.8 208.8M480.2 207.3L478.9 204.1M477.5 201.0L476.9 199.4M473.0 190.0L471.0 185.3M510.5 277.2L507.3 269.3M504.7 263.0L503.4 259.9M498.2 247.3L496.2 242.6M494.9 239.5L493.6 236.3M492.3 233.2L490.4 228.5M489.7 226.9L485.8 217.5M484.5 214.4L478.6 200.2M473.4 187.7L472.1 184.5M521.4 300.4L520.7 298.8M517.5 291.0L516.8 289.4M515.5 286.2L514.2 283.1M509.7 272.1L508.4 269.0M506.5 264.2L505.8 262.7M505.2 261.1L500.6 250.1M500.0 248.5L498.0 243.8M494.8 236.0L488.3 220.2M487.7 218.7L483.8 209.2M481.2 202.9L480.5 201.4M479.9 199.8L476.0 190.4M475.4 188.8L473.4 184.1M516.8 286.3L514.2 280.0M511.6 273.7L511.0 272.2M504.5 256.4L503.9 254.9M500.0 245.4L498.1 240.7M496.1 236.0L494.2 231.3M491.6 225.0L489.0 218.7M487.8 215.5L480.7 198.2M479.4 195.1L478.1 191.9M476.1 187.2L474.9 184.1M519.0 288.8L518.4 287.3M506.2 257.3L505.5 255.8M504.3 252.6L503.6 251.1M500.4 243.2L493.4 225.9M488.9 214.8L480.5 194.4M522.3 293.8L521.0 290.7M506.9 256.0L505.0 251.3M502.5 245.0L501.8 243.4M499.9 238.7L495.4 227.7M494.8 226.1L487.8 208.8M486.5 205.6L480.7 191.4M523.5 294.0L521.0 287.7M517.8 279.8L516.6 276.7M508.3 256.2L505.7 249.9M503.8 245.1L503.2 243.6M501.3 238.8L500.7 237.3M494.3 221.5L485.4 199.4M484.8 197.8L484.1 196.3M482.2 191.5L481.6 190.0M521.7 286.4L519.2 280.1M509.7 256.4L507.1 250.1M505.2 245.4L504.6 243.8M503.3 240.6L502.7 239.1M502.1 237.5L501.4 235.9M498.3 228.0L495.1 220.1M493.2 215.4L483.7 191.7M511.0 256.6L509.1 251.9M506.0 244.0L504.1 239.3M502.2 234.5L495.9 218.7M494.7 215.6L492.1 209.3M489.0 201.4L482.1 184.0M511.2 253.7L508.0 245.8M507.4 244.2L503.6 234.7M499.9 225.3L497.4 218.9M496.1 215.8L488.6 196.8M513.8 257.2L511.9 252.5M510.7 249.3L510.1 247.7M509.5 246.2L508.8 244.6M507.6 241.4L505.7 236.7M505.1 235.1L498.8 219.3M492.6 203.5L490.7 198.7M490.1 197.1L487.6 190.8M513.3 252.6L511.4 247.8M510.8 246.3L507.7 238.3M504.0 228.9L499.0 216.2M497.8 213.0L495.3 206.7M516.4 257.4L515.8 255.8M510.9 243.1L510.2 241.5M507.2 233.6L502.8 222.5M498.5 211.5L497.3 208.3M496.7 206.7L494.8 202.0M493.6 198.8L490.5 190.9M488.6 186.1L488.0 184.5M505.7 226.4L501.4 215.3M498.3 207.4L496.5 202.7M494.0 196.3L492.2 191.6M520.9 262.5L519.7 259.3M517.9 254.6L516.7 251.4M514.2 245.1L513.6 243.5M512.4 240.3L511.8 238.7M508.7 230.8L506.9 226.0M505.6 222.9L504.4 219.7M503.2 216.5L499.5 207.0M493.4 191.1L491.0 184.8M515.4 244.7L509.3 228.9M505.6 219.3L502.6 211.4M502.0 209.8L499.5 203.5M493.5 187.6L492.8 186.0M522.7 260.5L519.7 252.6M519.0 251.0L516.6 244.6M506.3 217.6L505.7 216.0M497.2 193.8L496.0 190.6M524.0 260.6L521.0 252.7M518.0 244.7L517.3 243.1M513.1 232.0L511.9 228.8M511.3 227.2L509.5 222.5M505.9 212.9L497.5 190.7M523.1 255.1L522.5 253.5M518.3 242.3L517.1 239.2M515.9 236.0L514.1 231.2M503.3 202.6L500.9 196.2M500.3 194.6L499.7 193.0M499.1 191.4L496.7 185.1M520.3 244.1L519.1 240.9M517.9 237.7L517.3 236.1M516.1 233.0L514.9 229.8M500.0 190.0L499.4 188.4M522.5 246.6L521.9 245.0M519.5 238.6L518.4 235.5M516.0 229.1L515.4 227.5M508.3 208.4L505.3 200.4M523.4 245.6L522.8 244.0M517.5 229.7L516.3 226.5M507.5 202.6L506.9 201.0M503.3 191.4L501.0 185.0M523.9 243.4L522.7 240.2M522.1 238.6L521.5 237.0M517.4 225.8L515.7 221.1M507.4 198.7L506.2 195.5M504.5 190.7L502.7 186.0M523.8 236.3L522.7 233.1M513.4 207.5L507.0 189.9M515.1 208.5L513.9 205.3M511.6 198.9L510.5 195.7M507.0 186.1L506.4 184.5M515.6 206.3L515.1 204.7M512.2 196.7L509.9 190.3M522.0 220.2L515.7 202.5M513.4 196.1L511.7 191.3M521.6 215.3L519.3 208.9M517.0 202.5L515.9 199.3M522.6 214.4L520.3 208.0M516.3 196.8L514.1 190.3M523.0 211.9L521.9 208.7M520.8 205.5L518.5 199.1M518.0 197.5L516.3 192.7M518.9 192.4L518.4 190.8M523.1 200.4L521.4 195.6M523.9 190.9L521.7 184.4" stroke="#e6e2e6" stroke-width="1.35" fill="none"/>
<path d="M396.1 300.8L394.3 297.9M392.5 295.0L391.5 293.6M397.5 298.3L395.6 295.5M398.8 295.9L397.9 294.4M395.9 289.0L395.0 287.6M404.4 297.9L403.5 296.4M393.2 263.3L391.5 260.4M398.5 267.1L397.6 265.6M399.7 266.6L398.8 265.2M397.9 263.7L397.1 262.3M395.3 259.4L394.4 257.9M415.6 283.5L413.8 280.6M407.8 270.3L406.9 268.9M428.7 303.4L427.8 302.0M399.4 253.6L397.7 250.7M403.5 255.6L401.8 252.6M429.1 287.5L428.3 286.0M415.6 263.9L414.8 262.4M397.5 229.4L395.8 226.5M421.0 265.8L420.2 264.3M392.6 215.4L391.8 214.0M395.4 214.9L394.6 213.4M393.8 211.9L392.9 210.4M399.6 219.5L397.9 216.6M397.1 215.1L396.3 213.6M403.2 223.3L402.4 221.8M397.4 212.9L395.0 208.4M414.9 241.7L414.0 240.2M400.1 214.9L399.3 213.4M394.5 201.9L392.1 197.5M423.9 252.9L423.1 251.4M406.8 221.6L406.0 220.1M403.5 215.6L402.7 214.1M399.5 208.1L397.8 205.2M409.9 224.6L408.3 221.6M406.7 218.6L405.1 215.6M401.0 208.1L399.4 205.1M438.0 273.6L434.8 267.7M402.4 207.8L400.0 203.4M403.4 206.8L401.0 202.3M438.9 270.1L438.1 268.6M428.4 250.6L427.6 249.1M404.3 205.7L403.5 204.2M401.9 201.2L399.5 196.7M433.3 257.1L431.7 254.1M410.9 215.1L410.1 213.6M403.7 201.6L402.9 200.1M402.1 198.6L401.3 197.1M459.7 304.2L458.1 301.2M408.7 208.1L407.9 206.6M403.9 199.1L402.3 196.1M399.9 191.6L399.1 190.1M424.6 235.3L423.8 233.8M413.5 214.3L412.7 212.8M410.3 208.3L408.7 205.3M457.9 295.7L457.1 294.2M417.5 219.0L416.7 217.5M412.7 209.9L411.2 206.9M463.7 304.3L461.4 299.8M460.6 298.3L458.2 293.8M457.4 292.3L452.7 283.3M419.5 220.0L418.8 218.5M415.6 212.5L414.8 211.0M448.9 273.5L448.2 272.0M444.2 264.5L443.4 263.0M412.0 202.7L411.2 201.2M410.4 199.7L409.6 198.2M456.5 285.5L455.7 284.0M420.5 216.1L419.7 214.6M416.6 208.5L415.8 207.0M414.2 204.0L411.9 199.5M418.2 208.7L416.6 205.7M415.8 204.2L413.5 199.7M455.7 278.8L453.4 274.3M420.7 210.8L418.4 206.2M414.5 198.7L413.7 197.2M427.2 220.5L422.6 211.4M420.2 206.9L418.7 203.8M420.2 203.8L419.4 202.3M412.5 188.6L411.7 187.1M459.7 278.8L459.0 277.3M439.8 239.4L438.2 236.4M466.7 289.9L465.9 288.3M462.1 280.8L459.8 276.2M436.0 229.2L434.5 226.1M427.6 212.5L426.8 210.9M415.3 188.2L413.8 185.1M452.2 258.4L451.4 256.9M420.9 196.1L420.1 194.6M466.7 284.8L466.0 283.2M465.2 281.7L464.4 280.2M453.3 252.5L452.6 250.9M427.7 200.7L426.9 199.1M463.6 264.9L462.8 263.4M473.5 282.7L472.8 281.2M481.3 296.1L480.6 294.6M481.6 294.1L480.9 292.6M470.0 267.2L469.3 265.7M469.7 263.7L468.9 262.1M462.6 245.9L461.8 244.3M445.1 209.0L442.2 202.8M458.6 234.4L457.8 232.9M470.0 252.9L469.2 251.3M445.5 200.5L444.8 199.0M453.3 214.0L452.6 212.5M449.0 204.8L447.5 201.7M445.5 194.2L442.7 188.0M452.3 205.6L451.6 204.1M471.8 245.0L470.3 241.9M464.0 228.0L463.3 226.5M480.6 261.4L476.3 252.1M495.5 291.5L494.8 289.9M451.5 187.7L450.1 184.6M493.3 275.3L492.7 273.8M473.3 230.3L472.6 228.7M459.7 196.2L459.0 194.7M500.5 285.7L499.8 284.2M496.4 276.4L495.7 274.9M464.9 204.8L464.2 203.3M461.1 192.8L457.7 185.0M511.3 305.0L510.6 303.4M460.5 188.0L459.1 184.9M502.4 281.6L501.0 278.4M461.2 186.4L460.6 184.8M512.9 302.9L511.5 299.8M498.7 270.1L498.1 268.6M493.1 254.1L491.8 250.9M483.3 221.3L482.6 219.8M520.7 304.6L516.8 295.1M507.8 264.3L505.2 258.0M501.9 250.1L501.3 248.6M523.6 291.1L521.7 286.4M504.6 243.8L503.3 240.6M523.6 288.2L523.0 286.6M492.1 209.3L491.5 207.7M523.1 283.7L522.4 282.2M511.4 247.8L510.8 246.3M518.3 262.1L517.7 260.5M519.2 261.3L518.0 258.1M506.9 226.0L506.3 224.5M508.7 227.3L508.1 225.7M507.5 224.1L505.6 219.3M494.1 189.2L493.5 187.6M516.6 244.6L513.6 236.7M510.0 227.2L506.3 217.6M512.3 226.4L511.7 224.8M514.9 229.8L507.2 209.1M502.4 196.3L501.2 193.2M514.8 225.9L513.6 222.7M511.2 216.3L509.5 211.6M522.8 244.0L522.2 242.4M519.9 236.0L519.3 234.4M515.7 224.9L515.1 223.3M504.5 194.6L503.3 191.4M505.7 193.9L505.1 192.3M523.6 239.2L521.3 232.8M518.0 220.3L517.4 218.7M505.8 186.7L505.2 185.1M508.7 190.9L507.0 186.1M514.5 203.1L513.9 201.5M515.7 202.5L513.4 196.1M513.0 191.3L510.7 184.9M519.5 198.0L518.9 196.4M516.7 189.9L515.0 185.1M523.6 198.1L522.0 193.2M524.0 195.2L520.1 183.9" stroke="#0096b4" stroke-width="1.35" fill="none"/>
<path d="M494.4 305.2L493.7 303.7M494.1 301.9L493.4 300.4M496.9 305.3L494.0 299.1M497.7 304.5L496.3 301.4M499.3 305.3L496.5 299.1M499.6 303.1L498.9 301.6M498.2 300.0L497.5 298.5M499.7 300.8L499.0 299.2M519.2 280.1L517.9 276.9M520.5 280.3L518.6 275.6M520.6 277.4L517.4 269.5M523.8 276.4L520.8 268.5M515.7 221.1L514.5 217.9M512.7 213.1L511.5 209.9M516.6 220.1L516.0 218.5M517.4 218.7L514.0 209.1M517.9 212.7L517.4 211.1" stroke="#00c000" stroke-width="1.35" fill="none"/>
<path d="M495.5 305.0L494.1 301.9M518.6 275.6L518.0 274.0M521.8 280.6L520.6 277.4M513.0 221.1L512.4 219.5M513.4 218.5L511.6 213.7M514.3 213.7L512.5 208.9M517.4 214.9L515.7 210.1" stroke="#008000" stroke-width="1.35" fill="none"/>
</g>
<rect x="392.0" y="185.5" width="132.0" height="120.0" fill="none" stroke="#3a3a3a" stroke-width="0.7"/>
<text x="458.00" y="182.80" font-size="6.8" text-anchor="middle" textLength="70.47" lengthAdjust="spacingAndGlyphs" >Velocity spectrum width</text>
<line x1="406.67" y1="305.5" x2="406.67" y2="307.7" stroke="#3a3a3a" stroke-width="0.6"/>
<text x="406.67" y="312.60" font-size="5.7" text-anchor="middle" textLength="6.04" lengthAdjust="spacingAndGlyphs" >20</text>
<line x1="436.00" y1="305.5" x2="436.00" y2="307.7" stroke="#3a3a3a" stroke-width="0.6"/>
<text x="436.00" y="312.60" font-size="5.7" text-anchor="middle" textLength="6.04" lengthAdjust="spacingAndGlyphs" >30</text>
<line x1="465.33" y1="305.5" x2="465.33" y2="307.7" stroke="#3a3a3a" stroke-width="0.6"/>
<text x="465.33" y="312.60" font-size="5.7" text-anchor="middle" textLength="6.04" lengthAdjust="spacingAndGlyphs" >40</text>
<line x1="494.67" y1="305.5" x2="494.67" y2="307.7" stroke="#3a3a3a" stroke-width="0.6"/>
<text x="494.67" y="312.60" font-size="5.7" text-anchor="middle" textLength="6.04" lengthAdjust="spacingAndGlyphs" >50</text>
<line x1="524.00" y1="305.5" x2="524.00" y2="307.7" stroke="#3a3a3a" stroke-width="0.6"/>
<text x="524.00" y="312.60" font-size="5.7" text-anchor="middle" textLength="6.04" lengthAdjust="spacingAndGlyphs" >60</text>
<text x="458.00" y="320.40" font-size="5.7" text-anchor="middle" textLength="13.80" lengthAdjust="spacingAndGlyphs" >x/km</text>
<line x1="389.80" y1="305.50" x2="392.0" y2="305.50" stroke="#3a3a3a" stroke-width="0.6"/>
<text x="389.00" y="307.50" font-size="5.7" text-anchor="end" textLength="3.02" lengthAdjust="spacingAndGlyphs" >5</text>
<line x1="389.80" y1="285.50" x2="392.0" y2="285.50" stroke="#3a3a3a" stroke-width="0.6"/>
<text x="389.00" y="287.50" font-size="5.7" text-anchor="end" textLength="6.04" lengthAdjust="spacingAndGlyphs" >10</text>
<line x1="389.80" y1="265.50" x2="392.0" y2="265.50" stroke="#3a3a3a" stroke-width="0.6"/>
<text x="389.00" y="267.50" font-size="5.7" text-anchor="end" textLength="6.04" lengthAdjust="spacingAndGlyphs" >15</text>
<line x1="389.80" y1="245.50" x2="392.0" y2="245.50" stroke="#3a3a3a" stroke-width="0.6"/>
<text x="389.00" y="247.50" font-size="5.7" text-anchor="end" textLength="6.04" lengthAdjust="spacingAndGlyphs" >20</text>
<line x1="389.80" y1="225.50" x2="392.0" y2="225.50" stroke="#3a3a3a" stroke-width="0.6"/>
<text x="389.00" y="227.50" font-size="5.7" text-anchor="end" textLength="6.04" lengthAdjust="spacingAndGlyphs" >25</text>
<line x1="389.80" y1="205.50" x2="392.0" y2="205.50" stroke="#3a3a3a" stroke-width="0.6"/>
<text x="389.00" y="207.50" font-size="5.7" text-anchor="end" textLength="6.04" lengthAdjust="spacingAndGlyphs" >30</text>
<line x1="389.80" y1="185.50" x2="392.0" y2="185.50" stroke="#3a3a3a" stroke-width="0.6"/>
<text x="389.00" y="187.50" font-size="5.7" text-anchor="end" textLength="6.04" lengthAdjust="spacingAndGlyphs" >35</text>
<text x="0.00" y="0.00" font-size="5.7" text-anchor="middle" textLength="13.80" lengthAdjust="spacingAndGlyphs" transform="translate(379.70,245.50) rotate(-90)">y/km</text>
<rect x="531.3" y="297.50" width="6.3" height="8.25" fill="#7a0080"/>
<rect x="531.3" y="289.50" width="6.3" height="8.25" fill="#e6e2e6"/>
<rect x="531.3" y="281.50" width="6.3" height="8.25" fill="#90e0ec"/>
<rect x="531.3" y="273.50" width="6.3" height="8.25" fill="#08e2ea"/>
<rect x="531.3" y="265.50" width="6.3" height="8.25" fill="#0096b4"/>
<rect x="531.3" y="257.50" width="6.3" height="8.25" fill="#00f0f0"/>
<rect x="531.3" y="249.50" width="6.3" height="8.25" fill="#00c000"/>
<rect x="531.3" y="241.50" width="6.3" height="8.25" fill="#008000"/>
<rect x="531.3" y="233.50" width="6.3" height="8.25" fill="#ffff00"/>
<rect x="531.3" y="225.50" width="6.3" height="8.25" fill="#ffc800"/>
<rect x="531.3" y="217.50" width="6.3" height="8.25" fill="#ff7800"/>
<rect x="531.3" y="209.50" width="6.3" height="8.25" fill="#ffb0b0"/>
<rect x="531.3" y="201.50" width="6.3" height="8.25" fill="#ff6464"/>
<rect x="531.3" y="193.50" width="6.3" height="8.25" fill="#d02020"/>
<rect x="531.3" y="185.50" width="6.3" height="8.25" fill="#ff0000"/>
<rect x="531.3" y="185.5" width="6.3" height="120.0" fill="none" stroke="#555" stroke-width="0.5"/>
<line x1="537.5999999999999" y1="305.50" x2="539.40" y2="305.50" stroke="#3a3a3a" stroke-width="0.5"/>
<text x="540.60" y="307.50" font-size="5.7" text-anchor="start" textLength="6.03" lengthAdjust="spacingAndGlyphs" >RF</text>
<line x1="537.5999999999999" y1="297.50" x2="539.40" y2="297.50" stroke="#3a3a3a" stroke-width="0.5"/>
<text x="540.60" y="299.50" font-size="5.7" text-anchor="start" textLength="3.02" lengthAdjust="spacingAndGlyphs" >0</text>
<line x1="537.5999999999999" y1="289.50" x2="539.40" y2="289.50" stroke="#3a3a3a" stroke-width="0.5"/>
<text x="540.60" y="291.50" font-size="5.7" text-anchor="start" textLength="3.02" lengthAdjust="spacingAndGlyphs" >1</text>
<line x1="537.5999999999999" y1="281.50" x2="539.40" y2="281.50" stroke="#3a3a3a" stroke-width="0.5"/>
<text x="540.60" y="283.50" font-size="5.7" text-anchor="start" textLength="3.02" lengthAdjust="spacingAndGlyphs" >2</text>
<line x1="537.5999999999999" y1="273.50" x2="539.40" y2="273.50" stroke="#3a3a3a" stroke-width="0.5"/>
<text x="540.60" y="275.50" font-size="5.7" text-anchor="start" textLength="3.02" lengthAdjust="spacingAndGlyphs" >3</text>
<line x1="537.5999999999999" y1="265.50" x2="539.40" y2="265.50" stroke="#3a3a3a" stroke-width="0.5"/>
<text x="540.60" y="267.50" font-size="5.7" text-anchor="start" textLength="3.02" lengthAdjust="spacingAndGlyphs" >4</text>
<line x1="537.5999999999999" y1="257.50" x2="539.40" y2="257.50" stroke="#3a3a3a" stroke-width="0.5"/>
<text x="540.60" y="259.50" font-size="5.7" text-anchor="start" textLength="3.02" lengthAdjust="spacingAndGlyphs" >5</text>
<line x1="537.5999999999999" y1="249.50" x2="539.40" y2="249.50" stroke="#3a3a3a" stroke-width="0.5"/>
<text x="540.60" y="251.50" font-size="5.7" text-anchor="start" textLength="3.02" lengthAdjust="spacingAndGlyphs" >6</text>
<line x1="537.5999999999999" y1="241.50" x2="539.40" y2="241.50" stroke="#3a3a3a" stroke-width="0.5"/>
<text x="540.60" y="243.50" font-size="5.7" text-anchor="start" textLength="3.02" lengthAdjust="spacingAndGlyphs" >7</text>
<line x1="537.5999999999999" y1="233.50" x2="539.40" y2="233.50" stroke="#3a3a3a" stroke-width="0.5"/>
<text x="540.60" y="235.50" font-size="5.7" text-anchor="start" textLength="3.02" lengthAdjust="spacingAndGlyphs" >8</text>
<line x1="537.5999999999999" y1="225.50" x2="539.40" y2="225.50" stroke="#3a3a3a" stroke-width="0.5"/>
<text x="540.60" y="227.50" font-size="5.7" text-anchor="start" textLength="3.02" lengthAdjust="spacingAndGlyphs" >9</text>
<line x1="537.5999999999999" y1="217.50" x2="539.40" y2="217.50" stroke="#3a3a3a" stroke-width="0.5"/>
<text x="540.60" y="219.50" font-size="5.7" text-anchor="start" textLength="6.04" lengthAdjust="spacingAndGlyphs" >10</text>
<line x1="537.5999999999999" y1="209.50" x2="539.40" y2="209.50" stroke="#3a3a3a" stroke-width="0.5"/>
<text x="540.60" y="211.50" font-size="5.7" text-anchor="start" textLength="6.04" lengthAdjust="spacingAndGlyphs" >11</text>
<line x1="537.5999999999999" y1="201.50" x2="539.40" y2="201.50" stroke="#3a3a3a" stroke-width="0.5"/>
<text x="540.60" y="203.50" font-size="5.7" text-anchor="start" textLength="6.04" lengthAdjust="spacingAndGlyphs" >12</text>
<line x1="537.5999999999999" y1="193.50" x2="539.40" y2="193.50" stroke="#3a3a3a" stroke-width="0.5"/>
<text x="540.60" y="195.50" font-size="5.7" text-anchor="start" textLength="6.04" lengthAdjust="spacingAndGlyphs" >13</text>
<line x1="537.5999999999999" y1="185.50" x2="539.40" y2="185.50" stroke="#3a3a3a" stroke-width="0.5"/>
<text x="540.60" y="187.50" font-size="5.7" text-anchor="start" textLength="6.04" lengthAdjust="spacingAndGlyphs" >63</text>
<text x="538.80" y="311.80" font-size="5.7" text-anchor="middle" textLength="8.61" lengthAdjust="spacingAndGlyphs" >m/s</text>
</svg>
</body></html>
